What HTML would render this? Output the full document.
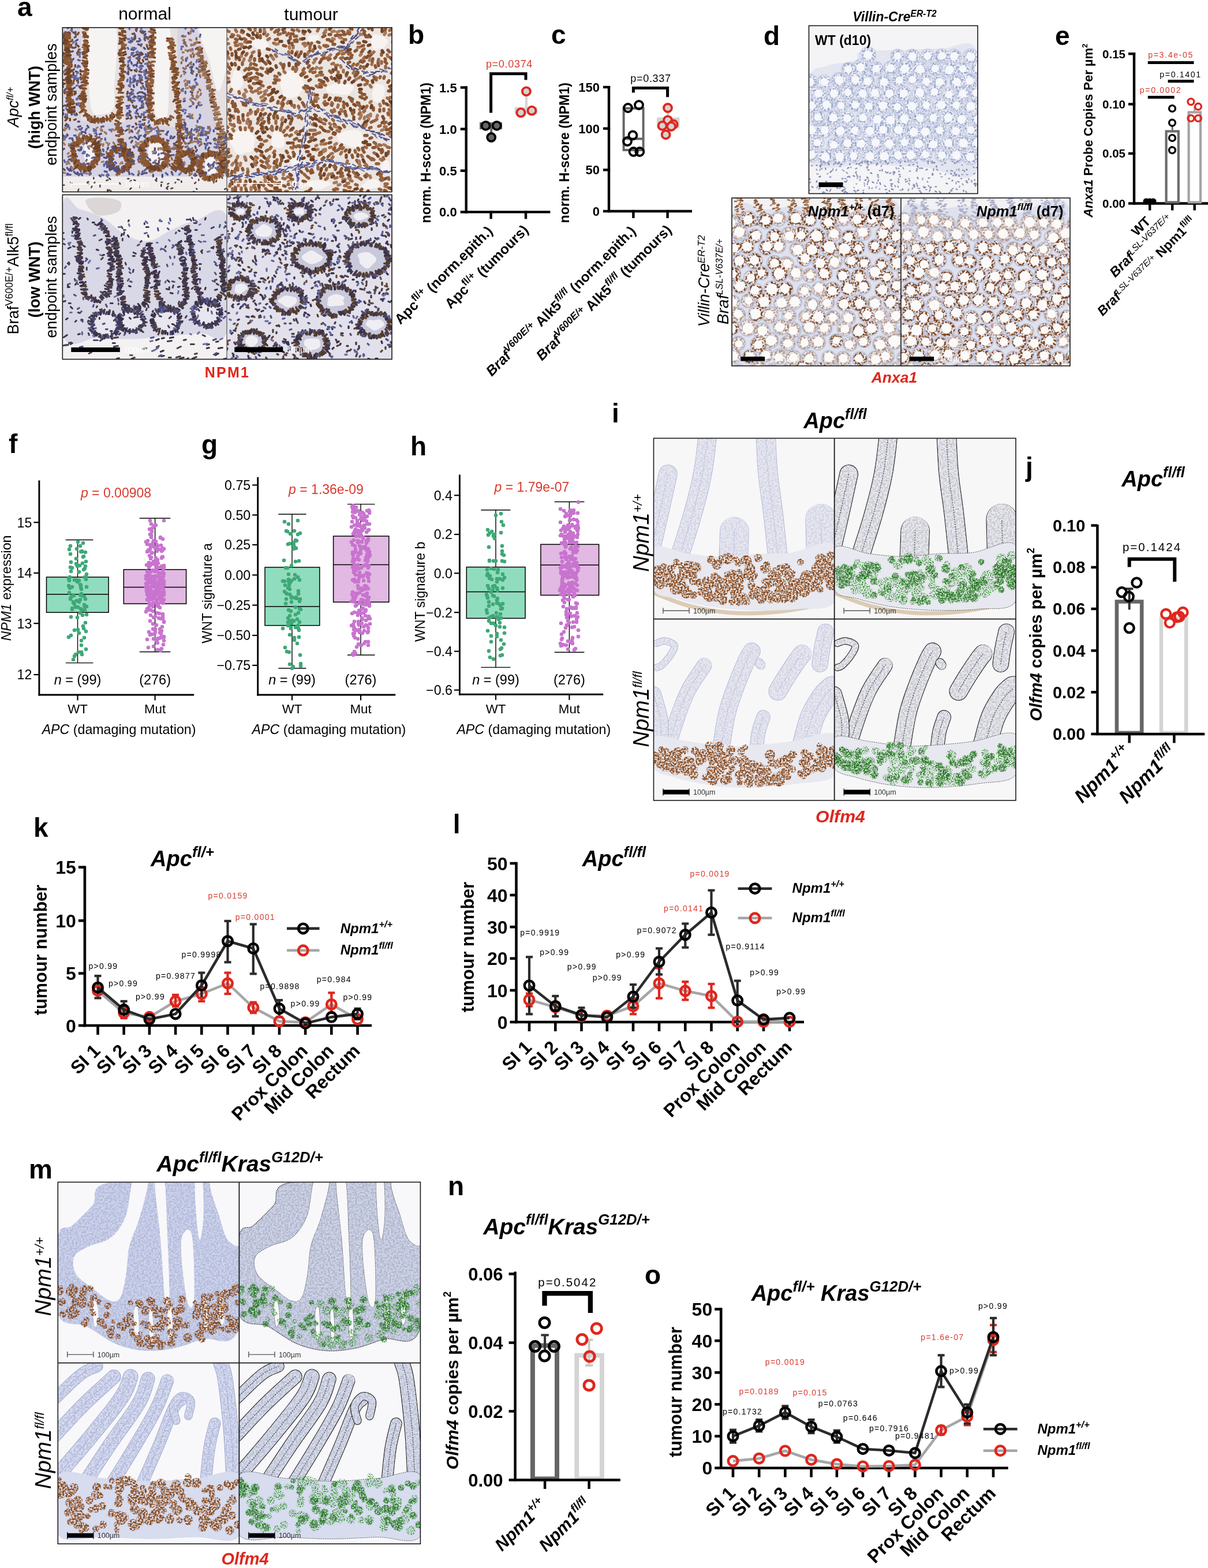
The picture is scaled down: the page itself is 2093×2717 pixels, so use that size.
<!DOCTYPE html>
<html><head><meta charset="utf-8"><title>Figure</title>
<style>
html,body{margin:0;padding:0;background:#fff;}
body{width:2093px;height:2717px;overflow:hidden;}
svg{display:block;font-family:'Liberation Sans', Arial, sans-serif;}
</style></head><body>
<svg width="2093" height="2717" viewBox="0 0 2093 2717">
<defs><clipPath id="cA1"><rect x="108.30" y="47.80" width="284.70" height="284.70"/></clipPath><clipPath id="cA2"><rect x="393.00" y="47.80" width="286.00" height="284.70"/></clipPath><clipPath id="cA3"><rect x="108.30" y="337.50" width="284.70" height="285.00"/></clipPath><clipPath id="cA4"><rect x="393.00" y="337.50" width="286.00" height="285.00"/></clipPath><filter id="spk" x="-0.2" y="-0.5" width="1.4" height="2">
 <feTurbulence type="fractalNoise" baseFrequency="0.32" numOctaves="2" seed="4" result="t"/>
 <feColorMatrix in="t" type="matrix" values="0 0 0 0 0  0 0 0 0 0  0 0 0 0 0  1 0 0 0 0" result="a"/>
 <feComponentTransfer in="a" result="m"><feFuncA type="linear" slope="5" intercept="-2.1"/></feComponentTransfer>
 <feComposite in="SourceGraphic" in2="m" operator="in"/>
</filter>
<filter id="spk2" x="-0.2" y="-0.5" width="1.4" height="2">
 <feTurbulence type="fractalNoise" baseFrequency="0.28" numOctaves="2" seed="9" result="t"/>
 <feColorMatrix in="t" type="matrix" values="0 0 0 0 0  0 0 0 0 0  0 0 0 0 0  1 0 0 0 0" result="a"/>
 <feComponentTransfer in="a" result="m"><feFuncA type="linear" slope="6" intercept="-2.6"/></feComponentTransfer>
 <feComposite in="SourceGraphic" in2="m" operator="in"/>
</filter>
<clipPath id="cD1"><rect x="1401.50" y="44.50" width="292.50" height="291.00"/></clipPath><clipPath id="cD2"><rect x="1268.00" y="343.00" width="293.00" height="291.00"/></clipPath><clipPath id="cD3"><rect x="1561.00" y="343.00" width="293.00" height="291.00"/></clipPath><filter id="spk3" x="-0.2" y="-0.5" width="1.4" height="2">
 <feTurbulence type="fractalNoise" baseFrequency="0.35" numOctaves="2" seed="12" result="t"/>
 <feColorMatrix in="t" type="matrix" values="0 0 0 0 0  0 0 0 0 0  0 0 0 0 0  1 0 0 0 0" result="a"/>
 <feComponentTransfer in="a" result="m"><feFuncA type="linear" slope="4" intercept="-1.45"/></feComponentTransfer>
 <feComposite in="SourceGraphic" in2="m" operator="in"/>
</filter>
<filter id="spk4" x="-0.2" y="-0.5" width="1.4" height="2">
 <feTurbulence type="fractalNoise" baseFrequency="0.5" numOctaves="1" seed="31" result="t"/>
 <feColorMatrix in="t" type="matrix" values="0 0 0 0 0  0 0 0 0 0  0 0 0 0 0  1 0 0 0 0" result="a"/>
 <feComponentTransfer in="a" result="m"><feFuncA type="linear" slope="5" intercept="-2.3"/></feComponentTransfer>
 <feComposite in="SourceGraphic" in2="m" operator="in"/>
</filter>
<clipPath id="cI1"><rect x="1132.50" y="759.40" width="313.20" height="313.30"/></clipPath><clipPath id="cI2"><rect x="1445.70" y="759.40" width="314.30" height="313.30"/></clipPath><clipPath id="cI3"><rect x="1132.50" y="1072.70" width="313.20" height="314.30"/></clipPath><clipPath id="cI4"><rect x="1445.70" y="1072.70" width="314.30" height="314.30"/></clipPath><clipPath id="cM1"><rect x="100.30" y="2048.40" width="314.10" height="313.20"/></clipPath><clipPath id="cM2"><rect x="414.40" y="2048.40" width="314.00" height="313.20"/></clipPath><clipPath id="cM3"><rect x="100.30" y="2361.60" width="314.10" height="313.60"/></clipPath><clipPath id="cM4"><rect x="414.40" y="2361.60" width="314.00" height="313.60"/></clipPath></defs>
<rect width="2093" height="2717" fill="#fff"/>
<g clip-path="url(#cA1)">
<rect x="108.30" y="47.80" width="284.70" height="284.70" fill="#e6e0e0" stroke="none" stroke-width="0" />
<path d="M108.3,47.8 C113.3,19.5 133.0,21.1 138.3,47.8 C143.6,74.5 145.3,179.5 140.3,207.8 C135.3,236.1 113.6,244.5 108.3,217.8 C103.0,191.1 103.3,76.1 108.3,47.8 Z" fill="#d6d3e3" stroke="none" stroke-width="0" />
<path d="M218.3,47.8 C225.3,21.1 251.6,19.5 258.3,47.8 C265.0,76.1 263.3,184.5 258.3,217.8 C253.3,251.1 235.3,249.5 228.3,247.8 C221.3,246.1 218.0,241.1 216.3,207.8 C214.6,174.5 211.3,74.5 218.3,47.8 Z" fill="#d6d3e3" stroke="none" stroke-width="0" />
<path d="M308.3,47.8 C312.8,22.8 330.0,22.8 340.3,47.8 C350.6,72.8 362.3,156.1 370.3,197.8 C378.3,239.5 396.1,279.5 388.3,297.8 C380.5,316.1 335.8,324.5 323.3,307.8 C310.8,291.1 315.8,241.1 313.3,197.8 C310.8,154.5 303.8,72.8 308.3,47.8 Z" fill="#d6d3e3" stroke="none" stroke-width="0" />
<path d="M108.3,212.8 C155.8,200.8 345.8,221.6 393.3,237.8 C440.8,254.0 440.8,297.8 393.3,309.8 C345.8,321.8 155.8,326.0 108.3,309.8 C60.8,293.6 60.8,224.8 108.3,212.8 Z" fill="#d6d3e3" stroke="none" stroke-width="0" />
<path d="M155.3,47.8 C163.0,31.1 193.1,31.1 200.3,47.8 C207.5,64.5 199.0,124.5 198.3,147.8 C197.6,171.1 199.6,179.5 196.3,187.8 C193.0,196.1 184.3,196.8 178.3,197.8 C172.3,198.8 164.3,202.1 160.3,193.8 C156.3,185.5 155.1,172.1 154.3,147.8 C153.5,123.5 147.6,64.5 155.3,47.8 Z" fill="#f6f4f3" stroke="none" stroke-width="0" />
<path d="M270.3,47.8 C274.6,34.5 290.6,31.1 294.3,47.8 C298.0,64.5 293.0,122.8 292.3,147.8 C291.6,172.8 292.6,188.5 290.3,197.8 C288.0,207.1 282.0,204.5 278.3,203.8 C274.6,203.1 270.0,206.5 268.3,193.8 C266.6,181.1 268.0,152.1 268.3,127.8 C268.6,103.5 266.0,61.1 270.3,47.8 Z" fill="#f6f4f3" stroke="none" stroke-width="0" />
<path d="M346.3,47.8 C351.3,37.8 385.5,37.8 393.3,47.8 C401.1,57.8 395.8,89.5 393.3,107.8 C390.8,126.1 383.3,157.8 378.3,157.8 C373.3,157.8 368.6,126.1 363.3,107.8 C358.0,89.5 341.3,57.8 346.3,47.8 Z" fill="#f6f4f3" stroke="none" stroke-width="0" />
<path d="M146.3,252.8 C148.3,247.5 157.5,244.5 160.3,247.8 C163.1,251.1 165.3,267.5 163.3,272.8 C161.3,278.1 151.1,283.1 148.3,279.8 C145.5,276.5 144.3,258.1 146.3,252.8 Z" fill="#f6f4f3" stroke="none" stroke-width="0" />
<path d="M258.3,252.8 C261.3,247.5 274.1,243.6 278.3,247.8 C282.5,252.0 286.3,272.5 283.3,277.8 C280.3,283.1 264.5,284.0 260.3,279.8 C256.1,275.6 255.3,258.1 258.3,252.8 Z" fill="#f6f4f3" stroke="none" stroke-width="0" />
<path d="M356.3,277.8 C358.3,273.5 367.3,270.5 370.3,273.8 C373.3,277.1 376.3,293.5 374.3,297.8 C372.3,302.1 361.3,303.1 358.3,299.8 C355.3,296.5 354.3,282.1 356.3,277.8 Z" fill="#f6f4f3" stroke="none" stroke-width="0" />
<rect x="108.30" y="305.80" width="284.70" height="27.00" fill="#efeceb" stroke="none" stroke-width="0" />
<g transform="translate(108.3,47.8)" fill="none" stroke-linecap="round" >
<path d="M31 74l0 2M11 8l2 2M19 78l0 4M27 90l-2 2M4 9l2 -1M26 31l2 2M32 82l-1 -2M11 127l0 2M21 137l0 2M17 117l-3 -2M4 91l-3 0M22 65l0 3M7 159l-2 2M22 8l-3 1M7 94l2 -2M5 170l2 -3M20 143l-2 2M16 76l-2 0M23 114l-2 1M29 43l-2 -2M11 133l2 0M5 51l-2 1M24 132l1 2M24 149l1 2M30 118l-2 2M4 97l-3 2M20 131l-2 2M3 112l1 2M16 113l0 4M2 44l2 2M14 53l-1 2M32 119l-2 -1M22 113l-1 3M13 158l0 3M29 102l2 3M124 35l0 3M113 111l-1 4M148 116l1 3M143 121l0 4M139 113l3 1M131 56l2 2M137 44l2 2M118 74l2 0M127 166l1 2M111 158l3 -1M148 37l2 0M143 115l1 3M128 47l4 0M139 56l1 3M116 150l2 3M120 112l0 4M134 61l3 1M147 55l-3 0M116 72l-2 0M137 29l-1 3M135 46l3 1M125 74l3 2M141 156l3 -1" stroke="#6e4226" stroke-width="3.4"/>
<path d="M21 17l2 -1M18 106l3 -2M21 86l1 3M15 131l-1 3M16 4l-1 1M31 86l1 4M5 156l3 -1M4 135l2 0M1 148l0 3M2 26l-3 3M2 14l2 3M10 123l1 2M16 42l2 -1M148 100l-1 2M111 136l3 0M117 56l-1 2M123 137l1 2M145 130l0 2M147 92l-1 3M148 79l-1 -2M144 117l-2 -2M135 46l-1 3M147 48l0 3M121 24l-3 -1M121 44l-1 2M130 142l-2 3M115 124l-1 -2M151 169l-3 3M143 7l-2 1M148 44l1 3M145 18l1 -1M130 60l0 2M117 93l1 2M119 113l-3 1M136 96l3 1M115 100l2 2M138 9l2 1M119 60l1 3M150 130l-2 2M141 152l-4 -2M118 123l0 4M144 11l-2 3M125 65l-2 1M129 2l-1 2M144 74l1 4M131 29l3 1M148 88l-3 0M136 169l-2 3M128 136l-1 3M129 97l0 3M121 172l2 0M137 129l2 -2M137 66l2 1M125 89l1 2M128 64l1 3M119 38l3 0M233 81l-1 3M219 183l3 3M231 89l-2 2M226 77l-2 -1M212 127l-2 1M237 68l3 0M233 136l-1 3M217 66l1 -1M225 75l-2 -2M227 63l0 2M215 189l0 3M237 158l1 -2M211 164l2 3M101 219l-3 -1M94 215l1 2M132 253l-1 3M133 190l-2 4M197 244l3 0M207 239l2 2M39 181l1 2M245 224l3 -3M109 200l1 3M79 208l-1 3M246 201l2 2M209 235l-1 2M188 188l-1 4M230 206l1 3M166 236l-4 0M173 255l0 4M135 172l2 2M238 185l4 1M136 170l-2 3M252 238l1 -2M246 221l-4 -2M81 243l1 4M220 200l-3 1M209 194l1 3M271 202l4 0M265 222l-1 4M14 228l-3 1M224 215l-2 1M150 172l-1 3M78 238l-1 4M255 200l2 1M32 249l-2 -3M247 253l-2 3M189 250l1 3M33 208l-1 4M63 197l1 4M230 257l2 -1M28 230l0 4M203 191l-1 3M234 177l-3 0M155 195l-1 2M157 255l0 3M270 196l-1 2M10 169l0 3M15 241l-1 3M181 183l2 -3M271 247l-2 -1M76 226l-4 -1M8 233l0 3M121 181l-1 -2M160 196l0 2M152 193l-2 2M125 189l3 3M206 210l0 3M26 251l1 2M246 186l3 0M271 169l0 4M120 230l4 1M240 248l-3 -1M272 217l2 4M182 220l1 -2M162 216l-1 2M77 232l-2 2M9 253l-1 2M269 208l-3 0M160 247l-4 0M151 228l1 2M114 216l-1 2M278 190l-2 2M116 181l3 -3M62 203l-3 -1M66 258l-2 -2M173 238l0 2M49 253l-2 2M196 249l2 -4M104 251l-4 -2M42 199l0 2M73 249l4 1" stroke="#4c4f86" stroke-width="3.4"/>
<path d="M16 149l0 2M16 59l-2 3M13 129l0 3M29 163l-2 0M4 53l4 0M21 35l-3 0M23 34l-2 1M21 143l0 3M20 72l-3 3M13 85l2 1M0 144l2 -1M6 106l-3 3M25 125l0 -2M2 136l-2 0M27 93l0 3M15 106l-3 1M10 27l-2 -1M12 32l-2 2M26 21l-3 2M24 27l-1 3M23 76l3 1M23 8l-2 1M123 100l1 3M141 120l-2 0M145 101l1 2M112 119l4 1M142 20l1 2M145 76l0 -3M124 10l1 2M149 151l-1 3M123 92l2 1M131 92l-2 1M125 16l-1 3M133 112l-3 2M116 144l1 2M133 24l-4 0M111 151l2 -3M150 174l-4 1M134 119l-3 0M135 47l-2 3M136 43l-2 1M135 91l0 3M144 85l1 2M114 65l-1 3M118 146l-2 0M126 14l0 4M125 37l-2 2M112 79l2 2M131 150l-2 -2M120 156l-2 2M124 119l3 1M134 53l-1 2M114 76l0 3M134 124l2 -2M141 35l2 2M150 105l-2 -1M139 6l-1 3M137 138l-3 2M136 123l0 -3M136 154l-1 2M126 48l-3 2M145 98l3 2M138 112l-3 0M133 154l-2 0M225 68l-4 1M214 54l0 4M225 186l-2 -3M211 169l2 0M216 175l-3 2M218 9l1 2M223 68l1 2M221 189l-1 2M219 154l-3 0M225 80l-2 -2M236 59l3 0M225 113l-3 -2M216 180l0 3M145 222l3 4M141 214l3 -1M193 201l1 2M8 243l2 3M201 188l-2 -3M21 244l-2 2M262 194l2 -2M41 249l-2 1M31 171l-4 1M14 246l-4 0M194 189l-3 3M261 239l-2 -1M33 237l-2 -1M242 183l-2 -1M243 185l-4 2M199 197l-2 2M263 256l-3 -1M233 212l-2 3M181 195l3 1M205 242l-2 1M2 245l2 2M135 222l-3 3M262 178l0 2M102 173l1 3M201 241l-2 4M272 170l2 3M167 231l0 3M90 208l1 4M150 192l-1 2M24 235l-1 2M216 177l-1 3M180 202l0 4M144 185l-2 2M64 185l3 -1M16 248l-4 0M140 253l-3 1M203 193l-3 -3M23 253l3 1M66 193l2 0M112 177l-3 2M33 253l1 3M205 185l1 4M249 251l-1 4M279 217l0 3M3 210l-2 1M27 193l-3 -3M0 186l2 2M283 185l4 -1M240 255l-3 0M46 236l-3 0M261 216l4 0M175 217l2 2M78 222l-1 3M102 221l-3 3M168 239l-3 -1M17 192l1 4M141 188l2 2M285 203l-1 4M282 188l3 2M252 189l0 3M153 245l2 3M223 192l1 3M139 209l2 -1M17 218l3 0M123 206l1 2M27 212l3 1M53 194l0 3M279 211l-2 2M282 218l-2 1M83 238l-4 1M275 189l-1 4M276 243l-3 1M153 175l3 1M8 185l1 2M249 183l0 3M43 170l2 3M99 197l-2 1M121 196l-2 3M229 192l3 1M160 209l0 4M176 228l-4 0M20 250l2 2M116 254l-1 -4M224 176l-1 3M203 217l-2 4M142 252l4 0M194 201l2 3M185 237l1 2M279 191l-4 2M141 188l3 -1M115 246l-3 2M235 197l3 1M145 171l-1 4M53 215l4 -1M254 241l0 -2M187 215l-4 1M33 181l3 0M112 231l1 2M210 238l-1 2M226 239l3 -3M70 211l1 3M225 232l-2 2M88 212l-3 3M64 190l-4 1M254 208l-2 4" stroke="#575073" stroke-width="3.4"/>
<path d="M20 160l3 -1M0 58l2 1M25 44l3 -2M4 155l2 -1M2 66l-2 1M23 111l-3 0M20 91l-1 3M19 54l-3 2M17 21l0 2M7 158l2 -1M1 103l-1 -2M22 10l1 3M8 88l-2 2M8 77l3 -2M16 0l0 3M1 96l1 2M10 16l3 1M15 148l-3 -1M15 32l2 3M28 9l-2 3M30 38l-2 0M142 166l-1 3M135 6l1 2M127 3l1 3M139 160l4 0M146 30l1 4M114 126l2 -1M138 91l-4 0M133 76l4 1M139 101l1 2M145 16l-3 2M137 89l-3 -2M140 138l-2 1M126 19l-2 2M119 107l2 1M121 11l2 0M148 47l2 3M147 17l1 3M119 127l2 3M117 51l-3 1M124 137l-2 -2M131 54l-3 -1M148 137l-1 -2M129 94l0 3M144 94l2 0M134 68l2 0M127 154l1 3" stroke="#7d4c2c" stroke-width="3.4"/>
<path d="M1 46l0 2M16 100l-2 0M8 151l-2 1M12 -1l-3 2M26 47l2 0M28 66l-2 3M27 66l3 2M20 150l3 2M11 28l2 3M12 48l1 3M20 84l4 0M20 88l4 0M18 56l-3 0M11 96l-2 1M5 73l3 0M31 123l-3 0M30 57l-3 -1M14 98l2 1M115 25l3 1M144 46l1 2M114 68l2 3M144 50l-3 2M136 29l0 2M125 127l-3 -1M137 135l2 1M116 149l-2 0M123 44l-3 0M148 63l0 4M134 87l0 3M139 169l-1 -2M136 104l1 2M141 104l2 3M144 86l0 2M116 135l-2 2M115 139l-3 1M117 87l1 3M137 71l-2 2M145 79l-3 3M147 175l2 0M113 90l-1 3M117 118l-1 1M135 163l-2 0M131 51l0 3M120 18l1 3M146 144l2 1M128 43l3 0M135 126l-2 1M133 82l3 1M113 35l1 2M133 19l2 3M134 84l-2 -2M213 78l-3 -2M207 143l2 2M225 104l3 -1M239 12l-1 4M224 189l0 3M225 4l2 3M222 196l0 2M213 111l0 3M238 151l1 2M234 161l0 3M211 24l0 4M209 14l-2 1M239 65l-1 2M209 173l-3 -1M232 70l3 2M206 108l3 -2M235 131l1 3M142 248l3 -3M275 256l3 0M237 172l-3 1M231 228l1 4M46 249l-2 -1M146 194l-4 2M268 244l2 -3M212 171l1 3M272 221l4 -1M282 209l-2 1M20 187l3 0M29 176l3 1M37 215l-2 3M36 245l4 1M273 225l2 1M84 237l4 -2M249 193l0 3M232 224l-1 2M277 231l2 -4M149 240l-2 2M133 223l4 1M79 233l2 3M223 179l-2 3M91 205l1 3M98 177l-2 4M171 179l4 0M136 187l-4 1M139 249l-1 3M279 213l2 4M179 252l3 3M133 226l-2 3M8 172l1 -2M10 255l4 0M230 253l-2 3M68 219l4 1M207 242l3 1M277 241l-3 1M56 226l-3 -1M204 210l2 -3M262 238l-1 3M116 170l-4 1M91 233l2 2M220 221l2 2M239 247l2 2M71 171l-4 1M72 237l0 3M263 233l-2 3M55 225l-4 1M81 233l4 -1M31 253l-3 3M59 184l0 2M40 178l2 -3M243 184l0 3M224 210l-4 2M132 210l3 2M21 227l3 1M272 212l2 3M242 173l0 3M55 195l-4 0M248 206l0 4M116 192l2 -2M274 225l3 0M179 185l2 1M113 230l-4 0M37 235l-3 2M164 247l2 1M75 236l2 2M241 221l-2 3M190 253l1 2M34 174l-2 2M161 234l-4 0M193 221l-4 0M269 205l-3 2M54 176l4 2M166 180l-3 -1M78 254l2 2M267 173l-2 2M203 246l2 -2M70 211l1 2M239 256l3 0M281 191l2 2M282 251l2 1M99 221l3 -2M97 240l0 3M204 194l-2 4M204 182l1 2M252 200l-3 3M3 230l1 3M43 220l-1 3M32 207l-1 3M272 197l-2 3M219 209l-2 1M199 237l2 3M59 203l-2 3M215 206l-2 1M282 201l-1 -4M54 179l4 -1M33 184l-4 1M16 192l-4 0M175 237l-3 1M218 215l-2 1M175 217l-4 1M74 192l0 3M7 188l-1 2M123 255l-3 -2M187 189l2 0M52 241l-2 -4M157 249l-3 1" stroke="#5b5f98" stroke-width="3.4"/>
<path d="M27 131l0 3M24 124l3 -2M8 142l-2 -2M5 150l3 2M20 25l-2 2M30 49l0 2M26 100l-2 1M31 43l-1 3M19 145l1 -3M1 77l2 -1M8 69l3 1M10 76l-4 -1M25 80l2 -2M4 8l-1 2M6 41l-1 -3M28 88l-3 0M29 131l-2 3M15 5l2 2M-1 77l2 1M21 85l-3 1M12 50l-2 2M138 86l-2 2M141 75l0 3M114 153l-3 0M116 0l0 3M113 20l3 0M135 66l-2 3M121 35l2 1M130 41l-2 2M135 67l0 2M143 63l3 -1M121 95l2 0M140 131l0 3M132 168l3 0M123 109l-2 1M125 83l-2 2M138 151l3 -2M124 122l-2 -1M128 149l-2 -1M123 115l-2 -2M150 162l-1 3M128 43l2 -1M118 116l-1 2M117 102l-2 -1M128 72l1 2M114 58l0 3M127 36l-1 1M129 95l3 -1M144 147l-3 0M117 95l1 3M150 17l-1 3M119 47l3 1M130 122l2 2M138 119l0 3M148 113l1 -2M138 132l2 1M137 1l-1 3M123 87l-1 2M148 156l2 1M117 53l-2 -1M125 85l1 -2M145 125l0 -3M148 109l0 3M148 62l-1 3M209 33l-3 0M227 5l-2 1M241 134l-3 1M227 123l-3 -1M221 153l0 4M225 129l2 3M232 60l1 -4M213 181l2 0M218 93l-1 3M225 37l1 2M212 149l1 -2M228 101l-3 1M230 1l3 -1M216 52l0 2M230 102l-2 1M231 95l2 2M215 -1l-2 3M228 186l-3 -1M214 143l-4 -1M220 137l3 -1M220 93l0 3M223 31l3 -1M206 36l0 2M247 184l0 2M218 186l-4 2M63 215l3 1M127 204l4 3M132 233l2 0M205 252l-3 3M116 225l2 1M237 178l-4 1M81 177l3 1M133 178l-2 3M89 222l-2 2M189 209l3 2M236 197l-1 4M283 195l-3 1M121 216l-2 2M199 210l0 3M241 179l3 1M78 259l-2 -3M210 234l-3 0M142 174l0 2M143 200l3 -1M85 180l-2 -3M139 202l-1 3M111 225l-3 3M42 220l4 2M228 236l-1 3M54 198l0 3M256 176l-1 4M220 224l2 4M236 222l-3 -1M158 193l-3 3M10 224l2 -1M69 222l-3 0M61 219l2 0M35 253l3 -4M265 243l2 2M250 181l-3 -1M167 219l-1 2M256 238l0 3M255 246l-2 2M276 180l-1 3M231 226l-1 4M39 215l-1 3M83 234l1 3M251 203l-2 2M145 193l0 3M58 182l-2 1M94 172l3 -1M232 230l-2 0M266 208l-3 -1M71 256l-3 -1M161 217l-4 1M11 235l-2 -3M48 250l-1 4M15 201l-3 4M237 225l-2 -2M245 242l-2 -1M58 177l0 2M42 192l1 3M154 179l-4 2M244 177l1 -3M40 237l-2 3M90 207l1 2M104 235l-2 0M38 252l0 -3M145 176l-2 2M140 219l-2 -3M76 216l1 3M167 181l-3 2M167 178l-1 3M171 246l0 3M59 202l1 3M44 206l2 4M4 192l-4 -1M12 173l0 3M231 175l-3 3M14 204l0 4M5 188l-3 3M257 217l-2 2M164 191l-2 -4M271 220l2 0M37 239l-3 2M161 174l-2 2M264 201l4 2" stroke="#6a6da3" stroke-width="3.4"/>
<path d="M240 114l-1 3M213 15l-4 1M231 125l-3 -2M211 160l-4 -1M235 111l-1 2M227 108l-3 2M207 189l3 1M211 21l-2 1M229 197l4 1M212 123l-2 1M213 97l0 4M238 82l1 4M224 157l2 0M216 93l1 3M210 43l-2 0M226 44l-1 2M220 102l2 2M206 110l3 0M225 151l-1 3M216 97l0 3M206 164l0 4M221 185l3 0M236 183l0 4M236 74l2 3M209 177l1 -3M174 208l0 4M86 176l4 2M139 208l3 -1M81 201l-2 3M203 197l-2 -1M144 171l1 3M260 243l-3 1M132 249l1 4M220 256l4 -3M4 194l-2 1M162 230l-2 1M88 199l2 3M209 206l-2 1M205 211l1 3M136 203l1 2M119 190l3 1M240 198l1 4M197 173l0 2M144 181l4 0M71 202l-1 3M155 195l1 2M67 176l2 3M156 250l-4 0M51 207l-4 -2M223 213l2 -4M73 181l3 3M271 189l2 -4M279 211l0 2M153 176l3 -1M54 212l-1 3M240 233l0 3M229 229l-3 -1M77 218l-1 -3M271 235l-5 0M213 221l-3 2M255 172l-3 3M280 225l1 2M259 215l3 3M11 202l0 3M29 186l-1 2M36 202l3 -2M169 191l-3 -2M7 175l-3 -1M38 240l3 2M110 206l-2 2M155 243l2 -2M95 256l-2 -1M138 198l-3 0" stroke="#9a7256" stroke-width="3.4"/>
<path d="M233 117l-1 4M221 150l-2 0M222 6l0 4M216 40l-3 -1M224 199l3 -1M214 105l3 0M223 1l1 2M221 21l2 1M236 129l2 1M207 54l2 3M233 172l-1 -2M221 124l2 3M206 83l-1 2M236 119l-2 3M236 55l2 1M213 91l-2 2M238 64l0 3M208 51l-2 2M225 30l-2 -1M222 38l3 2M222 41l2 -2M211 81l0 -2M220 62l3 2M214 67l0 4M220 21l3 1M158 215l-2 0M22 176l3 2M61 173l-2 1M211 233l1 3M1 251l4 1M76 199l3 2M178 233l4 2M79 220l1 4M147 220l-4 0M11 217l-2 2M66 176l1 3M162 243l-4 -2M145 172l2 4M284 254l1 3M213 219l-1 3M18 244l-2 -2M217 205l-1 3M213 188l-1 3M30 183l0 2M131 184l-2 -1M64 201l4 1M8 234l-1 3M276 257l-3 -1M281 224l2 1M115 173l0 4M193 206l-1 2M275 255l3 2M242 240l0 3M68 233l3 -1M132 200l0 2M117 179l-1 3M9 235l3 1M174 209l-4 2M4 203l-2 -3M147 184l3 -2M44 207l3 -2M266 227l1 3M281 228l4 0M66 193l0 4M212 201l4 0M268 195l4 1M236 184l-2 4M218 241l2 4M270 205l0 4M171 209l-2 0M63 204l-1 3M44 253l-3 0M103 233l-3 3M210 240l-4 0M37 244l0 4M127 198l3 4M272 226l-2 2M229 230l-2 1M115 239l2 3M166 209l0 3M118 221l-3 2M30 197l-1 -3M181 238l1 3M127 203l-1 3M211 189l-2 2" stroke="#a57d61" stroke-width="3.4"/>
<path d="M206 60l0 2M232 99l2 0M237 107l2 2M222 48l1 3M212 199l1 2M227 131l-1 2M239 75l-1 -1M213 29l2 3M232 18l0 3M224 116l2 3M210 27l3 -1M209 70l3 2M239 172l-1 3M222 104l2 2M229 104l-2 1M234 194l-2 -3M218 184l2 -2M228 47l-1 4M234 180l-2 1M219 39l-2 2M222 62l1 -2M227 76l-2 2M240 194l-2 -1M236 76l0 2M248 183l4 0M235 244l-1 3M203 246l3 2M47 185l3 3M252 172l2 2M170 185l-4 0M237 205l2 -2M168 179l4 0M180 207l3 -1M132 231l1 2M162 238l2 3M196 208l-2 2M42 229l-1 2M220 181l1 3M106 245l3 -2M82 234l4 0M189 226l1 3M105 240l4 0M207 223l-2 2M221 200l2 -4M254 183l-2 -2M4 178l-3 -1M167 226l2 3M219 239l2 0M110 219l-1 3M185 213l2 -2M28 204l0 2M166 176l-2 -4M129 173l-3 3M122 230l1 4M150 175l4 0M62 214l0 4M153 173l-2 2M57 188l3 2M270 192l1 2M266 194l-2 2M98 170l-2 4" stroke="#8c6548" stroke-width="3.4"/>
<path d="M16 270l-2 -2M124 264l2 1M267 265l-1 2M163 261l0 2M119 278l-2 2M283 279l-2 1M78 281l0 2M262 267l0 2M181 277l2 -2M161 264l2 2M231 268l-2 2M232 279l1 1M182 280l-2 -2M81 261l2 2M54 260l0 2M206 268l0 -2M227 284l2 1M171 272l0 3M119 265l-2 2M43 270l3 1M113 262l2 0" stroke="#4a3d3a" stroke-width="2.6"/>
<path d="M76 265l3 -1M3 273l-2 0M99 269l1 2M196 268l-1 1M51 275l-1 2M188 279l3 -1M65 276l0 -3M171 268l2 0M276 259l1 2M133 275l0 2M28 280l-1 3M182 271l2 -1M84 283l-2 -1M236 263l0 2M56 268l-1 2M81 281l-2 2M43 268l2 -1M199 263l3 1M225 261l-1 -1" stroke="#5a4a44" stroke-width="2.6"/>
<path d="M43 -3l-5 -2M41 0l-4 -1M40 10l-4 0M41 14l-4 -1M41 28l-5 2M43 31l-4 1M44 35l-5 -1M45 38l-4 0M39 41l-4 2M45 41l-4 0M39 45l-4 1M42 48l-5 2M43 62l-5 -2M42 63l-4 -2M42 67l-4 1M37 76l-4 0M39 89l-5 -1M37 99l-5 2M40 120l-5 1M41 124l-5 -1M40 127l-5 -2M37 134l-5 -1M35 136l-5 0M46 152l-3 4M46 155l-2 5M50 160l0 4M56 159l-3 5M61 157l0 6M66 158l0 4M69 159l-1 5M71 156l1 6M85 151l3 5M88 150l2 4M107 -1l-3 1M104 -3l-6 0M105 2l-5 0M108 6l-5 0M103 11l-4 0M102 13l-4 -1M110 18l-5 1M108 22l-4 -1M104 25l-5 -1M102 27l-4 1M109 42l-5 2M102 44l-5 1M110 46l-5 2M104 55l-5 -1M105 56l-4 1M103 59l-4 0M106 60l-6 -2M105 72l-5 -2M107 76l-4 0M104 80l-5 0M106 83l-6 0M105 91l-5 0M106 102l-6 0M102 106l-6 0M105 120l-4 0M103 125l-4 1M98 135l-5 1M103 139l-5 -1M99 149l-4 -2M97 175l-4 1M104 179l-5 0M98 188l-5 -1M104 209l-4 2M107 210l-5 2M112 223l-5 2M114 222l-4 5M118 230l-5 2M117 230l-4 1M114 238l-4 2M121 236l-4 4M117 238l-4 4M158 4l-5 -1M160 5l-6 -2M157 13l-5 2M155 17l-4 -1M156 32l-5 -1M160 38l-4 -2M157 41l-6 2M156 46l-3 -1M156 51l-6 0M160 52l-4 -1M153 108l-6 -1M153 112l-5 -1M158 114l-6 0M155 113l-4 0M153 140l-4 0M152 143l-4 1M159 154l-5 1M157 155l-4 4M158 160l-3 1M167 160l1 5M174 160l0 4M179 160l3 3M177 157l4 2M184 158l3 2M187 19l-6 0M192 28l-4 1M192 35l-4 0M194 42l-5 2M195 59l-5 -1M200 71l-6 2M197 74l-5 1M197 88l-5 1M198 87l-5 2M202 95l-5 1M202 106l-4 0M201 117l-6 -1M200 120l-5 0M199 124l-5 1M203 138l-4 1M200 144l-4 1M203 148l-5 0M204 162l-4 0M204 162l-3 2M204 180l-4 2M210 192l-4 -2M211 192l-4 0M201 204l-4 0M204 207l-5 0M204 218l-6 1M198 237l-4 -3M193 244l-4 -3M250 62l-6 1M248 65l-5 2M255 81l-5 1M253 86l-6 1M254 89l-3 2M256 94l-4 0M260 107l-5 3M263 120l-5 1M262 125l-6 1M261 130l-4 0M262 129l-5 1M268 142l-4 0M272 170l-4 0M274 176l-6 0M275 191l-4 -1M278 198l-4 2M279 203l-4 1M280 203l-4 0M276 208l-4 0M279 210l-3 -1M278 213l-5 2M285 230l-4 -1M226 243l-2 -3M223 246l-2 -5M224 249l-4 -4M216 248l0 -4M213 252l3 -5M214 252l2 -5M204 245l2 -3M200 240l5 0M201 237l4 0M196 236l5 0M201 235l6 -2M201 229l5 2M198 226l4 0M199 222l5 1M209 215l1 6M211 216l2 5M218 212l0 4M219 216l-3 3M227 213l-3 5M228 218l-5 2M227 222l-5 1M233 225l-4 0M228 226l-4 1M230 228l-6 2M231 228l-5 1" stroke="#6e4226" stroke-width="3.6"/>
<path d="M42 -5l-4 -1M44 17l-6 -2M44 26l-5 2M42 43l-3 -1M43 49l-5 0M42 66l-6 -1M43 72l-4 0M41 75l-5 1M39 87l-4 -1M37 88l-5 1M41 93l-5 -1M38 106l-5 -2M39 105l-4 1M41 106l-4 0M38 110l-4 1M37 116l-5 -1M38 130l-6 1M37 141l-5 -2M36 142l-3 3M49 157l-1 6M56 154l-1 4M64 159l-2 6M68 159l-1 5M76 153l2 4M80 158l3 4M83 154l3 5M104 1l-6 0M104 10l-6 -1M104 21l-4 -1M106 28l-4 0M108 32l-5 -1M109 36l-4 -1M107 35l-4 -1M107 54l-4 0M106 68l-5 -2M109 77l-4 -1M106 89l-5 1M104 91l-4 -1M101 92l-4 1M103 96l-6 1M106 101l-6 -1M100 106l-6 0M101 112l-4 1M105 130l-4 0M99 128l-4 0M102 132l-5 2M103 143l-4 0M101 145l-5 1M100 146l-4 -2M98 152l-4 1M105 152l-5 0M101 156l-4 0M101 166l-5 0M96 168l-5 -1M98 169l-6 0M102 174l-5 0M98 175l-5 -1M100 181l-4 -1M105 184l-4 1M101 196l-5 -1M105 198l-5 0M101 202l-5 1M112 226l-4 2M112 225l-4 2M116 233l-4 4M159 -3l-5 -1M159 0l-6 -1M158 10l-4 -1M161 9l-4 -1M161 18l-3 -1M158 21l-4 -1M154 24l-4 1M156 44l-6 1M155 60l-4 1M154 76l-4 0M158 80l-5 -1M152 79l-5 -1M154 85l-5 -1M153 90l-4 0M155 90l-5 -1M153 101l-4 0M153 119l-4 -1M156 122l-5 -2M158 130l-5 0M153 136l-4 -1M155 136l-4 -1M151 147l-4 -1M153 150l-4 3M168 163l-2 4M169 159l-1 5M172 158l0 4M178 158l4 2M187 153l5 3M190 19l-5 0M185 21l-4 2M191 25l-6 -1M191 27l-5 0M195 31l-4 -1M192 38l-4 0M188 35l-4 1M195 41l-4 0M190 49l-5 -1M196 59l-5 2M193 62l-4 -1M197 60l-4 2M192 67l-4 2M192 72l-5 0M199 74l-4 1M198 77l-5 0M201 78l-4 1M198 82l-5 0M196 85l-5 1M202 114l-3 1M200 118l-3 -1M204 135l-4 1M205 138l-5 -1M199 146l-4 -1M206 152l-5 0M206 153l-4 1M202 167l-5 0M206 167l-4 0M206 173l-5 0M204 176l-5 2M205 178l-5 0M210 184l-4 0M207 184l-4 2M204 195l-4 -2M207 200l-5 -1M205 203l-5 0M202 219l-4 1M202 223l-5 1M204 226l-5 -1M201 225l-5 1M206 229l-5 -1M201 232l-2 -3M230 232l-5 0M232 236l-4 -2M226 246l-2 -4M220 252l-1 -4M211 251l1 -4M209 249l2 -4M199 224l4 1M202 220l5 3M204 216l4 4M206 218l3 4M208 214l3 5M214 214l0 4M217 215l0 5M222 219l-3 4M227 220l-4 3M229 221l-5 0" stroke="#8a5733" stroke-width="3.6"/>
<path d="M41 -3l-4 1M44 1l-6 0M39 8l-4 0M41 15l-5 1M43 15l-5 2M41 24l-4 -1M43 27l-5 -1M40 35l-5 -1M41 38l-4 0M42 54l-4 -2M43 58l-4 1M45 79l-6 -1M44 81l-6 -1M42 82l-5 -1M39 85l-4 -1M43 96l-4 -1M41 100l-5 1M41 118l-4 -1M36 135l-3 -1M39 137l-6 1M39 143l-5 -2M41 144l-2 3M48 154l-4 2M49 156l-2 6M59 158l0 4M74 158l3 3M86 148l1 5M105 -4l-4 -1M109 14l-6 -1M105 23l-6 -1M110 30l-6 -1M107 31l-4 0M108 37l-4 -1M102 42l-4 0M109 65l-4 -2M104 81l-4 -1M104 89l-4 0M105 121l-4 -1M98 123l-5 -2M102 125l-4 1M98 139l-4 0M99 158l-4 -2M97 170l-4 -1M99 176l-5 0M99 186l-4 1M103 193l-6 1M107 200l-4 0M108 203l-5 3M106 203l-4 2M110 222l-4 1M116 235l-2 3M159 -5l-5 -1M157 -1l-6 0M154 7l-4 0M161 17l-4 -1M154 29l-3 -1M158 29l-5 -1M160 29l-4 1M160 37l-6 1M161 37l-6 0M158 48l-5 1M155 51l-5 0M160 59l-5 0M153 61l-4 -2M158 66l-5 0M157 65l-5 0M155 72l-4 -1M157 91l-5 -2M157 93l-4 -1M157 95l-4 0M152 97l-5 -1M156 97l-4 -1M151 98l-4 0M153 104l-5 -2M154 107l-5 -1M154 120l-5 -1M154 124l-5 -2M151 128l-5 0M154 139l-5 1M154 137l-4 0M157 143l-3 1M156 149l-4 2M162 164l-2 4M159 161l1 4M162 163l1 4M168 161l1 5M179 165l5 4M186 156l2 3M192 21l-3 0M193 26l-5 1M191 32l-5 1M193 40l-5 -1M189 45l-5 -1M194 48l-5 2M190 49l-4 2M191 53l-5 1M195 65l-4 2M195 90l-4 0M197 95l-5 -2M195 95l-4 2M198 103l-5 2M201 110l-5 -1M196 109l-5 -1M198 113l-4 -1M205 127l-5 0M205 143l-6 -2M200 144l-4 2M205 155l-4 2M205 161l-5 -1M205 162l-4 1M206 186l-5 0M205 202l-4 -1M207 208l-4 -1M202 212l-5 -2M201 221l-4 0M202 221l-5 1M198 234l-4 -3M199 237l-3 -2M194 247l-5 -3" stroke="#94603a" stroke-width="3.6"/>
<path d="M40 1l-5 0M42 4l-5 -2M44 3l-4 -1M41 13l-4 0M44 15l-4 1M43 23l-4 -1M46 32l-4 -1M42 43l-5 0M40 51l-4 1M40 59l-5 -2M43 60l-5 -2M38 61l-4 1M41 68l-3 -1M45 74l-4 -1M44 87l-5 -2M42 92l-4 1M39 94l-6 1M44 97l-5 -1M37 106l-4 -1M39 114l-5 -1M39 119l-5 -2M38 122l-6 0M35 123l-4 1M40 128l-5 -1M38 143l-5 1M35 145l-5 2M41 149l-4 4M43 150l-2 3M50 155l1 4M52 159l1 4M57 159l-1 6M59 158l0 4M69 158l3 5M67 160l2 3M70 156l2 5M77 157l0 4M83 152l0 5M104 -5l-5 -1M109 8l-5 -1M108 15l-4 -1M104 20l-5 -2M106 36l-4 1M103 38l-4 1M102 48l-4 0M106 53l-4 -1M107 65l-5 1M104 73l-4 -2M107 77l-5 -1M107 86l-5 0M104 99l-4 0M102 98l-5 1M105 104l-3 -1M102 108l-4 1M105 113l-4 0M100 122l-4 -1M102 132l-5 0M99 135l-5 -1M100 139l-5 0M102 140l-4 1M103 147l-4 1M97 150l-4 1M97 163l-5 -2M105 178l-6 0M103 181l-4 1M105 194l-6 1M102 196l-4 0M104 199l-4 0M109 212l-4 4M109 214l-4 3M107 216l-4 0M108 218l-5 3M109 218l-5 3M107 222l-4 0M113 228l-4 3M115 236l-4 2M158 22l-4 -1M157 24l-5 -1M160 26l-5 0M155 35l-4 0M160 44l-5 -2M159 44l-5 -2M153 67l-5 0M153 69l-4 0M154 72l-4 0M158 75l-4 0M156 82l-5 0M158 85l-5 1M156 101l-3 1M155 109l-4 0M153 112l-4 0M153 118l-5 -1M151 125l-4 -1M153 126l-4 0M153 133l-5 0M158 132l-4 0M158 152l-5 2M155 152l-4 3M157 155l-4 1M164 161l-1 5M175 162l-1 5M178 161l3 5M187 32l-4 2M196 51l-4 2M191 56l-4 -1M193 65l-4 0M197 70l-5 -1M195 77l-5 0M200 82l-4 0M194 85l-4 2M194 94l-4 1M200 99l-5 1M195 102l-4 1M201 112l-5 -1M203 113l-5 2M201 123l-5 3M197 125l-5 3M204 129l-6 2M201 130l-4 1M203 129l-4 1M204 134l-5 1M201 135l-3 2M202 152l-3 2M204 157l-4 -1M202 157l-4 0M202 170l-5 1M209 169l-4 1M207 174l-4 0M207 187l-5 1M203 197l-5 1M207 207l-5 -2M207 208l-5 1M202 216l-4 -1M203 215l-5 0M199 231l-4 -1M199 244l-3 -3M194 240l-4 -4M196 245l-2 -3M193 246l-3 -3M238 26l-6 0M234 35l-3 2M241 40l-4 1M242 36l-5 4M242 54l-4 3M245 60l-4 2M247 73l-5 1M254 75l-5 2M253 83l-4 2M260 117l-4 0M263 137l-5 0M266 135l-4 3M267 147l-4 2M268 149l-4 3M275 158l-5 2M273 174l-4 0M277 178l-4 2M281 182l-4 3M281 201l-4 1M285 214l-4 2M282 225l-4 0M282 226l-4 0M279 231l-4 0M229 233l-5 -2M232 236l-4 -3M229 238l-5 -3M228 239l-5 -1M226 240l-3 -2M228 247l-3 -5M220 249l-1 -6M217 249l1 -6M210 247l3 -3M207 249l3 -2M206 245l3 -2M199 245l5 -2M204 243l4 -3M201 240l4 0M198 235l6 -2M199 230l5 -1M197 226l4 0M205 222l3 2M210 214l2 3M216 214l-1 6M221 213l-2 5" stroke="#7d4c2c" stroke-width="3.6"/>
<path d="M233 25l-5 2M237 45l-4 0M241 52l-3 3M244 52l-4 0M246 75l-4 2M247 79l-4 3M248 83l-5 0M250 85l-3 2M259 97l-4 3M258 117l-3 2M265 124l-4 2M265 144l-4 0M271 146l-5 2M266 150l-4 0M268 155l-5 2M271 164l-4 3M275 166l-5 0M272 170l-5 2M280 181l-6 1M276 193l-4 2M277 200l-5 1M281 215l-5 3M290 230l-5 2M287 237l-5 -1M285 236l-5 2M288 247l-5 2" stroke="#a57d61" stroke-width="3.6"/>
<path d="M231 27l-3 3M239 34l-3 0M238 41l-3 2M236 46l-4 0M244 57l-3 2M249 59l-3 1M249 62l-4 2M248 69l-4 1M254 87l-5 1M253 100l-3 2M255 104l-4 0M257 107l-5 -1M260 110l-4 0M263 115l-4 0M261 124l-5 0M265 130l-4 2M266 133l-3 2M270 140l-5 1M271 138l-5 1M269 159l-5 1M274 158l-4 1M275 164l-5 1M273 165l-3 2M278 171l-5 1M279 176l-4 2M280 187l-4 -1M278 192l-4 1M279 199l-3 -1M285 221l-5 -1M288 231l-4 1M288 241l-4 1M287 244l-4 1" stroke="#9a7256" stroke-width="3.6"/>
<path d="M238 38l-4 0M242 43l-5 1M243 49l-4 1M240 49l-5 0M242 52l-4 3M249 67l-4 1M245 70l-4 1M249 78l-4 2M257 91l-4 1M256 93l-6 1M254 95l-4 0M256 103l-5 3M264 108l-3 2M259 113l-4 3M273 150l-5 1M276 159l-5 0M272 185l-4 -1M275 193l-4 0M280 207l-4 2M279 214l-4 1M281 220l-4 1M285 233l-4 2M286 244l-4 0M284 247l-4 1" stroke="#8c6548" stroke-width="3.6"/>
<path d="M8 9l-5 2M12 12l-6 -1M8 15l-6 -1M8 17l-6 1M9 29l-5 -1M11 32l-6 0M15 30l-5 1M12 44l-6 1M8 46l-7 -2M10 53l-6 -2M13 62l-6 1M13 65l-6 -2M16 67l-5 0M15 85l-5 -2M16 83l-7 0M14 85l-5 0M15 94l-7 -2M13 102l-5 2M12 111l-6 1M14 118l-5 1M13 122l-6 0M15 128l-6 -2M14 134l-5 2M12 134l-5 2M18 138l-5 2M16 141l-7 2" stroke="#7d4c2c" stroke-width="4"/>
<path d="M13 12l-7 2M12 13l-6 -2M13 16l-7 1M13 19l-5 -1M16 23l-6 3M9 30l-5 0M13 34l-5 -1M10 36l-5 -2M12 44l-6 1M12 46l-5 0M8 49l-5 1M13 53l-5 -1M13 55l-7 -2M8 55l-6 1M13 59l-6 3M9 58l-6 0M9 63l-6 -2M16 64l-7 -1M14 69l-5 0M12 72l-7 2M13 74l-5 1M15 76l-4 0M12 97l-4 0M19 97l-7 0M15 99l-5 -1M13 103l-5 -2M13 99l-4 1M15 105l-6 1M17 109l-5 -1M11 111l-6 1M17 115l-7 -1M13 117l-5 -1M14 118l-5 2M14 123l-6 1M11 127l-4 1M18 126l-5 -1M13 127l-6 1M19 129l-6 3M18 143l-6 -2M14 146l-4 1" stroke="#8a5733" stroke-width="4"/>
<path d="M9 23l-6 -1M8 22l-4 -1M7 27l-5 -1M11 38l-5 0M10 36l-5 0M10 39l-6 0M13 41l-6 1M14 48l-7 1M12 72l-4 0M16 74l-6 2M12 78l-5 1M9 79l-5 2M12 79l-7 1M13 85l-5 1M11 89l-5 -1M13 89l-4 1M15 92l-6 2M14 95l-5 1M15 107l-4 0M16 112l-4 1M13 116l-4 1M15 132l-6 1M19 138l-7 1M14 145l-5 -2M16 144l-5 1M20 146l-6 1" stroke="#6e4226" stroke-width="4"/>
<path d="M65 219l-4 -2M62 221l-4 -2M63 224l-4 -3M64 225l-7 0M54 236l-3 -4M56 241l-5 -4M47 248l0 -5M37 244l2 -4M27 243l4 -4M22 232l5 -1M20 230l4 0M15 228l5 -2M20 224l5 -1M16 223l4 0M16 210l4 1M21 199l4 5M29 195l3 4M35 191l-1 5M35 191l1 5M42 188l-2 4M45 190l-2 6M45 191l-3 5M48 192l-3 5M54 193l-3 4M54 193l-3 5M58 193l-5 3M54 200l-3 4M59 206l-5 3M116 238l-3 -2M118 242l-5 -2M109 245l-3 -5M107 247l-2 -5M96 250l1 -6M95 253l0 -5M91 246l3 -5M86 245l4 -2M84 240l6 -2M82 242l3 -3M82 235l6 0M79 235l5 -2M82 233l4 0M81 231l5 -2M82 225l6 3M77 223l6 -1M83 216l4 4M90 212l3 5M88 206l3 3M100 208l-2 5M102 206l-1 4M105 208l-2 4M109 206l-2 5M112 211l-4 3M117 213l-3 2M187 222l-5 -2M183 229l-6 -3M182 231l-3 -3M181 237l-4 -5M179 240l-4 -4M176 239l-3 -4M173 243l-3 -3M169 247l-1 -5M167 248l-2 -5M165 247l-1 -6M157 244l2 -3M151 249l3 -6M145 239l4 -3M146 238l3 -5M138 230l6 -1M139 220l4 -1M133 213l6 1M132 213l6 2M142 204l3 2M143 202l5 3M154 189l2 4M163 192l0 5M174 193l-3 5M173 195l-4 4M173 195l-2 4M177 198l-4 4M181 204l-5 4M182 205l-4 3M182 212l-6 1M186 215l-4 -1M282 241l-5 1M276 254l-4 -4M274 256l-3 -3M273 258l-2 -4M272 260l-2 -6M264 259l-2 -4M263 263l0 -4M262 266l1 -6M253 264l1 -4M245 262l2 -5M237 251l6 -2M235 250l6 -2M235 239l5 1M240 230l5 2M240 225l4 3M244 218l2 5M248 220l3 3M253 214l-1 6M259 216l1 6M278 231l-4 0M277 233l-4 2" stroke="#7d4c2c" stroke-width="3.8"/>
<path d="M61 217l-4 0M64 228l-4 0M63 227l-6 0M63 230l-6 -1M58 235l-4 -5M53 242l-3 -3M37 248l0 -6M30 246l3 -5M26 242l3 -3M21 240l5 -4M24 238l5 -4M21 237l4 -3M22 234l4 -1M17 228l5 -1M14 222l4 -1M17 216l5 3M15 208l5 2M17 204l3 2M20 204l5 2M28 197l2 4M27 190l2 4M29 191l1 4M33 193l2 6M41 191l0 5M49 187l-2 6M50 192l-1 4M54 195l-3 3M63 202l-5 1M61 213l-4 -1M62 215l-4 2M66 215l-5 -1M182 227l-4 -3M185 231l-6 0M184 236l-5 -2M181 235l-4 -3M171 246l-4 -5M163 246l-1 -4M157 247l3 -6M149 245l1 -4M138 236l6 -2M136 231l4 -1M137 228l6 -1M138 223l4 1M135 218l4 0M136 203l4 2M145 201l3 3M142 198l5 3M146 195l2 4M146 194l1 4M147 192l2 4M150 191l0 4M154 194l1 5M157 193l3 6M170 193l-2 5M177 198l-6 2M183 201l-4 3M185 207l-5 3M185 210l-6 2M280 244l-5 -1M277 245l-5 -1M275 255l-4 -4M269 258l-2 -4M268 257l-2 -3M262 267l-1 -6M258 261l1 -5M259 264l0 -6M252 265l0 -6M248 264l1 -4M246 264l1 -4M243 262l3 -5M242 254l4 -3M237 245l4 -1M234 235l5 2M237 232l4 1M233 229l6 1M240 228l4 4M242 219l3 3M247 218l3 5M262 218l-2 4M268 218l-2 5M271 218l-3 4M270 222l-2 4M274 221l-2 4M276 223l-3 3M273 225l-3 2M278 227l-5 3M276 226l-4 4" stroke="#94603a" stroke-width="3.8"/>
<path d="M63 222l-5 -2M58 233l-3 -3M60 233l-4 -4M53 243l-4 -5M49 246l-1 -4M49 244l-4 -4M47 247l1 -6M46 248l-2 -6M43 247l-1 -4M38 249l2 -5M34 245l2 -4M30 245l3 -4M23 243l4 -5M20 235l3 -3M18 220l5 0M17 219l6 0M17 213l5 1M15 209l5 0M15 204l6 1M21 199l3 4M25 198l2 4M36 187l0 4M38 188l-1 4M50 188l-2 6M57 197l-3 3M62 198l-4 4M58 201l-5 1M62 200l-5 4M65 204l-6 3M64 208l-4 0M62 209l-6 1M65 212l-5 2M118 228l-4 0M122 232l-5 -2M115 240l-5 -3M115 243l-3 -3M109 246l-1 -4M107 249l-1 -4M102 249l1 -4M99 251l-1 -6M83 246l4 -2M81 224l4 1M79 218l3 3M92 208l1 6M92 205l0 4M93 208l0 5M96 208l2 5M105 209l-2 4M108 209l-2 4M110 210l-4 5M117 211l-4 2M121 217l-6 1M116 220l-4 1M185 223l-5 -2M175 244l-3 -5M177 242l-3 -4M168 246l-3 -4M160 247l1 -4M162 245l-2 -5M158 246l-1 -5M155 245l3 -4M153 245l1 -6M151 243l4 -3M149 241l3 -5M147 243l3 -3M134 210l6 2M135 213l5 -1M134 208l5 1M142 199l3 6M147 192l1 4M154 192l2 6M177 201l-3 3M185 214l-4 0M278 241l-5 -2M280 244l-4 -2M279 251l-6 -2M267 260l-2 -4M254 263l1 -5M255 265l-1 -5M239 258l5 -3M241 253l4 -1M237 252l5 -3M233 249l4 -2M242 220l2 5M243 220l2 4M254 219l-1 4M257 217l0 5M260 218l-1 4M264 218l0 4M273 217l-3 4M280 231l-5 0M276 236l-6 -1M279 236l-6 1" stroke="#6e4226" stroke-width="3.8"/>
<path d="M62 229l-5 -1M60 237l-4 -5M55 239l-5 -5M54 242l-3 -4M42 248l-2 -4M42 248l-2 -6M35 244l2 -6M31 246l3 -3M29 243l2 -5M15 231l5 0M15 214l6 3M17 215l5 -1M18 200l4 3M23 199l5 2M25 194l3 4M30 193l2 4M37 187l2 5M121 229l-5 -2M117 235l-5 0M124 236l-7 -1M115 239l-5 -3M112 244l-2 -5M112 248l-2 -3M103 248l0 -6M98 254l2 -4M81 237l5 -3M81 226l3 2M81 218l4 3M83 216l3 4M85 212l3 3M83 213l5 3M96 210l-1 4M100 208l1 5M113 212l-3 5M123 220l-6 0M121 224l-5 -1M123 224l-4 -1M180 219l-4 -1M184 220l-4 -1M184 225l-5 -2M183 225l-4 -1M176 237l-2 -4M174 243l-4 -3M145 240l5 -2M141 239l6 -3M141 235l6 -2M142 232l6 -1M137 234l4 -2M135 228l6 -2M140 225l4 -1M137 222l6 -2M140 218l4 0M138 207l4 4M135 205l6 2M139 201l4 3M153 193l1 5M157 188l-1 4M160 188l-2 4M162 191l-2 5M161 190l1 6M166 186l-1 6M168 191l-3 6M166 194l-2 4M170 193l-3 4M175 193l-2 4M182 198l-4 5M181 201l-4 4M181 210l-5 1M280 247l-4 0M276 249l-3 -3M274 250l-5 -3M267 261l-2 -5M251 262l0 -4M247 263l3 -4M240 257l5 -2M233 250l6 -1M237 243l6 -2M236 243l5 -2M233 240l4 2M237 236l4 1M235 233l3 2M237 232l5 2M238 225l5 3M247 222l2 4M250 218l1 6M256 214l-1 4M257 218l1 4M261 215l0 6M268 216l-3 3M283 238l-6 -2" stroke="#8a5733" stroke-width="3.8"/>
<path d="M122 232l-5 0M106 249l0 -4M91 248l4 -3M93 249l3 -3M90 247l3 -4M85 244l4 -5M80 241l5 -2M81 228l5 2M86 207l4 5M101 204l1 6M117 215l-4 3M122 221l-6 0" stroke="#4c4f86" stroke-width="3.8"/>
</g>
<line x1="123.30" y1="318.80" x2="204.30" y2="318.80" stroke="#ffffff" stroke-width="1.6" stroke-linecap="butt" />
<line x1="123.30" y1="313.80" x2="123.30" y2="323.80" stroke="#ffffff" stroke-width="1.6" stroke-linecap="butt" />
<text  x="215.30" y="323.80" font-size="14" font-weight="normal" font-style="normal" fill="#ffffff" text-anchor="start" ><tspan >100µm</tspan></text>
</g>
<g clip-path="url(#cA2)">
<rect x="393.00" y="47.80" width="286.00" height="284.70" fill="#ebe5e2" stroke="none" stroke-width="0" />
<path d="M527.0,147.8 C526.7,153.3 520.7,160.7 517.3,164.2 C514.0,167.8 510.7,168.6 506.8,169.2 C502.9,169.8 496.8,170.1 493.7,167.9 C490.7,165.7 490.0,160.6 488.5,155.8 C487.1,151.0 483.9,144.2 485.2,139.0 C486.5,133.7 492.7,127.1 496.4,124.4 C500.0,121.7 503.1,121.6 506.9,122.7 C510.7,123.9 516.0,127.1 519.4,131.3 C522.7,135.5 527.3,142.3 527.0,147.8 Z" fill="#f6f3f1" stroke="none" stroke-width="0" />
<path d="M610.9,155.8 C609.8,158.3 607.7,161.7 604.8,163.1 C601.9,164.5 598.1,164.3 593.6,164.2 C589.1,164.1 582.2,163.5 578.0,162.6 C573.8,161.8 570.3,161.1 568.2,159.3 C566.1,157.6 563.6,154.3 565.3,152.0 C567.1,149.8 573.9,146.9 578.8,145.7 C583.6,144.5 589.2,144.3 594.6,144.8 C600.0,145.2 608.6,146.4 611.3,148.2 C614.1,150.1 612.0,153.3 610.9,155.8 Z" fill="#f6f3f1" stroke="none" stroke-width="0" />
<path d="M440.5,247.8 C439.9,252.1 438.6,259.8 436.3,262.5 C434.0,265.1 430.9,262.8 426.9,263.6 C422.9,264.5 416.5,269.2 412.3,267.5 C408.1,265.8 404.2,257.5 401.8,253.3 C399.4,249.2 396.4,247.0 397.8,242.5 C399.2,238.0 405.2,229.5 410.1,226.4 C415.0,223.2 422.3,222.0 427.3,223.7 C432.3,225.4 437.9,232.7 440.1,236.7 C442.3,240.8 441.2,243.5 440.5,247.8 Z" fill="#f6f3f1" stroke="none" stroke-width="0" />
<path d="M492.8,243.8 C492.9,246.8 493.0,251.5 491.4,253.5 C489.9,255.5 486.3,255.7 483.5,255.9 C480.8,256.1 477.2,255.3 475.0,254.5 C472.8,253.6 471.0,253.5 470.5,250.6 C470.0,247.7 471.3,240.7 471.9,237.0 C472.4,233.3 472.0,230.1 473.8,228.6 C475.6,227.2 479.7,227.1 482.6,228.3 C485.5,229.4 489.4,233.0 491.1,235.6 C492.8,238.2 492.8,240.8 492.8,243.8 Z" fill="#f6f3f1" stroke="none" stroke-width="0" />
<path d="M627.8,237.8 C628.4,241.6 630.3,247.3 627.7,250.2 C625.2,253.2 617.8,255.8 612.6,255.5 C607.4,255.3 600.8,250.5 596.6,248.6 C592.4,246.7 589.5,246.5 587.5,244.0 C585.5,241.5 582.6,236.5 584.7,233.6 C586.7,230.8 595.0,228.2 599.7,226.8 C604.4,225.4 608.6,224.9 612.6,225.1 C616.7,225.2 621.4,225.5 623.9,227.6 C626.5,229.8 627.1,234.0 627.8,237.8 Z" fill="#f6f3f1" stroke="none" stroke-width="0" />
<path d="M671.7,72.8 C671.2,75.7 666.9,81.1 664.4,83.0 C662.0,84.9 659.4,83.5 656.9,84.3 C654.5,85.1 651.9,88.8 649.7,87.7 C647.4,86.6 644.8,81.1 643.6,77.6 C642.4,74.1 642.0,69.8 642.6,66.9 C643.2,63.9 644.8,61.1 647.3,60.1 C649.7,59.0 654.0,59.7 657.4,60.6 C660.8,61.5 665.2,63.6 667.5,65.6 C669.9,67.6 672.2,69.9 671.7,72.8 Z" fill="#f6f3f1" stroke="none" stroke-width="0" />
<path d="M465.9,77.8 C465.8,79.9 462.7,82.4 460.5,84.1 C458.4,85.8 455.6,88.1 453.1,88.1 C450.5,88.1 447.6,85.6 445.5,84.4 C443.4,83.1 441.9,82.2 440.2,80.5 C438.5,78.8 434.8,76.5 435.4,74.4 C435.9,72.3 440.4,69.4 443.4,67.9 C446.3,66.5 450.1,65.1 453.0,65.7 C456.0,66.3 459.0,69.5 461.1,71.5 C463.2,73.5 465.9,75.7 465.9,77.8 Z" fill="#f6f3f1" stroke="none" stroke-width="0" />
<path d="M420.9,139.8 C421.1,143.2 421.0,146.0 419.7,148.5 C418.4,151.0 415.2,153.7 413.0,155.0 C410.8,156.3 408.8,157.6 406.6,156.2 C404.4,154.7 400.6,150.1 399.9,146.3 C399.2,142.4 401.5,137.1 402.4,133.2 C403.3,129.3 403.6,124.9 405.3,122.7 C407.1,120.5 410.7,119.2 413.0,120.1 C415.2,121.0 417.2,125.0 418.6,128.2 C419.9,131.5 420.8,136.4 420.9,139.8 Z" fill="#f6f3f1" stroke="none" stroke-width="0" />
<path d="M666.4,159.8 C666.1,163.6 664.2,168.0 662.7,170.8 C661.1,173.6 659.3,175.6 657.1,176.4 C654.8,177.3 651.5,177.7 649.4,175.9 C647.3,174.0 644.9,169.2 644.6,165.4 C644.3,161.6 646.5,156.4 647.6,153.1 C648.6,149.8 649.3,146.5 650.9,145.3 C652.5,144.1 654.8,145.7 657.0,146.1 C659.2,146.5 662.7,145.4 664.2,147.7 C665.8,150.0 666.7,156.0 666.4,159.8 Z" fill="#f6f3f1" stroke="none" stroke-width="0" />
<path d="M573.6,319.8 C572.8,321.1 567.7,322.3 564.9,323.7 C562.1,325.1 560.6,327.3 556.9,328.0 C553.1,328.7 545.7,328.8 542.3,327.8 C538.9,326.9 538.4,323.8 536.4,322.1 C534.3,320.4 528.7,319.3 529.8,317.7 C530.9,316.1 538.3,313.1 542.9,312.4 C547.5,311.8 552.8,313.0 557.3,313.5 C561.8,314.1 567.1,314.7 569.9,315.7 C572.6,316.8 574.4,318.5 573.6,319.8 Z" fill="#f6f3f1" stroke="none" stroke-width="0" />
<path d="M658.6,319.8 C658.7,321.5 659.5,322.7 657.4,323.8 C655.3,324.9 649.8,325.5 646.1,326.3 C642.5,327.1 638.8,329.1 635.4,328.4 C631.9,327.7 625.9,323.7 625.3,322.0 C624.7,320.2 630.3,319.0 631.7,317.7 C633.1,316.5 631.5,315.6 633.9,314.5 C636.3,313.3 642.3,310.9 646.2,310.7 C650.1,310.6 655.1,312.0 657.2,313.5 C659.3,315.0 658.6,318.1 658.6,319.8 Z" fill="#f6f3f1" stroke="none" stroke-width="0" />
<path d="M553.7,65.8 C553.6,67.3 552.4,69.0 550.8,70.0 C549.3,71.0 546.7,71.7 544.4,71.9 C542.0,72.0 538.7,71.4 536.8,70.7 C534.8,70.0 533.1,68.7 532.6,67.5 C532.1,66.4 532.9,64.8 533.7,63.7 C534.5,62.6 535.5,61.5 537.3,61.1 C539.2,60.6 542.4,60.8 544.7,60.8 C547.0,60.8 549.5,60.3 551.0,61.1 C552.4,61.9 553.7,64.3 553.7,65.8 Z" fill="#f6f3f1" stroke="none" stroke-width="0" />
<path d="M518.5,279.8 C518.6,280.9 518.3,282.2 517.3,283.1 C516.3,283.9 514.3,284.3 512.5,284.9 C510.8,285.4 508.2,286.8 506.8,286.3 C505.4,285.8 504.7,283.5 504.2,282.0 C503.8,280.6 503.5,278.8 504.1,277.6 C504.7,276.4 506.2,275.1 507.6,274.6 C509.0,274.1 511.1,274.4 512.6,274.7 C514.1,275.1 515.7,275.6 516.7,276.5 C517.7,277.3 518.4,278.7 518.5,279.8 Z" fill="#f6f3f1" stroke="none" stroke-width="0" />
<path d="M674.6,287.8 C674.7,290.1 676.0,292.8 675.1,294.3 C674.3,295.8 671.1,296.0 669.4,296.7 C667.6,297.4 666.0,299.2 664.5,298.4 C663.1,297.5 661.1,293.8 660.6,291.5 C660.0,289.3 660.6,286.9 661.3,284.9 C662.1,283.0 663.6,281.2 665.0,280.0 C666.3,278.8 667.7,277.7 669.3,277.8 C670.9,278.0 673.6,279.1 674.5,280.8 C675.4,282.4 674.5,285.5 674.6,287.8 Z" fill="#f6f3f1" stroke="none" stroke-width="0" />
<g transform="translate(393,47.8)" fill="none" stroke-linecap="round" >
<path d="M-1 112l6 4M2 120l5 2M13 121l4 2M30 125l6 1M37 129l5 1M46 131l4 2M50 131l6 2M58 133l4 -1M70 139l5 -1M73 139l6 0M85 145l6 -1M106 143l6 3M114 148l5 1M130 144l7 0M143 143l5 -4M169 149l5 1M173 152l4 2M180 152l7 0M187 152l7 2M191 161l6 2M193 155l5 5M220 172l5 1M222 171l5 1M232 172l4 3M236 173l4 3M251 179l5 1M252 184l6 2M262 184l4 2M262 183l6 3M281 188l4 3M144 107l-2 6M148 112l-1 5M141 116l1 6M142 119l0 5M144 137l0 4M140 150l0 4M136 158l0 5M131 195l-1 5M130 201l1 7M124 236l0 5M129 241l-3 5M124 249l1 6M123 255l-1 6M125 260l-1 4M80 41l6 1M132 58l6 -4M134 60l6 -2M142 50l4 -2M142 50l5 -2M145 50l5 -2M149 48l6 -4M153 46l5 -5M195 35l7 0M201 41l5 -4M221 18l2 -5M227 4l4 -6M25 255l4 -3M43 254l4 -2M75 251l6 -1M80 255l6 -1M87 251l7 0M101 251l6 -2M104 245l6 -4M106 242l7 1M117 240l5 -2M123 245l4 0M124 242l7 -2M138 239l6 -3M148 236l5 -2M151 233l5 -3M177 228l4 2M177 232l6 0M178 230l7 1M179 232l5 1M201 240l7 3M209 242l6 -1M214 244l5 -1M217 246l7 -1M223 243l5 1M243 246l5 -1M241 243l6 1M254 243l5 2M262 246l6 3M272 249l6 -1M273 251l6 -1M278 251l6 -2M234 75l5 2M280 71l4 0" stroke="#5b5f98" stroke-width="2.2"/>
<path d="M5 116l6 1M30 124l6 0M58 136l5 0M64 131l7 2M76 143l7 1M96 141l4 3M102 144l6 3M102 145l5 1M112 151l5 1M125 143l6 0M142 139l4 -2M151 141l3 3M164 141l6 2M172 147l5 2M182 152l6 2M195 162l6 1M202 159l6 3M213 165l6 4M219 169l4 4M225 168l5 2M256 187l4 4M268 190l5 2M145 124l-1 7M144 141l-3 5M145 163l-2 5M134 171l0 5M120 251l1 5M121 284l-3 5M91 45l6 3M95 46l6 2M111 55l6 3M116 55l6 2M118 56l5 4M137 53l7 -2M166 44l4 -2M169 42l5 0M183 40l6 -3M190 38l6 1M212 25l4 -4M218 27l2 -4M226 17l5 -3M-1 260l4 -2M-1 259l7 -1M32 260l5 0M43 259l5 -1M80 251l4 -2M91 245l5 1M97 246l6 0M110 242l5 0M131 238l4 0M136 242l5 -1M147 239l5 -1M157 237l4 -2M159 235l5 -1M171 232l5 -1M189 233l4 1M229 244l6 3M234 247l4 2M251 246l7 -1M258 246l6 1M240 79l5 -1M242 84l6 0M271 75l6 0M272 76l6 1" stroke="#7c80ad" stroke-width="2.2"/>
<path d="M11 120l5 0M21 121l7 2M24 128l7 2M45 134l4 0M73 139l6 4M81 137l6 2M92 144l5 1M110 147l5 3M124 154l4 -2M133 145l6 -4M134 145l4 -3M149 135l6 0M178 152l4 2M227 166l4 4M235 172l4 2M241 178l7 0M249 180l6 1M258 182l7 0M268 184l5 3M273 192l4 1M272 193l5 3M276 193l5 1M146 120l1 7M141 165l-3 6M137 181l-2 6M132 191l-2 5M137 192l-1 4M136 194l-2 6M128 214l-2 6M127 225l-1 5M131 233l-3 5M124 236l-1 5M123 271l0 7M78 38l4 3M101 45l4 2M112 53l5 4M117 55l6 3M123 60l5 2M140 56l4 -1M150 48l7 -2M155 47l4 -4M158 46l4 -1M166 47l6 -3M180 36l7 0M191 34l4 -2M194 35l7 -1M209 36l4 -4M214 28l3 -3M215 19l4 -5M223 20l4 -3M224 15l3 -5M225 13l3 -6M226 6l2 -4M6 257l5 -1M8 257l7 -1M13 258l5 1M21 260l6 -3M32 256l7 0M39 258l5 0M129 243l6 -2M135 239l6 -2M143 242l4 -2M156 239l5 -3M182 239l5 1M197 238l5 0M206 235l7 1M226 241l4 0M237 239l5 2M247 241l6 0M275 250l6 1M209 64l6 3M213 67l4 3M216 72l5 1M220 70l6 3M222 70l6 3M237 80l6 -4M247 82l6 -1M268 77l4 -3" stroke="#575073" stroke-width="2.2"/>
<path d="M17 122l7 0M33 128l5 4M61 135l7 0M104 147l5 0M118 154l5 -2M125 147l5 -4M162 140l4 4M186 155l7 2M189 153l6 3M201 159l4 3M206 164l3 3M211 160l6 2M216 168l4 4M228 168l6 4M264 188l4 3M144 107l1 7M137 153l-2 5M137 184l-1 5M127 212l-1 4M124 223l-2 6M128 227l-2 4M123 253l-2 4M122 256l1 7M124 266l-2 6M117 270l-1 7M121 275l-2 5M84 37l4 3M106 51l4 1M111 49l3 3M108 53l4 0M163 48l6 -2M171 44l4 -2M174 38l5 -1M178 40l5 -3M197 32l7 1M203 37l6 -1M205 35l4 -3M208 34l2 -6M217 20l5 -4M232 6l3 -4M6 265l6 -3M10 262l6 -3M17 257l6 2M46 254l5 1M52 256l5 -1M56 254l5 1M63 253l7 1M65 253l6 -1M76 251l7 -3M85 253l6 -3M89 247l4 -2M93 249l5 -3M97 250l5 -2M125 239l5 -2M138 234l5 1M161 234l5 0M173 228l5 2M194 234l6 1M205 243l5 0M221 243l7 0M238 244l5 -1M245 243l7 1M259 243l6 3M267 249l4 2M199 56l5 5M207 67l5 4M222 75l5 5M225 75l4 2M250 77l6 1M254 80l4 -2M258 76l7 0" stroke="#4c4f86" stroke-width="2.2"/>
<path d="M22 122l5 0M33 125l6 3M42 129l5 2M50 135l5 1M96 145l5 1M98 143l5 1M108 152l6 3M122 152l4 -2M140 145l6 0M156 145l5 0M175 154l3 3M192 154l4 2M210 161l7 1M218 165l5 2M264 188l3 3M144 115l-1 5M140 128l-2 6M139 134l1 5M139 145l-2 5M143 153l0 5M139 161l1 5M132 174l1 6M139 178l1 5M138 187l-3 6M132 187l1 4M131 221l-2 4M120 243l-1 5M123 259l-1 7M113 275l1 6M83 40l5 5M104 47l5 1M115 55l6 3M138 59l3 -3M147 51l3 -3M210 32l4 -4M212 32l1 -4M14 265l7 -3M19 257l4 0M20 256l6 -2M34 259l5 -3M45 253l7 -2M49 252l7 0M59 251l5 1M68 255l7 1M72 249l7 1M85 249l5 -1M100 241l4 -1M114 247l4 -1M117 245l4 -3M123 241l5 0M144 241l6 0M150 236l6 -2M164 231l5 -1M166 229l6 2M185 233l5 3M187 235l7 1M201 235l6 3M207 241l6 2M218 237l5 3M231 242l5 2M256 243l4 2M234 75l4 3M265 72l5 1M274 71l7 -2" stroke="#6a6da3" stroke-width="2.2"/>
<path d="M4 7l-4 -2M77 3l2 -3M125 6l-3 -2M213 8l-3 -2M282 5l3 -2M12 13l-3 -1M89 12l4 -1M134 11l-2 -2M291 11l3 -1M46 19l-3 -1M131 19l-4 1M81 27l3 1M19 31l-4 0M144 33l0 3M295 33l3 1M149 41l1 -3M238 37l-3 2M203 45l-3 1M197 53l4 -1M239 51l-2 2M263 55l-1 4M41 65l1 -3M95 64l-2 -2M220 63l-2 3M268 59l0 3M275 70l0 -3M119 76l0 -3M193 80l0 -3M285 79l2 -2M87 85l-4 -1M163 82l3 0M288 85l2 -3M259 91l0 -4M164 98l-3 0M171 100l-4 -2M239 99l4 -2M173 117l-3 0M29 117l2 3M40 123l2 3M193 122l-1 4M283 121l3 0M112 132l1 3M117 135l0 3M124 136l1 3M133 134l2 3M243 136l-2 3M183 147l-2 -3M239 144l-2 2M281 142l2 2M229 150l2 -3M37 163l0 -4M185 161l-2 -2M257 161l3 -2M20 164l0 -4M23 165l-1 -3M53 166l2 -4M85 166l0 -4M154 167l-3 -1M170 167l-3 -1M2 173l-3 -2M13 171l-1 -3M32 177l0 -3M79 174l-1 -3M104 174l2 -2M61 179l2 -3M147 178l-3 0M177 180l-3 0M149 190l-4 1M65 197l4 -1M181 191l-3 1M172 201l-4 1M264 203l3 1M111 208l3 1M181 207l-3 1M202 208l-2 2M239 207l3 1M278 207l4 1M50 212l2 2M83 214l-2 3M255 217l4 2M50 224l3 2M59 221l4 1M164 219l-4 2M272 228l-1 -3M32 226l1 4M70 229l2 2M168 226l-3 2M18 235l-1 3M68 233l2 3M14 248l0 3M136 256l-2 -2M222 253l-3 -3M244 256l-2 -2M84 259l2 3M101 262l-4 -1M171 263l3 -2M187 261l4 -1M226 259l-3 -1M233 263l-3 -2M-3 268l-1 3M23 264l0 4M84 269l-4 -1M268 265l3 -1M274 271l4 0M47 273l0 4M112 277l-3 1M204 274l3 0M214 277l-3 0M10 279l0 4M25 278l0 3M67 279l3 3M86 282l-4 1M105 284l-3 0M139 284l-3 1M85 289l-4 1M246 285l-1 3" stroke="#9b6743" stroke-width="5.4"/>
<path d="M17 7l-2 -3M49 5l0 -3M157 6l2 -4M22 15l-3 -1M28 9l-3 -1M53 13l0 -3M69 14l2 -2M168 10l3 -2M71 21l3 -2M3 28l-4 0M34 26l-3 -1M135 27l-3 1M115 35l0 -3M160 33l2 2M230 34l-3 0M47 42l-3 2M108 45l-1 -3M255 42l-2 2M291 37l3 2M1 49l-2 -2M84 47l2 3M167 50l2 -3M278 47l1 3M152 56l3 -2M171 53l4 -1M2 67l-1 -4M182 63l3 -1M188 66l4 -1M252 61l-1 3M73 73l-3 -1M121 73l0 -3M4 79l-2 -2M101 78l-2 -2M133 80l2 -2M202 77l0 -3M219 79l2 -3M3 88l-4 -1M155 84l3 -1M207 84l1 -3M229 87l3 -2M91 91l-4 -1M194 95l0 -4M39 101l2 2M158 103l-3 -2M250 103l-2 -3M53 109l-4 1M58 105l-3 1M42 110l3 2M59 112l-4 2M67 115l-2 1M138 111l3 1M278 122l3 2M65 126l-4 1M96 129l-2 3M107 128l-2 3M170 128l-2 3M182 130l-1 4M189 123l-1 3M96 137l-2 4M175 132l-3 2M193 134l-1 4M53 146l1 -4M187 145l-1 -3M200 145l-2 -3M36 152l1 -3M12 157l-1 -4M60 160l2 -3M123 153l1 3M9 169l-3 -2M180 168l-2 -2M39 173l0 -3M93 175l1 -2M273 172l3 0M12 179l-2 -3M79 178l-3 -3M110 178l3 -1M153 178l-4 0M161 182l-4 1M195 180l-4 -2M3 211l-3 1M77 207l-2 3M259 205l3 3M183 218l-3 1M199 216l-2 3M7 222l-4 2M184 224l-2 3M233 221l2 3M209 231l-1 3M269 230l-3 -2M0 240l-2 3M48 235l2 3M241 237l2 3M180 254l3 -1M65 258l2 3M75 256l3 3M109 259l-4 0M208 270l3 0M217 266l-3 -1M20 270l0 4M274 275l3 1M29 289l1 3M53 288l2 4M205 286l3 2M234 285l-3 3" stroke="#a06e4c" stroke-width="5.4"/>
<path d="M29 7l-3 -2M58 7l0 -3M97 4l3 -2M252 4l-1 -4M64 11l2 -3M240 13l-3 -3M249 16l-3 -3M41 25l-4 0M141 27l-2 2M2 45l-1 -3M16 44l-1 -3M23 37l-3 1M70 37l4 1M245 49l-3 3M22 56l-1 -4M209 53l-4 1M290 53l4 2M120 66l0 -3M139 62l2 -3M161 61l2 -3M86 69l-1 -3M189 73l0 -3M184 76l0 -3M207 81l2 -3M61 83l-3 -2M136 86l3 -1M142 92l3 -2M168 94l-4 -1M204 96l1 -3M211 90l2 -3M235 90l2 -2M282 102l4 -2M141 105l3 0M150 106l-3 -1M157 117l-4 0M125 122l2 2M189 122l-1 3M80 125l-4 2M149 133l3 3M157 135l2 3M208 132l1 3M220 133l3 2M276 132l3 2M5 144l-1 -2M220 147l0 -4M28 154l0 -3M75 150l-2 2M152 151l3 2M196 150l-1 -3M54 159l1 -2M107 153l1 4M113 158l-1 4M146 156l3 3M220 159l0 -4M270 154l2 4M59 169l2 -3M163 163l-3 -1M236 169l3 -3M269 165l3 -2M60 175l2 -3M86 176l1 -4M112 176l3 -2M182 176l-3 -3M197 175l-3 -2M1 180l-3 -1M127 180l4 -2M170 179l-3 -2M188 183l-3 -1M290 181l4 1M8 187l-3 -2M123 185l3 0M146 196l-4 2M168 195l-4 2M138 205l-4 0M180 199l-3 1M199 203l-2 2M56 206l3 1M264 211l2 1M289 210l0 -3M3 216l-3 2M141 215l-3 0M-1 221l-3 3M83 220l-1 4M116 223l1 -4M141 222l3 -2M207 221l0 4M227 220l0 3M83 232l-1 3M60 239l3 2M170 238l-2 2M208 244l-2 3M211 246l1 4M112 256l-3 -2M146 252l-1 -3M192 252l3 -1M228 255l-3 -3M264 251l-3 3M290 249l3 3M163 261l0 -4M274 262l3 -1M9 268l0 3M72 270l2 2M87 278l-4 0M281 278l3 0M15 280l0 4M77 284l-3 0M213 284l-3 1M284 279l2 1M296 281l2 1M157 290l0 4M162 289l0 3M185 288l3 1M222 288l-3 1M239 291l-1 3" stroke="#7d4c2c" stroke-width="5.4"/>
<path d="M41 4l-3 -2M88 7l2 -3M116 5l-3 -1M203 8l-3 -2M217 3l-3 -1M239 7l-3 -3M246 2l-1 -3M274 6l1 -4M294 4l3 -1M98 9l3 -1M115 11l-4 0M177 12l3 0M188 14l4 -1M193 14l4 -1M205 12l-3 0M10 16l-3 0M18 21l-3 -1M58 18l0 -4M84 21l4 -1M110 20l0 -4M121 21l-4 1M166 16l4 -2M174 21l3 0M245 16l-4 0M113 30l0 -3M122 24l-4 0M157 25l3 1M179 23l4 1M184 29l3 0M98 31l4 1M237 31l-3 1M113 44l0 -3M128 45l1 -3M141 43l3 -3M210 42l-3 0M225 39l-3 2M235 41l-2 2M279 39l3 3M9 48l0 -3M43 49l-2 4M76 48l2 2M124 51l2 -4M191 47l3 -2M217 48l-2 2M250 47l-2 2M48 54l0 3M57 54l0 4M164 55l4 -2M187 53l2 -2M216 52l-4 2M233 57l-2 2M253 54l-1 4M274 54l1 2M283 52l3 3M15 65l-1 -3M51 65l-4 -2M68 63l-3 -3M99 67l0 -3M124 64l1 -3M213 60l-3 1M238 58l-3 2M263 66l-1 -4M274 59l3 3M287 63l2 2M292 64l2 4M6 72l-2 -3M38 73l1 -3M43 71l3 -1M53 73l-4 -1M98 71l-1 -4M141 69l2 -3M146 73l3 -2M258 69l-1 -3M35 82l2 -2M39 81l3 -2M55 81l-3 -2M71 79l-3 -2M92 81l-2 -2M128 82l3 -3M161 78l3 -1M225 82l2 -3M41 88l4 -1M53 87l-4 -1M129 83l3 -2M183 89l-2 -3M222 84l2 -3M256 89l-1 -4M4 94l-3 1M32 90l3 -1M86 92l-3 -2M164 92l-4 -1M175 92l-2 -4M279 95l2 -3M84 96l-3 0M136 101l4 1M40 104l3 1M75 103l-3 1M164 103l-3 0M284 107l4 0M292 107l3 -1M76 115l-4 2M230 112l3 1M235 116l4 0M280 110l3 0M79 121l-2 3M100 122l-2 3M172 120l-3 1M212 121l3 2M214 122l4 2M231 120l4 2M242 121l-3 3M292 121l3 1M10 128l-1 3M89 128l-1 3M131 130l2 3M147 129l3 1M197 123l-1 4M202 129l2 3M215 125l2 3M226 130l3 1M271 127l1 4M11 134l0 3M14 132l1 4M28 131l1 3M33 132l0 3M98 132l-1 3M173 132l-3 2M15 145l0 -4M41 146l0 -3M254 139l0 4M265 142l0 3M1 150l-1 -3M50 150l0 -4M64 151l3 -2M205 149l0 -4M207 153l-1 -3M6 161l-1 -3M20 159l0 -4M82 157l-1 -4M88 157l-1 -4M172 161l-3 -2M63 166l2 -3M73 165l-1 -4M95 169l1 -4M110 167l1 -4M188 169l-2 -2M295 164l3 -2M24 177l-1 -4M165 174l-3 -2M283 175l3 -2M285 174l4 -1M276 177l3 0M283 181l4 0M75 190l-3 -2M187 185l-3 -1M239 187l4 0M286 187l4 1M8 192l-3 -1M57 194l3 0M117 194l4 -2M125 196l4 0M248 192l3 -1M292 192l3 1M59 202l3 1M112 200l3 0M123 205l3 0M292 204l3 0M50 211l4 1M142 206l-3 1M187 208l-2 3M227 209l2 3M235 209l1 3M253 208l3 0M292 206l3 0M103 214l2 3M116 219l-1 -3M165 215l-4 2M207 212l-2 2M236 213l2 3M268 217l0 -3M270 215l-1 -4M279 219l1 -4M93 221l2 3M110 226l-3 -3M150 224l-4 1M168 225l-3 3M177 222l-2 2M217 221l1 4M244 223l3 2M288 222l2 -2M3 232l-2 3M16 230l-1 3M50 231l2 3M59 231l3 2M95 227l0 4M225 230l2 3M86 238l1 4M93 235l-1 4M2 247l-1 3M17 242l-2 3M27 244l1 3M54 246l1 4M65 241l2 2M140 248l-2 -3M148 249l-1 -3M189 242l-1 4M199 244l-2 4M2 254l-1 3M9 249l-1 4M130 251l-2 -2M149 251l-3 -3M161 255l1 -3M197 253l3 -1M114 263l-3 -1M241 259l-2 -2M33 266l0 4M48 267l2 3M59 269l1 3M77 262l1 4M92 269l-4 1M136 267l-4 -1M15 276l0 4M101 275l-3 -1M0 281l-2 3M33 279l1 4M93 282l-4 0M146 279l-3 3M185 281l3 0M203 282l4 1M218 284l-3 2M234 280l-2 2M273 282l3 1M48 286l1 3M70 289l1 4M264 289l3 2M284 289l4 0" stroke="#8a5733" stroke-width="5.4"/>
<path d="M65 7l0 -4M170 6l2 -2M182 7l4 -1M191 8l4 -2M234 12l-3 -1M273 12l2 -3M281 13l3 -1M1 20l-3 -1M183 19l3 1M195 17l4 1M291 17l3 -2M26 29l-4 0M85 29l4 -1M287 25l3 0M29 33l-3 0M109 36l-1 -3M138 30l-3 2M120 45l2 -3M200 40l-4 1M25 50l1 -3M139 47l2 -3M178 49l2 -2M233 46l-2 2M4 54l-2 -3M16 55l0 -3M29 57l1 -3M41 55l-2 2M81 55l-2 -3M248 54l-1 3M150 61l2 -2M154 71l2 -2M161 71l3 -1M198 69l-1 -3M33 88l3 -1M53 90l-4 -1M222 91l3 -2M291 101l4 -1M32 108l2 3M69 109l-4 2M30 115l1 4M151 115l-3 1M63 119l-4 2M156 121l-3 1M158 123l-3 0M3 125l-1 3M250 128l-2 2M265 133l1 3M284 135l1 3M295 135l3 2M63 141l-2 2M230 142l2 -3M289 139l3 3M41 149l2 -3M232 155l1 -4M243 154l2 -2M249 150l0 3M261 152l-1 3M283 148l1 4M95 160l2 -4M164 160l-3 -3M230 158l2 -3M238 158l1 -3M245 160l1 -2M284 153l1 4M35 166l0 -3M42 176l2 -2M151 169l-3 -1M190 172l-4 -1M240 171l2 -4M119 182l2 -2M268 178l3 -1M3 193l-3 -1M156 204l-2 1M167 201l-4 1M190 201l-3 2M272 203l3 1M158 211l-3 1M171 211l-4 1M171 213l-3 2M19 223l-1 3M31 224l1 3M74 223l-2 3M47 229l2 3M229 231l1 3M11 235l-2 3M24 235l-1 4M72 239l3 2M229 236l2 3M36 245l1 4M71 241l2 2M82 242l0 3M98 252l0 3M175 257l2 -3M201 263l4 0M214 261l-3 0M249 260l-1 -3M66 264l1 3M110 267l-3 0M186 269l4 -1M287 268l3 0M193 273l3 -1M289 273l3 0M42 277l0 4M56 281l0 3M3 289l-2 4M199 287l2 2" stroke="#a87a5a" stroke-width="5.4"/>
<path d="M83 8l3 -3M104 13l3 -3M121 15l-4 0M213 11l-4 -1M33 21l-3 -2M206 21l-3 0M17 25l-3 1M147 27l-2 3M230 27l-3 0M7 38l-1 -3M168 31l4 2M172 31l3 1M56 40l0 4M35 45l-2 3M214 44l-3 2M268 45l0 3M74 60l-3 -3M176 56l3 -2M27 64l0 -3M227 63l-2 2M31 74l3 -3M62 71l-3 -1M114 72l1 -3M132 74l2 -3M232 67l-1 3M238 71l-1 -3M144 76l2 -3M149 78l4 -1M181 78l-3 -3M265 87l1 -2M272 88l1 -3M60 94l-3 -1M244 93l-4 -2M46 97l3 0M63 101l-3 -1M8 107l-2 4M133 104l3 2M21 111l1 3M67 123l-2 2M152 126l3 2M183 132l-1 3M202 135l1 4M228 134l3 2M20 146l-2 -4M272 141l0 3M218 150l-1 -4M279 148l1 3M29 161l-1 -3M128 155l2 3M41 167l0 -4M250 164l4 -2M273 166l3 -2M204 172l-2 -3M247 174l3 -1M263 171l3 -1M43 179l1 -4M93 178l0 -3M98 181l2 -3M101 187l3 -1M109 188l3 -2M154 185l-4 0M278 184l3 0M255 199l3 2M116 205l4 2M123 205l4 2M196 209l-2 2M71 212l-3 2M191 213l-3 1M222 213l1 3M291 222l2 -3M87 229l-1 4M249 227l2 2M255 229l-3 -2M187 239l-1 3M263 236l-4 0M19 243l0 4M158 245l0 -3M172 247l1 -3M36 250l0 3M268 254l-2 3M142 261l-3 -2M197 258l4 -1M266 263l3 -3M280 260l1 3M15 264l0 3M6 271l-1 4M31 271l0 3M63 271l1 3M78 274l-3 -1M109 272l-3 0M226 273l-3 -1M49 277l1 4M189 279l3 1M264 280l3 1M109 290l-3 2M219 290l-2 2M274 288l3 1" stroke="#94603a" stroke-width="5.4"/>
<path d="M136 7l-4 -1M144 7l-2 -2M178 3l2 -2M269 7l0 -4M39 14l-3 -2M46 12l-1 -3M26 20l-3 -1M53 17l-2 -3M134 19l-3 1M92 24l3 0M108 27l-1 -4M202 26l-3 -1M241 25l-4 -1M33 34l-3 1M41 33l-3 2M152 32l1 4M248 30l-3 1M29 42l-2 2M214 38l-4 1M248 41l-2 2M269 40l2 3M17 52l-1 -4M57 45l-1 4M69 49l2 2M119 48l1 -3M135 50l0 -4M61 54l1 4M9 65l-1 -3M75 62l-2 -2M108 66l0 -4M244 64l-2 3M20 72l1 -3M79 73l-3 -2M76 76l-4 -1M292 77l2 -2M30 86l3 -1M173 89l-3 -2M193 87l-2 -4M197 87l0 -4M38 93l3 -1M189 92l-2 -4M217 95l3 -2M253 95l-1 -3M57 97l-4 -1M228 100l4 -1M82 107l-3 1M230 107l3 0M81 111l-3 2M88 111l-3 2M291 114l3 1M95 119l-3 2M179 122l-2 3M111 128l-1 3M283 128l2 2M237 137l-2 3M251 135l-1 4M215 143l-1 -3M8 154l-2 -2M58 153l1 -4M85 146l-2 3M73 159l-1 -3M156 159l-4 -2M101 163l1 -3M239 164l4 -2M281 167l3 -2M70 176l-2 -3M155 170l-3 -2M51 183l3 -3M63 182l3 -1M54 191l3 -2M143 185l-4 0M154 194l-3 1M240 197l2 1M105 200l3 0M236 199l3 1M244 203l4 0M139 206l-3 2M152 211l-3 0M58 214l3 2M213 212l-1 4M42 224l3 3M64 224l2 2M97 222l1 3M131 227l3 -1M262 223l-2 -3M276 222l0 -4M106 231l-4 1M146 229l4 0M236 229l2 4M43 237l2 4M179 238l-1 3M163 248l1 -4M168 256l1 -3M213 257l-3 -2M71 259l2 4M182 259l3 -2M40 264l1 3M201 267l3 -1M55 273l1 4M226 279l-4 1M245 283l-2 3M65 289l1 4M89 286l-3 1M138 286l-4 1M172 291l1 3" stroke="#6e4226" stroke-width="5.4"/>
</g>
<line x1="409.00" y1="317.80" x2="488.00" y2="317.80" stroke="#ffffff" stroke-width="1.6" stroke-linecap="butt" />
<line x1="409.00" y1="312.80" x2="409.00" y2="322.80" stroke="#ffffff" stroke-width="1.6" stroke-linecap="butt" />
<line x1="488.00" y1="312.80" x2="488.00" y2="322.80" stroke="#ffffff" stroke-width="1.6" stroke-linecap="butt" />
<text  x="499.00" y="323.80" font-size="14" font-weight="normal" font-style="normal" fill="#ffffff" text-anchor="start" ><tspan >100µm</tspan></text>
</g>
<g clip-path="url(#cA3)">
<rect x="108.30" y="337.50" width="284.70" height="285.00" fill="#f3f1f2" stroke="none" stroke-width="0" />
<path d="M108.3,357.5 C113.3,321.7 126.6,359.2 138.3,362.5 C150.0,365.8 165.0,370.0 178.3,377.5 C191.6,385.0 205.0,400.8 218.3,407.5 C231.6,414.2 245.0,419.2 258.3,417.5 C271.6,415.8 285.0,403.3 298.3,397.5 C311.6,391.7 322.5,385.8 338.3,382.5 C354.1,379.2 384.1,345.8 393.3,377.5 C402.5,409.2 400.8,539.2 393.3,572.5 C385.8,605.8 365.8,575.8 348.3,577.5 C330.8,579.2 308.3,580.8 288.3,582.5 C268.3,584.2 248.3,587.0 228.3,587.5 C208.3,588.0 188.3,587.2 168.3,585.5 C148.3,583.8 118.3,615.5 108.3,577.5 C98.3,539.5 103.3,393.3 108.3,357.5 Z" fill="#d9d8e6" stroke="none" stroke-width="0" />
<path d="M148.3,347.5 C150.0,342.5 168.3,342.2 178.3,342.5 C188.3,342.8 204.1,345.3 208.3,349.5 C212.5,353.7 210.0,363.7 203.3,367.5 C196.6,371.3 177.5,375.8 168.3,372.5 C159.1,369.2 146.6,352.5 148.3,347.5 Z" fill="#dcd6d6" stroke="none" stroke-width="0" />
<path d="M158.3,561.5 a24,22 0 1 0 48,0 a24,22 0 1 0 -48,0 Z" fill="#e8e6ee" stroke="none" stroke-width="0" />
<path d="M208.3,555.5 a20,20 0 1 0 40,0 a20,20 0 1 0 -40,0 Z" fill="#e8e6ee" stroke="none" stroke-width="0" />
<path d="M264.3,555.5 a24,22 0 1 0 48,0 a24,22 0 1 0 -48,0 Z" fill="#e8e6ee" stroke="none" stroke-width="0" />
<path d="M334.3,542.5 a24,22 0 1 0 48,0 a24,22 0 1 0 -48,0 Z" fill="#e8e6ee" stroke="none" stroke-width="0" />
<g transform="translate(108.3,337.5)" fill="none" stroke-linecap="round" >
<path d="M20 42l-5 -1M24 41l-5 1M27 74l-5 2M32 80l-4 3M30 81l-4 1M34 86l-6 -1M34 101l-5 0M32 110l-6 1M36 127l-6 0M33 127l-4 0M37 138l-4 2M38 142l-4 0M40 156l-5 2M41 159l-5 -1M38 157l-5 2M40 173l-5 -1M43 176l-2 4M50 175l-4 5M54 180l-4 4M72 174l4 2M80 172l4 -1M80 167l4 0M80 158l6 -1M76 154l5 2M84 145l4 2M79 141l5 1M78 141l6 1M79 131l5 1M83 129l5 0M81 130l6 0M81 119l6 1M80 119l6 1M80 113l4 -1M82 100l6 0M78 91l5 1M75 83l6 0M78 78l4 1M76 72l6 0M75 71l5 1M73 61l4 -3M68 61l4 -2M61 52l3 -3M90 78l-5 3M97 84l-5 -1M98 91l-6 3M95 97l-5 2M97 101l-6 3M98 109l-4 2M97 114l-4 0M99 117l-5 3M102 115l-5 3M100 120l-6 -1M101 130l-4 -1M104 145l-6 -1M102 150l-6 1M104 158l-6 0M105 178l-4 1M106 181l-4 0M109 185l-7 1M107 187l-5 3M114 194l-2 6M122 199l-3 4M124 199l0 6M130 194l3 4M145 181l5 0M145 174l6 -1M141 165l6 2M142 161l5 1M146 142l5 2M143 133l6 -2M140 129l5 0M139 114l4 0M152 87l-5 1M155 104l-5 -1M160 114l-5 2M159 115l-5 1M160 121l-4 2M163 125l-5 0M166 143l-5 1M166 167l-4 0M166 176l-5 0M169 177l-5 2M169 179l-5 2M173 183l-5 3M176 195l-2 5M183 192l0 6M195 199l-2 6M200 198l2 3M202 193l5 2M206 189l3 3M213 182l5 -2M212 169l6 1M212 168l4 -2M209 158l6 -2M212 145l6 0M210 139l4 -1M211 138l4 -2M202 101l5 -3M202 98l4 -2M203 96l4 -1M201 94l4 -2M199 90l6 -2M201 83l4 -1M219 54l-4 1M218 58l-6 2M221 76l-5 0M226 86l-5 2M226 96l-5 -1M226 102l-5 3M229 106l-4 2M229 108l-5 2M229 109l-5 0M230 125l-5 -1M233 127l-5 2M230 144l-4 -1M235 161l-4 0M238 162l-5 3M235 166l-3 2M241 169l-6 1M240 171l-6 -1M240 183l-4 0M239 185l1 6M247 181l1 5M254 187l-2 5M258 185l0 4M260 190l-2 4M269 177l2 4M271 174l4 2M270 173l5 2M278 171l4 4M278 167l5 -1M276 163l5 -1M278 137l6 1M275 122l5 1M276 120l5 -3M271 111l6 1M273 103l3 -2M269 84l5 -3M271 83l5 0M267 81l5 -2" stroke="#5a4433" stroke-width="3.4"/>
<path d="M25 40l-6 -1M27 54l-4 1M29 62l-4 2M30 67l-4 2M29 71l-6 3M29 76l-5 1M33 83l-5 1M32 86l-3 2M32 91l-6 0M34 95l-6 0M32 111l-5 2M33 115l-6 -2M32 137l-4 -1M32 138l-6 -2M34 144l-4 3M33 147l-4 0M35 151l-4 1M40 151l-4 3M40 163l-6 1M53 178l-2 6M57 183l-2 3M65 177l4 5M67 174l4 5M74 172l2 5M76 173l1 4M74 168l3 3M79 168l5 -1M74 163l6 1M81 155l5 -1M78 151l6 -1M81 145l4 1M79 136l4 2M82 121l6 3M79 119l4 -1M84 113l5 -2M83 113l6 0M79 106l5 0M79 106l5 0M81 97l4 -1M75 81l6 1M77 77l5 1M72 64l4 -3M66 58l5 -2M66 55l3 -5M65 49l3 -4M91 77l-5 -1M94 78l-6 1M95 90l-5 0M96 97l-4 0M97 98l-5 1M96 102l-6 1M101 107l-5 1M98 108l-5 -1M103 123l-6 -1M100 132l-4 1M102 138l-6 2M101 166l-5 -1M100 164l-5 1M103 167l-4 0M106 167l-5 2M102 172l-6 2M112 191l-5 0M110 192l-2 4M108 194l-1 5M117 197l-1 5M131 189l4 5M140 188l3 6M145 153l6 0M144 152l4 1M144 149l5 2M143 144l5 -1M145 136l4 -1M145 135l5 -3M146 130l3 -2M142 126l4 -1M138 119l5 -2M136 106l5 -3M152 84l-6 1M154 98l-4 -1M155 98l-5 -1M156 97l-6 3M152 100l-5 1M156 107l-4 1M163 125l-5 2M160 135l-4 2M164 144l-5 -1M165 149l-4 -1M163 150l-4 0M169 171l-4 3M173 180l-6 1M171 186l-3 2M177 186l-4 2M178 198l-2 5M187 196l0 6M193 196l0 5M197 197l1 6M202 190l4 2M210 181l3 2M211 181l5 -1M214 177l5 -1M213 160l5 1M213 161l4 1M211 154l5 -1M208 151l5 0M210 150l5 -2M210 141l4 1M209 137l6 -1M210 127l5 0M205 120l5 0M204 114l4 0M206 108l4 0M201 103l5 0M201 90l4 -3M197 87l5 -1M219 58l-6 0M217 62l-5 -1M222 62l-5 2M221 64l-5 2M223 71l-4 0M220 73l-4 0M223 72l-5 3M223 78l-6 1M225 85l-4 1M228 86l-4 0M227 104l-6 0M228 105l-6 0M232 113l-6 2M233 122l-4 -1M228 130l-5 2M230 133l-5 0M233 141l-4 2M235 146l-6 3M232 149l-6 2M240 172l-5 0M242 181l-5 4M256 187l-2 6M264 185l4 4M276 165l5 0M278 162l5 -1M273 142l6 2M278 134l4 -1M276 131l6 -2" stroke="#3f3a5a" stroke-width="3.4"/>
<path d="M21 43l-4 1M25 48l-6 -1M25 48l-4 2M26 54l-3 2M31 76l-4 0M32 92l-5 -1M32 94l-5 0M33 97l-6 -2M32 100l-6 1M36 125l-5 0M35 124l-6 0M34 145l-6 -1M38 164l-6 0M43 164l-6 2M41 173l-2 4M50 174l0 5M62 183l4 2M70 172l5 3M79 161l6 0M78 160l6 -1M78 94l6 0M76 92l5 -1M77 72l3 -5M71 59l3 -2M67 56l4 -4M66 55l5 -1M92 88l-6 2M94 86l-4 1M97 87l-5 3M98 125l-4 1M100 129l-4 1M102 134l-5 0M100 136l-6 1M100 147l-6 1M104 149l-7 0M104 169l-4 1M108 180l-5 2M120 198l0 5M128 194l2 4M143 184l6 0M145 184l6 2M141 177l6 2M145 177l5 2M144 176l6 2M143 170l5 1M145 171l5 -2M145 166l6 2M145 147l4 1M145 142l6 -2M147 138l6 -1M145 135l5 -1M141 122l6 0M138 102l6 -2M137 102l4 0M137 97l4 0M157 106l-6 -1M159 111l-5 0M159 118l-5 2M159 120l-4 3M164 120l-5 3M163 134l-5 -1M166 142l-5 -1M168 154l-6 2M164 162l-5 1M166 168l-6 -1M166 168l-4 0M166 174l-6 -2M168 171l-4 2M179 194l-5 2M175 197l-1 4M181 197l-2 5M188 198l0 5M193 197l-1 5M198 197l5 3M205 193l3 4M205 187l4 4M207 186l5 4M209 186l4 2M210 184l5 4M208 174l5 -2M212 169l7 1M211 168l6 -2M209 154l6 0M210 146l5 -2M208 141l5 1M207 135l4 -1M212 131l4 0M209 123l5 0M196 87l6 -2M216 56l-4 1M222 81l-4 -1M224 82l-5 0M229 100l-5 0M228 134l-4 1M233 137l-6 2M231 152l-6 -1M235 160l-6 -1M261 191l4 3M259 185l6 3M261 184l4 4M263 181l5 3M272 174l3 4M274 169l4 3M277 158l5 -1M278 154l5 1M278 152l5 0M274 150l6 1M275 146l6 2M276 144l6 -2M275 146l5 -1M277 135l4 0M273 109l5 -2M267 100l7 -1M274 99l6 -1M267 90l5 1M268 92l6 0M270 90l4 0M270 87l4 1M268 85l4 0M271 86l4 -1M270 80l6 -2M270 74l4 0" stroke="#4d3f3d" stroke-width="3.4"/>
<path d="M24 46l-4 2M25 59l-5 3M28 62l-6 0M29 68l-5 3M27 75l-5 1M34 108l-5 -2M34 110l-6 -1M32 116l-6 0M36 116l-4 1M34 130l-6 2M36 133l-6 0M35 142l-6 -1M40 170l-7 0M41 169l-5 1M57 178l-2 5M59 183l-3 3M61 184l4 3M67 176l1 5M77 172l4 4M81 149l5 -1M81 148l5 0M81 138l4 0M78 132l5 -1M83 126l4 1M78 102l6 1M80 100l5 -1M81 96l4 -1M78 80l5 -1M76 66l4 -2M75 65l4 -2M72 66l3 -3M96 98l-5 2M100 105l-5 1M105 127l-6 -2M100 145l-4 1M101 156l-5 -1M105 176l-4 3M106 181l-5 0M106 186l-4 1M107 190l-5 0M115 192l1 6M125 197l5 3M128 196l4 2M138 189l3 4M141 174l6 0M143 161l5 -2M144 153l4 1M144 126l4 0M141 112l5 -1M137 107l4 1M155 92l-5 -1M156 93l-6 3M159 106l-6 0M159 134l-5 1M166 154l-5 2M168 156l-5 -1M173 189l-5 2M176 190l-6 0M179 193l-2 6M182 195l1 5M184 196l-1 6M195 197l5 3M199 197l4 3M204 193l5 3M210 185l4 2M212 173l6 1M209 164l5 -1M213 165l5 -2M207 122l6 -2M203 111l4 -2M203 103l6 -2M202 101l4 -1M202 97l6 0M199 94l6 1M222 81l-6 0M226 90l-5 1M223 93l-4 2M229 113l-4 0M230 118l-4 1M228 126l-5 2M230 134l-6 -1M232 138l-5 1M231 143l-6 -1M232 151l-5 3M234 163l-5 1M237 166l-5 2M243 170l-5 4M240 180l-4 1M241 184l-2 6M242 181l0 5M244 182l-1 5M250 185l-2 4M255 186l-1 4M271 179l3 4M275 130l6 0M273 127l6 1M275 120l4 -1M276 120l5 -3M274 118l6 -1M275 114l5 1M275 111l5 -1M273 107l4 -2M269 96l6 -1M264 78l6 -2M267 76l6 -3" stroke="#463a4c" stroke-width="3.4"/>
<path d="M23 49l-4 2M28 51l-5 -1M29 60l-5 0M24 58l-6 1M27 65l-4 1M27 71l-5 1M34 102l-4 0M31 104l-5 2M35 119l-5 -2M33 120l-4 -1M34 130l-6 -1M35 152l-5 0M37 156l-6 2M42 172l-4 1M46 177l-2 4M58 182l2 4M82 150l4 1M84 127l5 1M85 125l4 -1M86 116l5 0M81 112l5 -3M83 107l4 0M77 86l5 -3M76 72l4 -3M62 52l5 -2M94 75l-4 0M95 80l-5 3M93 86l-6 0M95 93l-6 0M96 106l-5 -1M103 111l-6 2M99 113l-5 1M102 118l-6 2M103 137l-4 0M99 142l-6 0M104 150l-5 -1M105 154l-5 1M102 158l-6 1M99 162l-4 0M102 161l-5 1M100 170l-5 1M109 190l-4 2M109 195l1 5M119 197l0 6M126 194l-1 5M129 201l2 4M133 192l2 5M139 187l5 3M140 186l6 3M142 182l6 -2M143 157l5 0M144 146l5 1M146 140l5 -3M139 121l5 -2M141 119l5 -3M142 114l5 -2M143 109l4 -1M139 99l4 -3M151 85l-6 3M152 88l-5 0M151 91l-4 3M157 102l-4 1M160 109l-6 1M156 113l-6 0M162 125l-4 0M162 131l-4 2M164 139l-5 2M165 139l-5 -1M168 150l-7 0M167 156l-5 2M163 160l-4 -1M176 192l-4 1M178 195l-4 1M211 181l2 4M212 176l4 -2M209 159l5 -2M209 149l6 -3M210 130l6 -1M211 129l6 -2M209 121l5 -1M208 119l4 -2M207 114l5 0M207 115l4 -2M201 83l5 -3M218 60l-5 1M221 75l-5 2M225 83l-6 3M226 98l-5 1M226 95l-6 1M224 99l-4 2M228 112l-4 1M231 114l-6 2M231 121l-5 0M233 148l-6 -1M234 155l-4 0M239 162l-5 3M240 176l-5 1M240 178l-4 2M253 183l-2 6M253 186l-2 4M260 189l4 3M264 183l5 2M268 176l5 4M280 168l4 -2M277 156l6 -3M275 150l5 -1M276 142l6 1M276 140l5 -2M273 136l7 0M273 125l5 1M272 122l6 0M277 115l4 -2M273 105l4 -3M269 97l4 -1" stroke="#3a3147" stroke-width="3.4"/>
<path d="M98 224l-4 1M86 249l-3 -4M80 248l-2 -5M69 249l1 -6M50 235l5 -3M52 233l6 -2M45 231l5 0M49 233l4 -2M47 225l5 1M57 204l1 5M60 204l2 4M71 200l0 6M96 210l-5 1M140 227l-5 -1M137 230l-4 -2M121 238l1 -5M101 208l4 2M140 207l-4 3M204 224l-5 -1M196 238l-3 -4M156 230l4 -4M157 224l4 0M153 222l5 1M153 219l5 1M156 210l4 1M155 208l5 2M168 198l3 4M177 195l-1 4M176 194l1 4M190 195l-1 4M277 208l-5 -1M276 212l-4 -1M237 227l1 -4M227 221l4 -3M224 217l4 0M226 212l5 0M225 209l5 1M225 201l4 2M222 203l5 1M222 197l4 3M228 192l4 3M250 179l1 6M249 183l2 5M257 184l0 5M265 185l-4 4M267 188l-3 5M268 191l-3 4M277 199l-4 2" stroke="#5b5f98" stroke-width="3.2"/>
<path d="M103 226l-5 -2M86 250l-3 -5M79 246l-1 -4M74 246l1 -4M71 247l1 -4M53 237l4 -1M50 229l5 -3M63 204l3 4M70 201l2 4M77 203l-2 4M82 200l-2 3M88 202l-1 4M143 220l-4 -2M144 227l-6 -2M139 228l-5 -2M127 238l-1 -3M116 239l0 -4M105 236l3 -5M96 212l4 3M134 201l-3 2M207 221l-4 -1M200 230l-5 -3M200 238l-2 -5M173 241l1 -5M158 231l5 -2M155 207l5 2M182 196l0 5M183 197l-1 3M192 197l-2 4M204 206l-4 2M206 210l-3 2M266 226l-3 -3M265 226l-1 -4M257 230l-2 -6M257 230l0 -6M249 232l1 -6M228 218l4 -3M224 206l5 0M228 196l4 3M227 194l4 3M242 180l0 6M265 182l-3 4M267 191l-4 2M273 192l-4 2" stroke="#463a4c" stroke-width="3.2"/>
<path d="M103 227l-4 0M99 227l-6 -1M97 237l-5 -3M87 242l-2 -3M77 248l0 -4M78 247l-1 -4M64 246l1 -5M51 239l4 -3M47 219l5 3M50 216l4 4M52 213l4 2M67 202l0 4M98 218l-5 2M103 221l-6 1M142 226l-3 -2M135 236l-3 -5M132 234l-4 -3M109 236l3 -5M102 234l3 -4M106 200l2 3M114 199l0 6M119 197l-1 6M124 199l0 4M129 199l-2 5M143 214l-4 1M204 219l-5 -1M203 227l-3 -3M190 241l-2 -4M187 242l0 -5M179 240l-1 -4M156 223l5 -1M163 202l3 5M161 198l2 5M169 195l2 3M174 196l1 4M194 198l-1 3M198 200l-3 3M203 201l-5 3M204 214l-5 0M272 215l-4 -2M275 218l-4 -2M236 225l2 -3M240 185l2 4M241 179l2 3M252 180l-1 4M257 179l-2 5M262 185l-1 5" stroke="#4c4f86" stroke-width="3.2"/>
<path d="M98 230l-4 0M99 233l-4 -1M86 246l-1 -5M63 246l3 -3M45 223l5 1M50 209l5 3M55 207l4 4M65 199l1 3M82 202l-1 5M89 205l-3 3M98 215l-5 2M96 214l-4 3M137 230l-5 -2M136 234l-4 -2M129 239l-1 -5M127 240l-1 -5M102 234l5 -2M99 228l5 -2M112 199l1 5M115 198l1 3M135 200l-5 3M204 223l-6 -1M200 230l-4 -3M174 241l3 -5M172 240l1 -5M166 242l2 -5M163 237l2 -4M161 235l5 -3M157 228l5 -2M154 227l6 -2M163 200l4 3M190 198l-2 3M193 194l-1 5M202 200l-3 5M205 214l-4 2M272 220l-4 -2M258 227l0 -4M245 230l2 -5M229 224l4 -3M224 207l5 0M225 194l3 2M236 186l3 3M245 182l2 5M272 198l-4 1" stroke="#4d3f3d" stroke-width="3.2"/>
<path d="M102 231l-5 -2M98 233l-5 -1M96 238l-5 -2M95 241l-3 -3M93 243l-2 -3M66 248l0 -4M59 244l2 -3M56 243l4 -3M49 224l4 0M49 215l4 2M57 204l2 5M73 199l-1 5M91 208l-4 2M97 211l-4 3M99 221l-4 1M146 221l-6 0M128 239l-1 -5M116 240l3 -4M100 226l3 -2M97 224l4 -2M96 219l4 1M99 219l3 -1M105 200l2 4M110 199l2 4M137 204l-4 3M139 207l-3 2M144 215l-4 0M208 219l-6 1M202 231l-4 -5M200 233l-2 -5M190 242l-1 -5M167 237l2 -5M158 235l3 -3M153 216l4 -1M166 198l3 3M167 198l2 3M180 197l-1 4M187 196l-2 4M267 222l-3 -3M269 224l-2 -5M260 230l-1 -4M251 229l0 -4M253 227l0 -4M249 231l-1 -4M235 221l2 -3M234 223l2 -3M230 223l3 -4M226 215l3 -2M232 185l3 5M245 181l2 4M264 187l-3 3M276 201l-4 1" stroke="#3f3a5a" stroke-width="3.2"/>
<path d="M73 249l2 -5M58 244l5 -3M57 244l2 -5M54 241l2 -3M48 219l5 1M52 209l3 2M66 203l0 4M80 204l-1 3M98 211l-3 3M141 217l-5 -1M123 238l0 -4M113 237l4 -4M108 239l3 -5M104 235l5 -3M102 230l4 -4M97 215l6 2M99 217l5 -1M100 213l5 2M97 208l4 4M105 203l2 5M142 211l-6 1M140 213l-5 -1M196 237l-1 -4M192 241l-1 -5M178 241l1 -5M153 220l6 0M152 218l6 -1M154 209l5 3M159 205l2 3M187 192l0 5M202 208l-3 3M206 211l-5 2M277 204l-6 1M277 207l-4 -2M275 208l-4 0M270 217l-2 -4M261 224l-2 -3M244 225l1 -4M242 226l2 -4M226 212l4 -2M230 186l3 5M230 189l5 4M239 184l2 5M272 188l-3 5M275 199l-6 0" stroke="#3a3147" stroke-width="3.2"/>
<path d="M69 105l3 -1M33 216l2 1M51 237l-4 -3M203 63l-2 -1M261 91l-3 1M31 40l-3 2M9 156l1 4M125 106l-3 0M64 213l0 2M21 70l3 1M237 201l-2 -3M182 239l0 3M123 100l4 2M239 147l-3 -1M282 181l2 -4M125 207l2 -2M258 186l-2 -1M238 127l0 3M112 196l-4 0M168 133l-1 3M95 104l3 3M59 95l3 1M252 201l0 -4M54 233l-2 -2M248 40l-1 3M103 68l-1 3M22 107l4 3M73 168l-3 1M248 161l-1 3M187 170l4 1M113 70l2 3M14 91l-4 2M242 96l-1 2M241 195l-3 0M157 201l-1 2M14 194l3 3M9 160l3 0M55 48l-3 0M90 238l-1 2M268 104l4 2M185 151l-3 -3M115 158l3 1M190 224l3 1M154 223l4 0M265 278l5 -3M170 272l5 -2M162 252l5 -2M186 248l6 -1M203 284l7 -2M250 266l4 -1M270 266l7 -1M172 249l4 -1" stroke="#3a3147" stroke-width="3.0"/>
<path d="M96 131l-2 3M240 82l-4 -2M45 180l0 2M162 154l2 1M264 151l-4 -2M35 220l-3 -3M116 134l2 2M106 61l3 0M181 121l1 3M186 107l1 3M53 205l4 1M57 70l-3 1M97 188l0 2M194 107l0 2M281 111l-2 -2M265 121l3 2M194 151l-4 -1M33 202l-2 2M117 150l3 1M133 86l-3 2M28 52l-2 1M98 162l-1 3M264 135l2 3M93 89l0 2M275 70l3 -1M213 121l-2 2M197 65l-1 2M172 46l-4 -1M96 180l1 4M115 146l-2 3M98 148l-1 3M169 149l-2 4M36 178l0 3M124 238l3 0M75 190l2 4M52 181l-2 3M57 215l-3 3M20 173l3 2M261 252l5 -2M262 277l5 -3M68 249l3 -2M117 278l4 0" stroke="#575073" stroke-width="3.0"/>
<path d="M104 58l-2 -3M262 90l-1 3M60 193l-1 2M21 90l-3 -1M202 185l-1 4M70 109l-3 3M92 215l-3 3M242 101l-2 -3M164 152l0 4M56 51l4 2M276 134l3 -1M149 73l-1 -3M127 212l-3 1M137 236l3 2M69 170l-3 -2M22 156l3 -4M142 224l-2 -4M68 77l-4 2M99 171l-2 2M103 199l2 1M232 49l-4 0M104 79l0 -3M183 191l1 2M179 89l-1 2M2 66l-2 1M70 201l0 2M267 147l-3 1M68 198l-1 2M36 88l3 2M221 42l2 3M11 117l-2 2M153 85l2 -1M184 282l4 0M199 266l6 -3M222 259l6 0M266 255l4 -1M11 257l4 -1M197 282l7 -2M210 252l4 -1M120 284l5 -2M4 261l6 -1M229 276l4 -1M139 267l7 -1" stroke="#4d3f3d" stroke-width="3.0"/>
<path d="M243 243l4 2M268 224l2 1M262 56l-4 2M42 126l0 4M233 166l2 4M269 178l0 4M24 112l1 3M183 227l2 3M30 205l-3 -1M200 160l3 -1M100 156l-4 -2M214 112l-2 -3M131 212l-3 0M41 110l2 2M185 214l3 -3M107 65l-1 4M209 59l-2 -1M166 136l0 4M180 163l3 1M221 75l-2 3M43 41l1 2M123 130l-1 4M273 99l-2 3M89 72l0 3M171 211l-3 -1M233 61l-3 0M185 160l0 4M17 63l0 3M268 164l-4 1M21 146l1 3M45 240l1 3M153 161l3 -1M71 55l3 -1M83 236l3 0M215 210l-2 3M208 238l-1 2M142 49l0 2M137 235l1 2M11 188l3 0M96 138l-1 3M49 211l-3 2M77 83l0 4M255 230l-3 1M4 137l-3 0M24 218l-2 2M145 56l4 0M27 114l-2 -3M274 158l2 3M232 196l-4 2M116 213l2 2M4 86l-2 -1M208 96l-1 4M9 214l-3 2M2 185l3 -1M89 263l7 -1M215 285l3 -2M171 280l5 -1" stroke="#3f3a5a" stroke-width="3.0"/>
<path d="M12 119l-1 2M149 195l-1 -4M206 90l4 3M216 61l4 -1M215 69l-3 -2M267 154l3 2M156 116l1 4M240 120l-3 0M129 207l1 2M137 80l-2 2M109 118l1 3M115 44l-1 2M282 54l3 2M100 240l-2 2M34 83l-1 4M267 204l1 3M142 96l-2 0M240 178l3 0M273 142l3 2M146 197l-1 3M29 109l-1 3M106 194l-3 2M212 81l4 -1M226 40l1 4M192 157l-1 4M226 161l-2 2M108 176l0 3M87 188l-4 0M282 138l-3 1M73 157l4 2M27 242l3 -1M45 218l-1 2M286 203l-4 -1M202 144l3 2M225 284l7 -3M79 270l6 -1M250 260l4 -1M89 248l7 -1M46 275l4 -2M163 264l4 -2M279 285l7 -2M2 247l6 -4M14 259l3 -2M65 253l6 -4M87 257l4 0M182 254l7 -1M94 284l4 -1" stroke="#463a4c" stroke-width="3.0"/>
<path d="M23 148l2 1M53 244l2 2M221 241l2 1M241 178l-1 -3M191 119l0 2M101 56l-4 0M20 72l-4 -1M237 52l2 -1M94 215l1 2M2 174l0 3M163 83l2 0M226 194l-2 3M169 43l1 3M233 197l-3 1M48 114l-3 4M156 124l1 2M197 232l-4 -1M115 51l1 3M66 58l-3 1M201 167l-1 4M170 204l3 0M184 48l1 2M165 124l3 0M234 241l3 -3M14 83l-4 1M241 226l-3 1M244 81l4 0M238 149l0 4M95 152l4 1M13 204l3 0M235 209l-1 4M65 104l2 1M94 175l-4 2M184 78l2 2M255 98l-4 1M141 214l-2 -2M244 259l7 -1M168 279l4 -1M152 254l4 -1M155 271l5 -2M160 269l6 -4M273 251l4 -2" stroke="#6a6da3" stroke-width="3.0"/>
<path d="M209 133l2 0M59 128l4 -1M87 127l3 2M144 46l3 3M179 150l-1 2M67 42l2 2M0 76l3 1M13 154l-3 1M230 44l3 3M142 67l4 -1M72 53l-2 2M258 202l1 4M17 41l2 1M224 92l1 -2M11 85l1 2M84 85l2 3M124 192l-1 3M263 186l0 2M283 138l1 4M178 196l2 2M228 96l-3 2M214 100l1 3M136 204l3 -2M171 93l-1 2M241 70l4 0M202 89l2 -1M34 238l0 4M175 94l-3 0M279 94l-2 3" stroke="#5b5f98" stroke-width="3.0"/>
<path d="M283 54l-3 3M176 95l3 3M273 52l-1 4M223 215l-3 2M52 225l3 -1M29 196l-3 2M193 89l-2 -2M25 154l2 1M199 201l3 0M282 73l0 3M165 58l1 4M282 47l1 2M115 127l2 3M6 124l-2 3M102 208l-3 -2M107 243l2 -3M42 112l-2 3M282 211l-3 3M266 119l-3 -3M73 223l-3 1M171 192l-3 2M186 41l1 4M208 185l2 1M219 43l-4 0M195 205l-1 2M190 92l2 -2M182 58l2 2M78 233l-3 0M54 191l-1 3M172 195l-3 3M259 231l-2 0M143 92l-3 1M276 196l-2 3M54 252l7 0M167 280l4 -2M30 264l5 -1M153 248l5 -1M-1 262l7 -2" stroke="#4c4f86" stroke-width="3.0"/>
</g>
<rect x="123.30" y="602.00" width="84.50" height="8.00" fill="#000" stroke="none" stroke-width="0" />
<text  x="214.30" y="610.50" font-size="14" font-weight="normal" font-style="normal" fill="#ffffff" text-anchor="start" ><tspan >100µm</tspan></text>
</g>
<g clip-path="url(#cA4)">
<rect x="393.00" y="337.50" width="286.00" height="285.00" fill="#e2e1eb" stroke="none" stroke-width="0" />
<path d="M482.6,399.9 C482.3,404.1 484.5,407.9 482.0,411.8 C479.5,415.7 473.2,422.0 467.6,423.5 C461.9,425.0 453.9,423.0 448.0,421.1 C442.1,419.2 435.3,415.6 432.0,412.1 C428.6,408.6 427.5,404.5 427.9,399.9 C428.3,395.4 430.8,388.7 434.3,384.9 C437.9,381.0 443.9,377.5 449.4,376.9 C454.8,376.3 461.3,379.5 467.1,381.2 C472.9,382.9 481.6,383.8 484.2,386.9 C486.8,390.0 483.0,395.8 482.6,399.9 Z" fill="#c9c9dc" stroke="none" stroke-width="0" />
<path d="M471.6,399.9 C471.3,402.3 469.9,406.7 467.5,408.5 C465.2,410.3 461.1,410.8 457.5,410.7 C453.9,410.7 448.7,409.9 446.1,408.1 C443.6,406.3 441.8,402.3 442.2,399.9 C442.6,397.5 446.2,395.6 448.7,393.7 C451.3,391.7 454.1,388.1 457.5,388.2 C460.9,388.4 466.8,392.4 469.1,394.4 C471.5,396.3 471.9,397.6 471.6,399.9 Z" fill="#efeef3" stroke="none" stroke-width="0" />
<path d="M571.9,445.7 C572.7,450.8 574.9,455.3 571.3,459.1 C567.8,462.8 557.4,465.8 550.7,468.3 C544.1,470.7 537.4,475.0 531.3,473.9 C525.2,472.8 518.7,466.4 514.2,461.7 C509.6,457.0 504.4,451.1 503.9,445.7 C503.4,440.2 506.7,433.3 511.0,429.0 C515.4,424.8 523.2,421.9 530.1,420.3 C536.9,418.7 546.2,418.1 552.3,419.4 C558.4,420.8 563.3,424.1 566.6,428.4 C569.8,432.8 571.1,440.6 571.9,445.7 Z" fill="#c9c9dc" stroke="none" stroke-width="0" />
<path d="M559.8,445.7 C560.1,447.9 556.4,451.3 553.2,453.3 C550.0,455.2 544.3,457.4 540.7,457.6 C537.1,457.8 534.6,456.6 531.6,454.6 C528.6,452.6 522.8,448.6 522.7,445.7 C522.7,442.8 528.3,439.4 531.3,437.5 C534.3,435.5 537.4,433.5 540.7,434.0 C544.1,434.4 548.3,438.2 551.4,440.2 C554.6,442.1 559.6,443.5 559.8,445.7 Z" fill="#efeef3" stroke="none" stroke-width="0" />
<path d="M679.6,449.9 C678.6,456.4 669.4,465.6 664.3,469.7 C659.1,473.7 655.3,473.0 648.6,474.2 C641.9,475.3 631.1,478.1 624.1,476.6 C617.1,475.2 611.6,469.9 606.7,465.4 C601.7,460.9 594.1,455.4 594.3,449.9 C594.6,444.3 602.9,437.3 608.0,431.9 C613.1,426.4 618.3,419.2 624.9,417.2 C631.4,415.2 639.7,417.6 647.2,419.8 C654.8,421.9 664.8,425.2 670.2,430.2 C675.6,435.2 680.6,443.3 679.6,449.9 Z" fill="#c9c9dc" stroke="none" stroke-width="0" />
<path d="M652.2,449.9 C652.2,452.3 649.5,454.3 646.9,456.9 C644.3,459.5 640.2,465.5 636.4,465.6 C632.7,465.6 626.5,459.7 624.2,457.1 C621.9,454.5 623.1,452.7 622.5,449.9 C622.0,447.1 618.3,442.4 620.6,440.2 C623.0,438.1 632.0,436.7 636.4,437.0 C640.9,437.4 644.5,440.2 647.1,442.4 C649.8,444.5 652.2,447.4 652.2,449.9 Z" fill="#efeef3" stroke="none" stroke-width="0" />
<path d="M438.1,499.8 C438.7,503.2 438.6,505.9 436.1,509.3 C433.7,512.7 427.9,519.0 423.4,520.1 C419.0,521.1 414.4,517.3 409.4,515.8 C404.5,514.3 397.2,513.5 393.8,510.9 C390.4,508.2 388.6,503.7 389.1,499.8 C389.6,495.8 393.4,490.0 396.7,487.2 C400.0,484.4 404.7,484.1 409.0,483.0 C413.4,481.9 418.7,479.6 422.7,480.6 C426.7,481.6 430.4,485.8 432.9,489.0 C435.5,492.2 437.6,496.4 438.1,499.8 Z" fill="#c9c9dc" stroke="none" stroke-width="0" />
<path d="M429.2,499.8 C429.1,501.7 425.3,502.6 423.1,504.2 C420.9,505.8 418.5,509.1 415.9,509.3 C413.2,509.6 408.6,507.3 407.1,505.7 C405.7,504.1 406.9,501.7 407.2,499.8 C407.5,497.9 407.4,495.6 408.9,494.2 C410.3,492.8 413.4,491.6 415.9,491.4 C418.4,491.1 421.6,491.2 423.8,492.6 C426.0,494.0 429.3,497.9 429.2,499.8 Z" fill="#efeef3" stroke="none" stroke-width="0" />
<path d="M525.8,520.6 C525.0,525.0 522.7,529.0 519.8,532.6 C517.0,536.2 513.5,540.5 508.5,542.3 C503.5,544.1 495.7,545.1 490.0,543.5 C484.4,541.9 477.3,536.4 474.5,532.6 C471.7,528.8 473.1,524.7 473.1,520.6 C473.1,516.5 471.5,511.6 474.3,507.8 C477.1,504.0 484.3,499.3 489.7,497.9 C495.1,496.6 501.1,498.2 506.9,499.6 C512.6,500.9 521.1,502.6 524.2,506.1 C527.4,509.6 526.5,516.2 525.8,520.6 Z" fill="#c9c9dc" stroke="none" stroke-width="0" />
<path d="M514.4,520.6 C514.3,522.6 513.5,525.5 511.0,527.5 C508.4,529.5 503.1,532.9 499.1,532.7 C495.1,532.5 490.0,528.1 487.1,526.1 C484.2,524.1 481.0,522.7 481.7,520.6 C482.4,518.6 488.2,515.2 491.1,513.8 C494.0,512.4 495.7,512.1 499.1,512.4 C502.5,512.7 509.0,514.2 511.6,515.6 C514.1,517.0 514.5,518.6 514.4,520.6 Z" fill="#efeef3" stroke="none" stroke-width="0" />
<path d="M619.1,520.6 C620.0,526.1 615.9,531.9 611.7,535.8 C607.5,539.7 600.6,542.2 593.9,544.2 C587.3,546.2 579.0,549.7 572.0,547.9 C565.1,546.2 556.3,538.5 552.2,534.0 C548.2,529.4 547.0,525.1 547.8,520.6 C548.5,516.1 552.7,511.4 556.7,506.8 C560.7,502.3 565.8,495.4 571.7,493.2 C577.5,491.0 586.0,492.0 591.8,493.6 C597.6,495.2 602.1,498.5 606.6,503.0 C611.2,507.5 618.3,515.1 619.1,520.6 Z" fill="#c9c9dc" stroke="none" stroke-width="0" />
<path d="M594.5,520.6 C594.5,522.8 597.9,526.4 595.9,527.9 C593.9,529.5 586.9,529.8 582.3,530.1 C577.8,530.5 570.8,531.7 568.4,530.1 C566.1,528.5 567.8,523.2 568.0,520.6 C568.2,518.0 567.3,516.4 569.7,514.5 C572.1,512.7 577.9,509.4 582.3,509.4 C586.8,509.5 594.3,512.9 596.4,514.8 C598.4,516.6 594.6,518.4 594.5,520.6 Z" fill="#efeef3" stroke="none" stroke-width="0" />
<path d="M681.0,562.2 C680.7,566.8 676.8,571.6 672.9,574.9 C669.1,578.1 663.6,580.5 657.9,581.9 C652.3,583.4 644.4,584.8 638.9,583.7 C633.3,582.6 628.1,578.9 624.6,575.3 C621.1,571.7 617.2,566.9 617.9,562.2 C618.5,557.5 624.8,550.9 628.6,547.2 C632.4,543.5 635.9,541.0 640.7,540.1 C645.4,539.2 651.3,540.6 657.0,541.9 C662.7,543.1 670.8,544.1 674.8,547.5 C678.8,550.9 681.4,557.7 681.0,562.2 Z" fill="#c9c9dc" stroke="none" stroke-width="0" />
<path d="M666.0,562.2 C666.0,564.7 661.2,567.0 658.4,568.8 C655.5,570.5 652.0,572.9 648.9,572.7 C645.8,572.5 642.3,569.2 639.8,567.5 C637.2,565.7 634.1,564.4 633.9,562.2 C633.7,560.1 636.0,555.8 638.5,554.6 C641.0,553.4 645.5,555.1 648.9,554.9 C652.3,554.8 656.1,552.7 659.0,554.0 C661.8,555.2 666.1,559.7 666.0,562.2 Z" fill="#efeef3" stroke="none" stroke-width="0" />
<path d="M457.3,591.3 C457.2,595.1 456.8,599.7 454.7,602.7 C452.6,605.7 448.8,608.5 444.7,609.6 C440.5,610.6 434.1,609.7 429.8,608.7 C425.5,607.7 421.7,606.4 419.0,603.5 C416.3,600.6 414.2,595.2 413.6,591.3 C412.9,587.5 412.3,583.5 414.9,580.1 C417.5,576.7 424.3,572.4 429.2,571.0 C434.1,569.6 440.0,570.4 444.4,571.9 C448.7,573.5 452.9,577.1 455.1,580.3 C457.2,583.5 457.4,587.6 457.3,591.3 Z" fill="#c9c9dc" stroke="none" stroke-width="0" />
<path d="M446.7,591.3 C446.3,593.1 445.3,594.6 443.7,596.3 C442.0,597.9 439.1,600.9 436.7,601.2 C434.3,601.5 431.1,599.8 429.2,598.2 C427.2,596.6 425.3,593.6 425.1,591.3 C424.8,589.1 425.7,586.3 427.6,584.6 C429.6,582.9 433.7,581.1 436.7,581.3 C439.7,581.5 444.0,584.1 445.6,585.8 C447.3,587.5 447.0,589.6 446.7,591.3 Z" fill="#efeef3" stroke="none" stroke-width="0" />
<path d="M572.2,595.5 C572.8,599.5 570.5,603.6 567.0,607.6 C563.4,611.5 556.6,617.5 550.8,619.0 C545.0,620.5 537.7,618.5 532.2,616.6 C526.6,614.6 520.7,610.6 517.3,607.1 C514.0,603.6 512.6,599.8 512.3,595.5 C512.0,591.3 512.4,585.6 515.8,581.6 C519.2,577.7 527.3,573.7 532.8,572.0 C538.3,570.3 543.8,569.4 548.9,571.3 C554.1,573.3 559.8,579.4 563.6,583.5 C567.5,587.5 571.7,591.5 572.2,595.5 Z" fill="#c9c9dc" stroke="none" stroke-width="0" />
<path d="M554.9,595.5 C555.0,598.0 554.8,601.0 552.5,602.8 C550.1,604.6 544.6,606.6 540.7,606.2 C536.9,605.8 531.7,602.0 529.4,600.2 C527.0,598.4 526.7,597.4 526.7,595.5 C526.6,593.6 526.6,590.2 529.0,588.7 C531.3,587.2 536.9,586.8 540.7,586.6 C544.5,586.5 549.4,586.1 551.8,587.6 C554.2,589.1 554.8,593.0 554.9,595.5 Z" fill="#efeef3" stroke="none" stroke-width="0" />
<path d="M538.5,366.6 C538.5,369.6 538.9,374.4 536.9,376.5 C534.8,378.6 530.1,378.1 526.2,379.0 C522.2,380.0 517.0,382.7 513.2,382.1 C509.4,381.4 505.0,377.8 503.3,375.2 C501.6,372.7 503.4,369.5 503.3,366.6 C503.1,363.8 500.6,360.4 502.4,358.0 C504.2,355.6 510.3,352.8 514.1,352.2 C517.9,351.6 521.4,353.2 525.2,354.3 C528.9,355.3 534.2,356.3 536.4,358.4 C538.7,360.4 538.4,363.6 538.5,366.6 Z" fill="#c9c9dc" stroke="none" stroke-width="0" />
<path d="M526.5,366.6 C526.6,368.5 526.2,371.5 525.1,372.3 C524.0,373.1 521.9,371.6 519.9,371.5 C517.9,371.4 514.9,372.7 513.0,371.8 C511.2,371.0 508.7,368.3 508.7,366.6 C508.7,365.0 511.1,362.8 513.0,361.8 C514.8,360.8 518.0,360.9 519.9,360.7 C521.9,360.6 523.4,359.9 524.5,360.9 C525.6,361.9 526.4,364.7 526.5,366.6 Z" fill="#efeef3" stroke="none" stroke-width="0" />
<path d="M647.1,375.0 C646.2,378.3 643.5,382.2 640.7,385.2 C637.9,388.3 634.5,392.3 630.5,393.2 C626.5,394.2 620.6,392.3 616.7,390.9 C612.8,389.6 610.1,387.6 607.1,385.0 C604.1,382.3 599.0,378.3 598.7,375.0 C598.4,371.6 602.1,367.5 605.2,364.7 C608.4,361.9 613.1,359.3 617.5,358.1 C622.0,357.0 627.1,356.6 631.9,357.7 C636.6,358.9 643.6,362.2 646.1,365.1 C648.6,368.0 648.0,371.6 647.1,375.0 Z" fill="#c9c9dc" stroke="none" stroke-width="0" />
<path d="M638.6,375.0 C638.0,376.6 632.3,378.7 629.9,379.8 C627.4,381.0 626.0,381.4 624.0,381.7 C622.0,381.9 619.7,382.4 617.9,381.3 C616.0,380.1 613.1,376.7 612.7,375.0 C612.3,373.2 613.5,372.0 615.4,370.8 C617.3,369.6 621.0,367.9 624.0,367.8 C626.9,367.6 630.9,368.7 633.3,369.9 C635.7,371.1 639.1,373.3 638.6,375.0 Z" fill="#efeef3" stroke="none" stroke-width="0" />
<path d="M434.5,366.6 C434.7,369.2 431.9,372.3 429.6,374.7 C427.3,377.1 424.0,379.9 420.8,380.9 C417.5,382.0 413.3,382.0 410.1,380.9 C406.9,379.7 403.1,376.6 401.7,374.2 C400.2,371.8 401.2,369.3 401.2,366.6 C401.2,364.0 400.3,360.1 401.7,358.1 C403.2,356.2 406.7,355.8 410.0,355.1 C413.2,354.4 418.1,353.2 421.2,353.9 C424.2,354.5 426.1,357.0 428.3,359.1 C430.6,361.2 434.3,364.0 434.5,366.6 Z" fill="#c9c9dc" stroke="none" stroke-width="0" />
<path d="M423.3,366.6 C423.1,367.8 423.3,369.2 422.1,370.1 C420.9,370.9 417.8,371.3 415.9,371.5 C414.0,371.8 412.0,372.2 410.9,371.3 C409.8,370.5 409.2,368.1 409.3,366.6 C409.5,365.1 410.7,363.3 411.8,362.4 C412.9,361.6 414.0,361.5 415.9,361.6 C417.8,361.8 421.9,362.5 423.2,363.3 C424.4,364.2 423.4,365.5 423.3,366.6 Z" fill="#efeef3" stroke="none" stroke-width="0" />
<g transform="translate(393,337.5)" fill="none" stroke-linecap="round" >
<path d="M93 64l-3 -1M90 65l-3 0M92 69l-3 -1M92 72l-3 -3M89 73l-3 -1M78 81l-3 -4M75 85l-2 -3M64 83l0 -4M52 86l0 -5M47 84l2 -3M45 45l3 4M56 42l2 3M88 47l-3 2M157 136l-2 -3M131 132l2 -3M130 128l2 -4M119 122l4 -1M114 107l4 1M113 105l4 0M128 86l0 4M163 87l-1 4M281 123l-3 -1M269 136l-1 -3M238 143l0 -3M235 141l2 -5M206 113l5 0M211 97l3 1M221 87l2 4M237 81l1 3M251 84l0 5M271 91l-3 3M279 106l-5 1M281 109l-5 2M49 170l-5 -1M44 172l-3 -3M27 181l1 -5M8 178l1 -4M1 165l5 -1M0 159l4 3M2 159l5 2M0 154l3 2M4 151l2 4M9 149l1 4M27 141l0 4M29 143l0 5M45 156l-3 2M130 194l-3 -2M125 200l-3 -2M112 203l-2 -5M109 206l1 -5M106 208l0 -4M87 202l3 -4M86 199l3 -4M74 181l4 2M81 177l4 3M81 168l3 3M87 169l3 3M86 164l1 3M97 159l0 5M120 159l-1 5M123 163l-2 3M132 166l-3 4M215 198l-4 -3M213 204l-3 -2M209 202l-3 -3M162 202l3 -3M162 197l3 -3M157 180l3 1M167 165l3 4M187 158l1 5M192 154l0 5M212 164l-3 2M283 227l-3 -2M279 239l-2 -3M225 232l3 -1M228 220l4 1M232 213l3 3M237 212l4 2M236 204l3 3M282 218l-4 0M283 216l-3 1M284 221l-4 0M66 265l-3 -3M51 274l0 -3M43 273l1 -4M32 268l1 -4M29 267l3 -2M19 259l5 1M20 253l5 0M21 252l4 0M20 248l4 2M66 245l-4 1M69 248l-5 0M177 262l-4 -3M173 266l-2 -3M168 274l-2 -5M161 280l0 -4M158 279l-3 -4M146 282l0 -3M133 277l2 -3M117 261l4 -1M117 256l5 0M124 240l3 3M129 238l1 5M136 239l2 3M171 247l-4 3M173 252l-5 1M146 37l-3 -1M140 41l-2 -3M133 42l0 -5M121 46l2 -3M113 43l4 -3M104 32l4 -1M105 26l5 1M122 17l0 3M252 48l-4 -3M249 47l-3 -3M242 54l-2 -4M236 54l0 -5M235 54l-1 -3M227 55l1 -4M211 31l3 2M216 22l2 5M222 21l2 3M231 22l-1 4M245 19l-3 4M247 24l-3 2M39 36l-5 -2M25 42l0 -3M20 43l2 -3M13 43l2 -3M7 37l4 -1M5 22l3 3M22 14l-2 5M26 17l-1 4M41 22l-4 2M41 27l-4 0" stroke="#6a4a35" stroke-width="3.8"/>
<path d="M89 63l-3 -1M93 69l-2 -2M89 78l-2 -3M66 83l1 -4M64 86l2 -3M45 82l3 -4M44 76l3 -2M37 66l4 0M40 46l2 4M42 49l2 2M42 44l2 4M52 44l1 5M59 38l1 5M85 46l-1 4M92 57l-3 0M169 133l-2 -5M137 132l2 -5M115 110l3 -1M114 104l4 3M118 96l3 2M117 96l3 1M141 85l2 3M147 81l0 4M146 80l-1 4M278 120l-5 -1M243 142l0 -5M229 140l2 -5M212 124l2 -2M203 107l4 2M206 106l3 3M210 99l4 2M262 87l-2 4M51 164l-3 -1M49 165l-3 0M43 169l-4 -3M47 172l-3 -2M40 172l-3 -3M36 177l-1 -4M21 184l0 -5M12 183l1 -5M-1 162l3 0M7 147l2 3M24 140l-1 4M33 145l-3 3M37 144l-1 4M43 156l-5 2M50 158l-4 1M133 196l-4 -2M116 204l-2 -4M91 202l2 -2M84 196l2 -3M75 185l4 -1M91 165l1 3M111 162l0 5M221 183l-3 -1M222 188l-4 0M179 210l1 -5M179 209l1 -3M177 207l1 -3M169 201l4 -3M160 195l4 -3M156 183l4 2M166 163l2 4M169 161l2 2M176 160l1 3M181 160l0 4M179 157l2 4M184 155l1 3M215 165l-2 4M220 172l-5 1M223 181l-5 1M223 181l-3 0M277 236l-2 -3M280 241l-4 -2M278 242l-3 -3M263 247l0 -4M239 245l3 -4M224 225l4 1M227 225l3 1M229 216l2 2M234 213l2 2M249 204l0 4M268 204l-1 4M284 219l-3 2M63 268l-2 -5M58 267l-2 -3M58 270l-2 -4M53 270l-2 -3M55 271l-3 -4M43 273l1 -3M38 273l2 -3M21 258l4 -1M23 251l4 0M21 245l4 2M25 244l3 2M36 236l0 4M47 233l-1 4M46 237l1 4M52 233l-2 3M59 242l-3 2M66 245l-5 1M68 252l-5 0M177 267l-4 -4M171 274l-4 -3M151 282l1 -4M143 278l2 -5M120 267l5 -2M121 258l4 0M131 235l1 4M144 238l0 4M154 239l-2 5M173 255l-3 1M144 33l-4 -3M145 36l-4 -2M141 43l-2 -4M114 38l3 -2M112 36l4 -2M119 15l0 4M117 11l2 4M130 13l-1 5M129 16l0 4M139 16l-2 3M146 22l-3 1M144 26l-3 0M229 56l0 -4M230 54l-1 -5M223 57l2 -4M212 46l3 -3M205 31l3 1M210 25l3 4M213 24l4 3M218 25l2 3M233 21l0 5M243 18l-2 3M257 36l-4 -1M39 33l-4 -3M32 39l-1 -3M28 42l-1 -4M25 40l-1 -3M22 45l0 -3M17 43l2 -5M6 33l4 0M9 25l4 2M19 15l-1 5" stroke="#4d3f3d" stroke-width="3.8"/>
<path d="M92 65l-5 -1M84 82l-2 -5M81 81l-1 -3M52 81l2 -3M38 79l3 -4M38 67l4 -2M36 62l4 -1M37 58l3 2M37 55l5 1M41 56l3 2M39 52l4 2M71 41l-2 5M89 53l-4 3M179 112l-4 0M131 128l1 -4M126 126l3 -3M114 118l4 -1M119 99l4 3M125 83l2 5M130 84l2 4M149 83l1 5M180 106l-5 -1M280 125l-3 -2M271 132l-3 -2M268 134l-1 -3M259 137l-1 -5M254 144l-2 -5M229 141l3 -4M223 135l2 -3M214 133l1 -3M210 131l3 -2M210 133l2 -3M212 126l4 -2M207 125l4 -3M211 121l3 -2M206 118l5 -1M208 110l4 1M207 104l4 1M209 102l4 2M212 90l3 4M226 87l2 4M238 84l1 4M244 80l1 4M265 85l-3 4M275 94l-2 3M276 94l-3 3M276 96l-3 4M278 98l-4 2M279 99l-2 3M45 176l-4 -2M33 183l0 -3M20 145l1 3M33 146l0 5M38 148l-3 3M45 158l-3 0M136 188l-5 0M133 188l-5 -2M128 197l-3 -3M95 202l2 -3M82 197l4 -2M84 169l1 3M95 164l1 3M118 161l-2 3M117 162l-1 3M129 167l-3 3M131 174l-5 1M135 180l-5 2M132 180l-4 1M225 191l-3 -2M219 194l-3 -3M219 195l-3 -1M213 205l-1 -4M203 205l-2 -3M196 207l-2 -4M171 206l3 -3M171 203l1 -3M158 193l4 -2M156 188l3 -1M160 175l3 2M161 171l4 3M203 160l-3 4M205 159l0 4M220 166l-4 4M273 245l-2 -3M259 248l0 -4M246 245l0 -4M230 239l3 -2M227 224l4 1M229 225l3 -1M236 206l1 3M243 201l0 5M252 203l-1 5M264 205l-2 3M279 211l-4 3M70 261l-3 -3M49 272l1 -5M29 270l2 -4M25 240l3 3M28 237l2 2M58 238l-2 3M64 240l-3 3M177 266l-4 -4M168 276l-1 -3M165 278l-2 -3M144 283l2 -5M140 283l0 -5M135 280l1 -4M129 276l2 -4M128 272l3 -3M119 254l5 1M126 242l3 3M131 237l1 4M148 235l-1 3M165 237l-2 4M173 242l-4 3M149 30l-5 0M145 39l-3 -2M133 43l0 -4M131 43l-1 -4M110 40l4 -1M107 35l3 -1M109 24l3 1M113 14l3 3M127 14l-1 4M138 15l-1 5M147 18l-4 3M252 43l-4 -1M239 56l-2 -4M225 56l1 -4M217 55l3 -3M210 49l4 -1M206 42l4 -2M218 19l2 3M230 15l1 4M255 28l-4 1M39 32l-5 -2M29 43l0 -3M7 35l4 -2M22 15l-1 4M30 16l-2 3" stroke="#3f3a5a" stroke-width="3.8"/>
<path d="M92 72l-4 -3M75 85l0 -4M71 86l-2 -5M57 82l0 -4M48 79l1 -3M38 52l3 2M83 44l-4 3M81 43l-2 3M94 53l-5 2M168 126l-1 -3M145 138l2 -3M139 134l1 -3M134 132l3 -4M121 124l4 -3M131 84l1 5M136 85l2 3M158 85l-3 4M182 102l-5 1M263 137l-1 -5M225 143l1 -5M222 139l0 -4M219 139l3 -3M215 136l2 -3M210 121l4 -2M208 99l4 3M45 163l-5 0M38 176l-1 -3M18 179l2 -3M17 181l2 -4M1 165l4 -1M19 142l-1 5M39 149l-2 3M138 183l-3 0M109 208l1 -3M79 174l4 1M82 173l4 1M82 174l3 4M101 160l2 4M131 175l-3 2M132 177l-4 2M226 187l-3 -1M221 193l-3 -1M214 200l-1 -4M206 205l-2 -4M184 211l1 -4M163 200l3 -4M156 177l4 0M162 168l3 4M164 165l2 4M172 158l2 3M173 159l0 3M176 157l0 3M196 159l0 4M204 156l-2 3M221 173l-4 2M285 231l-4 -1M280 232l-3 -2M266 247l-1 -3M255 248l1 -4M247 248l0 -4M238 245l3 -3M235 245l3 -4M227 229l3 0M241 206l1 5M243 201l3 4M275 209l-3 2M280 214l-4 2M34 271l2 -3M25 268l4 -4M21 254l4 0M29 238l3 3M32 236l1 3M50 235l0 4M60 239l-2 4M178 259l-4 -1M176 262l-4 -1M174 268l-4 -3M157 279l0 -3M155 283l0 -5M156 280l-2 -4M132 280l2 -5M120 271l4 -3M122 244l4 2M162 238l-2 4M146 28l-5 0M146 33l-3 -1M131 46l-1 -4M110 18l3 2M115 17l2 4M133 17l-2 3M133 16l-1 3M140 20l-4 3M144 23l-5 1M254 49l-2 -3M234 56l-2 -4M215 56l2 -4M212 51l3 -4M208 43l4 -3M203 40l3 -1M222 17l2 3M249 23l-2 2M254 31l-3 1M41 37l-4 -3M37 42l-4 -3M34 40l-3 -3M6 32l4 -1M34 18l-2 3M35 20l-3 2" stroke="#463a4c" stroke-width="3.8"/>
<path d="M90 77l-3 -3M88 78l-1 -3M77 84l0 -5M34 59l4 2M45 43l4 3M51 44l0 4M60 39l1 5M62 38l1 4M67 37l-1 4M71 41l-2 3M76 39l-1 3M180 118l-2 -2M180 122l-4 -3M177 126l-2 -5M165 135l-2 -4M160 131l-2 -4M158 136l0 -5M150 136l0 -4M151 135l-1 -3M141 132l2 -3M118 113l4 -1M112 106l4 1M118 92l4 3M124 93l2 3M123 88l3 3M136 81l3 5M143 82l1 4M161 85l-1 4M159 82l0 4M168 88l-3 3M179 96l-4 1M177 101l-5 0M183 104l-3 1M285 115l-5 0M281 119l-4 -3M276 128l-3 -4M273 131l-2 -4M271 133l-2 -5M257 141l-2 -3M248 138l1 -4M241 140l1 -5M227 139l3 -4M202 115l4 1M203 115l5 2M215 95l2 4M219 87l1 4M267 89l-3 3M281 110l-5 -1M30 181l-1 -4M14 179l2 -4M-1 172l5 -2M0 165l4 -1M11 147l1 5M37 145l-3 2M44 149l-3 4M137 186l-4 -2M132 187l-4 -2M121 198l-1 -3M121 206l-1 -4M92 201l1 -3M85 198l3 -3M79 179l5 0M90 163l2 5M109 156l1 5M125 168l-3 1M221 183l-4 0M218 199l-3 -3M210 204l-4 -4M205 205l-1 -4M199 206l-1 -3M190 212l0 -4M187 212l0 -5M176 208l2 -5M158 185l4 -1M154 181l4 0M163 169l2 4M167 160l3 3M210 164l-2 4M221 176l-4 3M282 225l-4 1M282 234l-3 -3M278 244l-3 -4M269 245l-2 -4M266 247l-1 -4M260 249l-1 -4M247 245l1 -5M247 203l2 4M256 205l-2 4M267 204l-2 3M267 203l-1 3M268 204l-1 5M66 260l-3 -3M59 272l-3 -3M17 256l4 1M20 243l3 2M27 241l2 3M43 235l-2 5M63 240l-3 3M170 267l-3 -2M162 277l-1 -3M142 282l0 -5M138 280l1 -3M128 277l2 -4M129 272l4 -2M125 271l2 -3M127 269l3 -3M121 266l4 -2M119 261l4 -1M139 238l1 4M152 235l-1 4M154 238l-1 4M159 235l-2 3M168 240l-2 4M175 249l-4 1M136 42l0 -4M138 40l-2 -5M127 46l0 -4M118 44l2 -4M107 34l4 -1M257 40l-5 -1M244 53l-2 -3M241 52l-2 -3M215 51l3 -2M238 19l-1 4M241 17l-1 4M244 21l-1 4M254 23l-4 4M254 29l-4 2M40 29l-4 -2M12 39l2 -5M9 23l4 3M10 15l1 5M13 15l1 4M41 22l-4 0" stroke="#5a4433" stroke-width="3.8"/>
<path d="M85 80l-2 -3M81 80l-2 -5M67 86l-1 -3M35 71l3 -1M35 64l4 0M36 57l4 1M67 37l0 4M77 43l-2 5M92 49l-3 3M90 51l-2 2M181 108l-5 0M177 113l-3 -1M172 124l-2 -4M167 130l-3 -5M164 129l-2 -3M154 132l0 -5M145 136l1 -4M132 129l1 -4M123 126l2 -3M119 119l3 -1M112 102l4 0M117 100l4 1M117 93l5 3M124 88l1 4M150 85l-1 4M154 82l-1 5M179 103l-5 0M282 112l-4 1M281 118l-4 0M264 134l-1 -4M266 133l-2 -3M260 137l-1 -4M246 142l0 -3M237 142l0 -5M207 106l3 2M205 102l3 1M217 89l1 3M233 82l2 4M242 81l0 3M242 84l-1 3M246 79l-1 4M249 85l1 4M259 85l-2 5M267 91l-2 3M280 99l-4 2M280 103l-3 0M34 181l-2 -5M22 182l1 -4M12 178l3 -4M4 177l2 -3M0 175l5 -2M1 158l3 3M4 155l3 2M4 149l4 3M15 143l0 4M26 145l1 4M31 144l-1 4M124 202l-2 -3M120 206l-2 -4M116 201l-2 -4M101 208l1 -4M96 208l1 -4M97 205l2 -3M87 201l2 -3M80 191l4 -2M78 188l3 -1M76 186l4 0M86 169l1 3M89 166l2 4M119 164l-2 3M224 188l-4 -1M221 194l-3 -1M214 201l-1 -3M174 203l3 -4M160 194l4 -1M158 192l3 -1M156 190l4 0M158 170l3 4M192 160l1 3M195 160l-2 3M200 155l-2 4M220 174l-4 1M285 232l-4 -3M270 241l-1 -4M270 244l-2 -3M238 242l2 -3M230 231l4 0M230 219l4 1M241 208l3 3M250 204l0 3M259 204l0 5M260 204l0 3M283 218l-3 1M282 220l-3 1M67 254l-3 -1M66 257l-4 -2M68 259l-3 -2M46 273l-2 -5M35 270l1 -4M26 261l4 -1M34 237l2 4M39 236l0 4M43 233l-2 5M54 237l-2 4M56 238l-1 3M70 250l-4 1M173 258l-4 1M165 276l-1 -4M137 279l1 -4M124 243l3 5M156 240l-1 4M162 237l-3 3M173 250l-2 2M178 257l-4 -1M127 46l0 -4M107 20l4 3M108 18l4 3M123 15l1 4M146 18l-3 4M149 26l-5 -1M254 36l-4 1M256 37l-4 0M254 39l-3 -1M220 53l1 -4M214 53l2 -5M203 38l5 2M205 34l4 2M209 25l2 3M227 18l0 4M239 19l-2 4M254 32l-5 0M255 36l-4 0M39 30l-3 -1M36 39l-2 -2M18 42l1 -4M15 40l2 -4M12 38l3 -2M34 19l-3 2" stroke="#4f3a2e" stroke-width="3.8"/>
<path d="M71 86l-1 -4M61 86l0 -3M42 72l3 -2M33 63l5 0M51 40l2 5M64 40l0 5M87 47l-3 3M94 54l-3 2M97 59l-5 0M94 60l-4 1M181 111l-4 -1M181 112l-4 -1M180 117l-5 -1M175 122l-3 -3M170 129l-2 -4M154 134l0 -5M143 135l1 -4M134 136l2 -5M119 124l4 -3M113 114l5 -1M154 83l0 4M170 84l-4 4M170 90l-3 5M171 87l-3 4M173 97l-4 1M179 100l-4 1M280 111l-4 0M274 131l-3 -3M264 138l0 -5M257 144l-1 -5M252 139l0 -4M224 87l1 4M222 86l3 4M231 85l1 3M234 83l1 3M275 92l-5 2M279 103l-5 2M283 106l-4 -1M26 182l-1 -5M25 178l0 -4M5 149l3 3M13 147l0 3M47 154l-4 1M134 184l-4 -1M105 206l2 -5M77 181l4 1M94 163l0 4M99 161l-1 4M106 162l-1 4M114 159l-2 5M124 162l-3 3M129 173l-4 2M132 171l-4 3M204 208l-3 -3M198 208l-1 -5M182 213l1 -5M166 203l3 -4M166 205l1 -3M157 177l4 1M158 172l2 2M187 160l0 4M208 162l-2 4M217 170l-4 3M284 228l-3 -1M254 248l1 -5M250 249l2 -5M237 238l1 -3M228 239l5 -2M231 236l4 -3M225 230l4 -1M230 221l3 3M234 209l3 2M256 206l-1 3M274 204l-3 3M276 207l-2 3M279 214l-3 2M32 270l2 -3M24 263l3 -1M20 263l5 -3M20 263l4 -2M41 235l-1 5M66 249l-4 0M175 272l-3 -3M151 283l1 -5M123 268l4 -1M117 252l3 1M120 249l2 3M121 246l3 4M125 249l3 2M136 235l1 5M144 237l0 5M146 235l0 4M167 236l-3 4M177 253l-5 0M141 37l-2 -3M121 43l2 -4M118 45l1 -3M115 41l4 -3M106 38l4 -1M110 30l4 -1M114 20l1 3M126 15l-1 4M253 43l-5 -1M218 22l2 4M226 19l1 4M8 35l4 -2M4 31l4 0M11 18l3 3M18 12l-1 5M27 13l-2 4" stroke="#3a3147" stroke-width="3.8"/>
<path d="M258 245l1 2M10 61l-1 2M184 80l-2 0M271 50l0 3M269 36l3 -1M189 251l1 2M238 10l2 1M105 259l2 1M113 161l0 4M69 31l0 -2M216 92l2 3M116 256l-3 1M87 259l-1 4M130 9l3 2M89 227l-3 0M4 33l1 -2M118 69l3 -2M195 106l2 1M163 23l-2 3M63 201l-3 1M188 221l-1 2M75 102l-2 0M92 155l3 -3M272 171l-2 2M91 15l3 1M179 13l0 2M28 54l-1 2M86 238l0 2M286 233l-2 0M207 29l1 -2M96 83l3 2M52 199l-2 -1M230 18l-2 2M248 13l-3 1M51 115l-1 -3M277 170l2 2M91 110l2 3M115 277l3 2M154 151l-2 2M40 84l-4 1M105 53l-1 3M37 174l4 1M224 74l0 3M276 73l-2 -2M143 209l-3 -2M257 75l3 2M14 50l-3 1M76 267l0 3M43 172l2 2M201 39l0 3M113 46l2 -2M79 144l1 2M174 233l2 -1M177 137l-2 3M105 88l-1 2M250 175l0 3M139 186l3 1M247 183l0 3M246 84l-1 -4M210 21l3 1M98 105l-2 -1M56 199l-3 2M49 188l2 3M90 93l-1 2M207 141l3 1M11 190l-2 3M185 265l-2 2M232 73l-1 3M38 212l-4 -1M15 259l-2 -3M41 133l-2 0M124 47l0 4M65 95l-3 0M245 190l2 1M197 141l3 0M251 86l-3 2M189 53l-1 2M11 278l1 3" stroke="#463a4c" stroke-width="3.4"/>
<path d="M275 38l-2 1M274 158l4 1M138 151l0 -2M102 23l-2 1M273 52l-1 2M85 256l-2 2M226 82l0 3M164 224l3 -2M148 57l-2 1M154 34l0 2M190 140l0 3M280 98l-1 2M100 72l1 -3M225 86l3 0M204 141l1 -1M5 252l-3 1M165 204l-1 3M149 53l-2 1M146 283l2 0M173 10l-2 3M257 167l-1 4M43 15l-2 2M48 212l-3 -2M67 38l-1 2M74 150l-1 2M95 119l-2 -2M198 243l3 1M55 167l-3 -1M277 154l0 3M34 93l2 -1M211 75l0 3M258 159l0 3M41 218l0 3M184 152l1 4M140 130l0 2M103 128l-2 -2M44 47l-2 3M19 224l-2 3M233 12l3 3M109 223l2 0M253 188l-4 0M47 18l-3 0M261 13l-3 0M103 275l2 -1M269 270l-2 2M78 248l2 -2M2 259l-2 1M229 63l0 3M43 129l-1 3M245 21l-3 2" stroke="#6a4a35" stroke-width="3.4"/>
<path d="M213 13l-2 2M274 101l3 -2M83 5l-3 -1M102 254l2 3M117 143l0 2M106 255l1 4M197 258l-1 2M182 230l1 3M188 73l-2 0M189 76l0 3M136 80l1 -3M277 56l-2 -2M232 240l3 -2M284 110l-2 3M238 185l2 3M182 105l-4 -1M28 129l3 2M278 81l-2 3M182 43l0 3M145 190l1 3M223 166l0 2M2 8l2 -1M4 26l1 -3M211 228l0 3M25 92l-2 -2M2 103l0 3M97 254l4 1M63 97l-1 2M193 8l-4 0M105 121l-2 3M62 177l1 4M265 169l-1 2M87 5l2 3M206 42l1 4M165 235l-3 1M15 75l2 1M277 136l2 2M217 199l2 0M135 204l2 1M219 176l-3 0M92 55l2 0M16 283l-2 3M8 102l2 2M232 231l-4 1M220 147l-2 0M20 121l3 2M146 280l1 2M185 136l-4 0M198 48l-3 1M109 268l-2 2M258 284l3 0M194 254l-3 2M44 271l-1 1M134 86l-3 0M74 244l-2 3M59 145l4 0M82 7l-1 2M279 45l2 -2M87 102l-2 -2M268 254l1 3M197 160l3 0M58 151l-3 0M87 99l0 3M126 62l1 2M129 126l-3 0M180 148l-1 -2M58 173l3 2M232 0l-1 2M113 82l-2 1M256 80l-2 3M142 67l4 1M287 185l-2 -1M27 193l-2 1M210 107l2 0M86 7l-2 3M216 68l1 3M189 99l-2 1M45 211l-2 0M66 98l3 -2M186 155l2 0" stroke="#3a3147" stroke-width="3.4"/>
<path d="M66 174l1 3M123 222l-1 -2M101 89l0 2M21 101l1 2M231 279l-1 2M283 18l-2 -2M142 13l-1 3M75 14l-1 2M88 129l-1 1M102 223l-2 0M37 191l-2 2M262 75l-2 2M143 24l2 0M99 205l-1 3M39 77l-2 -1M90 156l-1 2M1 255l0 3M97 158l1 3M125 85l-3 -3M240 201l2 0M239 162l-1 3M266 143l1 3M46 34l2 1M85 133l1 3M117 282l0 2M114 82l2 1M169 57l1 3M87 50l2 -1M128 135l4 1M79 89l-3 -1M111 122l3 0M119 13l0 2M225 272l1 3M114 115l3 -1M76 210l1 3M263 197l0 2M153 48l2 1M44 180l-2 -2M237 244l3 1M216 95l-4 0M161 166l-3 0M136 187l2 -3M284 255l1 2M253 139l3 -1M48 155l-3 1M214 241l1 2M128 163l1 2M92 92l1 3M139 179l-1 2M194 62l-3 0M149 18l0 2M199 24l1 2M114 110l-3 2M279 66l0 4M82 89l-4 -1M103 138l2 0M14 223l-2 1M141 222l2 1M255 15l1 2M3 68l2 0M48 169l3 -1M99 67l1 2M141 130l-1 2M75 13l1 3M51 41l3 0M164 75l-2 2M195 85l-3 3M170 18l-2 1M101 102l3 1M106 42l2 2M191 116l1 3" stroke="#575073" stroke-width="3.4"/>
<path d="M185 8l-1 3M134 5l-1 3M72 143l-1 2M116 241l-3 0M100 122l3 -1M124 285l-3 -2M116 51l0 2M98 60l0 4M238 3l-1 2M111 88l-3 1M10 275l2 2M40 14l0 2M118 281l-1 3M210 270l-2 2M237 147l-2 1M154 8l1 -2M213 270l2 -2M281 26l3 -1M278 85l2 1M109 206l-3 1M147 44l-3 1M149 161l-2 1M269 163l-1 3M23 254l-2 -3M166 158l-1 -4M65 179l-2 2M99 250l3 1M196 126l-2 0M109 33l2 0M93 10l-1 2M242 150l0 3M210 161l-1 2M82 79l-2 -3M269 152l0 4M84 38l-1 4M48 183l-2 2M265 136l1 2M157 180l-3 1M44 73l-1 2M177 274l2 2M90 226l1 2M100 78l2 0M235 164l-4 -1M225 277l-1 3M88 12l2 2M117 14l2 2M26 115l1 3M21 135l3 0M182 128l1 2M69 102l1 -2M116 216l1 2M231 18l2 3M49 106l0 4M199 143l3 0M68 190l2 -1M281 68l0 3M167 209l2 -1M180 116l1 4M70 12l1 3M100 277l3 1M135 181l-1 -2M182 98l2 2M103 99l-1 2M149 183l2 -1M56 162l-2 -2M178 121l-2 -3M204 160l2 1M220 86l0 4M45 114l1 2M242 204l-1 2" stroke="#4d3f3d" stroke-width="3.4"/>
<path d="M131 140l1 2M89 277l-2 -1M224 61l3 0M16 231l-1 2M18 88l-4 0M8 108l2 2M40 221l-3 2M260 50l0 4M262 198l0 3M56 210l0 3M105 81l-1 3M255 165l3 0M275 206l-1 3M228 239l-1 3M177 131l2 -2M197 109l-2 -1M283 261l1 2M23 64l2 1M284 87l1 4M59 272l-3 1M184 213l2 -1M223 231l-2 1M243 169l3 1M245 199l-3 0M98 280l0 2M275 264l0 3M273 0l0 3M242 156l-1 2M177 132l3 -2M90 65l1 4M2 21l2 0M22 109l-4 0M34 195l4 1M67 102l0 2M276 65l3 1M39 126l-2 -1M174 156l-4 0M51 167l-1 3M67 148l-3 -2M15 5l-3 1M280 163l-3 2M112 35l0 -2M37 65l2 2M46 275l2 1M37 194l0 2M191 262l2 -1M9 58l1 3M167 270l1 2M48 93l-2 -2M180 98l2 2M157 208l1 3M15 88l1 2M80 234l0 4M266 9l0 3M281 261l1 3M177 139l-3 2M238 16l1 3M163 83l-1 3M4 75l-1 -3M51 168l1 2M229 266l-2 2M68 282l1 2M222 11l0 3M16 114l1 -2M95 264l0 3M98 16l-2 -2" stroke="#5a4433" stroke-width="3.4"/>
<path d="M105 68l-1 2M134 184l-1 -3M37 74l-2 2M145 142l2 2M41 283l-1 3M7 236l-1 3M5 216l2 1M137 237l-3 0M174 206l-3 1M17 279l2 2M6 15l-4 -1M261 38l2 -1M110 72l2 0M18 204l-1 2M177 231l0 2M87 8l-2 0M175 77l-1 2M208 277l-3 0M270 174l2 1M10 97l-1 3M276 57l2 1M69 128l0 4M280 211l1 2M5 3l1 2M155 156l2 3M67 219l4 0M5 123l-2 3M195 113l-1 4M91 261l1 2M276 133l-2 0M208 120l-4 0M44 218l-2 1M159 173l1 4M38 0l-3 3M65 211l0 2M18 75l1 2M10 282l-2 2M102 131l-1 3M21 133l1 4M24 3l-2 1M1 106l-3 -2M78 37l2 2M226 211l-2 3M5 101l-1 1M138 212l2 0M225 52l1 3M5 93l2 -1M162 167l-3 2M178 238l2 2M34 16l1 -2M170 203l1 -3M103 146l1 3M193 155l-1 2M184 70l2 1M275 173l1 -3M150 75l2 -2M134 76l-1 3M234 243l1 2M181 117l-1 4M162 154l0 3M236 278l1 2M282 24l4 1M133 178l-1 2M6 237l0 -2M103 57l-1 4M159 179l2 1M273 180l-2 0M22 68l-2 3M222 272l3 1M212 5l-2 1M248 14l-1 2M3 74l-1 2M28 179l0 3M20 134l-3 2M160 150l-2 0M228 154l-2 3M51 272l3 0M273 134l-2 -3M109 61l1 2M77 251l3 2M26 100l0 -2M149 40l-3 2M89 125l4 1M220 14l-3 0M8 102l-1 1M183 280l-1 2" stroke="#6a6da3" stroke-width="3.4"/>
<path d="M88 157l-1 3M10 107l-1 4M73 17l0 3M234 202l2 2M31 189l2 2M73 223l2 -1M208 74l-2 2M194 26l-2 1M258 46l0 3M249 76l0 3M48 139l1 2M158 236l3 -2M279 260l4 0M137 195l-1 2M65 251l-2 2M114 153l1 3M50 281l1 2M207 73l-3 -2M284 10l-1 -2M131 9l0 -2M186 45l-1 4M186 127l-1 2M247 139l0 2M13 110l1 2M120 160l-2 3M69 161l-1 2M49 118l2 3M279 252l-3 -2M153 139l-1 2M33 47l0 2M261 14l0 2M228 13l2 -1M19 2l-2 3M79 147l0 4M263 76l-2 0M29 190l-2 3M180 280l-2 -2M175 229l3 0M260 16l3 -1M203 42l2 1M1 80l-1 2M214 56l1 1M257 194l2 1M106 137l3 0M53 30l0 3M74 194l2 2M20 254l1 2M241 14l-4 -1M236 243l-4 0M237 204l3 1M262 44l-2 -2M282 7l-1 -2M110 15l-3 -1M187 121l-2 -2M195 96l1 3M246 7l3 -2M247 168l2 2M172 137l1 2M199 23l2 2M100 97l2 1M0 63l2 0M261 141l-4 0M229 183l3 2M180 243l3 0M83 190l0 2M76 159l0 4M231 230l2 1M229 187l-3 -1M98 256l2 1M283 53l0 3M277 110l3 0M160 152l-2 -2" stroke="#4c4f86" stroke-width="3.4"/>
<path d="M38 283l-1 -4M22 113l-1 2M204 150l2 -2M82 140l2 2M24 195l-1 2M136 177l2 -2M97 284l2 1M125 161l0 4M81 262l3 -2M58 209l1 3M270 184l0 -3M21 216l-2 1M194 91l-3 -2M171 209l-2 1M285 22l0 4M157 4l3 2M96 271l3 2M187 74l2 0M85 41l2 2M268 70l3 1M101 61l2 2M120 215l1 3M258 162l3 -1M20 9l0 2M186 121l2 0M251 58l0 3M4 131l-2 2M248 285l-3 -1M4 205l-2 0M10 239l-2 2M111 7l3 2M240 -1l0 3M149 12l-3 -2M152 25l3 2M142 137l3 2M21 189l-2 1M280 185l3 1M55 277l2 2M217 76l-3 1M271 182l-4 -1M56 24l1 -3M92 87l1 3M47 83l-2 0M9 193l2 2M114 85l2 -1M48 135l3 0M147 79l-3 0M1 266l-1 3M128 126l-2 2M228 8l-1 2M107 55l-1 2M144 233l1 4M251 51l-3 0M193 153l1 -2M270 15l-2 1M108 57l-1 1M101 70l2 2M201 240l-3 0M177 149l2 2M21 5l-2 2M71 95l2 3M92 156l4 0M27 48l1 3M268 4l-1 3M225 151l2 0M242 80l0 4M229 262l0 3M224 256l0 3M279 86l-1 -2M208 262l2 0M99 49l-1 3M280 32l3 2M134 210l0 -3M25 110l-1 3M216 219l1 3M193 151l2 3M12 235l3 1" stroke="#3f3a5a" stroke-width="3.4"/>
<path d="M279 2l-3 1M113 246l4 0M158 2l-1 -2M160 33l2 1M89 161l1 2M224 90l-2 0M169 224l2 2M64 195l3 2M221 269l2 2M170 76l0 2M82 106l2 -2M234 152l2 3M154 157l-1 1M102 109l0 3M183 229l4 1M200 152l3 -2M63 107l-1 1M58 188l-2 1M89 13l1 3M94 40l1 3M90 56l-1 2M117 71l1 3M86 35l3 2M112 233l-3 1M284 238l0 3M18 184l-2 -3M269 68l1 -4M210 87l2 3M244 258l2 2M192 112l1 -3M25 246l-1 3M281 210l1 3M17 264l0 2M148 69l2 -1M194 18l2 2M276 170l-1 2M109 79l0 3M183 97l-2 -1M100 214l-3 1M183 16l-3 2M269 17l1 2M212 210l-3 -1M81 115l-3 -1M159 279l-2 0M132 64l-2 1M239 143l0 2M159 54l3 1M237 276l1 2M219 82l-1 3M134 155l1 -3M66 6l3 1M20 74l-2 -1M44 90l0 2M137 190l-4 -1M29 77l-2 3M131 238l0 4M187 45l-2 -3M107 265l2 -1M118 75l-2 0M63 150l2 2M215 220l-2 1M196 226l2 2M134 237l2 1M219 210l1 3M178 258l-3 -1M39 39l-2 2M46 149l-2 1M34 142l3 0M124 238l2 2" stroke="#5b5f98" stroke-width="3.4"/>
</g>
<rect x="406.30" y="601.50" width="84.00" height="8.60" fill="#000" stroke="none" stroke-width="0" />
<text  x="497.00" y="610.50" font-size="14" font-weight="normal" font-style="normal" fill="#ffffff" text-anchor="start" ><tspan >100µm</tspan></text>
</g>
<rect x="108.30" y="47.80" width="570.70" height="284.70" fill="none" stroke="#1a1a1a" stroke-width="1.6" />
<rect x="108.30" y="337.50" width="570.70" height="285.00" fill="none" stroke="#1a1a1a" stroke-width="1.6" />
<line x1="393.00" y1="47.80" x2="393.00" y2="332.50" stroke="#555" stroke-width="1.2" stroke-linecap="butt" />
<line x1="393.00" y1="337.50" x2="393.00" y2="622.50" stroke="#555" stroke-width="1.2" stroke-linecap="butt" />
<g clip-path="url(#cD1)">
<rect x="1401.50" y="44.50" width="292.50" height="291.00" fill="#f4f4f6" stroke="none" stroke-width="0" />
<path d="M1401.5,139.5 C1406.5,112.0 1418.2,120.3 1431.5,114.5 C1444.8,108.7 1471.5,108.7 1481.5,104.5 C1491.5,100.3 1478.2,92.5 1491.5,89.5 C1504.8,86.5 1538.2,87.3 1561.5,86.5 C1584.8,85.7 1609.5,83.5 1631.5,84.5 C1653.5,85.5 1683.2,57.5 1693.5,92.5 C1703.8,127.5 1708.8,261.7 1693.5,294.5 C1678.2,327.3 1633.5,291.2 1601.5,289.5 C1569.5,287.8 1534.8,286.2 1501.5,284.5 C1468.2,282.8 1418.2,303.7 1401.5,279.5 C1384.8,255.3 1396.5,167.0 1401.5,139.5 Z" fill="#e3e6f0" stroke="none" stroke-width="0" />
<path d="M1495 204h0" stroke="#c3c9df" stroke-width="24.0" stroke-linecap="round" fill="none" />
<path d="M1555 97h0M1607 97h0M1470 120h0M1620 119h0M1668 119h0M1558 139h0M1581 138h0M1605 141h0M1619 159h0M1482 182h0M1505 184h0M1555 185h0M1605 182h0M1617 204h0M1682 225h0M1416 247h0M1445 251h0M1567 247h0M1479 270h0M1603 268h0M1632 269h0" stroke="#c3c9df" stroke-width="25.0" stroke-linecap="round" fill="none" />
<path d="M1632 97h0M1518 119h0M1543 118h0M1695 119h0M1428 142h0M1503 141h0M1628 142h0M1658 142h0M1469 160h0M1644 164h0M1668 162h0M1692 161h0M1406 183h0M1457 183h0M1657 182h0M1417 203h0M1444 204h0M1468 205h0M1594 205h0M1481 226h0M1628 226h0M1468 248h0M1517 247h0" stroke="#c3c9df" stroke-width="26.0" stroke-linecap="round" fill="none" />
<path d="M1581 98h0M1653 98h0M1482 138h0M1532 142h0M1445 162h0M1495 162h0M1516 161h0M1566 162h0M1432 181h0M1530 225h0M1656 227h0M1492 249h0M1643 248h0M1693 247h0M1406 268h0M1556 269h0" stroke="#c3c9df" stroke-width="27.0" stroke-linecap="round" fill="none" />
<path d="M1682 98h0M1454 139h0M1680 140h0M1418 162h0M1541 162h0M1594 161h0M1631 182h0M1682 184h0M1643 204h0M1666 207h0M1406 225h0M1429 226h0M1507 227h0M1557 225h0M1541 249h0M1592 249h0M1617 250h0M1669 248h0M1455 272h0M1532 271h0M1578 269h0" stroke="#c3c9df" stroke-width="28.0" stroke-linecap="round" fill="none" />
<path d="M1504 95h0M1491 117h0M1568 119h0M1594 120h0M1645 121h0M1403 142h0M1530 183h0M1580 184h0M1520 207h0M1543 208h0M1567 206h0M1695 207h0M1456 227h0M1583 229h0M1603 228h0M1430 272h0M1507 271h0M1657 269h0M1681 272h0" stroke="#c3c9df" stroke-width="29.0" stroke-linecap="round" fill="none" />
<path d="M1555 97h0M1607 97h0M1470 120h0M1620 119h0M1558 139h0M1605 141h0M1619 159h0M1505 184h0M1555 185h0M1605 182h0M1495 204h0M1617 204h0M1682 225h0M1416 247h0M1445 251h0M1567 247h0M1479 270h0M1603 268h0M1632 269h0" stroke="#eceef5" stroke-width="22.0" stroke-linecap="round" fill="none" />
<path d="M1632 97h0M1518 119h0M1543 118h0M1668 119h0M1695 119h0M1503 141h0M1581 138h0M1628 142h0M1658 142h0M1469 160h0M1644 164h0M1668 162h0M1692 161h0M1406 183h0M1457 183h0M1482 182h0M1657 182h0M1417 203h0M1444 204h0M1594 205h0M1481 226h0M1628 226h0M1468 248h0M1517 247h0" stroke="#eceef5" stroke-width="23.0" stroke-linecap="round" fill="none" />
<path d="M1581 98h0M1653 98h0M1428 142h0M1532 142h0M1445 162h0M1495 162h0M1516 161h0M1566 162h0M1432 181h0M1468 205h0M1530 225h0M1656 227h0M1643 248h0M1693 247h0M1406 268h0" stroke="#eceef5" stroke-width="24.0" stroke-linecap="round" fill="none" />
<path d="M1682 98h0M1454 139h0M1482 138h0M1680 140h0M1418 162h0M1541 162h0M1594 161h0M1666 207h0M1406 225h0M1429 226h0M1492 249h0M1541 249h0M1617 250h0M1669 248h0M1532 271h0M1556 269h0M1578 269h0" stroke="#eceef5" stroke-width="25.0" stroke-linecap="round" fill="none" />
<path d="M1491 117h0M1568 119h0M1594 120h0M1645 121h0M1530 183h0M1580 184h0M1631 182h0M1682 184h0M1543 208h0M1567 206h0M1643 204h0M1695 207h0M1456 227h0M1507 227h0M1557 225h0M1583 229h0M1603 228h0M1592 249h0M1430 272h0M1455 272h0M1507 271h0M1657 269h0M1681 272h0" stroke="#eceef5" stroke-width="26.0" stroke-linecap="round" fill="none" />
<path d="M1504 95h0M1403 142h0M1520 207h0" stroke="#eceef5" stroke-width="27.0" stroke-linecap="round" fill="none" />
<g filter="url(#spk)">
<path d="M1607 97h0M1619 159h0M1495 204h0M1617 204h0M1682 225h0M1416 247h0M1632 269h0" stroke="#9aa6cc" stroke-width="21.0" stroke-linecap="round" fill="none" />
<path d="M1555 97h0M1470 120h0M1620 119h0M1668 119h0M1695 119h0M1558 139h0M1581 138h0M1605 141h0M1644 164h0M1457 183h0M1482 182h0M1505 184h0M1555 185h0M1605 182h0M1657 182h0M1594 205h0M1481 226h0M1628 226h0M1445 251h0M1567 247h0M1479 270h0M1603 268h0" stroke="#9aa6cc" stroke-width="22.0" stroke-linecap="round" fill="none" />
<path d="M1632 97h0M1653 98h0M1518 119h0M1543 118h0M1428 142h0M1503 141h0M1532 142h0M1628 142h0M1658 142h0M1445 162h0M1469 160h0M1566 162h0M1668 162h0M1692 161h0M1406 183h0M1417 203h0M1444 204h0M1468 205h0M1656 227h0M1468 248h0M1517 247h0M1643 248h0M1406 268h0" stroke="#9aa6cc" stroke-width="23.0" stroke-linecap="round" fill="none" />
<path d="M1581 98h0M1682 98h0M1482 138h0M1680 140h0M1418 162h0M1495 162h0M1516 161h0M1541 162h0M1594 161h0M1432 181h0M1666 207h0M1429 226h0M1530 225h0M1492 249h0M1541 249h0M1617 250h0M1669 248h0M1693 247h0M1556 269h0" stroke="#9aa6cc" stroke-width="24.0" stroke-linecap="round" fill="none" />
<path d="M1568 119h0M1594 120h0M1645 121h0M1454 139h0M1530 183h0M1580 184h0M1631 182h0M1682 184h0M1543 208h0M1567 206h0M1643 204h0M1695 207h0M1406 225h0M1456 227h0M1507 227h0M1557 225h0M1583 229h0M1603 228h0M1592 249h0M1430 272h0M1455 272h0M1507 271h0M1532 271h0M1578 269h0M1657 269h0" stroke="#9aa6cc" stroke-width="25.0" stroke-linecap="round" fill="none" />
<path d="M1504 95h0M1491 117h0M1403 142h0M1520 207h0M1681 272h0" stroke="#9aa6cc" stroke-width="26.0" stroke-linecap="round" fill="none" />
</g>
<path d="M1555 97h0M1607 97h0M1632 97h0M1470 120h0M1518 119h0M1620 119h0M1668 119h0M1695 119h0M1558 139h0M1581 138h0M1605 141h0M1469 160h0M1619 159h0M1644 164h0M1457 183h0M1482 182h0M1505 184h0M1555 185h0M1605 182h0M1657 182h0M1417 203h0M1495 204h0M1594 205h0M1617 204h0M1481 226h0M1628 226h0M1682 225h0M1416 247h0M1445 251h0M1567 247h0M1479 270h0M1603 268h0M1632 269h0" stroke="#f6f7fa" stroke-width="13.0" stroke-linecap="round" fill="none" />
<path d="M1581 98h0M1653 98h0M1543 118h0M1428 142h0M1482 138h0M1503 141h0M1532 142h0M1628 142h0M1658 142h0M1680 140h0M1418 162h0M1445 162h0M1495 162h0M1516 161h0M1541 162h0M1566 162h0M1668 162h0M1692 161h0M1406 183h0M1432 181h0M1444 204h0M1468 205h0M1429 226h0M1530 225h0M1656 227h0M1468 248h0M1492 249h0M1517 247h0M1617 250h0M1643 248h0M1693 247h0M1406 268h0M1556 269h0" stroke="#f6f7fa" stroke-width="14.0" stroke-linecap="round" fill="none" />
<path d="M1504 95h0M1682 98h0M1491 117h0M1568 119h0M1594 120h0M1645 121h0M1403 142h0M1454 139h0M1594 161h0M1530 183h0M1580 184h0M1631 182h0M1682 184h0M1520 207h0M1543 208h0M1567 206h0M1643 204h0M1666 207h0M1695 207h0M1406 225h0M1456 227h0M1507 227h0M1557 225h0M1583 229h0M1603 228h0M1541 249h0M1592 249h0M1669 248h0M1430 272h0M1455 272h0M1507 271h0M1532 271h0M1578 269h0M1657 269h0M1681 272h0" stroke="#f6f7fa" stroke-width="15.0" stroke-linecap="round" fill="none" />
<g transform="translate(1401.5,44.5)" fill="none" stroke-linecap="round" >
<path d="M83 239l-1 1M57 286l2 1M56 274l2 0M268 285l0 2M137 254l-1 1M123 272l1 3M238 273l2 1M71 239l0 2M254 258l2 0M243 290l1 -1M62 270l2 1M200 281l-1 -1M207 235l-1 2M34 239l1 2M2 266l-2 -1M291 246l-1 0M197 247l-3 0M204 284l-1 0M275 272l-2 -1M101 262l0 2M246 256l1 1M287 267l0 1M119 258l1 1M48 280l2 2M158 258l-2 0M18 262l2 -1M39 252l-2 2M19 243l2 -1M260 259l0 2M31 270l-2 0M84 286l2 -1M219 287l2 1M215 258l-1 -2M25 288l-1 2M189 265l-1 -2M84 274l-2 0M101 235l1 1M14 269l-1 2M183 278l0 2M119 238l0 2M20 242l0 3M221 243l0 2M288 277l1 1M183 276l-2 1M207 264l2 0M59 285l2 -1M104 250l-2 0M103 279l1 1M156 253l0 -1M103 270l-1 1M289 274l-1 2M30 284l2 2M210 281l2 -1M120 267l0 2M5 279l2 1M286 257l1 -1M143 283l3 1M218 237l-1 1M139 286l1 1M147 253l2 1M21 234l0 2M94 289l1 1M214 257l0 2M187 248l1 1M13 242l1 0M141 268l2 -1M273 249l1 1M63 287l1 1M168 266l-1 1M29 247l0 2M80 286l-2 0M107 236l1 1M69 246l-2 1M162 283l1 1M132 234l1 2M186 251l1 1M102 274l-1 1M221 279l-2 0M112 272l-2 -1M145 274l-3 0M158 243l2 0M67 262l3 -1M202 280l-3 0M99 267l-2 1M57 240l-2 1M235 238l2 0M60 279l1 1M188 243l1 2M168 270l0 1M166 235l1 1M20 261l-1 1M52 238l-2 1M109 256l-2 -1M77 260l2 1M288 273l-2 1M215 237l-2 1M102 274l-2 1M249 268l-1 1M205 249l-2 1" stroke="#7a80a8" stroke-width="2.2"/>
<path d="M86 239l1 2M135 289l0 2M236 258l1 -1M207 277l2 2M163 246l1 2M142 277l2 2M266 274l1 2M90 237l2 1M248 235l2 0M260 248l0 3M58 264l0 2M157 262l2 -1M119 261l2 2M102 245l-1 2M118 238l0 2M82 256l1 2M155 265l1 3M63 282l-1 2M28 289l-2 0M48 249l-1 2M94 286l1 -2M4 242l2 1M91 242l-2 1M154 278l1 2M227 256l1 1M96 273l-1 2M79 281l-1 -1M143 277l1 -2M265 241l1 1M149 277l1 2M146 254l2 2M183 276l-2 -1M55 280l-2 2M22 239l1 2M231 262l-2 0M61 252l-1 0M171 269l-1 1M155 247l1 1M84 263l0 2M58 250l1 0M188 277l0 2M38 262l-1 1M45 237l1 2M101 244l-1 2M146 256l1 2M97 235l0 2M248 283l2 -1M206 238l1 1M221 249l2 1M261 278l0 2M67 256l-2 -2M255 271l0 3M151 246l1 2M81 287l0 2M191 247l3 0M32 257l1 -1M180 281l-1 2M42 248l-1 3M230 241l2 0M256 249l0 1M173 283l-1 3M240 252l-1 -1M89 261l-1 2M125 244l1 -2M57 265l2 0M251 260l-2 0M117 279l-1 2M49 279l1 2M38 283l-1 2M103 267l1 1M14 281l1 -3M266 251l1 -1M38 262l-2 0M89 266l-1 2M161 285l-3 0M267 258l-2 0M2 285l-1 0M223 251l-1 -2M198 279l2 0M197 264l0 3M19 249l0 2" stroke="#9aa0c0" stroke-width="2.2"/>
<path d="M272 287l1 2M83 247l-2 1M64 265l-2 0M135 284l-3 0M2 272l1 -1M242 265l2 0M253 258l2 2M285 245l1 1M133 253l1 2M226 287l2 2M19 280l0 2M13 249l1 1M135 290l2 1M173 265l1 0M158 238l1 -2M191 286l2 0M101 236l0 2M49 278l1 -1M291 274l1 2M193 288l2 2M173 273l1 2M216 248l0 3M142 255l-2 1M186 273l1 1M175 241l-2 1M189 282l3 0M127 249l0 3M187 237l1 1M269 251l1 2M61 290l1 -2M249 252l-3 -1M156 272l-2 -2M53 244l2 0M180 241l2 -1M14 257l2 0M143 237l2 0M275 258l-2 0M73 245l0 1M89 238l-2 2M110 281l-1 1M277 265l0 2M257 284l-2 -1M118 273l0 -1M66 268l-1 2M102 240l1 2M67 290l-2 -1M21 248l2 0M227 290l1 0M43 239l0 2M131 277l2 2M253 254l-1 2M103 264l-1 0M37 286l-1 1M257 235l-2 2M211 235l3 0M210 284l-1 3M124 251l-2 0M138 238l-2 2M82 253l-1 2M265 265l-2 0M17 283l2 -1M26 235l1 1M176 252l-2 0M228 289l-1 2M282 268l0 3M175 269l-1 -1M105 281l-1 1M122 283l1 0M205 270l1 1M96 276l0 2M260 271l-2 -1M92 235l1 2M272 269l2 0M71 262l0 1M252 238l1 1M117 239l0 3M246 285l0 2M85 261l-2 -1M187 276l1 1M248 286l-1 -1" stroke="#8d93b8" stroke-width="2.2"/>
</g>
<rect x="1418.50" y="316.00" width="42.00" height="8.20" fill="#000" stroke="none" stroke-width="0" />
<text  x="1471.50" y="325.50" font-size="14" font-weight="normal" font-style="normal" fill="#ffffff" text-anchor="start" ><tspan >100µm</tspan></text>
<text  x="1412.00" y="77.80" font-size="23" font-weight="bold" font-style="normal" fill="#000" text-anchor="start" ><tspan >WT (d10)</tspan></text>
</g>
<g clip-path="url(#cD2)">
<rect x="1268.00" y="343.00" width="293.00" height="291.00" fill="#f2f1f3" stroke="none" stroke-width="0" />
<path d="M1268.0,373.0 C1278.0,327.8 1308.0,365.5 1328.0,363.0 C1348.0,360.5 1364.7,357.2 1388.0,358.0 C1411.3,358.8 1439.2,367.2 1468.0,368.0 C1496.8,368.8 1545.5,318.7 1561.0,363.0 C1576.5,407.3 1609.8,588.8 1561.0,634.0 C1512.2,679.2 1316.8,677.5 1268.0,634.0 C1219.2,590.5 1258.0,418.2 1268.0,373.0 Z" fill="#dfe1ec" stroke="none" stroke-width="0" />
<g transform="translate(1268,343)" fill="none" stroke-linecap="round" >
<path d="M12 0l-3 1M9 0l-3 0M13 4l-3 0M15 8l-2 1M13 11l-2 1M21 19l-3 1M9 21l-3 0M21 26l-3 1M10 29l-2 -1M13 29l-2 0M15 33l-2 1M16 42l-2 0M14 42l-2 0M48 0l-3 0M42 3l-2 0M46 10l-3 1M41 16l-3 0M51 16l-3 1M45 24l-2 -1M51 32l-3 0M53 42l-3 0M51 48l-3 -1M42 47l-2 0M74 4l-3 0M70 11l-3 2M76 9l-3 2M81 11l-2 1M81 14l-2 0M75 18l-2 0M77 32l-3 -1M70 38l-2 0M76 41l-3 -1M82 46l-3 -1M76 45l-2 -1M79 44l-2 1M105 5l-2 1M106 4l-2 1M109 6l-2 1M100 15l-3 0M100 25l-3 -1M104 29l-3 0M105 33l-3 0M99 40l-3 0M106 47l-2 -1M108 46l-2 0M131 3l-3 1M129 5l-3 0M135 2l-3 2M133 7l-3 -1M131 8l-2 1M125 17l-2 0M138 20l-3 1M126 23l-3 -1M127 27l-2 -1M135 34l-2 -1M140 38l-2 -1M138 46l-3 1M158 7l-2 1M167 7l-3 1M167 13l-2 0M171 16l-2 1M167 26l-3 -2M167 28l-2 0M170 41l-3 0M196 -2l-3 0M190 9l-3 1M193 8l-3 0M201 14l-3 1M192 20l-3 0M201 18l-3 2M193 22l-2 0M202 24l-2 0M201 37l-2 0M200 43l-3 0M200 47l-2 0M217 5l-3 -1M218 8l-3 1M213 17l-3 0M225 16l-3 1M230 20l-3 1M221 23l-3 -1M222 24l-3 0M223 34l-3 0M218 37l-3 0M224 43l-3 -1M224 46l-2 0M213 46l-2 0M241 3l-3 0M253 12l-3 0M254 13l-3 0M247 29l-2 0M243 35l-2 -1M255 42l-3 -1M245 45l-3 -1M278 -1l-3 1M271 4l-3 1M274 6l-3 -1M273 11l-2 0M277 11l-2 0M277 8l-3 1M276 19l-3 0M273 25l-2 -1M279 29l-3 -1M280 35l-2 0M278 37l-3 0M278 37l-3 0M277 44l-2 1M282 45l-3 1" stroke="#b88a66" stroke-width="2.6"/>
<path d="M17 1l-3 0M16 3l-2 1M8 6l-3 0M18 4l-3 1M18 11l-3 1M18 15l-3 1M11 19l-2 1M20 19l-3 0M11 23l-2 1M21 24l-3 1M12 35l-2 0M14 36l-3 1M12 39l-3 0M20 45l-3 -1M12 48l-3 -2M11 46l-3 -1M43 5l-3 0M44 7l-3 0M44 6l-3 1M41 9l-2 0M49 17l-2 1M53 20l-3 -1M51 21l-2 1M57 25l-2 -1M54 27l-3 -1M54 27l-2 -1M53 32l-3 0M46 34l-2 -1M54 34l-3 1M48 37l-3 0M53 41l-3 1M80 -1l-3 0M70 2l-3 0M73 3l-2 1M73 6l-2 0M74 8l-3 1M80 12l-2 1M80 17l-3 0M83 19l-3 1M79 35l-2 -1M73 36l-2 0M100 4l-3 -1M108 4l-2 -1M107 9l-3 1M106 12l-3 -1M105 13l-3 0M102 16l-2 1M110 21l-3 1M102 28l-2 -1M110 33l-3 -1M109 35l-3 1M110 40l-3 0M124 1l-3 1M128 1l-3 0M130 5l-4 -1M132 12l-3 0M133 15l-2 1M133 16l-2 1M129 17l-3 1M134 17l-3 1M136 40l-2 -1M132 40l-2 0M127 41l-3 -1M136 43l-2 1M132 47l-3 -1M126 46l-3 0M163 -1l-3 2M162 16l-2 1M170 28l-2 0M162 29l-3 0M169 36l-2 -1M168 36l-3 1M170 39l-2 0M163 40l-2 0M189 -1l-2 1M192 3l-3 0M193 4l-2 1M196 4l-2 0M197 11l-2 1M196 12l-2 0M199 16l-2 0M189 22l-2 1M191 23l-3 1M203 27l-2 0M194 33l-2 -1M190 32l-2 -1M193 41l-3 1M190 44l-3 0M187 47l-3 1M218 0l-3 1M225 1l-3 1M221 12l-3 1M221 12l-4 0M217 19l-3 0M218 25l-3 1M222 28l-2 0M217 31l-2 -1M218 31l-3 -1M221 37l-2 0M227 42l-2 -1M229 42l-3 -2M218 45l-4 0M253 -2l-2 1M241 0l-3 1M250 11l-2 0M249 12l-3 1M248 17l-2 0M249 20l-2 0M253 25l-2 -1M255 28l-3 1M256 30l-3 1M250 33l-3 0M248 36l-3 1M247 48l-2 -1M276 1l-2 1M275 4l-3 -1M273 3l-2 0M272 7l-2 1M280 10l-3 1M272 15l-3 1M280 17l-3 1M284 31l-3 0M280 42l-3 0M281 47l-3 -2M279 47l-3 0" stroke="#9c6a45" stroke-width="2.6"/>
<path d="M19 5l-4 0M11 14l-3 0M9 15l-3 1M19 30l-3 -1M21 32l-2 -1M11 33l-3 -1M16 36l-3 1M19 38l-4 0M10 43l-3 1M18 43l-3 0M13 47l-3 0M43 -1l-2 0M42 4l-3 1M47 11l-2 0M44 12l-2 1M52 12l-2 1M46 12l-3 0M51 15l-3 0M50 17l-2 1M48 22l-2 0M52 29l-3 0M45 38l-2 -1M45 38l-3 -1M50 39l-3 1M45 44l-3 1M49 45l-3 0M48 47l-3 -1M70 2l-2 1M82 12l-3 0M73 18l-2 1M80 23l-3 -1M78 26l-2 0M82 24l-2 0M81 26l-2 -1M82 28l-3 0M81 34l-3 -1M79 38l-3 -1M74 42l-3 -2M71 42l-2 0M82 49l-3 -1M69 45l-2 -1M107 0l-3 0M110 10l-2 0M111 10l-3 0M112 13l-3 2M103 21l-3 0M105 18l-3 1M105 23l-3 1M103 25l-2 0M107 29l-2 -1M111 31l-2 0M100 35l-2 -1M108 35l-3 0M105 38l-4 0M103 36l-4 0M105 42l-2 -1M112 44l-3 0M101 45l-3 1M127 7l-3 1M129 12l-3 0M129 19l-3 0M132 22l-2 -1M133 23l-2 0M133 24l-3 0M137 27l-3 -1M138 30l-3 0M127 29l-3 -1M127 31l-3 -2M129 30l-3 0M127 32l-2 -1M138 35l-3 0M135 35l-3 -1M130 44l-3 1M130 44l-3 1M168 -2l-3 1M169 3l-3 0M171 2l-3 0M169 6l-4 0M161 5l-3 2M166 10l-3 0M162 9l-3 -1M172 12l-2 0M172 10l-3 0M171 14l-2 1M161 17l-3 0M169 18l-3 1M169 17l-3 0M171 19l-3 1M166 22l-3 0M164 26l-3 -1M173 31l-3 -1M170 34l-4 0M173 42l-3 -1M171 43l-3 1M162 43l-3 -1M167 47l-2 1M163 47l-2 0M193 3l-3 1M187 3l-2 0M187 6l-3 1M195 10l-2 0M192 11l-2 1M191 15l-3 2M195 19l-3 1M202 22l-3 0M194 26l-3 0M196 32l-3 0M200 34l-4 -1M200 36l-3 0M202 36l-3 0M193 38l-2 -1M195 39l-2 0M194 45l-2 -1M195 44l-3 -1M226 5l-3 0M218 10l-3 0M223 11l-3 1M215 20l-2 1M222 18l-3 0M223 25l-3 -1M223 28l-2 0M225 32l-3 -1M221 36l-3 0M223 41l-3 0M254 3l-3 1M251 5l-3 1M245 7l-3 1M243 11l-3 1M243 10l-3 2M250 17l-3 1M245 20l-2 1M246 23l-3 2M247 25l-2 1M250 27l-3 0M259 29l-2 0M246 32l-2 -1M249 34l-3 1M250 37l-2 -1M251 39l-3 1M244 40l-3 0M258 44l-2 -1M247 46l-3 -1M249 47l-3 1M272 7l-4 0M282 12l-3 1M271 13l-3 1M274 15l-2 1M271 20l-2 0M277 21l-3 1M281 26l-3 1M276 30l-3 -1M279 29l-3 0M271 33l-3 -1M283 36l-3 1M282 34l-3 1M280 38l-2 0M278 39l-2 0M273 44l-2 0M282 47l-3 -1" stroke="#8a5a36" stroke-width="2.6"/>
</g>
<path d="M1403 381h0M1497 456h0M1528 458h0M1320 473h0M1461 477h0M1296 521h0M1497 590h0M1327 615h0" stroke="#c3c7dc" stroke-width="26.0" stroke-linecap="round" fill="none" />
<path d="M1308 409h0M1554 409h0M1349 426h0M1486 429h0M1516 427h0M1282 453h0M1394 449h0M1301 481h0M1403 477h0M1536 479h0M1496 497h0M1406 528h0M1515 526h0M1367 547h0M1396 549h0M1470 551h0M1463 570h0M1279 595h0M1449 591h0M1473 596h0M1299 618h0M1436 620h0M1368 640h0M1421 640h0M1468 643h0M1530 642h0" stroke="#c3c7dc" stroke-width="27.0" stroke-linecap="round" fill="none" />
<path d="M1349 379h0M1460 379h0M1471 411h0M1294 427h0M1381 432h0M1570 426h0M1271 475h0M1429 474h0M1282 496h0M1309 504h0M1394 505h0M1529 503h0M1269 524h0M1279 546h0M1443 551h0M1268 568h0M1509 568h0M1394 593h0M1490 622h0" stroke="#c3c7dc" stroke-width="28.0" stroke-linecap="round" fill="none" />
<path d="M1267 385h0M1327 383h0M1537 387h0M1567 382h0M1445 405h0M1531 406h0M1271 430h0M1328 429h0M1543 432h0M1342 456h0M1362 458h0M1446 453h0M1476 452h0M1379 474h0M1516 473h0M1361 501h0M1420 501h0M1354 526h0M1376 523h0M1463 526h0M1544 523h0M1310 544h0M1501 545h0M1553 547h0M1353 567h0M1403 566h0M1428 569h0M1489 574h0M1365 595h0M1417 593h0M1350 618h0M1375 620h0M1461 622h0M1536 617h0M1280 645h0M1391 638h0M1441 641h0M1496 645h0M1551 641h0" stroke="#c3c7dc" stroke-width="29.0" stroke-linecap="round" fill="none" />
<path d="M1297 380h0M1379 379h0M1512 380h0M1342 410h0M1367 407h0M1388 406h0M1495 403h0M1488 480h0M1569 475h0M1555 496h0M1323 522h0M1432 524h0M1417 549h0M1374 572h0M1540 568h0M1314 597h0M1335 590h0M1526 596h0M1270 617h0M1402 621h0M1517 622h0M1568 620h0M1338 644h0" stroke="#c3c7dc" stroke-width="30.0" stroke-linecap="round" fill="none" />
<path d="M1436 385h0M1486 380h0M1281 402h0M1416 410h0M1407 432h0M1436 429h0M1463 431h0M1307 452h0M1422 456h0M1554 455h0M1351 474h0M1338 501h0M1442 503h0M1471 499h0M1488 525h0M1570 528h0M1334 546h0M1524 546h0M1295 568h0M1320 574h0M1570 575h0M1550 591h0M1314 639h0" stroke="#c3c7dc" stroke-width="31.0" stroke-linecap="round" fill="none" />
<path d="M1403 381h0M1349 426h0M1516 427h0M1497 456h0M1528 458h0M1320 473h0M1461 477h0M1496 497h0M1296 521h0M1406 528h0M1279 595h0M1449 591h0M1497 590h0M1299 618h0M1327 615h0M1368 640h0" stroke="#ebe8ea" stroke-width="21.0" stroke-linecap="round" fill="none" />
<path d="M1308 409h0M1554 409h0M1486 429h0M1570 426h0M1282 453h0M1394 449h0M1301 481h0M1403 477h0M1536 479h0M1515 526h0M1367 547h0M1396 549h0M1470 551h0M1463 570h0M1394 593h0M1473 596h0M1436 620h0M1421 640h0M1468 643h0M1530 642h0" stroke="#ebe8ea" stroke-width="22.0" stroke-linecap="round" fill="none" />
<path d="M1349 379h0M1460 379h0M1537 387h0M1567 382h0M1445 405h0M1471 411h0M1294 427h0M1381 432h0M1543 432h0M1342 456h0M1271 475h0M1429 474h0M1516 473h0M1282 496h0M1309 504h0M1394 505h0M1529 503h0M1269 524h0M1354 526h0M1376 523h0M1279 546h0M1443 551h0M1268 568h0M1428 569h0M1509 568h0M1365 595h0M1490 622h0" stroke="#ebe8ea" stroke-width="23.0" stroke-linecap="round" fill="none" />
<path d="M1267 385h0M1327 383h0M1531 406h0M1271 430h0M1328 429h0M1362 458h0M1446 453h0M1476 452h0M1379 474h0M1361 501h0M1420 501h0M1555 496h0M1463 526h0M1544 523h0M1310 544h0M1417 549h0M1501 545h0M1553 547h0M1353 567h0M1403 566h0M1489 574h0M1417 593h0M1526 596h0M1350 618h0M1375 620h0M1461 622h0M1536 617h0M1568 620h0M1280 645h0M1391 638h0M1441 641h0M1496 645h0M1551 641h0" stroke="#ebe8ea" stroke-width="24.0" stroke-linecap="round" fill="none" />
<path d="M1297 380h0M1379 379h0M1436 385h0M1512 380h0M1281 402h0M1342 410h0M1367 407h0M1388 406h0M1495 403h0M1554 455h0M1351 474h0M1488 480h0M1569 475h0M1323 522h0M1432 524h0M1488 525h0M1374 572h0M1540 568h0M1314 597h0M1335 590h0M1270 617h0M1402 621h0M1517 622h0M1338 644h0" stroke="#ebe8ea" stroke-width="25.0" stroke-linecap="round" fill="none" />
<path d="M1486 380h0M1416 410h0M1407 432h0M1436 429h0M1463 431h0M1307 452h0M1422 456h0M1338 501h0M1442 503h0M1471 499h0M1570 528h0M1334 546h0M1524 546h0M1295 568h0M1320 574h0M1570 575h0M1550 591h0M1314 639h0" stroke="#ebe8ea" stroke-width="26.0" stroke-linecap="round" fill="none" />
<g filter="url(#spk2)">
<path d="M1497 456h0M1528 458h0M1320 473h0" stroke="#7c4524" stroke-width="22.0" stroke-linecap="round" fill="none" />
<path d="M1403 381h0M1308 409h0M1554 409h0M1516 427h0M1282 453h0M1394 449h0M1301 481h0M1461 477h0M1536 479h0M1496 497h0M1449 591h0M1497 590h0M1299 618h0M1421 640h0" stroke="#7c4524" stroke-width="23.0" stroke-linecap="round" fill="none" />
<path d="M1471 411h0M1294 427h0M1486 429h0M1570 426h0M1271 475h0M1429 474h0M1282 496h0M1309 504h0M1268 568h0M1509 568h0M1490 622h0" stroke="#7c4524" stroke-width="24.0" stroke-linecap="round" fill="none" />
<path d="M1327 383h0M1537 387h0M1567 382h0M1531 406h0M1271 430h0M1328 429h0M1543 432h0M1342 456h0M1476 452h0M1516 473h0M1361 501h0M1529 503h0M1555 496h0M1463 526h0M1544 523h0M1310 544h0M1501 545h0M1489 574h0M1280 645h0M1391 638h0" stroke="#7c4524" stroke-width="25.0" stroke-linecap="round" fill="none" />
<path d="M1297 380h0M1379 379h0M1512 380h0M1342 410h0M1388 406h0M1554 455h0M1488 480h0M1569 475h0M1323 522h0M1417 549h0M1314 597h0" stroke="#7c4524" stroke-width="26.0" stroke-linecap="round" fill="none" />
<path d="M1436 385h0M1486 380h0M1416 410h0M1407 432h0M1436 429h0M1463 431h0M1307 452h0M1422 456h0M1351 474h0M1338 501h0M1442 503h0M1471 499h0M1488 525h0M1570 528h0" stroke="#7c4524" stroke-width="27.0" stroke-linecap="round" fill="none" />
<path d="M1349 426h0M1403 477h0M1296 521h0M1406 528h0M1367 547h0M1396 549h0M1470 551h0M1463 570h0M1279 595h0M1473 596h0M1327 615h0M1436 620h0M1368 640h0M1468 643h0M1530 642h0" stroke="#7c4524" stroke-width="23.0" stroke-linecap="round" fill="none" opacity="0.5"/>
<path d="M1349 379h0M1460 379h0M1381 432h0M1394 505h0M1269 524h0M1515 526h0M1279 546h0M1443 551h0M1394 593h0" stroke="#7c4524" stroke-width="24.0" stroke-linecap="round" fill="none" opacity="0.5"/>
<path d="M1267 385h0M1445 405h0M1362 458h0M1446 453h0M1379 474h0M1420 501h0M1354 526h0M1376 523h0M1553 547h0M1353 567h0M1403 566h0M1428 569h0M1365 595h0M1417 593h0M1350 618h0M1375 620h0M1461 622h0M1536 617h0M1568 620h0M1441 641h0M1496 645h0M1551 641h0" stroke="#7c4524" stroke-width="25.0" stroke-linecap="round" fill="none" opacity="0.5"/>
<path d="M1367 407h0M1495 403h0M1432 524h0M1374 572h0M1540 568h0M1335 590h0M1526 596h0M1270 617h0M1402 621h0M1517 622h0M1338 644h0" stroke="#7c4524" stroke-width="26.0" stroke-linecap="round" fill="none" opacity="0.5"/>
<path d="M1281 402h0M1334 546h0M1524 546h0M1295 568h0M1320 574h0M1570 575h0M1550 591h0M1314 639h0" stroke="#7c4524" stroke-width="27.0" stroke-linecap="round" fill="none" opacity="0.5"/>
</g>
<path d="M1487 430h0M1527 459h0M1319 473h0M1404 477h0M1297 521h0M1366 547h0M1396 548h0M1280 596h0M1449 590h0M1368 641h0M1421 641h0M1531 642h0" stroke="#fbfafa" stroke-width="13.0" stroke-linecap="round" fill="none" />
<path d="M1568 383h0M1516 426h0M1542 433h0M1497 456h0M1269 475h0M1301 481h0M1537 480h0M1394 504h0M1270 524h0M1433 525h0M1443 550h0M1394 594h0M1349 619h0M1488 621h0M1281 645h0" stroke="#fbfafa" stroke-width="14.0" stroke-linecap="round" fill="none" />
<path d="M1327 382h0M1435 385h0M1342 410h0M1388 408h0M1470 411h0M1272 430h0M1342 456h0M1364 457h0M1475 452h0M1489 481h0M1308 503h0M1279 544h0M1333 545h0M1502 545h0M1374 573h0M1428 568h0M1464 570h0M1314 597h0M1365 595h0M1471 597h0M1496 592h0M1327 615h0M1375 620h0M1402 621h0M1461 621h0M1534 617h0M1568 621h0" stroke="#fbfafa" stroke-width="15.0" stroke-linecap="round" fill="none" />
<path d="M1296 381h0M1348 378h0M1404 381h0M1461 378h0M1485 380h0M1510 380h0M1538 386h0M1310 408h0M1368 409h0M1445 405h0M1495 402h0M1530 405h0M1553 409h0M1294 427h0M1329 427h0M1349 427h0M1569 427h0M1307 451h0M1395 448h0M1421 456h0M1446 454h0M1428 474h0M1460 478h0M1360 500h0M1419 499h0M1442 504h0M1496 497h0M1554 495h0M1408 528h0M1489 526h0M1470 551h0M1552 547h0M1267 569h0M1351 567h0M1571 576h0M1299 618h0M1436 619h0M1517 623h0M1313 639h0" stroke="#fbfafa" stroke-width="16.0" stroke-linecap="round" fill="none" />
<path d="M1266 386h0M1382 433h0M1281 452h0M1379 473h0M1568 476h0M1282 496h0M1529 502h0M1354 525h0M1462 527h0M1516 526h0M1543 524h0M1524 546h0M1321 573h0M1488 574h0M1510 569h0M1418 592h0M1525 597h0M1270 617h0M1441 642h0M1468 642h0M1495 647h0M1551 641h0" stroke="#fbfafa" stroke-width="17.0" stroke-linecap="round" fill="none" />
<path d="M1379 378h0M1281 402h0M1407 433h0M1555 456h0M1516 471h0M1470 500h0M1324 523h0M1377 523h0M1309 544h0M1418 549h0M1402 567h0M1540 568h0M1336 590h0M1337 644h0M1390 638h0" stroke="#fbfafa" stroke-width="18.0" stroke-linecap="round" fill="none" />
<path d="M1415 409h0M1463 431h0M1350 474h0M1337 501h0M1571 529h0M1296 569h0" stroke="#fbfafa" stroke-width="19.0" stroke-linecap="round" fill="none" />
<path d="M1437 428h0M1550 591h0" stroke="#fbfafa" stroke-width="20.0" stroke-linecap="round" fill="none" />
<rect x="1283.30" y="618.00" width="41.80" height="7.60" fill="#000" stroke="none" stroke-width="0" />
<text  x="1335.00" y="626.00" font-size="14" font-weight="normal" font-style="normal" fill="#ffffff" text-anchor="start" ><tspan >100µm</tspan></text>
<text  x="1549.40" y="375.20" font-size="25.5" font-weight="bold" font-style="normal" fill="#000" text-anchor="end" ><tspan font-style="italic">Npm1</tspan><tspan font-size="17.34" dy="-10.71" font-style="italic">+/+</tspan><tspan dy="10.71"> (d7)</tspan></text>
</g>
<g clip-path="url(#cD3)">
<rect x="1561.00" y="343.00" width="293.00" height="291.00" fill="#f2f1f3" stroke="none" stroke-width="0" />
<path d="M1561.0,373.0 C1571.0,327.8 1601.0,365.5 1621.0,363.0 C1641.0,360.5 1657.7,357.2 1681.0,358.0 C1704.3,358.8 1732.2,367.2 1761.0,368.0 C1789.8,368.8 1838.5,318.7 1854.0,363.0 C1869.5,407.3 1902.8,588.8 1854.0,634.0 C1805.2,679.2 1609.8,677.5 1561.0,634.0 C1512.2,590.5 1551.0,418.2 1561.0,373.0 Z" fill="#dfe1ec" stroke="none" stroke-width="0" />
<g transform="translate(1561,343)" fill="none" stroke-linecap="round" >
<path d="M19 1l-3 1M22 -1l-2 0M25 1l-3 1M19 4l-3 0M14 7l-2 1M20 10l-3 2M25 15l-3 1M22 18l-2 1M21 22l-3 0M25 23l-3 -1M25 26l-2 -1M23 26l-3 0M24 26l-2 -1M22 26l-3 1M21 31l-3 0M20 32l-3 0M21 31l-3 -1M23 35l-3 -1M18 42l-2 -1M21 42l-3 1M22 45l-3 0M14 48l-3 -1M16 47l-2 0M21 48l-3 1M40 -1l-2 1M34 -1l-3 1M44 3l-3 0M41 2l-2 1M39 6l-3 1M38 6l-3 2M44 8l-3 1M39 11l-3 -1M38 11l-3 1M38 14l-3 0M41 13l-3 0M47 14l-2 0M40 19l-3 1M49 25l-3 0M49 27l-3 0M41 32l-2 -1M41 33l-3 -1M48 37l-3 -1M42 37l-2 1M45 40l-3 1M41 44l-3 0M77 0l-3 2M73 5l-2 0M69 9l-3 1M66 12l-2 1M71 15l-2 1M75 13l-3 1M77 19l-3 0M66 22l-2 1M68 24l-2 0M81 25l-3 0M72 28l-2 0M79 36l-2 -1M67 34l-3 -1M71 33l-3 1M70 37l-3 -2M70 38l-3 0M72 39l-2 0M73 40l-3 0M72 46l-3 0M76 46l-4 1M77 48l-3 -1M107 0l-3 -1M109 4l-3 -1M109 6l-2 0M105 9l-2 0M113 13l-3 -1M103 19l-2 1M107 20l-3 1M108 19l-4 1M114 24l-3 0M104 30l-3 -1M112 27l-3 0M114 33l-2 -1M113 34l-3 1M112 36l-2 -1M104 37l-3 0M115 39l-3 -1M106 41l-3 -1M110 42l-2 -1M108 45l-2 0M105 42l-3 0M128 0l-3 1M127 3l-3 1M124 8l-2 0M125 10l-3 2M132 11l-3 1M134 19l-3 0M136 20l-3 0M135 20l-3 0M134 21l-3 0M127 24l-3 0M136 28l-3 1M135 33l-3 -1M129 33l-3 0M138 38l-3 0M134 39l-2 -1M138 39l-3 0M130 39l-3 0M136 43l-2 0M162 -1l-2 1M153 4l-3 0M155 3l-2 0M161 4l-3 0M160 7l-3 1M160 10l-2 1M157 13l-2 0M162 15l-2 1M166 16l-2 1M154 25l-2 0M158 26l-3 0M158 31l-3 1M165 35l-2 0M165 37l-3 0M163 41l-3 0M163 44l-3 -1M162 43l-3 -1M154 45l-2 1M189 0l-2 1M190 1l-2 0M186 4l-3 0M191 7l-3 -1M197 8l-3 1M194 11l-3 1M196 14l-3 0M187 20l-2 1M197 20l-2 0M196 27l-2 -1M190 28l-3 -1M192 31l-3 -1M198 31l-3 1M198 34l-3 0M189 41l-3 0M197 46l-3 1M193 48l-3 0M195 48l-3 -1M222 2l-3 1M225 3l-2 1M216 6l-2 0M219 6l-2 0M219 12l-2 0M225 15l-3 2M213 18l-2 1M213 18l-2 0M217 19l-3 -1M218 21l-3 -1M224 17l-3 1M225 23l-3 -1M216 21l-3 1M221 25l-2 -1M215 29l-3 0M222 27l-3 0M214 32l-2 -1M218 34l-2 0M219 35l-3 0M226 41l-2 0M218 39l-3 1M221 45l-3 0M217 45l-2 -1M245 0l-3 0M245 -1l-2 0M245 4l-2 0M254 4l-2 1M247 10l-3 -1M256 7l-2 1M258 12l-3 1M250 15l-3 0M247 23l-3 1M250 23l-3 0M259 27l-3 0M259 30l-3 -2M253 29l-3 0M258 31l-3 -1M252 36l-3 -1M248 38l-3 -1M254 37l-4 0M252 45l-2 -1M256 43l-3 0M248 46l-2 -1M273 0l-2 1M270 0l-2 0M267 2l-2 0M275 3l-3 1M267 5l-2 0M273 5l-3 1M270 8l-2 1M269 6l-3 1M282 8l-2 0M276 13l-2 1M269 14l-3 1M272 18l-2 0M275 21l-2 0M283 25l-3 0M285 28l-3 0M282 30l-3 0M274 31l-2 0M276 30l-4 -1M282 36l-3 -1M281 34l-3 -1M277 34l-4 0M274 38l-3 0M276 41l-2 -1M278 43l-3 0M280 45l-2 -1M272 43l-2 -1M281 47l-3 0" stroke="#b7b9cf" stroke-width="2.6"/>
<path d="M20 0l-3 1M15 5l-3 1M23 6l-3 0M14 10l-2 1M22 13l-3 0M18 14l-2 1M27 16l-3 0M28 18l-3 0M25 19l-2 0M21 26l-3 0M22 28l-3 0M27 39l-2 0M25 39l-2 -1M21 38l-3 0M15 45l-2 0M41 1l-2 1M40 14l-2 1M44 17l-3 -1M47 19l-3 -1M42 18l-2 1M43 20l-2 1M46 26l-2 0M53 29l-2 -1M45 30l-3 0M39 34l-3 1M41 36l-2 0M40 41l-2 0M48 41l-3 1M45 44l-2 0M43 47l-2 0M52 47l-3 0M70 -1l-3 0M65 1l-2 0M64 8l-3 0M70 5l-3 0M69 10l-3 1M70 11l-3 0M79 11l-3 0M77 14l-3 1M68 20l-2 0M70 22l-3 -1M68 22l-3 -1M72 23l-3 1M77 29l-3 0M69 28l-2 0M77 32l-2 0M76 38l-2 0M76 41l-3 0M67 43l-3 0M77 43l-2 -1M110 2l-3 1M102 4l-3 1M109 5l-2 1M102 15l-3 -1M107 14l-2 0M115 19l-2 0M107 23l-3 0M105 22l-3 -1M111 25l-3 0M105 29l-3 1M106 33l-3 -1M113 33l-2 -1M103 34l-3 -1M112 40l-2 0M105 46l-3 0M110 47l-3 -1M108 47l-3 -1M133 -1l-3 1M126 1l-3 0M129 3l-3 0M125 7l-3 0M129 8l-3 0M125 13l-3 1M127 13l-3 1M125 17l-2 0M132 14l-2 0M130 26l-3 -1M138 30l-2 -1M125 31l-3 0M133 34l-3 -1M140 34l-3 0M127 40l-2 0M136 42l-2 0M133 43l-3 -1M135 44l-3 -1M135 48l-3 -1M133 46l-3 -1M156 -1l-2 1M159 5l-2 0M157 8l-2 0M162 8l-2 0M164 12l-3 0M157 12l-2 1M160 16l-2 1M165 14l-2 1M167 16l-3 1M166 18l-3 -1M157 22l-3 1M166 26l-3 0M157 28l-2 0M169 30l-3 -1M166 31l-3 -1M165 32l-2 -1M161 36l-3 -1M166 36l-2 -1M158 37l-3 0M164 38l-3 1M168 42l-3 -1M167 43l-3 -1M163 47l-2 1M194 1l-3 0M190 2l-3 0M188 8l-3 0M193 5l-2 0M190 9l-3 0M193 11l-3 1M192 14l-3 -1M190 17l-3 0M192 14l-3 1M192 18l-3 1M194 19l-3 1M201 20l-3 1M192 22l-2 0M192 24l-3 0M199 26l-3 0M190 28l-2 1M195 36l-2 -1M191 35l-3 0M200 39l-3 -1M189 36l-3 0M195 38l-3 0M196 41l-2 0M194 45l-3 0M189 43l-3 0M192 44l-2 0M222 -2l-3 1M224 -3l-2 1M210 3l-3 0M224 6l-2 0M218 11l-3 -1M219 10l-3 -1M226 9l-2 0M226 11l-3 1M224 26l-3 -1M216 26l-3 1M220 26l-2 1M222 32l-3 -1M221 33l-3 0M221 38l-2 0M218 36l-3 1M214 36l-2 0M220 42l-3 -1M216 46l-2 -1M216 46l-3 -1M254 0l-3 1M252 8l-3 -1M258 9l-2 0M252 11l-3 0M249 17l-2 0M249 17l-2 0M260 18l-3 0M254 17l-3 2M260 17l-2 0M255 22l-3 0M257 29l-3 1M259 33l-2 -1M247 33l-2 1M253 34l-3 0M256 36l-3 1M258 40l-3 0M255 40l-3 0M254 42l-3 -1M252 44l-3 0M259 46l-3 0M269 11l-2 0M282 12l-3 1M282 14l-3 1M273 16l-3 -1M277 19l-3 0M282 16l-3 2M281 22l-3 -1M273 21l-2 0M277 24l-3 0M273 24l-3 -1M271 36l-2 0M272 36l-3 0M277 42l-3 -1M281 46l-2 0M277 48l-2 0" stroke="#a9acc6" stroke-width="2.6"/>
</g>
<path d="M1567 380h0M1702 385h0M1640 479h0M1655 497h0M1711 549h0M1764 546h0M1848 549h0M1858 619h0M1603 638h0" stroke="#c3c7dc" stroke-width="26.0" stroke-linecap="round" fill="none" />
<path d="M1594 380h0M1588 429h0M1861 429h0M1681 453h0M1769 449h0M1821 453h0M1844 451h0M1696 477h0M1816 497h0M1860 521h0M1574 546h0M1701 573h0M1810 572h0M1605 592h0M1738 591h0M1842 591h0M1727 618h0M1834 621h0M1708 641h0M1736 640h0M1846 637h0" stroke="#c3c7dc" stroke-width="27.0" stroke-linecap="round" fill="none" />
<path d="M1642 387h0M1728 384h0M1831 387h0M1688 405h0M1791 406h0M1560 430h0M1781 431h0M1578 453h0M1599 458h0M1627 451h0M1661 451h0M1742 449h0M1833 474h0M1645 522h0M1696 520h0M1721 523h0M1749 524h0M1778 527h0M1658 544h0M1567 572h0M1672 574h0M1778 574h0M1856 572h0M1629 596h0M1708 591h0M1766 592h0M1591 616h0M1643 614h0M1809 617h0M1660 643h0M1686 643h0" stroke="#c3c7dc" stroke-width="28.0" stroke-linecap="round" fill="none" />
<path d="M1749 386h0M1807 385h0M1601 402h0M1626 410h0M1712 405h0M1823 411h0M1725 430h0M1756 432h0M1809 433h0M1837 426h0M1591 473h0M1618 473h0M1748 476h0M1857 480h0M1683 498h0M1716 497h0M1742 501h0M1683 551h0M1789 544h0M1822 545h0M1616 570h0M1725 573h0M1753 569h0M1681 598h0M1792 596h0M1756 622h0M1778 614h0" stroke="#c3c7dc" stroke-width="29.0" stroke-linecap="round" fill="none" />
<path d="M1672 387h0M1863 387h0M1573 409h0M1658 406h0M1739 406h0M1613 430h0M1645 427h0M1667 429h0M1792 452h0M1724 480h0M1633 499h0M1794 503h0M1562 525h0M1619 528h0M1599 552h0M1627 547h0M1740 550h0M1832 568h0M1579 591h0M1653 594h0M1619 615h0M1579 640h0M1627 639h0" stroke="#c3c7dc" stroke-width="30.0" stroke-linecap="round" fill="none" />
<path d="M1618 382h0M1783 385h0M1766 403h0M1846 403h0M1702 430h0M1710 456h0M1564 474h0M1672 481h0M1776 480h0M1806 476h0M1578 503h0M1601 500h0M1768 496h0M1847 504h0M1588 528h0M1669 520h0M1806 527h0M1832 520h0M1588 573h0M1641 570h0M1817 592h0M1566 618h0M1672 615h0M1702 618h0M1769 639h0M1795 637h0M1822 642h0" stroke="#c3c7dc" stroke-width="31.0" stroke-linecap="round" fill="none" />
<path d="M1567 380h0M1702 385h0M1844 451h0M1640 479h0M1655 497h0M1711 549h0M1764 546h0M1848 549h0M1738 591h0M1842 591h0M1858 619h0M1603 638h0M1736 640h0" stroke="#ebe8ea" stroke-width="21.0" stroke-linecap="round" fill="none" />
<path d="M1594 380h0M1588 429h0M1861 429h0M1578 453h0M1627 451h0M1661 451h0M1681 453h0M1769 449h0M1821 453h0M1696 477h0M1833 474h0M1816 497h0M1645 522h0M1860 521h0M1574 546h0M1672 574h0M1701 573h0M1810 572h0M1605 592h0M1629 596h0M1727 618h0M1809 617h0M1834 621h0M1708 641h0M1846 637h0" stroke="#ebe8ea" stroke-width="22.0" stroke-linecap="round" fill="none" />
<path d="M1642 387h0M1728 384h0M1831 387h0M1688 405h0M1791 406h0M1560 430h0M1756 432h0M1781 431h0M1599 458h0M1742 449h0M1618 473h0M1696 520h0M1721 523h0M1749 524h0M1778 527h0M1658 544h0M1789 544h0M1822 545h0M1567 572h0M1778 574h0M1856 572h0M1708 591h0M1766 592h0M1591 616h0M1643 614h0M1756 622h0M1660 643h0M1686 643h0" stroke="#ebe8ea" stroke-width="23.0" stroke-linecap="round" fill="none" />
<path d="M1749 386h0M1807 385h0M1863 387h0M1573 409h0M1601 402h0M1626 410h0M1658 406h0M1712 405h0M1739 406h0M1823 411h0M1725 430h0M1809 433h0M1837 426h0M1591 473h0M1748 476h0M1857 480h0M1633 499h0M1683 498h0M1716 497h0M1742 501h0M1683 551h0M1740 550h0M1616 570h0M1725 573h0M1753 569h0M1579 591h0M1681 598h0M1792 596h0M1778 614h0" stroke="#ebe8ea" stroke-width="24.0" stroke-linecap="round" fill="none" />
<path d="M1672 387h0M1613 430h0M1645 427h0M1667 429h0M1702 430h0M1792 452h0M1672 481h0M1724 480h0M1806 476h0M1601 500h0M1794 503h0M1562 525h0M1619 528h0M1599 552h0M1627 547h0M1832 568h0M1653 594h0M1817 592h0M1619 615h0M1579 640h0M1627 639h0" stroke="#ebe8ea" stroke-width="25.0" stroke-linecap="round" fill="none" />
<path d="M1618 382h0M1783 385h0M1766 403h0M1846 403h0M1710 456h0M1564 474h0M1776 480h0M1578 503h0M1768 496h0M1847 504h0M1588 528h0M1669 520h0M1806 527h0M1832 520h0M1588 573h0M1641 570h0M1566 618h0M1672 615h0M1702 618h0M1769 639h0M1795 637h0M1822 642h0" stroke="#ebe8ea" stroke-width="26.0" stroke-linecap="round" fill="none" />
<g filter="url(#spk2)">
<path d="M1640 479h0M1764 546h0M1848 549h0M1603 638h0" stroke="#7c4524" stroke-width="22.0" stroke-linecap="round" fill="none" />
<path d="M1588 429h0M1861 429h0M1681 453h0M1769 449h0M1844 451h0M1696 477h0M1655 497h0M1816 497h0M1860 521h0M1574 546h0M1711 549h0M1701 573h0M1810 572h0M1605 592h0M1738 591h0M1727 618h0M1834 621h0M1858 619h0M1736 640h0" stroke="#7c4524" stroke-width="23.0" stroke-linecap="round" fill="none" />
<path d="M1560 430h0M1781 431h0M1578 453h0M1599 458h0M1627 451h0M1661 451h0M1742 449h0M1821 453h0M1833 474h0M1645 522h0M1696 520h0M1721 523h0M1749 524h0M1778 527h0M1658 544h0M1567 572h0M1672 574h0M1778 574h0M1856 572h0M1629 596h0M1708 591h0M1591 616h0M1643 614h0M1809 617h0M1660 643h0M1686 643h0" stroke="#7c4524" stroke-width="24.0" stroke-linecap="round" fill="none" />
<path d="M1725 430h0M1837 426h0M1591 473h0M1748 476h0M1683 498h0M1716 497h0M1742 501h0M1683 551h0M1789 544h0M1616 570h0M1753 569h0M1681 598h0M1766 592h0M1792 596h0M1756 622h0M1778 614h0" stroke="#7c4524" stroke-width="25.0" stroke-linecap="round" fill="none" />
<path d="M1613 430h0M1645 427h0M1667 429h0M1702 430h0M1792 452h0M1672 481h0M1724 480h0M1806 476h0M1633 499h0M1794 503h0M1562 525h0M1599 552h0M1627 547h0M1740 550h0M1832 568h0M1579 591h0M1627 639h0" stroke="#7c4524" stroke-width="26.0" stroke-linecap="round" fill="none" />
<path d="M1710 456h0M1564 474h0M1776 480h0M1578 503h0M1601 500h0M1847 504h0M1588 528h0M1669 520h0M1806 527h0M1832 520h0M1588 573h0M1641 570h0M1817 592h0M1566 618h0M1672 615h0M1702 618h0M1769 639h0M1822 642h0" stroke="#7c4524" stroke-width="27.0" stroke-linecap="round" fill="none" />
<path d="M1567 380h0" stroke="#7c4524" stroke-width="22.0" stroke-linecap="round" fill="none" opacity="0.5"/>
<path d="M1594 380h0M1702 385h0M1842 591h0M1708 641h0M1846 637h0" stroke="#7c4524" stroke-width="23.0" stroke-linecap="round" fill="none" opacity="0.5"/>
<path d="M1642 387h0M1728 384h0M1831 387h0M1688 405h0M1791 406h0" stroke="#7c4524" stroke-width="24.0" stroke-linecap="round" fill="none" opacity="0.5"/>
<path d="M1749 386h0M1807 385h0M1601 402h0M1626 410h0M1712 405h0M1823 411h0M1756 432h0M1809 433h0M1618 473h0M1857 480h0M1822 545h0M1725 573h0" stroke="#7c4524" stroke-width="25.0" stroke-linecap="round" fill="none" opacity="0.5"/>
<path d="M1672 387h0M1863 387h0M1573 409h0M1658 406h0M1739 406h0M1619 528h0M1653 594h0M1619 615h0M1579 640h0" stroke="#7c4524" stroke-width="26.0" stroke-linecap="round" fill="none" opacity="0.5"/>
<path d="M1618 382h0M1783 385h0M1766 403h0M1846 403h0M1768 496h0M1795 637h0" stroke="#7c4524" stroke-width="27.0" stroke-linecap="round" fill="none" opacity="0.5"/>
</g>
<path d="M1643 388h0M1680 452h0M1844 452h0M1847 548h0" stroke="#fbfafa" stroke-width="13.0" stroke-linecap="round" fill="none" />
<path d="M1596 381h0M1713 406h0M1560 430h0M1587 430h0M1780 430h0M1808 432h0M1838 427h0M1746 477h0M1857 479h0M1741 502h0M1763 544h0M1790 545h0M1615 569h0M1671 574h0M1779 573h0M1810 572h0M1832 568h0M1604 592h0M1629 594h0M1842 592h0M1859 618h0M1736 641h0" stroke="#fbfafa" stroke-width="14.0" stroke-linecap="round" fill="none" />
<path d="M1568 378h0M1672 387h0M1703 386h0M1728 385h0M1748 385h0M1808 386h0M1862 388h0M1792 407h0M1611 430h0M1645 427h0M1861 429h0M1577 452h0M1601 458h0M1662 451h0M1822 454h0M1640 480h0M1832 473h0M1654 496h0M1716 498h0M1750 523h0M1600 551h0M1627 546h0M1822 544h0M1700 573h0M1727 572h0M1682 598h0M1739 592h0M1818 590h0M1565 619h0M1643 613h0M1779 615h0M1809 616h0M1835 620h0M1604 639h0M1660 643h0M1686 644h0M1795 638h0M1847 637h0" stroke="#fbfafa" stroke-width="15.0" stroke-linecap="round" fill="none" />
<path d="M1618 381h0M1831 388h0M1572 408h0M1687 406h0M1667 429h0M1726 432h0M1755 434h0M1627 450h0M1741 449h0M1793 452h0M1619 472h0M1671 481h0M1578 504h0M1602 500h0M1632 499h0M1683 498h0M1815 496h0M1721 523h0M1831 518h0M1859 522h0M1575 545h0M1710 550h0M1740 551h0M1652 594h0M1707 591h0M1792 595h0M1620 615h0M1672 616h0M1728 618h0M1757 622h0" stroke="#fbfafa" stroke-width="16.0" stroke-linecap="round" fill="none" />
<path d="M1738 405h0M1767 404h0M1825 412h0M1703 429h0M1769 448h0M1564 475h0M1696 477h0M1724 479h0M1846 505h0M1561 525h0M1645 521h0M1670 520h0M1695 520h0M1778 525h0M1806 528h0M1657 542h0M1683 552h0M1567 571h0M1857 572h0M1579 591h0M1764 592h0M1591 617h0M1709 642h0M1823 641h0" stroke="#fbfafa" stroke-width="17.0" stroke-linecap="round" fill="none" />
<path d="M1784 385h0M1600 402h0M1625 410h0M1658 406h0M1847 404h0M1592 472h0M1805 476h0M1794 504h0M1619 529h0M1640 569h0M1752 568h0M1579 640h0M1768 640h0" stroke="#fbfafa" stroke-width="18.0" stroke-linecap="round" fill="none" />
<path d="M1709 455h0M1776 479h0M1767 495h0M1587 529h0M1588 572h0M1701 619h0M1628 639h0" stroke="#fbfafa" stroke-width="19.0" stroke-linecap="round" fill="none" />
<rect x="1576.30" y="618.00" width="41.80" height="7.60" fill="#000" stroke="none" stroke-width="0" />
<text  x="1628.00" y="626.00" font-size="14" font-weight="normal" font-style="normal" fill="#ffffff" text-anchor="start" ><tspan >100µm</tspan></text>
<text  x="1842.40" y="375.20" font-size="25.5" font-weight="bold" font-style="normal" fill="#000" text-anchor="end" ><tspan font-style="italic">Npm1</tspan><tspan font-size="17.34" dy="-10.71" font-style="italic">fl/fl</tspan><tspan dy="10.71"> (d7)</tspan></text>
</g>
<rect x="1401.50" y="44.50" width="292.50" height="291.00" fill="none" stroke="#1a1a1a" stroke-width="1.6" />
<rect x="1268.00" y="343.00" width="586.00" height="291.00" fill="none" stroke="#1a1a1a" stroke-width="1.6" />
<line x1="1561.00" y1="343.00" x2="1561.00" y2="634.00" stroke="#1a1a1a" stroke-width="1.6" stroke-linecap="butt" />
<g clip-path="url(#cI1)">
<rect x="1132.50" y="759.40" width="313.20" height="313.30" fill="#f7f7f8" stroke="none" stroke-width="0" />
<path d="M1132.5,1027.4 C1142.5,1031.1 1170.8,1043.7 1192.5,1049.4 C1214.2,1055.1 1239.2,1059.4 1262.5,1061.4 C1285.8,1063.4 1310.8,1062.7 1332.5,1061.4 C1354.2,1060.1 1373.5,1056.7 1392.5,1053.4 C1411.5,1050.1 1437.5,1043.4 1446.5,1041.4" fill="none" stroke="#dccbb3" stroke-width="7" stroke-linecap="round"/>
<path d="M1127.5,954.4 C1130.0,943.6 1137.5,911.6 1142.5,889.4 C1147.5,867.2 1155.0,832.7 1157.5,821.4" fill="none" stroke="#b4b8d6" stroke-width="32.6" stroke-linecap="round" stroke-linejoin="round" stroke-dasharray="1.6 1.3"/>
<path d="M1127.5,954.4 C1130.0,943.6 1137.5,911.6 1142.5,889.4 C1147.5,867.2 1155.0,832.7 1157.5,821.4" fill="none" stroke="#f7f7f8" stroke-width="30.2" stroke-linecap="round" stroke-linejoin="round"/>
<path d="M1127.5,954.4 C1130.0,943.6 1137.5,911.6 1142.5,889.4 C1147.5,867.2 1155.0,832.7 1157.5,821.4" fill="none" stroke="#e8e8f0" stroke-width="30.0" stroke-linecap="round" stroke-linejoin="round"/>
<path d="M1127.5,954.4 C1130.0,943.6 1137.5,911.6 1142.5,889.4 C1147.5,867.2 1155.0,832.7 1157.5,821.4" fill="none" stroke="#b4b8d6" stroke-width="1.5" stroke-linecap="round" stroke-dasharray="1.2 3" opacity="0.8"/>
<path d="M1226.5,749.4 C1225.0,761.1 1221.8,796.1 1217.5,819.4 C1213.2,842.7 1206.7,866.9 1200.5,889.4 C1194.3,911.9 1183.8,943.6 1180.5,954.4" fill="none" stroke="#b4b8d6" stroke-width="32.6" stroke-linecap="round" stroke-linejoin="round" stroke-dasharray="1.6 1.3"/>
<path d="M1226.5,749.4 C1225.0,761.1 1221.8,796.1 1217.5,819.4 C1213.2,842.7 1206.7,866.9 1200.5,889.4 C1194.3,911.9 1183.8,943.6 1180.5,954.4" fill="none" stroke="#f7f7f8" stroke-width="30.2" stroke-linecap="round" stroke-linejoin="round"/>
<path d="M1226.5,749.4 C1225.0,761.1 1221.8,796.1 1217.5,819.4 C1213.2,842.7 1206.7,866.9 1200.5,889.4 C1194.3,911.9 1183.8,943.6 1180.5,954.4" fill="none" stroke="#e8e8f0" stroke-width="30.0" stroke-linecap="round" stroke-linejoin="round"/>
<path d="M1226.5,749.4 C1225.0,761.1 1221.8,796.1 1217.5,819.4 C1213.2,842.7 1206.7,866.9 1200.5,889.4 C1194.3,911.9 1183.8,943.6 1180.5,954.4" fill="none" stroke="#b4b8d6" stroke-width="1.5" stroke-linecap="round" stroke-dasharray="1.2 3" opacity="0.8"/>
<path d="M1326.5,749.4 C1327.2,761.1 1328.3,796.1 1330.5,819.4 C1332.7,842.7 1336.7,865.2 1339.5,889.4 C1342.3,913.6 1346.2,951.9 1347.5,964.4" fill="none" stroke="#b4b8d6" stroke-width="34.6" stroke-linecap="round" stroke-linejoin="round" stroke-dasharray="1.6 1.3"/>
<path d="M1326.5,749.4 C1327.2,761.1 1328.3,796.1 1330.5,819.4 C1332.7,842.7 1336.7,865.2 1339.5,889.4 C1342.3,913.6 1346.2,951.9 1347.5,964.4" fill="none" stroke="#f7f7f8" stroke-width="32.2" stroke-linecap="round" stroke-linejoin="round"/>
<path d="M1326.5,749.4 C1327.2,761.1 1328.3,796.1 1330.5,819.4 C1332.7,842.7 1336.7,865.2 1339.5,889.4 C1342.3,913.6 1346.2,951.9 1347.5,964.4" fill="none" stroke="#e8e8f0" stroke-width="32.0" stroke-linecap="round" stroke-linejoin="round"/>
<path d="M1326.5,749.4 C1327.2,761.1 1328.3,796.1 1330.5,819.4 C1332.7,842.7 1336.7,865.2 1339.5,889.4 C1342.3,913.6 1346.2,951.9 1347.5,964.4" fill="none" stroke="#b4b8d6" stroke-width="1.5" stroke-linecap="round" stroke-dasharray="1.2 3" opacity="0.8"/>
<path d="M1270.5,974.4 L1272.5,919.4" fill="none" stroke="#b4b8d6" stroke-width="50.6" stroke-linecap="round" stroke-linejoin="round" stroke-dasharray="1.6 1.3"/>
<path d="M1270.5,974.4 L1272.5,919.4" fill="none" stroke="#f7f7f8" stroke-width="48.2" stroke-linecap="round" stroke-linejoin="round"/>
<path d="M1270.5,974.4 L1272.5,919.4" fill="none" stroke="#e8e8f0" stroke-width="48.0" stroke-linecap="round" stroke-linejoin="round"/>
<path d="M1270.5,974.4 L1272.5,919.4" fill="none" stroke="#b4b8d6" stroke-width="1.5" stroke-linecap="round" stroke-dasharray="1.2 3" opacity="0.8"/>
<path d="M1424.5,974.4 L1422.5,899.4" fill="none" stroke="#b4b8d6" stroke-width="54.6" stroke-linecap="round" stroke-linejoin="round" stroke-dasharray="1.6 1.3"/>
<path d="M1424.5,974.4 L1422.5,899.4" fill="none" stroke="#f7f7f8" stroke-width="52.2" stroke-linecap="round" stroke-linejoin="round"/>
<path d="M1424.5,974.4 L1422.5,899.4" fill="none" stroke="#e8e8f0" stroke-width="52.0" stroke-linecap="round" stroke-linejoin="round"/>
<path d="M1424.5,974.4 L1422.5,899.4" fill="none" stroke="#b4b8d6" stroke-width="1.5" stroke-linecap="round" stroke-dasharray="1.2 3" opacity="0.8"/>
<g filter="url(#spk)" opacity="0.4">
<path d="M1127.5,954.4 C1130.0,943.6 1137.5,911.6 1142.5,889.4 C1147.5,867.2 1155.0,832.7 1157.5,821.4" fill="none" stroke="#b4b8d6" stroke-width="30.0" stroke-linecap="round" stroke-linejoin="round"/>
<path d="M1226.5,749.4 C1225.0,761.1 1221.8,796.1 1217.5,819.4 C1213.2,842.7 1206.7,866.9 1200.5,889.4 C1194.3,911.9 1183.8,943.6 1180.5,954.4" fill="none" stroke="#b4b8d6" stroke-width="30.0" stroke-linecap="round" stroke-linejoin="round"/>
<path d="M1326.5,749.4 C1327.2,761.1 1328.3,796.1 1330.5,819.4 C1332.7,842.7 1336.7,865.2 1339.5,889.4 C1342.3,913.6 1346.2,951.9 1347.5,964.4" fill="none" stroke="#b4b8d6" stroke-width="32.0" stroke-linecap="round" stroke-linejoin="round"/>
<path d="M1270.5,974.4 L1272.5,919.4" fill="none" stroke="#b4b8d6" stroke-width="48.0" stroke-linecap="round" stroke-linejoin="round"/>
<path d="M1424.5,974.4 L1422.5,899.4" fill="none" stroke="#b4b8d6" stroke-width="52.0" stroke-linecap="round" stroke-linejoin="round"/>
<path d="M1132.5,949.4 C1142.5,939.1 1172.5,956.9 1192.5,959.4 C1212.5,961.9 1232.5,964.4 1252.5,964.4 C1272.5,964.4 1292.5,960.6 1312.5,959.4 C1332.5,958.2 1350.2,959.9 1372.5,957.4 C1394.8,954.9 1434.2,930.4 1446.5,944.4 C1458.8,958.4 1457.2,1022.9 1446.5,1041.4 C1435.8,1059.9 1406.5,1052.7 1382.5,1055.4 C1358.5,1058.1 1327.5,1058.1 1302.5,1057.4 C1277.5,1056.7 1254.2,1054.7 1232.5,1051.4 C1210.8,1048.1 1189.2,1042.4 1172.5,1037.4 C1155.8,1032.4 1139.2,1036.1 1132.5,1021.4 C1125.8,1006.7 1122.5,959.7 1132.5,949.4 Z" fill="#b4b8d6" stroke="none" stroke-width="0" />
</g>
<path d="M1132.5,949.4 C1142.5,939.1 1172.5,956.9 1192.5,959.4 C1212.5,961.9 1232.5,964.4 1252.5,964.4 C1272.5,964.4 1292.5,960.6 1312.5,959.4 C1332.5,958.2 1350.2,959.9 1372.5,957.4 C1394.8,954.9 1434.2,930.4 1446.5,944.4 C1458.8,958.4 1457.2,1022.9 1446.5,1041.4 C1435.8,1059.9 1406.5,1052.7 1382.5,1055.4 C1358.5,1058.1 1327.5,1058.1 1302.5,1057.4 C1277.5,1056.7 1254.2,1054.7 1232.5,1051.4 C1210.8,1048.1 1189.2,1042.4 1172.5,1037.4 C1155.8,1032.4 1139.2,1036.1 1132.5,1021.4 C1125.8,1006.7 1122.5,959.7 1132.5,949.4 Z" fill="#e8e8f0" stroke="none" stroke-width="0" />
<g filter="url(#spk3)">
<path d="M1413 994h0M1153 993h0M1380 1007h0M1281 991h0M1324 1007h0M1420 1020h0M1335 1041h0M1283 1000h0M1313 1031h0M1344 1030h0M1426 971h0M1422 1008h0M1390 1002h0M1217 1028h0M1372 1018h0M1267 1003h0M1394 1010h0M1164 991h0M1436 973h0M1302 1007h0M1252 1037h0M1393 1031h0M1295 1044h0M1270 1039h0M1167 982h0" stroke="#8a4a1c" stroke-width="10.0" stroke-linecap="round" fill="none" />
<path d="M1415 980h0M1373 994h0M1172 974h0M1239 1037h0M1434 1005h0M1371 1008h0M1315 967h0M1350 1029h0M1332 1030h0M1260 996h0M1250 968h0M1287 997h0M1366 1021h0M1283 1018h0M1328 978h0M1250 972h0M1189 1019h0M1279 976h0M1254 1036h0M1268 1043h0M1151 991h0M1299 977h0M1203 988h0M1159 1000h0M1352 983h0M1186 998h0M1165 1016h0M1136 997h0M1319 1028h0M1396 1021h0M1418 1009h0M1259 1016h0M1155 1011h0M1296 971h0M1387 974h0M1421 1022h0M1436 984h0M1275 970h0M1365 1020h0" stroke="#8a4a1c" stroke-width="12.0" stroke-linecap="round" fill="none" />
<path d="M1313 967h0M1330 1033h0M1335 1031h0M1337 998h0M1190 994h0M1251 1008h0M1441 997h0M1366 991h0M1238 999h0M1316 1035h0M1421 982h0M1306 997h0M1161 986h0M1329 1008h0M1183 999h0M1144 1014h0M1302 1015h0M1392 1022h0M1232 1035h0M1368 1001h0M1396 1026h0M1232 970h0M1380 1018h0M1211 1010h0M1201 1031h0M1319 1040h0M1201 1007h0M1342 990h0M1150 1001h0M1176 1001h0M1255 1021h0M1288 1038h0M1359 1023h0" stroke="#8a4a1c" stroke-width="14.0" stroke-linecap="round" fill="none" />
<path d="M1283 1000h0M1439 963h0M1428 992h0M1166 1014h0M1183 982h0M1224 1007h0M1390 1008h0M1252 1040h0M1272 997h0M1300 998h0M1225 1019h0M1267 1018h0M1268 999h0M1291 1040h0M1149 984h0M1169 1022h0M1385 1010h0M1196 980h0M1133 994h0M1281 1042h0M1360 1036h0M1414 1012h0M1245 1034h0M1355 1014h0M1200 999h0M1229 1035h0M1414 990h0M1414 985h0M1191 980h0M1250 1010h0M1156 992h0M1216 1025h0M1335 1010h0M1362 993h0M1273 1029h0M1277 1024h0M1334 1036h0" stroke="#8a4a1c" stroke-width="16.0" stroke-linecap="round" fill="none" />
<path d="M1345 998h0M1429 974h0M1188 985h0M1276 1008h0M1287 1036h0M1439 995h0M1246 1030h0M1278 1034h0M1315 1027h0M1325 1023h0M1310 1024h0M1419 998h0M1268 996h0M1381 1022h0M1446 1005h0M1151 1004h0M1242 1005h0M1423 996h0M1230 1011h0M1242 978h0M1163 1001h0M1389 1019h0M1143 1001h0M1358 1036h0M1347 1036h0M1350 1026h0M1160 998h0M1133 991h0M1306 1030h0M1263 1008h0M1190 994h0M1423 987h0M1326 985h0M1283 1003h0M1292 971h0M1420 997h0M1375 1011h0M1139 989h0M1443 986h0M1436 985h0" stroke="#8a4a1c" stroke-width="18.0" stroke-linecap="round" fill="none" />
<path d="M1328 1031h0M1422 969h0M1441 1013h0M1189 1027h0M1374 1024h0M1406 1016h0M1299 987h0M1226 1030h0M1205 984h0M1184 996h0M1261 968h0M1373 1034h0M1353 1012h0M1369 1024h0M1152 1004h0M1361 986h0M1385 1023h0M1140 1007h0" stroke="#8a4a1c" stroke-width="20.0" stroke-linecap="round" fill="none" />
<path d="M1398 999h0M1177 1012h0M1250 1025h0M1179 1019h0M1249 1015h0" stroke="#8a4a1c" stroke-width="22.0" stroke-linecap="round" fill="none" />
</g>
<line x1="1148.90" y1="1058.20" x2="1194.10" y2="1058.20" stroke="#555" stroke-width="1.4" stroke-linecap="butt" />
<line x1="1148.90" y1="1053.20" x2="1148.90" y2="1063.20" stroke="#555" stroke-width="1.4" stroke-linecap="butt" />
<line x1="1194.10" y1="1053.20" x2="1194.10" y2="1063.20" stroke="#555" stroke-width="1.4" stroke-linecap="butt" />
<text  x="1201.00" y="1062.70" font-size="12.5" font-weight="normal" font-style="normal" fill="#333" text-anchor="start" ><tspan >100µm</tspan></text>
</g>
<g clip-path="url(#cI2)">
<rect x="1445.70" y="759.40" width="314.30" height="313.30" fill="#f7f7f8" stroke="none" stroke-width="0" />
<path d="M1445.7,1027.4 C1455.7,1031.1 1484.0,1043.7 1505.7,1049.4 C1527.4,1055.1 1552.4,1059.4 1575.7,1061.4 C1599.0,1063.4 1624.0,1062.7 1645.7,1061.4 C1667.4,1060.1 1686.7,1056.7 1705.7,1053.4 C1724.7,1050.1 1750.7,1043.4 1759.7,1041.4" fill="none" stroke="#dccbb3" stroke-width="7" stroke-linecap="round"/>
<path d="M1440.7,954.4 C1443.2,943.6 1450.7,911.6 1455.7,889.4 C1460.7,867.2 1468.2,832.7 1470.7,821.4" fill="none" stroke="#1e1e1e" stroke-width="32.6" stroke-linecap="round" stroke-linejoin="round" stroke-dasharray="1.6 1.3"/>
<path d="M1440.7,954.4 C1443.2,943.6 1450.7,911.6 1455.7,889.4 C1460.7,867.2 1468.2,832.7 1470.7,821.4" fill="none" stroke="#f7f7f8" stroke-width="30.2" stroke-linecap="round" stroke-linejoin="round"/>
<path d="M1440.7,954.4 C1443.2,943.6 1450.7,911.6 1455.7,889.4 C1460.7,867.2 1468.2,832.7 1470.7,821.4" fill="none" stroke="#e8e8f0" stroke-width="30.0" stroke-linecap="round" stroke-linejoin="round"/>
<path d="M1440.7,954.4 C1443.2,943.6 1450.7,911.6 1455.7,889.4 C1460.7,867.2 1468.2,832.7 1470.7,821.4" fill="none" stroke="#333" stroke-width="1.5" stroke-linecap="round" stroke-dasharray="1.2 3" opacity="0.7"/>
<path d="M1539.7,749.4 C1538.2,761.1 1535.0,796.1 1530.7,819.4 C1526.4,842.7 1519.9,866.9 1513.7,889.4 C1507.5,911.9 1497.0,943.6 1493.7,954.4" fill="none" stroke="#1e1e1e" stroke-width="32.6" stroke-linecap="round" stroke-linejoin="round" stroke-dasharray="1.6 1.3"/>
<path d="M1539.7,749.4 C1538.2,761.1 1535.0,796.1 1530.7,819.4 C1526.4,842.7 1519.9,866.9 1513.7,889.4 C1507.5,911.9 1497.0,943.6 1493.7,954.4" fill="none" stroke="#f7f7f8" stroke-width="30.2" stroke-linecap="round" stroke-linejoin="round"/>
<path d="M1539.7,749.4 C1538.2,761.1 1535.0,796.1 1530.7,819.4 C1526.4,842.7 1519.9,866.9 1513.7,889.4 C1507.5,911.9 1497.0,943.6 1493.7,954.4" fill="none" stroke="#e8e8f0" stroke-width="30.0" stroke-linecap="round" stroke-linejoin="round"/>
<path d="M1539.7,749.4 C1538.2,761.1 1535.0,796.1 1530.7,819.4 C1526.4,842.7 1519.9,866.9 1513.7,889.4 C1507.5,911.9 1497.0,943.6 1493.7,954.4" fill="none" stroke="#333" stroke-width="1.5" stroke-linecap="round" stroke-dasharray="1.2 3" opacity="0.7"/>
<path d="M1639.7,749.4 C1640.4,761.1 1641.5,796.1 1643.7,819.4 C1645.9,842.7 1649.9,865.2 1652.7,889.4 C1655.5,913.6 1659.4,951.9 1660.7,964.4" fill="none" stroke="#1e1e1e" stroke-width="34.6" stroke-linecap="round" stroke-linejoin="round" stroke-dasharray="1.6 1.3"/>
<path d="M1639.7,749.4 C1640.4,761.1 1641.5,796.1 1643.7,819.4 C1645.9,842.7 1649.9,865.2 1652.7,889.4 C1655.5,913.6 1659.4,951.9 1660.7,964.4" fill="none" stroke="#f7f7f8" stroke-width="32.2" stroke-linecap="round" stroke-linejoin="round"/>
<path d="M1639.7,749.4 C1640.4,761.1 1641.5,796.1 1643.7,819.4 C1645.9,842.7 1649.9,865.2 1652.7,889.4 C1655.5,913.6 1659.4,951.9 1660.7,964.4" fill="none" stroke="#e8e8f0" stroke-width="32.0" stroke-linecap="round" stroke-linejoin="round"/>
<path d="M1639.7,749.4 C1640.4,761.1 1641.5,796.1 1643.7,819.4 C1645.9,842.7 1649.9,865.2 1652.7,889.4 C1655.5,913.6 1659.4,951.9 1660.7,964.4" fill="none" stroke="#333" stroke-width="1.5" stroke-linecap="round" stroke-dasharray="1.2 3" opacity="0.7"/>
<path d="M1583.7,974.4 L1585.7,919.4" fill="none" stroke="#1e1e1e" stroke-width="50.6" stroke-linecap="round" stroke-linejoin="round" stroke-dasharray="1.6 1.3"/>
<path d="M1583.7,974.4 L1585.7,919.4" fill="none" stroke="#f7f7f8" stroke-width="48.2" stroke-linecap="round" stroke-linejoin="round"/>
<path d="M1583.7,974.4 L1585.7,919.4" fill="none" stroke="#e8e8f0" stroke-width="48.0" stroke-linecap="round" stroke-linejoin="round"/>
<path d="M1583.7,974.4 L1585.7,919.4" fill="none" stroke="#333" stroke-width="1.5" stroke-linecap="round" stroke-dasharray="1.2 3" opacity="0.7"/>
<path d="M1737.7,974.4 L1735.7,899.4" fill="none" stroke="#1e1e1e" stroke-width="54.6" stroke-linecap="round" stroke-linejoin="round" stroke-dasharray="1.6 1.3"/>
<path d="M1737.7,974.4 L1735.7,899.4" fill="none" stroke="#f7f7f8" stroke-width="52.2" stroke-linecap="round" stroke-linejoin="round"/>
<path d="M1737.7,974.4 L1735.7,899.4" fill="none" stroke="#e8e8f0" stroke-width="52.0" stroke-linecap="round" stroke-linejoin="round"/>
<path d="M1737.7,974.4 L1735.7,899.4" fill="none" stroke="#333" stroke-width="1.5" stroke-linecap="round" stroke-dasharray="1.2 3" opacity="0.7"/>
<g filter="url(#spk)" opacity="0.22">
<path d="M1440.7,954.4 C1443.2,943.6 1450.7,911.6 1455.7,889.4 C1460.7,867.2 1468.2,832.7 1470.7,821.4" fill="none" stroke="#555" stroke-width="30.0" stroke-linecap="round" stroke-linejoin="round"/>
<path d="M1539.7,749.4 C1538.2,761.1 1535.0,796.1 1530.7,819.4 C1526.4,842.7 1519.9,866.9 1513.7,889.4 C1507.5,911.9 1497.0,943.6 1493.7,954.4" fill="none" stroke="#555" stroke-width="30.0" stroke-linecap="round" stroke-linejoin="round"/>
<path d="M1639.7,749.4 C1640.4,761.1 1641.5,796.1 1643.7,819.4 C1645.9,842.7 1649.9,865.2 1652.7,889.4 C1655.5,913.6 1659.4,951.9 1660.7,964.4" fill="none" stroke="#555" stroke-width="32.0" stroke-linecap="round" stroke-linejoin="round"/>
<path d="M1583.7,974.4 L1585.7,919.4" fill="none" stroke="#555" stroke-width="48.0" stroke-linecap="round" stroke-linejoin="round"/>
<path d="M1737.7,974.4 L1735.7,899.4" fill="none" stroke="#555" stroke-width="52.0" stroke-linecap="round" stroke-linejoin="round"/>
<path d="M1445.7,949.4 C1455.7,939.1 1485.7,956.9 1505.7,959.4 C1525.7,961.9 1545.7,964.4 1565.7,964.4 C1585.7,964.4 1605.7,960.6 1625.7,959.4 C1645.7,958.2 1663.4,959.9 1685.7,957.4 C1708.0,954.9 1747.4,930.4 1759.7,944.4 C1772.0,958.4 1770.4,1022.9 1759.7,1041.4 C1749.0,1059.9 1719.7,1052.7 1695.7,1055.4 C1671.7,1058.1 1640.7,1058.1 1615.7,1057.4 C1590.7,1056.7 1567.4,1054.7 1545.7,1051.4 C1524.0,1048.1 1502.4,1042.4 1485.7,1037.4 C1469.0,1032.4 1452.4,1036.1 1445.7,1021.4 C1439.0,1006.7 1435.7,959.7 1445.7,949.4 Z" fill="#555" stroke="none" stroke-width="0" />
</g>
<path d="M1445.7,949.4 C1455.7,939.1 1485.7,956.9 1505.7,959.4 C1525.7,961.9 1545.7,964.4 1565.7,964.4 C1585.7,964.4 1605.7,960.6 1625.7,959.4 C1645.7,958.2 1663.4,959.9 1685.7,957.4 C1708.0,954.9 1747.4,930.4 1759.7,944.4 C1772.0,958.4 1770.4,1022.9 1759.7,1041.4 C1749.0,1059.9 1719.7,1052.7 1695.7,1055.4 C1671.7,1058.1 1640.7,1058.1 1615.7,1057.4 C1590.7,1056.7 1567.4,1054.7 1545.7,1051.4 C1524.0,1048.1 1502.4,1042.4 1485.7,1037.4 C1469.0,1032.4 1452.4,1036.1 1445.7,1021.4 C1439.0,1006.7 1435.7,959.7 1445.7,949.4 Z" fill="#e8e8f0" stroke="none" stroke-width="0" />
<path d="M1445.7,949.4 C1455.7,939.1 1485.7,956.9 1505.7,959.4 C1525.7,961.9 1545.7,964.4 1565.7,964.4 C1585.7,964.4 1605.7,960.6 1625.7,959.4 C1645.7,958.2 1663.4,959.9 1685.7,957.4 C1708.0,954.9 1747.4,930.4 1759.7,944.4 C1772.0,958.4 1770.4,1022.9 1759.7,1041.4 C1749.0,1059.9 1719.7,1052.7 1695.7,1055.4 C1671.7,1058.1 1640.7,1058.1 1615.7,1057.4 C1590.7,1056.7 1567.4,1054.7 1545.7,1051.4 C1524.0,1048.1 1502.4,1042.4 1485.7,1037.4 C1469.0,1032.4 1452.4,1036.1 1445.7,1021.4 C1439.0,1006.7 1435.7,959.7 1445.7,949.4 Z" fill="none" stroke="#333" stroke-width="1.0" stroke-dasharray="1.4 1.8"/>
<g filter="url(#spk4)">
<path d="M1726 994h0M1466 993h0M1693 1007h0M1594 991h0M1637 1007h0M1734 1020h0M1648 1041h0M1597 1000h0M1626 1031h0M1657 1030h0M1740 971h0M1735 1008h0M1703 1002h0M1530 1028h0M1686 1018h0M1580 1003h0M1707 1010h0M1477 991h0M1749 973h0M1616 1007h0M1565 1037h0M1706 1031h0M1608 1044h0M1583 1039h0M1481 982h0" stroke="#2f8f2a" stroke-width="10.0" stroke-linecap="round" fill="none" />
<path d="M1729 980h0M1686 994h0M1485 974h0M1552 1037h0M1747 1005h0M1684 1008h0M1628 967h0M1663 1029h0M1646 1030h0M1573 996h0M1563 968h0M1600 997h0M1680 1021h0M1596 1018h0M1641 978h0M1563 972h0M1502 1019h0M1592 976h0M1567 1036h0M1581 1043h0M1465 991h0M1613 977h0M1516 988h0M1472 1000h0M1666 983h0M1499 998h0M1478 1016h0M1449 997h0M1632 1028h0M1709 1021h0M1731 1009h0M1572 1016h0M1468 1011h0M1609 971h0M1700 974h0M1735 1022h0M1749 984h0M1588 970h0M1678 1020h0" stroke="#2f8f2a" stroke-width="12.0" stroke-linecap="round" fill="none" />
<path d="M1626 967h0M1644 1033h0M1648 1031h0M1650 998h0M1503 994h0M1564 1008h0M1754 997h0M1679 991h0M1551 999h0M1630 1035h0M1734 982h0M1619 997h0M1474 986h0M1642 1008h0M1496 999h0M1458 1014h0M1615 1015h0M1705 1022h0M1545 1035h0M1682 1001h0M1710 1026h0M1545 970h0M1693 1018h0M1524 1010h0M1514 1031h0M1632 1040h0M1514 1007h0M1655 990h0M1463 1001h0M1489 1001h0M1568 1021h0M1601 1038h0M1672 1023h0" stroke="#2f8f2a" stroke-width="14.0" stroke-linecap="round" fill="none" />
<path d="M1597 1000h0M1752 963h0M1742 992h0M1480 1014h0M1496 982h0M1537 1007h0M1703 1008h0M1565 1040h0M1585 997h0M1613 998h0M1538 1019h0M1580 1018h0M1581 999h0M1605 1040h0M1463 984h0M1482 1022h0M1698 1010h0M1509 980h0M1446 994h0M1594 1042h0M1674 1036h0M1727 1012h0M1558 1034h0M1668 1014h0M1513 999h0M1542 1035h0M1727 990h0M1727 985h0M1504 980h0M1563 1010h0M1469 992h0M1529 1025h0M1648 1010h0M1675 993h0M1587 1029h0M1590 1024h0M1648 1036h0" stroke="#2f8f2a" stroke-width="16.0" stroke-linecap="round" fill="none" />
<path d="M1659 998h0M1743 974h0M1501 985h0M1589 1008h0M1601 1036h0M1752 995h0M1559 1030h0M1591 1034h0M1628 1027h0M1638 1023h0M1623 1024h0M1732 998h0M1582 996h0M1694 1022h0M1759 1005h0M1464 1004h0M1555 1005h0M1736 996h0M1544 1011h0M1556 978h0M1477 1001h0M1702 1019h0M1456 1001h0M1671 1036h0M1660 1036h0M1663 1026h0M1473 998h0M1447 991h0M1619 1030h0M1577 1008h0M1503 994h0M1737 987h0M1639 985h0M1596 1003h0M1605 971h0M1733 997h0M1688 1011h0M1452 989h0M1756 986h0M1750 985h0" stroke="#2f8f2a" stroke-width="18.0" stroke-linecap="round" fill="none" />
<path d="M1641 1031h0M1735 969h0M1754 1013h0M1503 1027h0M1687 1024h0M1719 1016h0M1612 987h0M1539 1030h0M1518 984h0M1497 996h0M1574 968h0M1687 1034h0M1667 1012h0M1682 1024h0M1465 1004h0M1675 986h0M1698 1023h0M1453 1007h0" stroke="#2f8f2a" stroke-width="20.0" stroke-linecap="round" fill="none" />
<path d="M1711 999h0M1490 1012h0M1563 1025h0M1492 1019h0M1562 1015h0" stroke="#2f8f2a" stroke-width="22.0" stroke-linecap="round" fill="none" />
</g>
<g filter="url(#spk3)">
<path d="M1726 994h0M1693 1007h0M1637 1007h0M1734 1020h0M1740 971h0M1735 1008h0M1703 1002h0M1530 1028h0M1686 1018h0M1580 1003h0M1707 1010h0M1749 973h0M1565 1037h0M1608 1044h0M1583 1039h0M1481 982h0" stroke="#1f6e1c" stroke-width="8.0" stroke-linecap="round" fill="none" opacity="0.8"/>
<path d="M1729 980h0M1686 994h0M1644 1033h0M1747 1005h0M1684 1008h0M1628 967h0M1573 996h0M1630 1035h0M1734 982h0M1563 972h0M1474 986h0M1642 1008h0M1592 976h0M1496 999h0M1666 983h0M1682 1001h0M1731 1009h0M1572 1016h0M1468 1011h0M1700 974h0M1514 1031h0M1735 1022h0M1749 984h0" stroke="#1f6e1c" stroke-width="10.0" stroke-linecap="round" fill="none" opacity="0.8"/>
<path d="M1597 1000h0M1742 992h0M1648 1031h0M1650 998h0M1503 994h0M1703 1008h0M1564 1008h0M1754 997h0M1551 999h0M1619 997h0M1463 984h0M1698 1010h0M1509 980h0M1594 1042h0M1458 1014h0M1674 1036h0M1727 1012h0M1545 970h0M1727 990h0M1693 1018h0M1469 992h0M1632 1040h0M1514 1007h0M1489 1001h0M1601 1038h0" stroke="#1f6e1c" stroke-width="12.0" stroke-linecap="round" fill="none" opacity="0.8"/>
<path d="M1743 974h0M1501 985h0M1589 1008h0M1752 995h0M1628 1027h0M1585 997h0M1538 1019h0M1732 998h0M1582 996h0M1759 1005h0M1464 1004h0M1668 1014h0M1456 1001h0M1660 1036h0M1663 1026h0M1473 998h0M1727 985h0M1577 1008h0M1503 994h0M1737 987h0M1639 985h0M1688 1011h0M1452 989h0M1756 986h0M1750 985h0M1648 1036h0" stroke="#1f6e1c" stroke-width="14.0" stroke-linecap="round" fill="none" opacity="0.8"/>
<path d="M1641 1031h0M1754 1013h0M1612 987h0M1518 984h0M1497 996h0M1574 968h0M1687 1034h0M1682 1024h0M1733 997h0" stroke="#1f6e1c" stroke-width="16.0" stroke-linecap="round" fill="none" opacity="0.8"/>
</g>
<line x1="1462.10" y1="1058.20" x2="1507.30" y2="1058.20" stroke="#555" stroke-width="1.4" stroke-linecap="butt" />
<line x1="1462.10" y1="1053.20" x2="1462.10" y2="1063.20" stroke="#555" stroke-width="1.4" stroke-linecap="butt" />
<line x1="1507.30" y1="1053.20" x2="1507.30" y2="1063.20" stroke="#555" stroke-width="1.4" stroke-linecap="butt" />
<text  x="1514.20" y="1062.70" font-size="12.5" font-weight="normal" font-style="normal" fill="#333" text-anchor="start" ><tspan >100µm</tspan></text>
</g>
<g clip-path="url(#cI3)">
<rect x="1132.50" y="1072.70" width="313.20" height="314.30" fill="#f7f7f8" stroke="none" stroke-width="0" />
<path d="M1137.5,1114.7 C1140.0,1114.0 1147.3,1110.0 1152.5,1110.7 C1157.7,1111.4 1167.2,1114.4 1168.5,1118.7 C1169.8,1123.0 1164.2,1131.0 1160.5,1136.7 C1156.8,1142.4 1150.3,1149.4 1146.5,1152.7 C1142.7,1156.0 1139.0,1156.0 1137.5,1156.7" fill="none" stroke="#b4b8d6" stroke-width="12.6" stroke-linecap="round" stroke-linejoin="round" stroke-dasharray="1.6 1.3"/>
<path d="M1137.5,1114.7 C1140.0,1114.0 1147.3,1110.0 1152.5,1110.7 C1157.7,1111.4 1167.2,1114.4 1168.5,1118.7 C1169.8,1123.0 1164.2,1131.0 1160.5,1136.7 C1156.8,1142.4 1150.3,1149.4 1146.5,1152.7 C1142.7,1156.0 1139.0,1156.0 1137.5,1156.7" fill="none" stroke="#f7f7f8" stroke-width="10.2" stroke-linecap="round" stroke-linejoin="round"/>
<path d="M1137.5,1114.7 C1140.0,1114.0 1147.3,1110.0 1152.5,1110.7 C1157.7,1111.4 1167.2,1114.4 1168.5,1118.7 C1169.8,1123.0 1164.2,1131.0 1160.5,1136.7 C1156.8,1142.4 1150.3,1149.4 1146.5,1152.7 C1142.7,1156.0 1139.0,1156.0 1137.5,1156.7" fill="none" stroke="#e8e8f0" stroke-width="10.0" stroke-linecap="round" stroke-linejoin="round"/>
<path d="M1162.5,1277.7 C1165.0,1270.2 1172.2,1246.9 1177.5,1232.7 C1182.8,1218.5 1187.3,1206.0 1194.5,1192.7 C1201.7,1179.4 1216.2,1159.4 1220.5,1152.7" fill="none" stroke="#b4b8d6" stroke-width="26.6" stroke-linecap="round" stroke-linejoin="round" stroke-dasharray="1.6 1.3"/>
<path d="M1162.5,1277.7 C1165.0,1270.2 1172.2,1246.9 1177.5,1232.7 C1182.8,1218.5 1187.3,1206.0 1194.5,1192.7 C1201.7,1179.4 1216.2,1159.4 1220.5,1152.7" fill="none" stroke="#f7f7f8" stroke-width="24.2" stroke-linecap="round" stroke-linejoin="round"/>
<path d="M1162.5,1277.7 C1165.0,1270.2 1172.2,1246.9 1177.5,1232.7 C1182.8,1218.5 1187.3,1206.0 1194.5,1192.7 C1201.7,1179.4 1216.2,1159.4 1220.5,1152.7" fill="none" stroke="#e8e8f0" stroke-width="24.0" stroke-linecap="round" stroke-linejoin="round"/>
<path d="M1162.5,1277.7 C1165.0,1270.2 1172.2,1246.9 1177.5,1232.7 C1182.8,1218.5 1187.3,1206.0 1194.5,1192.7 C1201.7,1179.4 1216.2,1159.4 1220.5,1152.7" fill="none" stroke="#b4b8d6" stroke-width="1.5" stroke-linecap="round" stroke-dasharray="1.2 3" opacity="0.8"/>
<path d="M1132.5,1202.7 C1134.5,1210.2 1142.5,1234.4 1144.5,1247.7 C1146.5,1261.0 1144.5,1276.9 1144.5,1282.7" fill="none" stroke="#b4b8d6" stroke-width="26.6" stroke-linecap="round" stroke-linejoin="round" stroke-dasharray="1.6 1.3"/>
<path d="M1132.5,1202.7 C1134.5,1210.2 1142.5,1234.4 1144.5,1247.7 C1146.5,1261.0 1144.5,1276.9 1144.5,1282.7" fill="none" stroke="#f7f7f8" stroke-width="24.2" stroke-linecap="round" stroke-linejoin="round"/>
<path d="M1132.5,1202.7 C1134.5,1210.2 1142.5,1234.4 1144.5,1247.7 C1146.5,1261.0 1144.5,1276.9 1144.5,1282.7" fill="none" stroke="#e8e8f0" stroke-width="24.0" stroke-linecap="round" stroke-linejoin="round"/>
<path d="M1132.5,1202.7 C1134.5,1210.2 1142.5,1234.4 1144.5,1247.7 C1146.5,1261.0 1144.5,1276.9 1144.5,1282.7" fill="none" stroke="#b4b8d6" stroke-width="1.5" stroke-linecap="round" stroke-dasharray="1.2 3" opacity="0.8"/>
<path d="M1250.5,1287.7 C1252.2,1278.5 1256.0,1250.2 1260.5,1232.7 C1265.0,1215.2 1271.8,1197.7 1277.5,1182.7 C1283.2,1167.7 1290.3,1151.7 1294.5,1142.7 C1298.7,1133.7 1301.2,1131.0 1302.5,1128.7" fill="none" stroke="#b4b8d6" stroke-width="30.6" stroke-linecap="round" stroke-linejoin="round" stroke-dasharray="1.6 1.3"/>
<path d="M1250.5,1287.7 C1252.2,1278.5 1256.0,1250.2 1260.5,1232.7 C1265.0,1215.2 1271.8,1197.7 1277.5,1182.7 C1283.2,1167.7 1290.3,1151.7 1294.5,1142.7 C1298.7,1133.7 1301.2,1131.0 1302.5,1128.7" fill="none" stroke="#f7f7f8" stroke-width="28.2" stroke-linecap="round" stroke-linejoin="round"/>
<path d="M1250.5,1287.7 C1252.2,1278.5 1256.0,1250.2 1260.5,1232.7 C1265.0,1215.2 1271.8,1197.7 1277.5,1182.7 C1283.2,1167.7 1290.3,1151.7 1294.5,1142.7 C1298.7,1133.7 1301.2,1131.0 1302.5,1128.7" fill="none" stroke="#e8e8f0" stroke-width="28.0" stroke-linecap="round" stroke-linejoin="round"/>
<path d="M1250.5,1287.7 C1252.2,1278.5 1256.0,1250.2 1260.5,1232.7 C1265.0,1215.2 1271.8,1197.7 1277.5,1182.7 C1283.2,1167.7 1290.3,1151.7 1294.5,1142.7 C1298.7,1133.7 1301.2,1131.0 1302.5,1128.7" fill="none" stroke="#b4b8d6" stroke-width="1.5" stroke-linecap="round" stroke-dasharray="1.2 3" opacity="0.8"/>
<path d="M1315.5,1148.7 L1318.5,1152.7" fill="none" stroke="#b4b8d6" stroke-width="16.6" stroke-linecap="round" stroke-linejoin="round" stroke-dasharray="1.6 1.3"/>
<path d="M1315.5,1148.7 L1318.5,1152.7" fill="none" stroke="#f7f7f8" stroke-width="14.2" stroke-linecap="round" stroke-linejoin="round"/>
<path d="M1315.5,1148.7 L1318.5,1152.7" fill="none" stroke="#e8e8f0" stroke-width="14.0" stroke-linecap="round" stroke-linejoin="round"/>
<path d="M1347.5,1197.7 C1350.0,1193.5 1356.7,1181.9 1362.5,1172.7 C1368.3,1163.5 1377.8,1149.4 1382.5,1142.7 C1387.2,1136.0 1389.2,1134.4 1390.5,1132.7" fill="none" stroke="#b4b8d6" stroke-width="32.6" stroke-linecap="round" stroke-linejoin="round" stroke-dasharray="1.6 1.3"/>
<path d="M1347.5,1197.7 C1350.0,1193.5 1356.7,1181.9 1362.5,1172.7 C1368.3,1163.5 1377.8,1149.4 1382.5,1142.7 C1387.2,1136.0 1389.2,1134.4 1390.5,1132.7" fill="none" stroke="#f7f7f8" stroke-width="30.2" stroke-linecap="round" stroke-linejoin="round"/>
<path d="M1347.5,1197.7 C1350.0,1193.5 1356.7,1181.9 1362.5,1172.7 C1368.3,1163.5 1377.8,1149.4 1382.5,1142.7 C1387.2,1136.0 1389.2,1134.4 1390.5,1132.7" fill="none" stroke="#e8e8f0" stroke-width="30.0" stroke-linecap="round" stroke-linejoin="round"/>
<path d="M1347.5,1197.7 C1350.0,1193.5 1356.7,1181.9 1362.5,1172.7 C1368.3,1163.5 1377.8,1149.4 1382.5,1142.7 C1387.2,1136.0 1389.2,1134.4 1390.5,1132.7" fill="none" stroke="#b4b8d6" stroke-width="1.5" stroke-linecap="round" stroke-dasharray="1.2 3" opacity="0.8"/>
<path d="M1420.5,1150.7 C1421.2,1146.0 1422.8,1132.0 1424.5,1122.7 C1426.2,1113.4 1429.5,1099.4 1430.5,1094.7" fill="none" stroke="#b4b8d6" stroke-width="28.6" stroke-linecap="round" stroke-linejoin="round" stroke-dasharray="1.6 1.3"/>
<path d="M1420.5,1150.7 C1421.2,1146.0 1422.8,1132.0 1424.5,1122.7 C1426.2,1113.4 1429.5,1099.4 1430.5,1094.7" fill="none" stroke="#f7f7f8" stroke-width="26.2" stroke-linecap="round" stroke-linejoin="round"/>
<path d="M1420.5,1150.7 C1421.2,1146.0 1422.8,1132.0 1424.5,1122.7 C1426.2,1113.4 1429.5,1099.4 1430.5,1094.7" fill="none" stroke="#e8e8f0" stroke-width="26.0" stroke-linecap="round" stroke-linejoin="round"/>
<path d="M1420.5,1150.7 C1421.2,1146.0 1422.8,1132.0 1424.5,1122.7 C1426.2,1113.4 1429.5,1099.4 1430.5,1094.7" fill="none" stroke="#b4b8d6" stroke-width="1.5" stroke-linecap="round" stroke-dasharray="1.2 3" opacity="0.8"/>
<path d="M1394.5,1287.7 C1396.7,1280.2 1402.0,1256.0 1407.5,1242.7 C1413.0,1229.4 1421.7,1216.0 1427.5,1207.7 C1433.3,1199.4 1440.0,1195.2 1442.5,1192.7" fill="none" stroke="#b4b8d6" stroke-width="42.6" stroke-linecap="round" stroke-linejoin="round" stroke-dasharray="1.6 1.3"/>
<path d="M1394.5,1287.7 C1396.7,1280.2 1402.0,1256.0 1407.5,1242.7 C1413.0,1229.4 1421.7,1216.0 1427.5,1207.7 C1433.3,1199.4 1440.0,1195.2 1442.5,1192.7" fill="none" stroke="#f7f7f8" stroke-width="40.2" stroke-linecap="round" stroke-linejoin="round"/>
<path d="M1394.5,1287.7 C1396.7,1280.2 1402.0,1256.0 1407.5,1242.7 C1413.0,1229.4 1421.7,1216.0 1427.5,1207.7 C1433.3,1199.4 1440.0,1195.2 1442.5,1192.7" fill="none" stroke="#e8e8f0" stroke-width="40.0" stroke-linecap="round" stroke-linejoin="round"/>
<path d="M1394.5,1287.7 C1396.7,1280.2 1402.0,1256.0 1407.5,1242.7 C1413.0,1229.4 1421.7,1216.0 1427.5,1207.7 C1433.3,1199.4 1440.0,1195.2 1442.5,1192.7" fill="none" stroke="#b4b8d6" stroke-width="1.5" stroke-linecap="round" stroke-dasharray="1.2 3" opacity="0.8"/>
<path d="M1310.5,1297.7 C1311.2,1292.7 1312.5,1276.9 1314.5,1267.7 C1316.5,1258.5 1321.2,1246.9 1322.5,1242.7" fill="none" stroke="#b4b8d6" stroke-width="24.6" stroke-linecap="round" stroke-linejoin="round" stroke-dasharray="1.6 1.3"/>
<path d="M1310.5,1297.7 C1311.2,1292.7 1312.5,1276.9 1314.5,1267.7 C1316.5,1258.5 1321.2,1246.9 1322.5,1242.7" fill="none" stroke="#f7f7f8" stroke-width="22.2" stroke-linecap="round" stroke-linejoin="round"/>
<path d="M1310.5,1297.7 C1311.2,1292.7 1312.5,1276.9 1314.5,1267.7 C1316.5,1258.5 1321.2,1246.9 1322.5,1242.7" fill="none" stroke="#e8e8f0" stroke-width="22.0" stroke-linecap="round" stroke-linejoin="round"/>
<path d="M1310.5,1297.7 C1311.2,1292.7 1312.5,1276.9 1314.5,1267.7 C1316.5,1258.5 1321.2,1246.9 1322.5,1242.7" fill="none" stroke="#b4b8d6" stroke-width="1.5" stroke-linecap="round" stroke-dasharray="1.2 3" opacity="0.8"/>
<g filter="url(#spk)" opacity="0.4">
<path d="M1137.5,1114.7 C1140.0,1114.0 1147.3,1110.0 1152.5,1110.7 C1157.7,1111.4 1167.2,1114.4 1168.5,1118.7 C1169.8,1123.0 1164.2,1131.0 1160.5,1136.7 C1156.8,1142.4 1150.3,1149.4 1146.5,1152.7 C1142.7,1156.0 1139.0,1156.0 1137.5,1156.7" fill="none" stroke="#b4b8d6" stroke-width="10.0" stroke-linecap="round" stroke-linejoin="round"/>
<path d="M1162.5,1277.7 C1165.0,1270.2 1172.2,1246.9 1177.5,1232.7 C1182.8,1218.5 1187.3,1206.0 1194.5,1192.7 C1201.7,1179.4 1216.2,1159.4 1220.5,1152.7" fill="none" stroke="#b4b8d6" stroke-width="24.0" stroke-linecap="round" stroke-linejoin="round"/>
<path d="M1132.5,1202.7 C1134.5,1210.2 1142.5,1234.4 1144.5,1247.7 C1146.5,1261.0 1144.5,1276.9 1144.5,1282.7" fill="none" stroke="#b4b8d6" stroke-width="24.0" stroke-linecap="round" stroke-linejoin="round"/>
<path d="M1250.5,1287.7 C1252.2,1278.5 1256.0,1250.2 1260.5,1232.7 C1265.0,1215.2 1271.8,1197.7 1277.5,1182.7 C1283.2,1167.7 1290.3,1151.7 1294.5,1142.7 C1298.7,1133.7 1301.2,1131.0 1302.5,1128.7" fill="none" stroke="#b4b8d6" stroke-width="28.0" stroke-linecap="round" stroke-linejoin="round"/>
<path d="M1315.5,1148.7 L1318.5,1152.7" fill="none" stroke="#b4b8d6" stroke-width="14.0" stroke-linecap="round" stroke-linejoin="round"/>
<path d="M1347.5,1197.7 C1350.0,1193.5 1356.7,1181.9 1362.5,1172.7 C1368.3,1163.5 1377.8,1149.4 1382.5,1142.7 C1387.2,1136.0 1389.2,1134.4 1390.5,1132.7" fill="none" stroke="#b4b8d6" stroke-width="30.0" stroke-linecap="round" stroke-linejoin="round"/>
<path d="M1420.5,1150.7 C1421.2,1146.0 1422.8,1132.0 1424.5,1122.7 C1426.2,1113.4 1429.5,1099.4 1430.5,1094.7" fill="none" stroke="#b4b8d6" stroke-width="26.0" stroke-linecap="round" stroke-linejoin="round"/>
<path d="M1394.5,1287.7 C1396.7,1280.2 1402.0,1256.0 1407.5,1242.7 C1413.0,1229.4 1421.7,1216.0 1427.5,1207.7 C1433.3,1199.4 1440.0,1195.2 1442.5,1192.7" fill="none" stroke="#b4b8d6" stroke-width="40.0" stroke-linecap="round" stroke-linejoin="round"/>
<path d="M1310.5,1297.7 C1311.2,1292.7 1312.5,1276.9 1314.5,1267.7 C1316.5,1258.5 1321.2,1246.9 1322.5,1242.7" fill="none" stroke="#b4b8d6" stroke-width="22.0" stroke-linecap="round" stroke-linejoin="round"/>
<path d="M1132.5,1277.7 C1142.5,1270.0 1172.5,1282.2 1192.5,1284.7 C1212.5,1287.2 1232.5,1291.7 1252.5,1292.7 C1272.5,1293.7 1292.5,1292.0 1312.5,1290.7 C1332.5,1289.4 1350.2,1287.7 1372.5,1284.7 C1394.8,1281.7 1434.2,1263.0 1446.5,1272.7 C1458.8,1282.4 1457.2,1328.5 1446.5,1342.7 C1435.8,1356.9 1406.5,1354.0 1382.5,1357.7 C1358.5,1361.4 1327.5,1364.2 1302.5,1364.7 C1277.5,1365.2 1254.2,1363.5 1232.5,1360.7 C1210.8,1357.9 1189.2,1352.7 1172.5,1347.7 C1155.8,1342.7 1139.2,1342.4 1132.5,1330.7 C1125.8,1319.0 1122.5,1285.4 1132.5,1277.7 Z" fill="#b4b8d6" stroke="none" stroke-width="0" />
</g>
<path d="M1132.5,1277.7 C1142.5,1270.0 1172.5,1282.2 1192.5,1284.7 C1212.5,1287.2 1232.5,1291.7 1252.5,1292.7 C1272.5,1293.7 1292.5,1292.0 1312.5,1290.7 C1332.5,1289.4 1350.2,1287.7 1372.5,1284.7 C1394.8,1281.7 1434.2,1263.0 1446.5,1272.7 C1458.8,1282.4 1457.2,1328.5 1446.5,1342.7 C1435.8,1356.9 1406.5,1354.0 1382.5,1357.7 C1358.5,1361.4 1327.5,1364.2 1302.5,1364.7 C1277.5,1365.2 1254.2,1363.5 1232.5,1360.7 C1210.8,1357.9 1189.2,1352.7 1172.5,1347.7 C1155.8,1342.7 1139.2,1342.4 1132.5,1330.7 C1125.8,1319.0 1122.5,1285.4 1132.5,1277.7 Z" fill="#e8e8f0" stroke="none" stroke-width="0" />
<g filter="url(#spk3)">
<path d="M1234 1307h0M1247 1297h0M1362 1321h0M1370 1310h0M1140 1314h0M1285 1340h0M1332 1310h0M1239 1296h0M1444 1315h0M1240 1315h0M1176 1310h0M1139 1316h0M1438 1300h0M1312 1347h0M1298 1322h0M1290 1315h0M1291 1295h0M1347 1344h0M1329 1345h0M1326 1344h0M1366 1321h0M1205 1342h0M1287 1333h0M1399 1339h0M1414 1319h0M1225 1349h0M1263 1341h0M1199 1343h0M1261 1348h0M1358 1324h0M1420 1324h0M1233 1322h0M1369 1317h0M1420 1292h0M1328 1331h0" stroke="#8a4a1c" stroke-width="10.0" stroke-linecap="round" fill="none" />
<path d="M1314 1333h0M1373 1333h0M1433 1302h0M1407 1334h0M1212 1321h0M1431 1319h0M1386 1340h0M1244 1292h0M1432 1312h0M1392 1344h0M1264 1306h0M1299 1338h0M1166 1324h0M1239 1333h0M1137 1319h0M1242 1296h0M1343 1325h0M1304 1323h0M1146 1299h0M1255 1321h0M1364 1319h0M1267 1318h0M1222 1347h0M1172 1323h0M1439 1308h0M1256 1309h0M1176 1314h0M1203 1332h0M1143 1319h0M1282 1356h0M1268 1332h0M1195 1317h0M1320 1343h0M1161 1310h0M1263 1351h0M1390 1321h0" stroke="#8a4a1c" stroke-width="12.0" stroke-linecap="round" fill="none" />
<path d="M1223 1307h0M1189 1329h0M1231 1334h0M1444 1325h0M1374 1307h0M1404 1311h0M1247 1292h0M1298 1358h0M1257 1326h0M1212 1318h0M1134 1319h0M1394 1305h0M1426 1299h0M1240 1346h0M1133 1309h0M1363 1345h0M1246 1302h0M1367 1331h0M1345 1325h0M1249 1324h0M1411 1331h0M1251 1321h0M1218 1315h0M1359 1339h0M1168 1307h0M1434 1322h0M1204 1301h0M1291 1318h0M1186 1300h0M1171 1335h0M1391 1322h0M1239 1316h0M1364 1345h0M1344 1346h0M1397 1313h0M1438 1319h0M1337 1321h0M1152 1306h0M1229 1349h0M1296 1356h0M1284 1302h0" stroke="#8a4a1c" stroke-width="14.0" stroke-linecap="round" fill="none" />
<path d="M1154 1306h0M1152 1303h0M1352 1321h0M1281 1343h0M1248 1334h0M1248 1308h0M1396 1323h0M1340 1353h0M1172 1311h0M1174 1303h0M1426 1316h0M1307 1328h0M1325 1338h0M1300 1336h0M1155 1324h0M1201 1343h0M1266 1300h0M1159 1329h0M1196 1320h0M1395 1319h0M1299 1349h0M1395 1337h0M1288 1329h0M1199 1330h0M1170 1334h0M1331 1354h0M1148 1323h0M1172 1324h0M1424 1330h0M1167 1311h0M1228 1305h0M1229 1293h0M1421 1304h0M1159 1307h0M1274 1318h0M1191 1319h0M1361 1316h0M1137 1315h0" stroke="#8a4a1c" stroke-width="16.0" stroke-linecap="round" fill="none" />
<path d="M1319 1342h0M1158 1319h0M1326 1345h0M1189 1335h0M1316 1355h0M1292 1339h0M1428 1308h0M1357 1340h0M1328 1338h0M1217 1307h0M1213 1310h0M1334 1308h0M1138 1313h0M1174 1332h0M1232 1345h0M1192 1322h0M1289 1318h0M1145 1323h0M1256 1351h0M1425 1311h0M1152 1328h0M1235 1352h0M1314 1329h0M1444 1301h0" stroke="#8a4a1c" stroke-width="18.0" stroke-linecap="round" fill="none" />
<path d="M1236 1313h0M1350 1353h0M1182 1324h0M1170 1333h0M1436 1305h0" stroke="#8a4a1c" stroke-width="20.0" stroke-linecap="round" fill="none" />
</g>
<rect x="1148.90" y="1368.50" width="45.20" height="8.00" fill="#000" stroke="none" stroke-width="0" />
<line x1="1148.90" y1="1366.50" x2="1148.90" y2="1378.50" stroke="#000" stroke-width="1.2" stroke-linecap="butt" />
<line x1="1194.10" y1="1366.50" x2="1194.10" y2="1378.50" stroke="#000" stroke-width="1.2" stroke-linecap="butt" />
<text  x="1201.00" y="1377.00" font-size="12.5" font-weight="normal" font-style="normal" fill="#333" text-anchor="start" ><tspan >100µm</tspan></text>
</g>
<g clip-path="url(#cI4)">
<rect x="1445.70" y="1072.70" width="314.30" height="314.30" fill="#f7f7f8" stroke="none" stroke-width="0" />
<path d="M1450.7,1114.7 C1453.2,1114.0 1460.5,1110.0 1465.7,1110.7 C1470.9,1111.4 1480.4,1114.4 1481.7,1118.7 C1483.0,1123.0 1477.4,1131.0 1473.7,1136.7 C1470.0,1142.4 1463.5,1149.4 1459.7,1152.7 C1455.9,1156.0 1452.2,1156.0 1450.7,1156.7" fill="none" stroke="#1e1e1e" stroke-width="12.6" stroke-linecap="round" stroke-linejoin="round" stroke-dasharray="1.6 1.3"/>
<path d="M1450.7,1114.7 C1453.2,1114.0 1460.5,1110.0 1465.7,1110.7 C1470.9,1111.4 1480.4,1114.4 1481.7,1118.7 C1483.0,1123.0 1477.4,1131.0 1473.7,1136.7 C1470.0,1142.4 1463.5,1149.4 1459.7,1152.7 C1455.9,1156.0 1452.2,1156.0 1450.7,1156.7" fill="none" stroke="#f7f7f8" stroke-width="10.2" stroke-linecap="round" stroke-linejoin="round"/>
<path d="M1450.7,1114.7 C1453.2,1114.0 1460.5,1110.0 1465.7,1110.7 C1470.9,1111.4 1480.4,1114.4 1481.7,1118.7 C1483.0,1123.0 1477.4,1131.0 1473.7,1136.7 C1470.0,1142.4 1463.5,1149.4 1459.7,1152.7 C1455.9,1156.0 1452.2,1156.0 1450.7,1156.7" fill="none" stroke="#e8e8f0" stroke-width="10.0" stroke-linecap="round" stroke-linejoin="round"/>
<path d="M1475.7,1277.7 C1478.2,1270.2 1485.4,1246.9 1490.7,1232.7 C1496.0,1218.5 1500.5,1206.0 1507.7,1192.7 C1514.9,1179.4 1529.4,1159.4 1533.7,1152.7" fill="none" stroke="#1e1e1e" stroke-width="26.6" stroke-linecap="round" stroke-linejoin="round" stroke-dasharray="1.6 1.3"/>
<path d="M1475.7,1277.7 C1478.2,1270.2 1485.4,1246.9 1490.7,1232.7 C1496.0,1218.5 1500.5,1206.0 1507.7,1192.7 C1514.9,1179.4 1529.4,1159.4 1533.7,1152.7" fill="none" stroke="#f7f7f8" stroke-width="24.2" stroke-linecap="round" stroke-linejoin="round"/>
<path d="M1475.7,1277.7 C1478.2,1270.2 1485.4,1246.9 1490.7,1232.7 C1496.0,1218.5 1500.5,1206.0 1507.7,1192.7 C1514.9,1179.4 1529.4,1159.4 1533.7,1152.7" fill="none" stroke="#e8e8f0" stroke-width="24.0" stroke-linecap="round" stroke-linejoin="round"/>
<path d="M1475.7,1277.7 C1478.2,1270.2 1485.4,1246.9 1490.7,1232.7 C1496.0,1218.5 1500.5,1206.0 1507.7,1192.7 C1514.9,1179.4 1529.4,1159.4 1533.7,1152.7" fill="none" stroke="#333" stroke-width="1.5" stroke-linecap="round" stroke-dasharray="1.2 3" opacity="0.7"/>
<path d="M1445.7,1202.7 C1447.7,1210.2 1455.7,1234.4 1457.7,1247.7 C1459.7,1261.0 1457.7,1276.9 1457.7,1282.7" fill="none" stroke="#1e1e1e" stroke-width="26.6" stroke-linecap="round" stroke-linejoin="round" stroke-dasharray="1.6 1.3"/>
<path d="M1445.7,1202.7 C1447.7,1210.2 1455.7,1234.4 1457.7,1247.7 C1459.7,1261.0 1457.7,1276.9 1457.7,1282.7" fill="none" stroke="#f7f7f8" stroke-width="24.2" stroke-linecap="round" stroke-linejoin="round"/>
<path d="M1445.7,1202.7 C1447.7,1210.2 1455.7,1234.4 1457.7,1247.7 C1459.7,1261.0 1457.7,1276.9 1457.7,1282.7" fill="none" stroke="#e8e8f0" stroke-width="24.0" stroke-linecap="round" stroke-linejoin="round"/>
<path d="M1445.7,1202.7 C1447.7,1210.2 1455.7,1234.4 1457.7,1247.7 C1459.7,1261.0 1457.7,1276.9 1457.7,1282.7" fill="none" stroke="#333" stroke-width="1.5" stroke-linecap="round" stroke-dasharray="1.2 3" opacity="0.7"/>
<path d="M1563.7,1287.7 C1565.4,1278.5 1569.2,1250.2 1573.7,1232.7 C1578.2,1215.2 1585.0,1197.7 1590.7,1182.7 C1596.4,1167.7 1603.5,1151.7 1607.7,1142.7 C1611.9,1133.7 1614.4,1131.0 1615.7,1128.7" fill="none" stroke="#1e1e1e" stroke-width="30.6" stroke-linecap="round" stroke-linejoin="round" stroke-dasharray="1.6 1.3"/>
<path d="M1563.7,1287.7 C1565.4,1278.5 1569.2,1250.2 1573.7,1232.7 C1578.2,1215.2 1585.0,1197.7 1590.7,1182.7 C1596.4,1167.7 1603.5,1151.7 1607.7,1142.7 C1611.9,1133.7 1614.4,1131.0 1615.7,1128.7" fill="none" stroke="#f7f7f8" stroke-width="28.2" stroke-linecap="round" stroke-linejoin="round"/>
<path d="M1563.7,1287.7 C1565.4,1278.5 1569.2,1250.2 1573.7,1232.7 C1578.2,1215.2 1585.0,1197.7 1590.7,1182.7 C1596.4,1167.7 1603.5,1151.7 1607.7,1142.7 C1611.9,1133.7 1614.4,1131.0 1615.7,1128.7" fill="none" stroke="#e8e8f0" stroke-width="28.0" stroke-linecap="round" stroke-linejoin="round"/>
<path d="M1563.7,1287.7 C1565.4,1278.5 1569.2,1250.2 1573.7,1232.7 C1578.2,1215.2 1585.0,1197.7 1590.7,1182.7 C1596.4,1167.7 1603.5,1151.7 1607.7,1142.7 C1611.9,1133.7 1614.4,1131.0 1615.7,1128.7" fill="none" stroke="#333" stroke-width="1.5" stroke-linecap="round" stroke-dasharray="1.2 3" opacity="0.7"/>
<path d="M1628.7,1148.7 L1631.7,1152.7" fill="none" stroke="#1e1e1e" stroke-width="16.6" stroke-linecap="round" stroke-linejoin="round" stroke-dasharray="1.6 1.3"/>
<path d="M1628.7,1148.7 L1631.7,1152.7" fill="none" stroke="#f7f7f8" stroke-width="14.2" stroke-linecap="round" stroke-linejoin="round"/>
<path d="M1628.7,1148.7 L1631.7,1152.7" fill="none" stroke="#e8e8f0" stroke-width="14.0" stroke-linecap="round" stroke-linejoin="round"/>
<path d="M1660.7,1197.7 C1663.2,1193.5 1669.9,1181.9 1675.7,1172.7 C1681.5,1163.5 1691.0,1149.4 1695.7,1142.7 C1700.4,1136.0 1702.4,1134.4 1703.7,1132.7" fill="none" stroke="#1e1e1e" stroke-width="32.6" stroke-linecap="round" stroke-linejoin="round" stroke-dasharray="1.6 1.3"/>
<path d="M1660.7,1197.7 C1663.2,1193.5 1669.9,1181.9 1675.7,1172.7 C1681.5,1163.5 1691.0,1149.4 1695.7,1142.7 C1700.4,1136.0 1702.4,1134.4 1703.7,1132.7" fill="none" stroke="#f7f7f8" stroke-width="30.2" stroke-linecap="round" stroke-linejoin="round"/>
<path d="M1660.7,1197.7 C1663.2,1193.5 1669.9,1181.9 1675.7,1172.7 C1681.5,1163.5 1691.0,1149.4 1695.7,1142.7 C1700.4,1136.0 1702.4,1134.4 1703.7,1132.7" fill="none" stroke="#e8e8f0" stroke-width="30.0" stroke-linecap="round" stroke-linejoin="round"/>
<path d="M1660.7,1197.7 C1663.2,1193.5 1669.9,1181.9 1675.7,1172.7 C1681.5,1163.5 1691.0,1149.4 1695.7,1142.7 C1700.4,1136.0 1702.4,1134.4 1703.7,1132.7" fill="none" stroke="#333" stroke-width="1.5" stroke-linecap="round" stroke-dasharray="1.2 3" opacity="0.7"/>
<path d="M1733.7,1150.7 C1734.4,1146.0 1736.0,1132.0 1737.7,1122.7 C1739.4,1113.4 1742.7,1099.4 1743.7,1094.7" fill="none" stroke="#1e1e1e" stroke-width="28.6" stroke-linecap="round" stroke-linejoin="round" stroke-dasharray="1.6 1.3"/>
<path d="M1733.7,1150.7 C1734.4,1146.0 1736.0,1132.0 1737.7,1122.7 C1739.4,1113.4 1742.7,1099.4 1743.7,1094.7" fill="none" stroke="#f7f7f8" stroke-width="26.2" stroke-linecap="round" stroke-linejoin="round"/>
<path d="M1733.7,1150.7 C1734.4,1146.0 1736.0,1132.0 1737.7,1122.7 C1739.4,1113.4 1742.7,1099.4 1743.7,1094.7" fill="none" stroke="#e8e8f0" stroke-width="26.0" stroke-linecap="round" stroke-linejoin="round"/>
<path d="M1733.7,1150.7 C1734.4,1146.0 1736.0,1132.0 1737.7,1122.7 C1739.4,1113.4 1742.7,1099.4 1743.7,1094.7" fill="none" stroke="#333" stroke-width="1.5" stroke-linecap="round" stroke-dasharray="1.2 3" opacity="0.7"/>
<path d="M1707.7,1287.7 C1709.9,1280.2 1715.2,1256.0 1720.7,1242.7 C1726.2,1229.4 1734.9,1216.0 1740.7,1207.7 C1746.5,1199.4 1753.2,1195.2 1755.7,1192.7" fill="none" stroke="#1e1e1e" stroke-width="42.6" stroke-linecap="round" stroke-linejoin="round" stroke-dasharray="1.6 1.3"/>
<path d="M1707.7,1287.7 C1709.9,1280.2 1715.2,1256.0 1720.7,1242.7 C1726.2,1229.4 1734.9,1216.0 1740.7,1207.7 C1746.5,1199.4 1753.2,1195.2 1755.7,1192.7" fill="none" stroke="#f7f7f8" stroke-width="40.2" stroke-linecap="round" stroke-linejoin="round"/>
<path d="M1707.7,1287.7 C1709.9,1280.2 1715.2,1256.0 1720.7,1242.7 C1726.2,1229.4 1734.9,1216.0 1740.7,1207.7 C1746.5,1199.4 1753.2,1195.2 1755.7,1192.7" fill="none" stroke="#e8e8f0" stroke-width="40.0" stroke-linecap="round" stroke-linejoin="round"/>
<path d="M1707.7,1287.7 C1709.9,1280.2 1715.2,1256.0 1720.7,1242.7 C1726.2,1229.4 1734.9,1216.0 1740.7,1207.7 C1746.5,1199.4 1753.2,1195.2 1755.7,1192.7" fill="none" stroke="#333" stroke-width="1.5" stroke-linecap="round" stroke-dasharray="1.2 3" opacity="0.7"/>
<path d="M1623.7,1297.7 C1624.4,1292.7 1625.7,1276.9 1627.7,1267.7 C1629.7,1258.5 1634.4,1246.9 1635.7,1242.7" fill="none" stroke="#1e1e1e" stroke-width="24.6" stroke-linecap="round" stroke-linejoin="round" stroke-dasharray="1.6 1.3"/>
<path d="M1623.7,1297.7 C1624.4,1292.7 1625.7,1276.9 1627.7,1267.7 C1629.7,1258.5 1634.4,1246.9 1635.7,1242.7" fill="none" stroke="#f7f7f8" stroke-width="22.2" stroke-linecap="round" stroke-linejoin="round"/>
<path d="M1623.7,1297.7 C1624.4,1292.7 1625.7,1276.9 1627.7,1267.7 C1629.7,1258.5 1634.4,1246.9 1635.7,1242.7" fill="none" stroke="#e8e8f0" stroke-width="22.0" stroke-linecap="round" stroke-linejoin="round"/>
<path d="M1623.7,1297.7 C1624.4,1292.7 1625.7,1276.9 1627.7,1267.7 C1629.7,1258.5 1634.4,1246.9 1635.7,1242.7" fill="none" stroke="#333" stroke-width="1.5" stroke-linecap="round" stroke-dasharray="1.2 3" opacity="0.7"/>
<g filter="url(#spk)" opacity="0.22">
<path d="M1450.7,1114.7 C1453.2,1114.0 1460.5,1110.0 1465.7,1110.7 C1470.9,1111.4 1480.4,1114.4 1481.7,1118.7 C1483.0,1123.0 1477.4,1131.0 1473.7,1136.7 C1470.0,1142.4 1463.5,1149.4 1459.7,1152.7 C1455.9,1156.0 1452.2,1156.0 1450.7,1156.7" fill="none" stroke="#555" stroke-width="10.0" stroke-linecap="round" stroke-linejoin="round"/>
<path d="M1475.7,1277.7 C1478.2,1270.2 1485.4,1246.9 1490.7,1232.7 C1496.0,1218.5 1500.5,1206.0 1507.7,1192.7 C1514.9,1179.4 1529.4,1159.4 1533.7,1152.7" fill="none" stroke="#555" stroke-width="24.0" stroke-linecap="round" stroke-linejoin="round"/>
<path d="M1445.7,1202.7 C1447.7,1210.2 1455.7,1234.4 1457.7,1247.7 C1459.7,1261.0 1457.7,1276.9 1457.7,1282.7" fill="none" stroke="#555" stroke-width="24.0" stroke-linecap="round" stroke-linejoin="round"/>
<path d="M1563.7,1287.7 C1565.4,1278.5 1569.2,1250.2 1573.7,1232.7 C1578.2,1215.2 1585.0,1197.7 1590.7,1182.7 C1596.4,1167.7 1603.5,1151.7 1607.7,1142.7 C1611.9,1133.7 1614.4,1131.0 1615.7,1128.7" fill="none" stroke="#555" stroke-width="28.0" stroke-linecap="round" stroke-linejoin="round"/>
<path d="M1628.7,1148.7 L1631.7,1152.7" fill="none" stroke="#555" stroke-width="14.0" stroke-linecap="round" stroke-linejoin="round"/>
<path d="M1660.7,1197.7 C1663.2,1193.5 1669.9,1181.9 1675.7,1172.7 C1681.5,1163.5 1691.0,1149.4 1695.7,1142.7 C1700.4,1136.0 1702.4,1134.4 1703.7,1132.7" fill="none" stroke="#555" stroke-width="30.0" stroke-linecap="round" stroke-linejoin="round"/>
<path d="M1733.7,1150.7 C1734.4,1146.0 1736.0,1132.0 1737.7,1122.7 C1739.4,1113.4 1742.7,1099.4 1743.7,1094.7" fill="none" stroke="#555" stroke-width="26.0" stroke-linecap="round" stroke-linejoin="round"/>
<path d="M1707.7,1287.7 C1709.9,1280.2 1715.2,1256.0 1720.7,1242.7 C1726.2,1229.4 1734.9,1216.0 1740.7,1207.7 C1746.5,1199.4 1753.2,1195.2 1755.7,1192.7" fill="none" stroke="#555" stroke-width="40.0" stroke-linecap="round" stroke-linejoin="round"/>
<path d="M1623.7,1297.7 C1624.4,1292.7 1625.7,1276.9 1627.7,1267.7 C1629.7,1258.5 1634.4,1246.9 1635.7,1242.7" fill="none" stroke="#555" stroke-width="22.0" stroke-linecap="round" stroke-linejoin="round"/>
<path d="M1445.7,1277.7 C1455.7,1270.0 1485.7,1282.2 1505.7,1284.7 C1525.7,1287.2 1545.7,1291.7 1565.7,1292.7 C1585.7,1293.7 1605.7,1292.0 1625.7,1290.7 C1645.7,1289.4 1663.4,1287.7 1685.7,1284.7 C1708.0,1281.7 1747.4,1263.0 1759.7,1272.7 C1772.0,1282.4 1770.4,1328.5 1759.7,1342.7 C1749.0,1356.9 1719.7,1354.0 1695.7,1357.7 C1671.7,1361.4 1640.7,1364.2 1615.7,1364.7 C1590.7,1365.2 1567.4,1363.5 1545.7,1360.7 C1524.0,1357.9 1502.4,1352.7 1485.7,1347.7 C1469.0,1342.7 1452.4,1342.4 1445.7,1330.7 C1439.0,1319.0 1435.7,1285.4 1445.7,1277.7 Z" fill="#555" stroke="none" stroke-width="0" />
</g>
<path d="M1445.7,1277.7 C1455.7,1270.0 1485.7,1282.2 1505.7,1284.7 C1525.7,1287.2 1545.7,1291.7 1565.7,1292.7 C1585.7,1293.7 1605.7,1292.0 1625.7,1290.7 C1645.7,1289.4 1663.4,1287.7 1685.7,1284.7 C1708.0,1281.7 1747.4,1263.0 1759.7,1272.7 C1772.0,1282.4 1770.4,1328.5 1759.7,1342.7 C1749.0,1356.9 1719.7,1354.0 1695.7,1357.7 C1671.7,1361.4 1640.7,1364.2 1615.7,1364.7 C1590.7,1365.2 1567.4,1363.5 1545.7,1360.7 C1524.0,1357.9 1502.4,1352.7 1485.7,1347.7 C1469.0,1342.7 1452.4,1342.4 1445.7,1330.7 C1439.0,1319.0 1435.7,1285.4 1445.7,1277.7 Z" fill="#e8e8f0" stroke="none" stroke-width="0" />
<path d="M1445.7,1277.7 C1455.7,1270.0 1485.7,1282.2 1505.7,1284.7 C1525.7,1287.2 1545.7,1291.7 1565.7,1292.7 C1585.7,1293.7 1605.7,1292.0 1625.7,1290.7 C1645.7,1289.4 1663.4,1287.7 1685.7,1284.7 C1708.0,1281.7 1747.4,1263.0 1759.7,1272.7 C1772.0,1282.4 1770.4,1328.5 1759.7,1342.7 C1749.0,1356.9 1719.7,1354.0 1695.7,1357.7 C1671.7,1361.4 1640.7,1364.2 1615.7,1364.7 C1590.7,1365.2 1567.4,1363.5 1545.7,1360.7 C1524.0,1357.9 1502.4,1352.7 1485.7,1347.7 C1469.0,1342.7 1452.4,1342.4 1445.7,1330.7 C1439.0,1319.0 1435.7,1285.4 1445.7,1277.7 Z" fill="none" stroke="#333" stroke-width="1.0" stroke-dasharray="1.4 1.8"/>
<g filter="url(#spk4)">
<path d="M1547 1307h0M1561 1297h0M1675 1321h0M1683 1310h0M1453 1314h0M1598 1340h0M1645 1310h0M1552 1296h0M1758 1315h0M1553 1315h0M1489 1310h0M1452 1316h0M1751 1300h0M1625 1347h0M1611 1322h0M1603 1315h0M1604 1295h0M1660 1344h0M1642 1345h0M1639 1344h0M1679 1321h0M1518 1342h0M1600 1333h0M1712 1339h0M1727 1319h0M1538 1349h0M1577 1341h0M1513 1343h0M1575 1348h0M1671 1324h0M1733 1324h0M1546 1322h0M1682 1317h0M1733 1292h0M1641 1331h0" stroke="#2f8f2a" stroke-width="10.0" stroke-linecap="round" fill="none" />
<path d="M1627 1333h0M1686 1333h0M1746 1302h0M1720 1334h0M1525 1321h0M1744 1319h0M1699 1340h0M1557 1292h0M1746 1312h0M1705 1344h0M1577 1306h0M1613 1338h0M1479 1324h0M1552 1333h0M1451 1319h0M1555 1296h0M1656 1325h0M1617 1323h0M1459 1299h0M1568 1321h0M1677 1319h0M1580 1318h0M1535 1347h0M1486 1323h0M1752 1308h0M1570 1309h0M1490 1314h0M1516 1332h0M1456 1319h0M1595 1356h0M1581 1332h0M1508 1317h0M1633 1343h0M1474 1310h0M1576 1351h0M1703 1321h0" stroke="#2f8f2a" stroke-width="12.0" stroke-linecap="round" fill="none" />
<path d="M1537 1307h0M1502 1329h0M1544 1334h0M1758 1325h0M1687 1307h0M1717 1311h0M1560 1292h0M1612 1358h0M1570 1326h0M1525 1318h0M1447 1319h0M1707 1305h0M1739 1299h0M1553 1346h0M1446 1309h0M1676 1345h0M1559 1302h0M1681 1331h0M1658 1325h0M1563 1324h0M1724 1331h0M1564 1321h0M1531 1315h0M1672 1339h0M1481 1307h0M1747 1322h0M1517 1301h0M1604 1318h0M1499 1300h0M1485 1335h0M1704 1322h0M1552 1316h0M1678 1345h0M1657 1346h0M1710 1313h0M1751 1319h0M1650 1321h0M1466 1306h0M1542 1349h0M1609 1356h0M1597 1302h0" stroke="#2f8f2a" stroke-width="14.0" stroke-linecap="round" fill="none" />
<path d="M1468 1306h0M1465 1303h0M1665 1321h0M1595 1343h0M1562 1334h0M1561 1308h0M1710 1323h0M1653 1353h0M1486 1311h0M1487 1303h0M1739 1316h0M1620 1328h0M1638 1338h0M1613 1336h0M1469 1324h0M1515 1343h0M1579 1300h0M1472 1329h0M1509 1320h0M1708 1319h0M1612 1349h0M1708 1337h0M1601 1329h0M1512 1330h0M1483 1334h0M1644 1354h0M1461 1323h0M1485 1324h0M1737 1330h0M1480 1311h0M1541 1305h0M1542 1293h0M1734 1304h0M1472 1307h0M1587 1318h0M1504 1319h0M1674 1316h0M1450 1315h0" stroke="#2f8f2a" stroke-width="16.0" stroke-linecap="round" fill="none" />
<path d="M1632 1342h0M1471 1319h0M1640 1345h0M1502 1335h0M1629 1355h0M1605 1339h0M1742 1308h0M1671 1340h0M1642 1338h0M1531 1307h0M1526 1310h0M1648 1308h0M1451 1313h0M1487 1332h0M1545 1345h0M1505 1322h0M1602 1318h0M1458 1323h0M1569 1351h0M1738 1311h0M1465 1328h0M1548 1352h0M1627 1329h0M1757 1301h0" stroke="#2f8f2a" stroke-width="18.0" stroke-linecap="round" fill="none" />
<path d="M1549 1313h0M1663 1353h0M1495 1324h0M1483 1333h0M1749 1305h0" stroke="#2f8f2a" stroke-width="20.0" stroke-linecap="round" fill="none" />
</g>
<g filter="url(#spk3)">
<path d="M1547 1307h0M1683 1310h0M1598 1340h0M1645 1310h0M1758 1315h0M1452 1316h0M1751 1300h0M1625 1347h0M1611 1322h0M1603 1315h0M1660 1344h0M1642 1345h0M1639 1344h0M1600 1333h0M1712 1339h0M1577 1341h0M1671 1324h0M1682 1317h0M1733 1292h0" stroke="#1f6e1c" stroke-width="8.0" stroke-linecap="round" fill="none" opacity="0.8"/>
<path d="M1537 1307h0M1758 1325h0M1744 1319h0M1699 1340h0M1479 1324h0M1739 1299h0M1446 1309h0M1459 1299h0M1568 1321h0M1677 1319h0M1658 1325h0M1580 1318h0M1752 1308h0M1724 1331h0M1516 1332h0M1604 1318h0M1456 1319h0M1485 1335h0M1595 1356h0M1710 1313h0M1650 1321h0" stroke="#1f6e1c" stroke-width="10.0" stroke-linecap="round" fill="none" opacity="0.8"/>
<path d="M1468 1306h0M1465 1303h0M1665 1321h0M1687 1307h0M1717 1311h0M1560 1292h0M1561 1308h0M1710 1323h0M1486 1311h0M1487 1303h0M1525 1318h0M1447 1319h0M1638 1338h0M1469 1324h0M1515 1343h0M1553 1346h0M1676 1345h0M1485 1324h0M1672 1339h0M1541 1305h0M1542 1293h0M1734 1304h0M1678 1345h0M1472 1307h0M1587 1318h0M1466 1306h0M1542 1349h0M1450 1315h0M1609 1356h0M1597 1302h0" stroke="#1f6e1c" stroke-width="12.0" stroke-linecap="round" fill="none" opacity="0.8"/>
<path d="M1632 1342h0M1640 1345h0M1502 1335h0M1629 1355h0M1742 1308h0M1472 1329h0M1526 1310h0M1451 1313h0M1487 1332h0M1483 1334h0M1505 1322h0M1461 1323h0M1602 1318h0M1737 1330h0M1569 1351h0M1465 1328h0M1627 1329h0M1674 1316h0" stroke="#1f6e1c" stroke-width="14.0" stroke-linecap="round" fill="none" opacity="0.8"/>
<path d="M1663 1353h0M1495 1324h0" stroke="#1f6e1c" stroke-width="16.0" stroke-linecap="round" fill="none" opacity="0.8"/>
</g>
<rect x="1462.10" y="1368.50" width="45.20" height="8.00" fill="#000" stroke="none" stroke-width="0" />
<line x1="1462.10" y1="1366.50" x2="1462.10" y2="1378.50" stroke="#000" stroke-width="1.2" stroke-linecap="butt" />
<line x1="1507.30" y1="1366.50" x2="1507.30" y2="1378.50" stroke="#000" stroke-width="1.2" stroke-linecap="butt" />
<text  x="1514.20" y="1377.00" font-size="12.5" font-weight="normal" font-style="normal" fill="#333" text-anchor="start" ><tspan >100µm</tspan></text>
</g>
<rect x="1132.50" y="759.40" width="627.50" height="627.60" fill="none" stroke="#1a1a1a" stroke-width="1.6" />
<line x1="1445.70" y1="759.40" x2="1445.70" y2="1387.00" stroke="#1a1a1a" stroke-width="1.8" stroke-linecap="butt" />
<line x1="1132.50" y1="1072.70" x2="1760.00" y2="1072.70" stroke="#1a1a1a" stroke-width="1.8" stroke-linecap="butt" />
<g clip-path="url(#cM1)">
<rect x="100.30" y="2048.40" width="314.10" height="313.20" fill="#f8f8fa" stroke="none" stroke-width="0" />
<path d="M100.3,2143.4 C104.5,2117.9 115.3,2132.6 125.3,2123.4 C135.3,2114.2 149.1,2100.9 160.3,2088.4 C171.5,2075.9 150.0,2055.1 192.3,2048.4 C234.6,2041.7 377.3,2006.7 414.3,2048.4 C451.3,2090.1 425.0,2253.1 414.3,2298.4 C403.6,2343.7 369.3,2314.1 350.3,2320.4 C331.3,2326.7 317.0,2333.1 300.3,2336.4 C283.6,2339.7 267.0,2341.7 250.3,2340.4 C233.6,2339.1 217.0,2335.4 200.3,2328.4 C183.6,2321.4 167.0,2307.1 150.3,2298.4 C133.6,2289.7 108.6,2302.2 100.3,2276.4 C92.0,2250.6 96.1,2168.9 100.3,2143.4 Z" fill="#cdd3ea" stroke="none" stroke-width="0" />
<path d="M231.3,2043.4 C237.6,2032.9 254.5,2032.6 256.3,2043.4 C258.1,2054.2 247.6,2089.2 242.3,2108.4 C237.0,2127.6 228.3,2141.7 224.3,2158.4 C220.3,2175.1 221.0,2193.4 218.3,2208.4 C215.6,2223.4 213.0,2240.9 208.3,2248.4 C203.6,2255.9 198.0,2255.9 190.3,2253.4 C182.6,2250.9 172.0,2240.9 162.3,2233.4 C152.6,2225.9 138.0,2217.6 132.3,2208.4 C126.6,2199.2 125.0,2186.4 128.3,2178.4 C131.6,2170.4 141.6,2166.1 152.3,2160.4 C163.0,2154.7 181.3,2153.4 192.3,2144.4 C203.3,2135.4 211.8,2123.2 218.3,2106.4 C224.8,2089.6 225.0,2053.9 231.3,2043.4 Z" fill="#f8f8fa" stroke="none" stroke-width="0" />
<path d="M268.3,2043.4 C269.3,2025.9 280.6,2025.9 284.3,2043.4 C288.0,2060.9 288.8,2114.2 290.3,2148.4 C291.8,2182.6 294.0,2230.7 293.3,2248.4 C292.6,2266.1 288.8,2271.1 286.3,2254.4 C283.8,2237.7 281.3,2183.6 278.3,2148.4 C275.3,2113.2 267.3,2060.9 268.3,2043.4 Z" fill="#f8f8fa" stroke="none" stroke-width="0" />
<path d="M365.3,2043.4 C372.0,2032.6 411.1,2025.9 420.3,2043.4 C429.5,2060.9 424.3,2130.6 420.3,2148.4 C416.3,2166.2 403.0,2157.1 396.3,2150.4 C389.6,2143.7 385.5,2126.2 380.3,2108.4 C375.1,2090.6 358.6,2054.2 365.3,2043.4 Z" fill="#f8f8fa" stroke="none" stroke-width="0" />
<path d="M315.3,2143.4 C318.0,2133.7 328.8,2122.9 332.3,2140.4 C335.8,2157.9 337.3,2228.4 336.3,2248.4 C335.3,2268.4 329.6,2268.7 326.3,2260.4 C323.0,2252.1 318.1,2217.9 316.3,2198.4 C314.5,2178.9 312.6,2153.1 315.3,2143.4 Z" fill="#f8f8fa" stroke="none" stroke-width="0" />
<path d="M338.3,2043.4 C340.0,2032.6 348.0,2032.6 350.3,2043.4 C352.6,2054.2 353.0,2090.9 352.3,2108.4 C351.6,2125.9 348.3,2148.4 346.3,2148.4 C344.3,2148.4 341.6,2125.9 340.3,2108.4 C339.0,2090.9 336.6,2054.2 338.3,2043.4 Z" fill="#f8f8fa" stroke="none" stroke-width="0" />
<path d="M160.3,2263.4 C160.6,2255.9 164.6,2250.1 166.3,2253.4 C168.0,2256.7 170.6,2275.9 170.3,2283.4 C170.0,2290.9 166.0,2301.7 164.3,2298.4 C162.6,2295.1 160.0,2270.9 160.3,2263.4 Z" fill="#f8f8fa" stroke="none" stroke-width="0" />
<path d="M232.3,2273.4 C233.0,2264.7 237.0,2260.2 238.3,2266.4 C239.6,2272.6 241.0,2301.7 240.3,2310.4 C239.6,2319.1 235.6,2324.6 234.3,2318.4 C233.0,2312.2 231.6,2282.1 232.3,2273.4 Z" fill="#f8f8fa" stroke="none" stroke-width="0" />
<path d="M258.3,2276.4 C258.8,2267.2 262.1,2261.7 263.3,2268.4 C264.5,2275.1 265.8,2307.2 265.3,2316.4 C264.8,2325.6 261.5,2330.1 260.3,2323.4 C259.1,2316.7 257.8,2285.6 258.3,2276.4 Z" fill="#f8f8fa" stroke="none" stroke-width="0" />
<path d="M290.3,2270.4 C291.0,2261.4 295.0,2257.7 296.3,2264.4 C297.6,2271.1 299.0,2301.4 298.3,2310.4 C297.6,2319.4 293.6,2325.1 292.3,2318.4 C291.0,2311.7 289.6,2279.4 290.3,2270.4 Z" fill="#f8f8fa" stroke="none" stroke-width="0" />
<path d="M352.3,2262.4 C353.0,2253.7 357.0,2248.4 358.3,2254.4 C359.6,2260.4 361.0,2289.7 360.3,2298.4 C359.6,2307.1 355.6,2312.4 354.3,2306.4 C353.0,2300.4 351.6,2271.1 352.3,2262.4 Z" fill="#f8f8fa" stroke="none" stroke-width="0" />
<path d="M380.3,2253.4 C381.0,2245.6 385.0,2240.9 386.3,2246.4 C387.6,2251.9 389.0,2278.6 388.3,2286.4 C387.6,2294.2 383.6,2298.9 382.3,2293.4 C381.0,2287.9 379.6,2261.2 380.3,2253.4 Z" fill="#f8f8fa" stroke="none" stroke-width="0" />
<g filter="url(#spk)" opacity="0.55">
<path d="M100.3,2143.4 C104.5,2117.9 115.3,2132.6 125.3,2123.4 C135.3,2114.2 149.1,2100.9 160.3,2088.4 C171.5,2075.9 150.0,2055.1 192.3,2048.4 C234.6,2041.7 377.3,2006.7 414.3,2048.4 C451.3,2090.1 425.0,2253.1 414.3,2298.4 C403.6,2343.7 369.3,2314.1 350.3,2320.4 C331.3,2326.7 317.0,2333.1 300.3,2336.4 C283.6,2339.7 267.0,2341.7 250.3,2340.4 C233.6,2339.1 217.0,2335.4 200.3,2328.4 C183.6,2321.4 167.0,2307.1 150.3,2298.4 C133.6,2289.7 108.6,2302.2 100.3,2276.4 C92.0,2250.6 96.1,2168.9 100.3,2143.4 Z" fill="#9ea6cf" stroke="none" stroke-width="0" />
</g>
<path d="M231.3,2043.4 C237.6,2032.9 254.5,2032.6 256.3,2043.4 C258.1,2054.2 247.6,2089.2 242.3,2108.4 C237.0,2127.6 228.3,2141.7 224.3,2158.4 C220.3,2175.1 221.0,2193.4 218.3,2208.4 C215.6,2223.4 213.0,2240.9 208.3,2248.4 C203.6,2255.9 198.0,2255.9 190.3,2253.4 C182.6,2250.9 172.0,2240.9 162.3,2233.4 C152.6,2225.9 138.0,2217.6 132.3,2208.4 C126.6,2199.2 125.0,2186.4 128.3,2178.4 C131.6,2170.4 141.6,2166.1 152.3,2160.4 C163.0,2154.7 181.3,2153.4 192.3,2144.4 C203.3,2135.4 211.8,2123.2 218.3,2106.4 C224.8,2089.6 225.0,2053.9 231.3,2043.4 Z" fill="#f8f8fa" stroke="none" stroke-width="0" />
<path d="M268.3,2043.4 C269.3,2025.9 280.6,2025.9 284.3,2043.4 C288.0,2060.9 288.8,2114.2 290.3,2148.4 C291.8,2182.6 294.0,2230.7 293.3,2248.4 C292.6,2266.1 288.8,2271.1 286.3,2254.4 C283.8,2237.7 281.3,2183.6 278.3,2148.4 C275.3,2113.2 267.3,2060.9 268.3,2043.4 Z" fill="#f8f8fa" stroke="none" stroke-width="0" />
<path d="M365.3,2043.4 C372.0,2032.6 411.1,2025.9 420.3,2043.4 C429.5,2060.9 424.3,2130.6 420.3,2148.4 C416.3,2166.2 403.0,2157.1 396.3,2150.4 C389.6,2143.7 385.5,2126.2 380.3,2108.4 C375.1,2090.6 358.6,2054.2 365.3,2043.4 Z" fill="#f8f8fa" stroke="none" stroke-width="0" />
<path d="M315.3,2143.4 C318.0,2133.7 328.8,2122.9 332.3,2140.4 C335.8,2157.9 337.3,2228.4 336.3,2248.4 C335.3,2268.4 329.6,2268.7 326.3,2260.4 C323.0,2252.1 318.1,2217.9 316.3,2198.4 C314.5,2178.9 312.6,2153.1 315.3,2143.4 Z" fill="#f8f8fa" stroke="none" stroke-width="0" />
<path d="M338.3,2043.4 C340.0,2032.6 348.0,2032.6 350.3,2043.4 C352.6,2054.2 353.0,2090.9 352.3,2108.4 C351.6,2125.9 348.3,2148.4 346.3,2148.4 C344.3,2148.4 341.6,2125.9 340.3,2108.4 C339.0,2090.9 336.6,2054.2 338.3,2043.4 Z" fill="#f8f8fa" stroke="none" stroke-width="0" />
<path d="M160.3,2263.4 C160.6,2255.9 164.6,2250.1 166.3,2253.4 C168.0,2256.7 170.6,2275.9 170.3,2283.4 C170.0,2290.9 166.0,2301.7 164.3,2298.4 C162.6,2295.1 160.0,2270.9 160.3,2263.4 Z" fill="#f8f8fa" stroke="none" stroke-width="0" />
<path d="M232.3,2273.4 C233.0,2264.7 237.0,2260.2 238.3,2266.4 C239.6,2272.6 241.0,2301.7 240.3,2310.4 C239.6,2319.1 235.6,2324.6 234.3,2318.4 C233.0,2312.2 231.6,2282.1 232.3,2273.4 Z" fill="#f8f8fa" stroke="none" stroke-width="0" />
<path d="M258.3,2276.4 C258.8,2267.2 262.1,2261.7 263.3,2268.4 C264.5,2275.1 265.8,2307.2 265.3,2316.4 C264.8,2325.6 261.5,2330.1 260.3,2323.4 C259.1,2316.7 257.8,2285.6 258.3,2276.4 Z" fill="#f8f8fa" stroke="none" stroke-width="0" />
<path d="M290.3,2270.4 C291.0,2261.4 295.0,2257.7 296.3,2264.4 C297.6,2271.1 299.0,2301.4 298.3,2310.4 C297.6,2319.4 293.6,2325.1 292.3,2318.4 C291.0,2311.7 289.6,2279.4 290.3,2270.4 Z" fill="#f8f8fa" stroke="none" stroke-width="0" />
<path d="M352.3,2262.4 C353.0,2253.7 357.0,2248.4 358.3,2254.4 C359.6,2260.4 361.0,2289.7 360.3,2298.4 C359.6,2307.1 355.6,2312.4 354.3,2306.4 C353.0,2300.4 351.6,2271.1 352.3,2262.4 Z" fill="#f8f8fa" stroke="none" stroke-width="0" />
<path d="M380.3,2253.4 C381.0,2245.6 385.0,2240.9 386.3,2246.4 C387.6,2251.9 389.0,2278.6 388.3,2286.4 C387.6,2294.2 383.6,2298.9 382.3,2293.4 C381.0,2287.9 379.6,2261.2 380.3,2253.4 Z" fill="#f8f8fa" stroke="none" stroke-width="0" />
<g filter="url(#spk3)">
<path d="M306 2302h0M119 2234h0M248 2330h0M338 2257h0M188 2310h0M317 2298h0M293 2328h0M386 2303h0M273 2316h0M277 2293h0M391 2245h0M362 2276h0M316 2266h0M274 2295h0M243 2311h0M296 2261h0M304 2315h0M284 2327h0M268 2266h0M404 2294h0M348 2299h0M159 2271h0M279 2281h0M196 2290h0" stroke="#8a4a1c" stroke-width="8.0" stroke-linecap="round" fill="none" />
<path d="M247 2293h0M298 2317h0M364 2298h0M401 2296h0M351 2259h0M353 2269h0M181 2298h0M290 2287h0M377 2269h0M383 2274h0M162 2276h0M142 2245h0M228 2307h0M226 2257h0M392 2247h0M232 2293h0M105 2232h0M399 2288h0M347 2296h0M376 2242h0M342 2264h0M389 2268h0M194 2302h0M145 2254h0M381 2257h0M270 2321h0M272 2317h0M383 2244h0M352 2279h0M411 2257h0M192 2315h0M287 2272h0M291 2266h0M366 2307h0M150 2287h0M351 2262h0M171 2256h0M358 2274h0M348 2312h0M204 2316h0M271 2299h0M412 2289h0M410 2299h0M353 2246h0" stroke="#8a4a1c" stroke-width="10.0" stroke-linecap="round" fill="none" />
<path d="M345 2268h0M137 2255h0M129 2262h0M240 2258h0M231 2313h0M239 2317h0M239 2322h0M187 2263h0M323 2296h0M145 2233h0M156 2233h0M264 2303h0M350 2321h0M120 2272h0M398 2240h0M365 2286h0M280 2270h0M109 2277h0M185 2279h0M172 2289h0M133 2274h0M340 2273h0M371 2290h0M104 2238h0M354 2250h0M123 2280h0M357 2292h0M139 2257h0M217 2287h0M125 2230h0M126 2244h0M377 2261h0M370 2265h0M129 2278h0M213 2301h0M270 2278h0M157 2261h0M208 2297h0M384 2280h0M222 2294h0M146 2294h0M413 2291h0M278 2327h0" stroke="#8a4a1c" stroke-width="12.0" stroke-linecap="round" fill="none" />
<path d="M239 2318h0M122 2271h0M243 2327h0M175 2291h0M107 2256h0M377 2296h0M289 2292h0M256 2320h0M242 2260h0M143 2260h0M297 2327h0M408 2303h0M144 2240h0M267 2267h0M267 2322h0M315 2252h0M404 2240h0M289 2254h0M397 2284h0M408 2232h0M306 2298h0M283 2288h0M278 2301h0M364 2248h0M395 2303h0M225 2281h0M278 2332h0M304 2272h0M255 2296h0M129 2235h0M389 2268h0M162 2249h0M191 2309h0M296 2309h0M384 2262h0" stroke="#8a4a1c" stroke-width="14.0" stroke-linecap="round" fill="none" />
<path d="M369 2292h0M357 2264h0M122 2238h0M142 2253h0M414 2233h0M388 2263h0M313 2268h0M383 2254h0M391 2242h0M261 2255h0M409 2290h0M345 2312h0M260 2330h0M340 2279h0M368 2305h0M357 2282h0M252 2271h0M373 2280h0M131 2257h0M325 2318h0" stroke="#8a4a1c" stroke-width="16.0" stroke-linecap="round" fill="none" />
<path d="M355 2300h0M308 2289h0" stroke="#8a4a1c" stroke-width="18.0" stroke-linecap="round" fill="none" />
</g>
<line x1="116.70" y1="2347.10" x2="161.90" y2="2347.10" stroke="#555" stroke-width="1.4" stroke-linecap="butt" />
<line x1="116.70" y1="2342.10" x2="116.70" y2="2352.10" stroke="#555" stroke-width="1.4" stroke-linecap="butt" />
<line x1="161.90" y1="2342.10" x2="161.90" y2="2352.10" stroke="#555" stroke-width="1.4" stroke-linecap="butt" />
<text  x="168.80" y="2351.60" font-size="12.5" font-weight="normal" font-style="normal" fill="#333" text-anchor="start" ><tspan >100µm</tspan></text>
</g>
<g clip-path="url(#cM2)">
<rect x="414.40" y="2048.40" width="314.00" height="313.20" fill="#f8f8fa" stroke="none" stroke-width="0" />
<path d="M414.4,2143.4 C418.6,2117.9 429.4,2132.6 439.4,2123.4 C449.4,2114.2 463.2,2100.9 474.4,2088.4 C485.6,2075.9 464.1,2055.1 506.4,2048.4 C548.7,2041.7 691.4,2006.7 728.4,2048.4 C765.4,2090.1 739.1,2253.1 728.4,2298.4 C717.7,2343.7 683.4,2314.1 664.4,2320.4 C645.4,2326.7 631.1,2333.1 614.4,2336.4 C597.7,2339.7 581.1,2341.7 564.4,2340.4 C547.7,2339.1 531.1,2335.4 514.4,2328.4 C497.7,2321.4 481.1,2307.1 464.4,2298.4 C447.7,2289.7 422.7,2302.2 414.4,2276.4 C406.1,2250.6 410.2,2168.9 414.4,2143.4 Z" fill="#cdd3ea" stroke="none" stroke-width="0" />
<path d="M414.4,2143.4 C418.6,2117.9 429.4,2132.6 439.4,2123.4 C449.4,2114.2 463.2,2100.9 474.4,2088.4 C485.6,2075.9 464.1,2055.1 506.4,2048.4 C548.7,2041.7 691.4,2006.7 728.4,2048.4 C765.4,2090.1 739.1,2253.1 728.4,2298.4 C717.7,2343.7 683.4,2314.1 664.4,2320.4 C645.4,2326.7 631.1,2333.1 614.4,2336.4 C597.7,2339.7 581.1,2341.7 564.4,2340.4 C547.7,2339.1 531.1,2335.4 514.4,2328.4 C497.7,2321.4 481.1,2307.1 464.4,2298.4 C447.7,2289.7 422.7,2302.2 414.4,2276.4 C406.1,2250.6 410.2,2168.9 414.4,2143.4 Z" fill="none" stroke="#222" stroke-width="1.3" stroke-dasharray="1.6 1.4"/>
<path d="M545.4,2043.4 C551.7,2032.9 568.6,2032.6 570.4,2043.4 C572.2,2054.2 561.7,2089.2 556.4,2108.4 C551.1,2127.6 542.4,2141.7 538.4,2158.4 C534.4,2175.1 535.1,2193.4 532.4,2208.4 C529.7,2223.4 527.1,2240.9 522.4,2248.4 C517.7,2255.9 512.1,2255.9 504.4,2253.4 C496.7,2250.9 486.1,2240.9 476.4,2233.4 C466.7,2225.9 452.1,2217.6 446.4,2208.4 C440.7,2199.2 439.1,2186.4 442.4,2178.4 C445.7,2170.4 455.7,2166.1 466.4,2160.4 C477.1,2154.7 495.4,2153.4 506.4,2144.4 C517.4,2135.4 525.9,2123.2 532.4,2106.4 C538.9,2089.6 539.1,2053.9 545.4,2043.4 Z" fill="#f8f8fa" stroke="#222" stroke-width="1.3" stroke-dasharray="1.6 1.4"/>
<path d="M582.4,2043.4 C583.4,2025.9 594.7,2025.9 598.4,2043.4 C602.1,2060.9 602.9,2114.2 604.4,2148.4 C605.9,2182.6 608.1,2230.7 607.4,2248.4 C606.7,2266.1 602.9,2271.1 600.4,2254.4 C597.9,2237.7 595.4,2183.6 592.4,2148.4 C589.4,2113.2 581.4,2060.9 582.4,2043.4 Z" fill="#f8f8fa" stroke="#222" stroke-width="1.3" stroke-dasharray="1.6 1.4"/>
<path d="M679.4,2043.4 C686.1,2032.6 725.2,2025.9 734.4,2043.4 C743.6,2060.9 738.4,2130.6 734.4,2148.4 C730.4,2166.2 717.1,2157.1 710.4,2150.4 C703.7,2143.7 699.6,2126.2 694.4,2108.4 C689.2,2090.6 672.7,2054.2 679.4,2043.4 Z" fill="#f8f8fa" stroke="#222" stroke-width="1.3" stroke-dasharray="1.6 1.4"/>
<path d="M629.4,2143.4 C632.1,2133.7 642.9,2122.9 646.4,2140.4 C649.9,2157.9 651.4,2228.4 650.4,2248.4 C649.4,2268.4 643.7,2268.7 640.4,2260.4 C637.1,2252.1 632.2,2217.9 630.4,2198.4 C628.6,2178.9 626.7,2153.1 629.4,2143.4 Z" fill="#f8f8fa" stroke="#222" stroke-width="1.3" stroke-dasharray="1.6 1.4"/>
<path d="M652.4,2043.4 C654.1,2032.6 662.1,2032.6 664.4,2043.4 C666.7,2054.2 667.1,2090.9 666.4,2108.4 C665.7,2125.9 662.4,2148.4 660.4,2148.4 C658.4,2148.4 655.7,2125.9 654.4,2108.4 C653.1,2090.9 650.7,2054.2 652.4,2043.4 Z" fill="#f8f8fa" stroke="#222" stroke-width="1.3" stroke-dasharray="1.6 1.4"/>
<path d="M474.4,2263.4 C474.7,2255.9 478.7,2250.1 480.4,2253.4 C482.1,2256.7 484.7,2275.9 484.4,2283.4 C484.1,2290.9 480.1,2301.7 478.4,2298.4 C476.7,2295.1 474.1,2270.9 474.4,2263.4 Z" fill="#f8f8fa" stroke="#222" stroke-width="1.3" stroke-dasharray="1.6 1.4"/>
<path d="M546.4,2273.4 C547.1,2264.7 551.1,2260.2 552.4,2266.4 C553.7,2272.6 555.1,2301.7 554.4,2310.4 C553.7,2319.1 549.7,2324.6 548.4,2318.4 C547.1,2312.2 545.7,2282.1 546.4,2273.4 Z" fill="#f8f8fa" stroke="#222" stroke-width="1.3" stroke-dasharray="1.6 1.4"/>
<path d="M572.4,2276.4 C572.9,2267.2 576.2,2261.7 577.4,2268.4 C578.6,2275.1 579.9,2307.2 579.4,2316.4 C578.9,2325.6 575.6,2330.1 574.4,2323.4 C573.2,2316.7 571.9,2285.6 572.4,2276.4 Z" fill="#f8f8fa" stroke="#222" stroke-width="1.3" stroke-dasharray="1.6 1.4"/>
<path d="M604.4,2270.4 C605.1,2261.4 609.1,2257.7 610.4,2264.4 C611.7,2271.1 613.1,2301.4 612.4,2310.4 C611.7,2319.4 607.7,2325.1 606.4,2318.4 C605.1,2311.7 603.7,2279.4 604.4,2270.4 Z" fill="#f8f8fa" stroke="#222" stroke-width="1.3" stroke-dasharray="1.6 1.4"/>
<path d="M666.4,2262.4 C667.1,2253.7 671.1,2248.4 672.4,2254.4 C673.7,2260.4 675.1,2289.7 674.4,2298.4 C673.7,2307.1 669.7,2312.4 668.4,2306.4 C667.1,2300.4 665.7,2271.1 666.4,2262.4 Z" fill="#f8f8fa" stroke="#222" stroke-width="1.3" stroke-dasharray="1.6 1.4"/>
<path d="M694.4,2253.4 C695.1,2245.6 699.1,2240.9 700.4,2246.4 C701.7,2251.9 703.1,2278.6 702.4,2286.4 C701.7,2294.2 697.7,2298.9 696.4,2293.4 C695.1,2287.9 693.7,2261.2 694.4,2253.4 Z" fill="#f8f8fa" stroke="#222" stroke-width="1.3" stroke-dasharray="1.6 1.4"/>
<g filter="url(#spk)" opacity="0.22">
<path d="M414.4,2143.4 C418.6,2117.9 429.4,2132.6 439.4,2123.4 C449.4,2114.2 463.2,2100.9 474.4,2088.4 C485.6,2075.9 464.1,2055.1 506.4,2048.4 C548.7,2041.7 691.4,2006.7 728.4,2048.4 C765.4,2090.1 739.1,2253.1 728.4,2298.4 C717.7,2343.7 683.4,2314.1 664.4,2320.4 C645.4,2326.7 631.1,2333.1 614.4,2336.4 C597.7,2339.7 581.1,2341.7 564.4,2340.4 C547.7,2339.1 531.1,2335.4 514.4,2328.4 C497.7,2321.4 481.1,2307.1 464.4,2298.4 C447.7,2289.7 422.7,2302.2 414.4,2276.4 C406.1,2250.6 410.2,2168.9 414.4,2143.4 Z" fill="#555" stroke="none" stroke-width="0" />
</g>
<path d="M545.4,2043.4 C551.7,2032.9 568.6,2032.6 570.4,2043.4 C572.2,2054.2 561.7,2089.2 556.4,2108.4 C551.1,2127.6 542.4,2141.7 538.4,2158.4 C534.4,2175.1 535.1,2193.4 532.4,2208.4 C529.7,2223.4 527.1,2240.9 522.4,2248.4 C517.7,2255.9 512.1,2255.9 504.4,2253.4 C496.7,2250.9 486.1,2240.9 476.4,2233.4 C466.7,2225.9 452.1,2217.6 446.4,2208.4 C440.7,2199.2 439.1,2186.4 442.4,2178.4 C445.7,2170.4 455.7,2166.1 466.4,2160.4 C477.1,2154.7 495.4,2153.4 506.4,2144.4 C517.4,2135.4 525.9,2123.2 532.4,2106.4 C538.9,2089.6 539.1,2053.9 545.4,2043.4 Z" fill="#f8f8fa" stroke="none" stroke-width="0" />
<path d="M582.4,2043.4 C583.4,2025.9 594.7,2025.9 598.4,2043.4 C602.1,2060.9 602.9,2114.2 604.4,2148.4 C605.9,2182.6 608.1,2230.7 607.4,2248.4 C606.7,2266.1 602.9,2271.1 600.4,2254.4 C597.9,2237.7 595.4,2183.6 592.4,2148.4 C589.4,2113.2 581.4,2060.9 582.4,2043.4 Z" fill="#f8f8fa" stroke="none" stroke-width="0" />
<path d="M679.4,2043.4 C686.1,2032.6 725.2,2025.9 734.4,2043.4 C743.6,2060.9 738.4,2130.6 734.4,2148.4 C730.4,2166.2 717.1,2157.1 710.4,2150.4 C703.7,2143.7 699.6,2126.2 694.4,2108.4 C689.2,2090.6 672.7,2054.2 679.4,2043.4 Z" fill="#f8f8fa" stroke="none" stroke-width="0" />
<path d="M629.4,2143.4 C632.1,2133.7 642.9,2122.9 646.4,2140.4 C649.9,2157.9 651.4,2228.4 650.4,2248.4 C649.4,2268.4 643.7,2268.7 640.4,2260.4 C637.1,2252.1 632.2,2217.9 630.4,2198.4 C628.6,2178.9 626.7,2153.1 629.4,2143.4 Z" fill="#f8f8fa" stroke="none" stroke-width="0" />
<path d="M652.4,2043.4 C654.1,2032.6 662.1,2032.6 664.4,2043.4 C666.7,2054.2 667.1,2090.9 666.4,2108.4 C665.7,2125.9 662.4,2148.4 660.4,2148.4 C658.4,2148.4 655.7,2125.9 654.4,2108.4 C653.1,2090.9 650.7,2054.2 652.4,2043.4 Z" fill="#f8f8fa" stroke="none" stroke-width="0" />
<path d="M474.4,2263.4 C474.7,2255.9 478.7,2250.1 480.4,2253.4 C482.1,2256.7 484.7,2275.9 484.4,2283.4 C484.1,2290.9 480.1,2301.7 478.4,2298.4 C476.7,2295.1 474.1,2270.9 474.4,2263.4 Z" fill="#f8f8fa" stroke="none" stroke-width="0" />
<path d="M546.4,2273.4 C547.1,2264.7 551.1,2260.2 552.4,2266.4 C553.7,2272.6 555.1,2301.7 554.4,2310.4 C553.7,2319.1 549.7,2324.6 548.4,2318.4 C547.1,2312.2 545.7,2282.1 546.4,2273.4 Z" fill="#f8f8fa" stroke="none" stroke-width="0" />
<path d="M572.4,2276.4 C572.9,2267.2 576.2,2261.7 577.4,2268.4 C578.6,2275.1 579.9,2307.2 579.4,2316.4 C578.9,2325.6 575.6,2330.1 574.4,2323.4 C573.2,2316.7 571.9,2285.6 572.4,2276.4 Z" fill="#f8f8fa" stroke="none" stroke-width="0" />
<path d="M604.4,2270.4 C605.1,2261.4 609.1,2257.7 610.4,2264.4 C611.7,2271.1 613.1,2301.4 612.4,2310.4 C611.7,2319.4 607.7,2325.1 606.4,2318.4 C605.1,2311.7 603.7,2279.4 604.4,2270.4 Z" fill="#f8f8fa" stroke="none" stroke-width="0" />
<path d="M666.4,2262.4 C667.1,2253.7 671.1,2248.4 672.4,2254.4 C673.7,2260.4 675.1,2289.7 674.4,2298.4 C673.7,2307.1 669.7,2312.4 668.4,2306.4 C667.1,2300.4 665.7,2271.1 666.4,2262.4 Z" fill="#f8f8fa" stroke="none" stroke-width="0" />
<path d="M694.4,2253.4 C695.1,2245.6 699.1,2240.9 700.4,2246.4 C701.7,2251.9 703.1,2278.6 702.4,2286.4 C701.7,2294.2 697.7,2298.9 696.4,2293.4 C695.1,2287.9 693.7,2261.2 694.4,2253.4 Z" fill="#f8f8fa" stroke="none" stroke-width="0" />
<g filter="url(#spk4)">
<path d="M620 2302h0M433 2234h0M562 2330h0M652 2257h0M502 2310h0M631 2298h0M607 2328h0M700 2303h0M587 2316h0M591 2293h0M705 2245h0M676 2276h0M630 2266h0M588 2295h0M557 2311h0M610 2261h0M618 2315h0M598 2327h0M582 2266h0M718 2294h0M662 2299h0M473 2271h0M593 2281h0M510 2290h0" stroke="#2f8f2a" stroke-width="8.0" stroke-linecap="round" fill="none" />
<path d="M561 2293h0M612 2317h0M678 2298h0M715 2296h0M665 2259h0M667 2269h0M495 2298h0M604 2287h0M691 2269h0M697 2274h0M476 2276h0M456 2245h0M542 2307h0M540 2257h0M706 2247h0M547 2293h0M419 2232h0M714 2288h0M661 2296h0M690 2242h0M656 2264h0M704 2268h0M508 2302h0M459 2254h0M695 2257h0M584 2321h0M586 2317h0M697 2244h0M666 2279h0M726 2257h0M506 2315h0M601 2272h0M605 2266h0M680 2307h0M464 2287h0M665 2262h0M486 2256h0M672 2274h0M662 2312h0M518 2316h0M585 2299h0M726 2289h0M724 2299h0M667 2246h0" stroke="#2f8f2a" stroke-width="10.0" stroke-linecap="round" fill="none" />
<path d="M659 2268h0M451 2255h0M443 2262h0M554 2258h0M545 2313h0M553 2317h0M553 2322h0M501 2263h0M637 2296h0M459 2233h0M471 2233h0M578 2303h0M665 2321h0M435 2272h0M712 2240h0M679 2286h0M594 2270h0M423 2277h0M499 2279h0M486 2289h0M447 2274h0M655 2273h0M685 2290h0M418 2238h0M669 2250h0M437 2280h0M671 2292h0M453 2257h0M532 2287h0M439 2230h0M440 2244h0M691 2261h0M684 2265h0M443 2278h0M527 2301h0M584 2278h0M471 2261h0M522 2297h0M698 2280h0M536 2294h0M460 2294h0M727 2291h0M592 2327h0" stroke="#2f8f2a" stroke-width="12.0" stroke-linecap="round" fill="none" />
<path d="M553 2318h0M436 2271h0M557 2327h0M489 2291h0M421 2256h0M691 2296h0M603 2292h0M570 2320h0M556 2260h0M457 2260h0M611 2327h0M722 2303h0M459 2240h0M581 2267h0M581 2322h0M630 2252h0M718 2240h0M603 2254h0M711 2284h0M722 2232h0M620 2298h0M597 2288h0M592 2301h0M678 2248h0M710 2303h0M539 2281h0M593 2332h0M618 2272h0M569 2296h0M443 2235h0M703 2268h0M477 2249h0M505 2309h0M610 2309h0M698 2262h0" stroke="#2f8f2a" stroke-width="14.0" stroke-linecap="round" fill="none" />
<path d="M683 2292h0M671 2264h0M436 2238h0M456 2253h0M728 2233h0M702 2263h0M627 2268h0M697 2254h0M705 2242h0M575 2255h0M723 2290h0M659 2312h0M574 2330h0M655 2279h0M682 2305h0M671 2282h0M566 2271h0M687 2280h0M445 2257h0M639 2318h0" stroke="#2f8f2a" stroke-width="16.0" stroke-linecap="round" fill="none" />
<path d="M669 2300h0M622 2289h0" stroke="#2f8f2a" stroke-width="18.0" stroke-linecap="round" fill="none" />
</g>
<g filter="url(#spk3)">
<path d="M433 2234h0M652 2257h0M502 2310h0M700 2303h0M705 2245h0M630 2266h0M598 2327h0M582 2266h0" stroke="#1f6e1c" stroke-width="6.0" stroke-linecap="round" fill="none" opacity="0.8"/>
<path d="M561 2293h0M562 2330h0M451 2255h0M691 2269h0M456 2245h0M542 2307h0M540 2257h0M547 2293h0M419 2232h0M661 2296h0M690 2242h0M656 2264h0M586 2317h0M666 2279h0M506 2315h0M605 2266h0M527 2301h0M665 2262h0M486 2256h0M672 2274h0M522 2297h0M698 2280h0M585 2299h0M724 2299h0M727 2291h0" stroke="#1f6e1c" stroke-width="8.0" stroke-linecap="round" fill="none" opacity="0.8"/>
<path d="M443 2262h0M421 2256h0M603 2292h0M501 2263h0M637 2296h0M459 2233h0M578 2303h0M665 2321h0M435 2272h0M712 2240h0M423 2277h0M499 2279h0M447 2274h0M581 2267h0M711 2284h0M669 2250h0M671 2292h0M597 2288h0M532 2287h0M439 2230h0M440 2244h0M539 2281h0M691 2261h0M443 2278h0M477 2249h0M505 2309h0M536 2294h0M460 2294h0" stroke="#1f6e1c" stroke-width="10.0" stroke-linecap="round" fill="none" opacity="0.8"/>
<path d="M436 2271h0M683 2292h0M671 2264h0M489 2291h0M691 2296h0M627 2268h0M697 2254h0M630 2252h0M705 2242h0M603 2254h0M575 2255h0M723 2290h0M710 2303h0M618 2272h0M569 2296h0M445 2257h0M443 2235h0M698 2262h0" stroke="#1f6e1c" stroke-width="12.0" stroke-linecap="round" fill="none" opacity="0.8"/>
<path d="M669 2300h0M622 2289h0M456 2253h0M702 2263h0M671 2282h0" stroke="#1f6e1c" stroke-width="14.0" stroke-linecap="round" fill="none" opacity="0.8"/>
</g>
<line x1="430.80" y1="2347.10" x2="476.00" y2="2347.10" stroke="#555" stroke-width="1.4" stroke-linecap="butt" />
<line x1="430.80" y1="2342.10" x2="430.80" y2="2352.10" stroke="#555" stroke-width="1.4" stroke-linecap="butt" />
<line x1="476.00" y1="2342.10" x2="476.00" y2="2352.10" stroke="#555" stroke-width="1.4" stroke-linecap="butt" />
<text  x="482.90" y="2351.60" font-size="12.5" font-weight="normal" font-style="normal" fill="#333" text-anchor="start" ><tspan >100µm</tspan></text>
</g>
<g clip-path="url(#cM3)">
<rect x="100.30" y="2361.60" width="314.10" height="313.60" fill="#f8f8fa" stroke="none" stroke-width="0" />
<path d="M95.3,2423.6 C102.8,2416.6 128.1,2390.9 140.3,2381.6 C152.5,2372.3 163.6,2369.9 168.3,2367.6" fill="none" stroke="#9ea6cf" stroke-width="20.6" stroke-linecap="round" stroke-linejoin="round" stroke-dasharray="1.6 1.3"/>
<path d="M95.3,2423.6 C102.8,2416.6 128.1,2390.9 140.3,2381.6 C152.5,2372.3 163.6,2369.9 168.3,2367.6" fill="none" stroke="#f8f8fa" stroke-width="18.2" stroke-linecap="round" stroke-linejoin="round"/>
<path d="M95.3,2423.6 C102.8,2416.6 128.1,2390.9 140.3,2381.6 C152.5,2372.3 163.6,2369.9 168.3,2367.6" fill="none" stroke="#d7dcef" stroke-width="18.0" stroke-linecap="round" stroke-linejoin="round"/>
<path d="M95.3,2423.6 C102.8,2416.6 128.1,2390.9 140.3,2381.6 C152.5,2372.3 163.6,2369.9 168.3,2367.6" fill="none" stroke="#9ea6cf" stroke-width="1.5" stroke-linecap="round" stroke-dasharray="1.2 3" opacity="0.8"/>
<path d="M95.3,2486.6 C103.6,2477.8 128.3,2450.4 145.3,2433.6 C162.3,2416.8 188.6,2393.6 197.3,2385.6" fill="none" stroke="#9ea6cf" stroke-width="24.6" stroke-linecap="round" stroke-linejoin="round" stroke-dasharray="1.6 1.3"/>
<path d="M95.3,2486.6 C103.6,2477.8 128.3,2450.4 145.3,2433.6 C162.3,2416.8 188.6,2393.6 197.3,2385.6" fill="none" stroke="#f8f8fa" stroke-width="22.2" stroke-linecap="round" stroke-linejoin="round"/>
<path d="M95.3,2486.6 C103.6,2477.8 128.3,2450.4 145.3,2433.6 C162.3,2416.8 188.6,2393.6 197.3,2385.6" fill="none" stroke="#d7dcef" stroke-width="22.0" stroke-linecap="round" stroke-linejoin="round"/>
<path d="M95.3,2486.6 C103.6,2477.8 128.3,2450.4 145.3,2433.6 C162.3,2416.8 188.6,2393.6 197.3,2385.6" fill="none" stroke="#9ea6cf" stroke-width="1.5" stroke-linecap="round" stroke-dasharray="1.2 3" opacity="0.8"/>
<path d="M95.3,2561.6 C105.3,2549.9 136.1,2514.9 155.3,2491.6 C174.5,2468.3 198.5,2439.3 210.3,2421.6 C222.1,2403.9 223.6,2391.6 226.3,2385.6" fill="none" stroke="#9ea6cf" stroke-width="26.6" stroke-linecap="round" stroke-linejoin="round" stroke-dasharray="1.6 1.3"/>
<path d="M95.3,2561.6 C105.3,2549.9 136.1,2514.9 155.3,2491.6 C174.5,2468.3 198.5,2439.3 210.3,2421.6 C222.1,2403.9 223.6,2391.6 226.3,2385.6" fill="none" stroke="#f8f8fa" stroke-width="24.2" stroke-linecap="round" stroke-linejoin="round"/>
<path d="M95.3,2561.6 C105.3,2549.9 136.1,2514.9 155.3,2491.6 C174.5,2468.3 198.5,2439.3 210.3,2421.6 C222.1,2403.9 223.6,2391.6 226.3,2385.6" fill="none" stroke="#d7dcef" stroke-width="24.0" stroke-linecap="round" stroke-linejoin="round"/>
<path d="M95.3,2561.6 C105.3,2549.9 136.1,2514.9 155.3,2491.6 C174.5,2468.3 198.5,2439.3 210.3,2421.6 C222.1,2403.9 223.6,2391.6 226.3,2385.6" fill="none" stroke="#9ea6cf" stroke-width="1.5" stroke-linecap="round" stroke-dasharray="1.2 3" opacity="0.8"/>
<path d="M140.3,2579.6 C148.6,2566.9 173.6,2528.3 190.3,2503.6 C207.0,2478.9 229.3,2450.6 240.3,2431.6 C251.3,2412.6 253.6,2396.6 256.3,2389.6" fill="none" stroke="#9ea6cf" stroke-width="24.6" stroke-linecap="round" stroke-linejoin="round" stroke-dasharray="1.6 1.3"/>
<path d="M140.3,2579.6 C148.6,2566.9 173.6,2528.3 190.3,2503.6 C207.0,2478.9 229.3,2450.6 240.3,2431.6 C251.3,2412.6 253.6,2396.6 256.3,2389.6" fill="none" stroke="#f8f8fa" stroke-width="22.2" stroke-linecap="round" stroke-linejoin="round"/>
<path d="M140.3,2579.6 C148.6,2566.9 173.6,2528.3 190.3,2503.6 C207.0,2478.9 229.3,2450.6 240.3,2431.6 C251.3,2412.6 253.6,2396.6 256.3,2389.6" fill="none" stroke="#d7dcef" stroke-width="22.0" stroke-linecap="round" stroke-linejoin="round"/>
<path d="M140.3,2579.6 C148.6,2566.9 173.6,2528.3 190.3,2503.6 C207.0,2478.9 229.3,2450.6 240.3,2431.6 C251.3,2412.6 253.6,2396.6 256.3,2389.6" fill="none" stroke="#9ea6cf" stroke-width="1.5" stroke-linecap="round" stroke-dasharray="1.2 3" opacity="0.8"/>
<path d="M188.3,2579.6 C195.3,2568.3 216.6,2534.6 230.3,2511.6 C244.0,2488.6 260.3,2461.6 270.3,2441.6 C280.3,2421.6 287.0,2399.9 290.3,2391.6" fill="none" stroke="#9ea6cf" stroke-width="22.6" stroke-linecap="round" stroke-linejoin="round" stroke-dasharray="1.6 1.3"/>
<path d="M188.3,2579.6 C195.3,2568.3 216.6,2534.6 230.3,2511.6 C244.0,2488.6 260.3,2461.6 270.3,2441.6 C280.3,2421.6 287.0,2399.9 290.3,2391.6" fill="none" stroke="#f8f8fa" stroke-width="20.2" stroke-linecap="round" stroke-linejoin="round"/>
<path d="M188.3,2579.6 C195.3,2568.3 216.6,2534.6 230.3,2511.6 C244.0,2488.6 260.3,2461.6 270.3,2441.6 C280.3,2421.6 287.0,2399.9 290.3,2391.6" fill="none" stroke="#d7dcef" stroke-width="20.0" stroke-linecap="round" stroke-linejoin="round"/>
<path d="M188.3,2579.6 C195.3,2568.3 216.6,2534.6 230.3,2511.6 C244.0,2488.6 260.3,2461.6 270.3,2441.6 C280.3,2421.6 287.0,2399.9 290.3,2391.6" fill="none" stroke="#9ea6cf" stroke-width="1.5" stroke-linecap="round" stroke-dasharray="1.2 3" opacity="0.8"/>
<path d="M242.3,2579.6 C247.8,2566.9 265.6,2526.6 275.3,2503.6 C285.0,2480.6 293.8,2454.6 300.3,2441.6 C306.8,2428.6 312.0,2428.3 314.3,2425.6" fill="none" stroke="#9ea6cf" stroke-width="20.6" stroke-linecap="round" stroke-linejoin="round" stroke-dasharray="1.6 1.3"/>
<path d="M242.3,2579.6 C247.8,2566.9 265.6,2526.6 275.3,2503.6 C285.0,2480.6 293.8,2454.6 300.3,2441.6 C306.8,2428.6 312.0,2428.3 314.3,2425.6" fill="none" stroke="#f8f8fa" stroke-width="18.2" stroke-linecap="round" stroke-linejoin="round"/>
<path d="M242.3,2579.6 C247.8,2566.9 265.6,2526.6 275.3,2503.6 C285.0,2480.6 293.8,2454.6 300.3,2441.6 C306.8,2428.6 312.0,2428.3 314.3,2425.6" fill="none" stroke="#d7dcef" stroke-width="18.0" stroke-linecap="round" stroke-linejoin="round"/>
<path d="M242.3,2579.6 C247.8,2566.9 265.6,2526.6 275.3,2503.6 C285.0,2480.6 293.8,2454.6 300.3,2441.6 C306.8,2428.6 312.0,2428.3 314.3,2425.6" fill="none" stroke="#9ea6cf" stroke-width="1.5" stroke-linecap="round" stroke-dasharray="1.2 3" opacity="0.8"/>
<path d="M305.3,2461.6 C304.5,2457.4 298.8,2443.6 300.3,2436.6 C301.8,2429.6 309.3,2421.1 314.3,2419.6 C319.3,2418.1 328.3,2421.9 330.3,2427.6 C332.3,2433.3 327.0,2449.3 326.3,2453.6" fill="none" stroke="#9ea6cf" stroke-width="14.6" stroke-linecap="round" stroke-linejoin="round" stroke-dasharray="1.6 1.3"/>
<path d="M305.3,2461.6 C304.5,2457.4 298.8,2443.6 300.3,2436.6 C301.8,2429.6 309.3,2421.1 314.3,2419.6 C319.3,2418.1 328.3,2421.9 330.3,2427.6 C332.3,2433.3 327.0,2449.3 326.3,2453.6" fill="none" stroke="#f8f8fa" stroke-width="12.2" stroke-linecap="round" stroke-linejoin="round"/>
<path d="M305.3,2461.6 C304.5,2457.4 298.8,2443.6 300.3,2436.6 C301.8,2429.6 309.3,2421.1 314.3,2419.6 C319.3,2418.1 328.3,2421.9 330.3,2427.6 C332.3,2433.3 327.0,2449.3 326.3,2453.6" fill="none" stroke="#d7dcef" stroke-width="12.0" stroke-linecap="round" stroke-linejoin="round"/>
<path d="M355.3,2579.6 C356.5,2568.3 359.5,2530.4 362.3,2511.6 C365.1,2492.8 370.6,2474.1 372.3,2466.6" fill="none" stroke="#9ea6cf" stroke-width="20.6" stroke-linecap="round" stroke-linejoin="round" stroke-dasharray="1.6 1.3"/>
<path d="M355.3,2579.6 C356.5,2568.3 359.5,2530.4 362.3,2511.6 C365.1,2492.8 370.6,2474.1 372.3,2466.6" fill="none" stroke="#f8f8fa" stroke-width="18.2" stroke-linecap="round" stroke-linejoin="round"/>
<path d="M355.3,2579.6 C356.5,2568.3 359.5,2530.4 362.3,2511.6 C365.1,2492.8 370.6,2474.1 372.3,2466.6" fill="none" stroke="#d7dcef" stroke-width="18.0" stroke-linecap="round" stroke-linejoin="round"/>
<path d="M355.3,2579.6 C356.5,2568.3 359.5,2530.4 362.3,2511.6 C365.1,2492.8 370.6,2474.1 372.3,2466.6" fill="none" stroke="#9ea6cf" stroke-width="1.5" stroke-linecap="round" stroke-dasharray="1.2 3" opacity="0.8"/>
<path d="M405.3,2579.6 C404.5,2563.3 402.8,2512.9 400.3,2481.6 C397.8,2450.3 393.3,2411.6 390.3,2391.6 C387.3,2371.6 383.6,2366.6 382.3,2361.6" fill="none" stroke="#9ea6cf" stroke-width="26.6" stroke-linecap="round" stroke-linejoin="round" stroke-dasharray="1.6 1.3"/>
<path d="M405.3,2579.6 C404.5,2563.3 402.8,2512.9 400.3,2481.6 C397.8,2450.3 393.3,2411.6 390.3,2391.6 C387.3,2371.6 383.6,2366.6 382.3,2361.6" fill="none" stroke="#f8f8fa" stroke-width="24.2" stroke-linecap="round" stroke-linejoin="round"/>
<path d="M405.3,2579.6 C404.5,2563.3 402.8,2512.9 400.3,2481.6 C397.8,2450.3 393.3,2411.6 390.3,2391.6 C387.3,2371.6 383.6,2366.6 382.3,2361.6" fill="none" stroke="#d7dcef" stroke-width="24.0" stroke-linecap="round" stroke-linejoin="round"/>
<path d="M405.3,2579.6 C404.5,2563.3 402.8,2512.9 400.3,2481.6 C397.8,2450.3 393.3,2411.6 390.3,2391.6 C387.3,2371.6 383.6,2366.6 382.3,2361.6" fill="none" stroke="#9ea6cf" stroke-width="1.5" stroke-linecap="round" stroke-dasharray="1.2 3" opacity="0.8"/>
<g filter="url(#spk)" opacity="0.55">
<path d="M95.3,2423.6 C102.8,2416.6 128.1,2390.9 140.3,2381.6 C152.5,2372.3 163.6,2369.9 168.3,2367.6" fill="none" stroke="#9ea6cf" stroke-width="18.0" stroke-linecap="round" stroke-linejoin="round"/>
<path d="M95.3,2486.6 C103.6,2477.8 128.3,2450.4 145.3,2433.6 C162.3,2416.8 188.6,2393.6 197.3,2385.6" fill="none" stroke="#9ea6cf" stroke-width="22.0" stroke-linecap="round" stroke-linejoin="round"/>
<path d="M95.3,2561.6 C105.3,2549.9 136.1,2514.9 155.3,2491.6 C174.5,2468.3 198.5,2439.3 210.3,2421.6 C222.1,2403.9 223.6,2391.6 226.3,2385.6" fill="none" stroke="#9ea6cf" stroke-width="24.0" stroke-linecap="round" stroke-linejoin="round"/>
<path d="M140.3,2579.6 C148.6,2566.9 173.6,2528.3 190.3,2503.6 C207.0,2478.9 229.3,2450.6 240.3,2431.6 C251.3,2412.6 253.6,2396.6 256.3,2389.6" fill="none" stroke="#9ea6cf" stroke-width="22.0" stroke-linecap="round" stroke-linejoin="round"/>
<path d="M188.3,2579.6 C195.3,2568.3 216.6,2534.6 230.3,2511.6 C244.0,2488.6 260.3,2461.6 270.3,2441.6 C280.3,2421.6 287.0,2399.9 290.3,2391.6" fill="none" stroke="#9ea6cf" stroke-width="20.0" stroke-linecap="round" stroke-linejoin="round"/>
<path d="M242.3,2579.6 C247.8,2566.9 265.6,2526.6 275.3,2503.6 C285.0,2480.6 293.8,2454.6 300.3,2441.6 C306.8,2428.6 312.0,2428.3 314.3,2425.6" fill="none" stroke="#9ea6cf" stroke-width="18.0" stroke-linecap="round" stroke-linejoin="round"/>
<path d="M305.3,2461.6 C304.5,2457.4 298.8,2443.6 300.3,2436.6 C301.8,2429.6 309.3,2421.1 314.3,2419.6 C319.3,2418.1 328.3,2421.9 330.3,2427.6 C332.3,2433.3 327.0,2449.3 326.3,2453.6" fill="none" stroke="#9ea6cf" stroke-width="12.0" stroke-linecap="round" stroke-linejoin="round"/>
<path d="M355.3,2579.6 C356.5,2568.3 359.5,2530.4 362.3,2511.6 C365.1,2492.8 370.6,2474.1 372.3,2466.6" fill="none" stroke="#9ea6cf" stroke-width="18.0" stroke-linecap="round" stroke-linejoin="round"/>
<path d="M405.3,2579.6 C404.5,2563.3 402.8,2512.9 400.3,2481.6 C397.8,2450.3 393.3,2411.6 390.3,2391.6 C387.3,2371.6 383.6,2366.6 382.3,2361.6" fill="none" stroke="#9ea6cf" stroke-width="24.0" stroke-linecap="round" stroke-linejoin="round"/>
<path d="M100.3,2556.6 C113.6,2540.3 153.6,2559.9 180.3,2561.6 C207.0,2563.3 233.6,2566.6 260.3,2566.6 C287.0,2566.6 314.6,2563.3 340.3,2561.6 C366.0,2559.9 402.0,2539.9 414.3,2556.6 C426.6,2573.3 426.6,2643.8 414.3,2661.6 C402.0,2679.4 366.0,2662.8 340.3,2663.6 C314.6,2664.4 287.0,2666.6 260.3,2666.6 C233.6,2666.6 207.0,2664.8 180.3,2663.6 C153.6,2662.4 113.6,2677.4 100.3,2659.6 C87.0,2641.8 87.0,2572.9 100.3,2556.6 Z" fill="#9ea6cf" stroke="none" stroke-width="0" />
</g>
<path d="M100.3,2556.6 C113.6,2540.3 153.6,2559.9 180.3,2561.6 C207.0,2563.3 233.6,2566.6 260.3,2566.6 C287.0,2566.6 314.6,2563.3 340.3,2561.6 C366.0,2559.9 402.0,2539.9 414.3,2556.6 C426.6,2573.3 426.6,2643.8 414.3,2661.6 C402.0,2679.4 366.0,2662.8 340.3,2663.6 C314.6,2664.4 287.0,2666.6 260.3,2666.6 C233.6,2666.6 207.0,2664.8 180.3,2663.6 C153.6,2662.4 113.6,2677.4 100.3,2659.6 C87.0,2641.8 87.0,2572.9 100.3,2556.6 Z" fill="#d7dcef" stroke="none" stroke-width="0" />
<g filter="url(#spk3)">
<path d="M367 2583h0M143 2627h0M152 2627h0M302 2604h0M191 2577h0M128 2633h0M202 2642h0M295 2627h0M194 2566h0M250 2583h0M128 2579h0M354 2583h0M174 2592h0M357 2617h0M247 2578h0M157 2616h0M298 2611h0M139 2622h0M225 2594h0M183 2576h0M231 2567h0M398 2602h0M283 2599h0M202 2652h0M284 2618h0M265 2625h0" stroke="#8a4a1c" stroke-width="10.0" stroke-linecap="round" fill="none" />
<path d="M337 2608h0M141 2611h0M326 2637h0M286 2591h0M367 2589h0M205 2585h0M135 2639h0M411 2569h0M245 2637h0M311 2634h0M166 2649h0M263 2607h0M234 2600h0M276 2608h0M394 2613h0M330 2601h0M326 2559h0M144 2644h0M355 2600h0M142 2651h0M133 2643h0M381 2578h0M129 2624h0M317 2598h0M122 2637h0M403 2596h0M266 2599h0M390 2616h0M353 2636h0M266 2572h0M393 2571h0" stroke="#8a4a1c" stroke-width="12.0" stroke-linecap="round" fill="none" />
<path d="M264 2587h0M363 2620h0M205 2605h0M111 2577h0M178 2642h0M394 2613h0M268 2627h0M101 2566h0M231 2646h0M177 2610h0M118 2621h0M375 2601h0M241 2599h0M168 2576h0M167 2577h0M274 2633h0M133 2629h0M233 2577h0M148 2647h0M207 2598h0M257 2635h0M401 2575h0M301 2579h0M402 2626h0M265 2626h0M327 2602h0M233 2585h0M280 2572h0M315 2593h0M365 2620h0M139 2627h0M211 2635h0M356 2637h0M367 2600h0M278 2630h0M403 2600h0M110 2574h0M374 2645h0M166 2614h0M264 2580h0M296 2589h0M389 2622h0M155 2600h0M412 2642h0M285 2603h0M247 2622h0M193 2622h0" stroke="#8a4a1c" stroke-width="14.0" stroke-linecap="round" fill="none" />
<path d="M351 2646h0M379 2636h0M325 2569h0M208 2567h0M125 2608h0M311 2583h0M209 2633h0M234 2616h0M264 2629h0M235 2643h0M364 2580h0M207 2579h0M357 2635h0M286 2584h0M305 2572h0M128 2578h0M277 2613h0M362 2616h0M244 2633h0M277 2598h0M328 2610h0M374 2608h0M326 2633h0M134 2607h0M354 2615h0M135 2600h0M370 2641h0M342 2618h0M398 2652h0M121 2604h0M282 2596h0M233 2615h0M290 2599h0M215 2629h0M259 2635h0M124 2584h0M127 2621h0M131 2624h0M294 2633h0M371 2611h0" stroke="#8a4a1c" stroke-width="16.0" stroke-linecap="round" fill="none" />
<path d="M167 2590h0M105 2588h0M353 2633h0M215 2567h0M340 2570h0M387 2632h0M230 2641h0M251 2600h0M307 2617h0M269 2623h0M279 2571h0M247 2622h0M207 2627h0M221 2566h0M107 2579h0M118 2586h0M101 2573h0M376 2645h0M258 2598h0M230 2600h0M242 2592h0" stroke="#8a4a1c" stroke-width="18.0" stroke-linecap="round" fill="none" />
<path d="M134 2630h0" stroke="#8a4a1c" stroke-width="20.0" stroke-linecap="round" fill="none" />
</g>
<rect x="116.70" y="2656.70" width="45.20" height="8.00" fill="#000" stroke="none" stroke-width="0" />
<line x1="116.70" y1="2654.70" x2="116.70" y2="2666.70" stroke="#000" stroke-width="1.2" stroke-linecap="butt" />
<line x1="161.90" y1="2654.70" x2="161.90" y2="2666.70" stroke="#000" stroke-width="1.2" stroke-linecap="butt" />
<text  x="168.80" y="2665.20" font-size="12.5" font-weight="normal" font-style="normal" fill="#333" text-anchor="start" ><tspan >100µm</tspan></text>
</g>
<g clip-path="url(#cM4)">
<rect x="414.40" y="2361.60" width="314.00" height="313.60" fill="#f8f8fa" stroke="none" stroke-width="0" />
<path d="M409.4,2423.6 C416.9,2416.6 442.2,2390.9 454.4,2381.6 C466.6,2372.3 477.7,2369.9 482.4,2367.6" fill="none" stroke="#1e1e1e" stroke-width="20.6" stroke-linecap="round" stroke-linejoin="round" stroke-dasharray="1.6 1.3"/>
<path d="M409.4,2423.6 C416.9,2416.6 442.2,2390.9 454.4,2381.6 C466.6,2372.3 477.7,2369.9 482.4,2367.6" fill="none" stroke="#f8f8fa" stroke-width="18.2" stroke-linecap="round" stroke-linejoin="round"/>
<path d="M409.4,2423.6 C416.9,2416.6 442.2,2390.9 454.4,2381.6 C466.6,2372.3 477.7,2369.9 482.4,2367.6" fill="none" stroke="#d7dcef" stroke-width="18.0" stroke-linecap="round" stroke-linejoin="round"/>
<path d="M409.4,2423.6 C416.9,2416.6 442.2,2390.9 454.4,2381.6 C466.6,2372.3 477.7,2369.9 482.4,2367.6" fill="none" stroke="#333" stroke-width="1.5" stroke-linecap="round" stroke-dasharray="1.2 3" opacity="0.7"/>
<path d="M409.4,2486.6 C417.7,2477.8 442.4,2450.4 459.4,2433.6 C476.4,2416.8 502.7,2393.6 511.4,2385.6" fill="none" stroke="#1e1e1e" stroke-width="24.6" stroke-linecap="round" stroke-linejoin="round" stroke-dasharray="1.6 1.3"/>
<path d="M409.4,2486.6 C417.7,2477.8 442.4,2450.4 459.4,2433.6 C476.4,2416.8 502.7,2393.6 511.4,2385.6" fill="none" stroke="#f8f8fa" stroke-width="22.2" stroke-linecap="round" stroke-linejoin="round"/>
<path d="M409.4,2486.6 C417.7,2477.8 442.4,2450.4 459.4,2433.6 C476.4,2416.8 502.7,2393.6 511.4,2385.6" fill="none" stroke="#d7dcef" stroke-width="22.0" stroke-linecap="round" stroke-linejoin="round"/>
<path d="M409.4,2486.6 C417.7,2477.8 442.4,2450.4 459.4,2433.6 C476.4,2416.8 502.7,2393.6 511.4,2385.6" fill="none" stroke="#333" stroke-width="1.5" stroke-linecap="round" stroke-dasharray="1.2 3" opacity="0.7"/>
<path d="M409.4,2561.6 C419.4,2549.9 450.2,2514.9 469.4,2491.6 C488.6,2468.3 512.6,2439.3 524.4,2421.6 C536.2,2403.9 537.7,2391.6 540.4,2385.6" fill="none" stroke="#1e1e1e" stroke-width="26.6" stroke-linecap="round" stroke-linejoin="round" stroke-dasharray="1.6 1.3"/>
<path d="M409.4,2561.6 C419.4,2549.9 450.2,2514.9 469.4,2491.6 C488.6,2468.3 512.6,2439.3 524.4,2421.6 C536.2,2403.9 537.7,2391.6 540.4,2385.6" fill="none" stroke="#f8f8fa" stroke-width="24.2" stroke-linecap="round" stroke-linejoin="round"/>
<path d="M409.4,2561.6 C419.4,2549.9 450.2,2514.9 469.4,2491.6 C488.6,2468.3 512.6,2439.3 524.4,2421.6 C536.2,2403.9 537.7,2391.6 540.4,2385.6" fill="none" stroke="#d7dcef" stroke-width="24.0" stroke-linecap="round" stroke-linejoin="round"/>
<path d="M409.4,2561.6 C419.4,2549.9 450.2,2514.9 469.4,2491.6 C488.6,2468.3 512.6,2439.3 524.4,2421.6 C536.2,2403.9 537.7,2391.6 540.4,2385.6" fill="none" stroke="#333" stroke-width="1.5" stroke-linecap="round" stroke-dasharray="1.2 3" opacity="0.7"/>
<path d="M454.4,2579.6 C462.7,2566.9 487.7,2528.3 504.4,2503.6 C521.1,2478.9 543.4,2450.6 554.4,2431.6 C565.4,2412.6 567.7,2396.6 570.4,2389.6" fill="none" stroke="#1e1e1e" stroke-width="24.6" stroke-linecap="round" stroke-linejoin="round" stroke-dasharray="1.6 1.3"/>
<path d="M454.4,2579.6 C462.7,2566.9 487.7,2528.3 504.4,2503.6 C521.1,2478.9 543.4,2450.6 554.4,2431.6 C565.4,2412.6 567.7,2396.6 570.4,2389.6" fill="none" stroke="#f8f8fa" stroke-width="22.2" stroke-linecap="round" stroke-linejoin="round"/>
<path d="M454.4,2579.6 C462.7,2566.9 487.7,2528.3 504.4,2503.6 C521.1,2478.9 543.4,2450.6 554.4,2431.6 C565.4,2412.6 567.7,2396.6 570.4,2389.6" fill="none" stroke="#d7dcef" stroke-width="22.0" stroke-linecap="round" stroke-linejoin="round"/>
<path d="M454.4,2579.6 C462.7,2566.9 487.7,2528.3 504.4,2503.6 C521.1,2478.9 543.4,2450.6 554.4,2431.6 C565.4,2412.6 567.7,2396.6 570.4,2389.6" fill="none" stroke="#333" stroke-width="1.5" stroke-linecap="round" stroke-dasharray="1.2 3" opacity="0.7"/>
<path d="M502.4,2579.6 C509.4,2568.3 530.7,2534.6 544.4,2511.6 C558.1,2488.6 574.4,2461.6 584.4,2441.6 C594.4,2421.6 601.1,2399.9 604.4,2391.6" fill="none" stroke="#1e1e1e" stroke-width="22.6" stroke-linecap="round" stroke-linejoin="round" stroke-dasharray="1.6 1.3"/>
<path d="M502.4,2579.6 C509.4,2568.3 530.7,2534.6 544.4,2511.6 C558.1,2488.6 574.4,2461.6 584.4,2441.6 C594.4,2421.6 601.1,2399.9 604.4,2391.6" fill="none" stroke="#f8f8fa" stroke-width="20.2" stroke-linecap="round" stroke-linejoin="round"/>
<path d="M502.4,2579.6 C509.4,2568.3 530.7,2534.6 544.4,2511.6 C558.1,2488.6 574.4,2461.6 584.4,2441.6 C594.4,2421.6 601.1,2399.9 604.4,2391.6" fill="none" stroke="#d7dcef" stroke-width="20.0" stroke-linecap="round" stroke-linejoin="round"/>
<path d="M502.4,2579.6 C509.4,2568.3 530.7,2534.6 544.4,2511.6 C558.1,2488.6 574.4,2461.6 584.4,2441.6 C594.4,2421.6 601.1,2399.9 604.4,2391.6" fill="none" stroke="#333" stroke-width="1.5" stroke-linecap="round" stroke-dasharray="1.2 3" opacity="0.7"/>
<path d="M556.4,2579.6 C561.9,2566.9 579.7,2526.6 589.4,2503.6 C599.1,2480.6 607.9,2454.6 614.4,2441.6 C620.9,2428.6 626.1,2428.3 628.4,2425.6" fill="none" stroke="#1e1e1e" stroke-width="20.6" stroke-linecap="round" stroke-linejoin="round" stroke-dasharray="1.6 1.3"/>
<path d="M556.4,2579.6 C561.9,2566.9 579.7,2526.6 589.4,2503.6 C599.1,2480.6 607.9,2454.6 614.4,2441.6 C620.9,2428.6 626.1,2428.3 628.4,2425.6" fill="none" stroke="#f8f8fa" stroke-width="18.2" stroke-linecap="round" stroke-linejoin="round"/>
<path d="M556.4,2579.6 C561.9,2566.9 579.7,2526.6 589.4,2503.6 C599.1,2480.6 607.9,2454.6 614.4,2441.6 C620.9,2428.6 626.1,2428.3 628.4,2425.6" fill="none" stroke="#d7dcef" stroke-width="18.0" stroke-linecap="round" stroke-linejoin="round"/>
<path d="M556.4,2579.6 C561.9,2566.9 579.7,2526.6 589.4,2503.6 C599.1,2480.6 607.9,2454.6 614.4,2441.6 C620.9,2428.6 626.1,2428.3 628.4,2425.6" fill="none" stroke="#333" stroke-width="1.5" stroke-linecap="round" stroke-dasharray="1.2 3" opacity="0.7"/>
<path d="M619.4,2461.6 C618.6,2457.4 612.9,2443.6 614.4,2436.6 C615.9,2429.6 623.4,2421.1 628.4,2419.6 C633.4,2418.1 642.4,2421.9 644.4,2427.6 C646.4,2433.3 641.1,2449.3 640.4,2453.6" fill="none" stroke="#1e1e1e" stroke-width="14.6" stroke-linecap="round" stroke-linejoin="round" stroke-dasharray="1.6 1.3"/>
<path d="M619.4,2461.6 C618.6,2457.4 612.9,2443.6 614.4,2436.6 C615.9,2429.6 623.4,2421.1 628.4,2419.6 C633.4,2418.1 642.4,2421.9 644.4,2427.6 C646.4,2433.3 641.1,2449.3 640.4,2453.6" fill="none" stroke="#f8f8fa" stroke-width="12.2" stroke-linecap="round" stroke-linejoin="round"/>
<path d="M619.4,2461.6 C618.6,2457.4 612.9,2443.6 614.4,2436.6 C615.9,2429.6 623.4,2421.1 628.4,2419.6 C633.4,2418.1 642.4,2421.9 644.4,2427.6 C646.4,2433.3 641.1,2449.3 640.4,2453.6" fill="none" stroke="#d7dcef" stroke-width="12.0" stroke-linecap="round" stroke-linejoin="round"/>
<path d="M669.4,2579.6 C670.6,2568.3 673.6,2530.4 676.4,2511.6 C679.2,2492.8 684.7,2474.1 686.4,2466.6" fill="none" stroke="#1e1e1e" stroke-width="20.6" stroke-linecap="round" stroke-linejoin="round" stroke-dasharray="1.6 1.3"/>
<path d="M669.4,2579.6 C670.6,2568.3 673.6,2530.4 676.4,2511.6 C679.2,2492.8 684.7,2474.1 686.4,2466.6" fill="none" stroke="#f8f8fa" stroke-width="18.2" stroke-linecap="round" stroke-linejoin="round"/>
<path d="M669.4,2579.6 C670.6,2568.3 673.6,2530.4 676.4,2511.6 C679.2,2492.8 684.7,2474.1 686.4,2466.6" fill="none" stroke="#d7dcef" stroke-width="18.0" stroke-linecap="round" stroke-linejoin="round"/>
<path d="M669.4,2579.6 C670.6,2568.3 673.6,2530.4 676.4,2511.6 C679.2,2492.8 684.7,2474.1 686.4,2466.6" fill="none" stroke="#333" stroke-width="1.5" stroke-linecap="round" stroke-dasharray="1.2 3" opacity="0.7"/>
<path d="M719.4,2579.6 C718.6,2563.3 716.9,2512.9 714.4,2481.6 C711.9,2450.3 707.4,2411.6 704.4,2391.6 C701.4,2371.6 697.7,2366.6 696.4,2361.6" fill="none" stroke="#1e1e1e" stroke-width="26.6" stroke-linecap="round" stroke-linejoin="round" stroke-dasharray="1.6 1.3"/>
<path d="M719.4,2579.6 C718.6,2563.3 716.9,2512.9 714.4,2481.6 C711.9,2450.3 707.4,2411.6 704.4,2391.6 C701.4,2371.6 697.7,2366.6 696.4,2361.6" fill="none" stroke="#f8f8fa" stroke-width="24.2" stroke-linecap="round" stroke-linejoin="round"/>
<path d="M719.4,2579.6 C718.6,2563.3 716.9,2512.9 714.4,2481.6 C711.9,2450.3 707.4,2411.6 704.4,2391.6 C701.4,2371.6 697.7,2366.6 696.4,2361.6" fill="none" stroke="#d7dcef" stroke-width="24.0" stroke-linecap="round" stroke-linejoin="round"/>
<path d="M719.4,2579.6 C718.6,2563.3 716.9,2512.9 714.4,2481.6 C711.9,2450.3 707.4,2411.6 704.4,2391.6 C701.4,2371.6 697.7,2366.6 696.4,2361.6" fill="none" stroke="#333" stroke-width="1.5" stroke-linecap="round" stroke-dasharray="1.2 3" opacity="0.7"/>
<g filter="url(#spk)" opacity="0.22">
<path d="M409.4,2423.6 C416.9,2416.6 442.2,2390.9 454.4,2381.6 C466.6,2372.3 477.7,2369.9 482.4,2367.6" fill="none" stroke="#555" stroke-width="18.0" stroke-linecap="round" stroke-linejoin="round"/>
<path d="M409.4,2486.6 C417.7,2477.8 442.4,2450.4 459.4,2433.6 C476.4,2416.8 502.7,2393.6 511.4,2385.6" fill="none" stroke="#555" stroke-width="22.0" stroke-linecap="round" stroke-linejoin="round"/>
<path d="M409.4,2561.6 C419.4,2549.9 450.2,2514.9 469.4,2491.6 C488.6,2468.3 512.6,2439.3 524.4,2421.6 C536.2,2403.9 537.7,2391.6 540.4,2385.6" fill="none" stroke="#555" stroke-width="24.0" stroke-linecap="round" stroke-linejoin="round"/>
<path d="M454.4,2579.6 C462.7,2566.9 487.7,2528.3 504.4,2503.6 C521.1,2478.9 543.4,2450.6 554.4,2431.6 C565.4,2412.6 567.7,2396.6 570.4,2389.6" fill="none" stroke="#555" stroke-width="22.0" stroke-linecap="round" stroke-linejoin="round"/>
<path d="M502.4,2579.6 C509.4,2568.3 530.7,2534.6 544.4,2511.6 C558.1,2488.6 574.4,2461.6 584.4,2441.6 C594.4,2421.6 601.1,2399.9 604.4,2391.6" fill="none" stroke="#555" stroke-width="20.0" stroke-linecap="round" stroke-linejoin="round"/>
<path d="M556.4,2579.6 C561.9,2566.9 579.7,2526.6 589.4,2503.6 C599.1,2480.6 607.9,2454.6 614.4,2441.6 C620.9,2428.6 626.1,2428.3 628.4,2425.6" fill="none" stroke="#555" stroke-width="18.0" stroke-linecap="round" stroke-linejoin="round"/>
<path d="M619.4,2461.6 C618.6,2457.4 612.9,2443.6 614.4,2436.6 C615.9,2429.6 623.4,2421.1 628.4,2419.6 C633.4,2418.1 642.4,2421.9 644.4,2427.6 C646.4,2433.3 641.1,2449.3 640.4,2453.6" fill="none" stroke="#555" stroke-width="12.0" stroke-linecap="round" stroke-linejoin="round"/>
<path d="M669.4,2579.6 C670.6,2568.3 673.6,2530.4 676.4,2511.6 C679.2,2492.8 684.7,2474.1 686.4,2466.6" fill="none" stroke="#555" stroke-width="18.0" stroke-linecap="round" stroke-linejoin="round"/>
<path d="M719.4,2579.6 C718.6,2563.3 716.9,2512.9 714.4,2481.6 C711.9,2450.3 707.4,2411.6 704.4,2391.6 C701.4,2371.6 697.7,2366.6 696.4,2361.6" fill="none" stroke="#555" stroke-width="24.0" stroke-linecap="round" stroke-linejoin="round"/>
<path d="M414.4,2556.6 C427.7,2540.3 467.7,2559.9 494.4,2561.6 C521.1,2563.3 547.7,2566.6 574.4,2566.6 C601.1,2566.6 628.7,2563.3 654.4,2561.6 C680.1,2559.9 716.1,2539.9 728.4,2556.6 C740.7,2573.3 740.7,2643.8 728.4,2661.6 C716.1,2679.4 680.1,2662.8 654.4,2663.6 C628.7,2664.4 601.1,2666.6 574.4,2666.6 C547.7,2666.6 521.1,2664.8 494.4,2663.6 C467.7,2662.4 427.7,2677.4 414.4,2659.6 C401.1,2641.8 401.1,2572.9 414.4,2556.6 Z" fill="#555" stroke="none" stroke-width="0" />
</g>
<path d="M414.4,2556.6 C427.7,2540.3 467.7,2559.9 494.4,2561.6 C521.1,2563.3 547.7,2566.6 574.4,2566.6 C601.1,2566.6 628.7,2563.3 654.4,2561.6 C680.1,2559.9 716.1,2539.9 728.4,2556.6 C740.7,2573.3 740.7,2643.8 728.4,2661.6 C716.1,2679.4 680.1,2662.8 654.4,2663.6 C628.7,2664.4 601.1,2666.6 574.4,2666.6 C547.7,2666.6 521.1,2664.8 494.4,2663.6 C467.7,2662.4 427.7,2677.4 414.4,2659.6 C401.1,2641.8 401.1,2572.9 414.4,2556.6 Z" fill="#d7dcef" stroke="none" stroke-width="0" />
<path d="M414.4,2556.6 C427.7,2540.3 467.7,2559.9 494.4,2561.6 C521.1,2563.3 547.7,2566.6 574.4,2566.6 C601.1,2566.6 628.7,2563.3 654.4,2561.6 C680.1,2559.9 716.1,2539.9 728.4,2556.6 C740.7,2573.3 740.7,2643.8 728.4,2661.6 C716.1,2679.4 680.1,2662.8 654.4,2663.6 C628.7,2664.4 601.1,2666.6 574.4,2666.6 C547.7,2666.6 521.1,2664.8 494.4,2663.6 C467.7,2662.4 427.7,2677.4 414.4,2659.6 C401.1,2641.8 401.1,2572.9 414.4,2556.6 Z" fill="none" stroke="#333" stroke-width="1.0" stroke-dasharray="1.4 1.8"/>
<g filter="url(#spk4)">
<path d="M681 2583h0M457 2627h0M466 2627h0M616 2604h0M505 2577h0M442 2633h0M516 2642h0M609 2627h0M508 2566h0M564 2583h0M442 2579h0M668 2583h0M488 2592h0M671 2617h0M561 2578h0M471 2616h0M612 2611h0M453 2622h0M540 2594h0M497 2576h0M545 2567h0M712 2602h0M597 2599h0M517 2652h0M598 2618h0M579 2625h0" stroke="#2f8f2a" stroke-width="10.0" stroke-linecap="round" fill="none" />
<path d="M651 2608h0M455 2611h0M640 2637h0M600 2591h0M681 2589h0M519 2585h0M450 2639h0M725 2569h0M559 2637h0M626 2634h0M480 2649h0M577 2607h0M548 2600h0M590 2608h0M708 2613h0M644 2601h0M641 2559h0M458 2644h0M669 2600h0M456 2651h0M447 2643h0M695 2578h0M443 2624h0M631 2598h0M436 2637h0M718 2596h0M580 2599h0M704 2616h0M668 2636h0M580 2572h0M707 2571h0" stroke="#2f8f2a" stroke-width="12.0" stroke-linecap="round" fill="none" />
<path d="M579 2587h0M678 2620h0M520 2605h0M425 2577h0M492 2642h0M708 2613h0M582 2627h0M416 2566h0M545 2646h0M491 2610h0M432 2621h0M690 2601h0M555 2599h0M482 2576h0M481 2577h0M588 2633h0M447 2629h0M547 2577h0M462 2647h0M521 2598h0M571 2635h0M716 2575h0M615 2579h0M716 2626h0M579 2626h0M641 2602h0M547 2585h0M595 2572h0M629 2593h0M679 2620h0M453 2627h0M525 2635h0M670 2637h0M681 2600h0M592 2630h0M717 2600h0M424 2574h0M688 2645h0M480 2614h0M578 2580h0M610 2589h0M703 2622h0M469 2600h0M726 2642h0M599 2603h0M561 2622h0M507 2622h0" stroke="#2f8f2a" stroke-width="14.0" stroke-linecap="round" fill="none" />
<path d="M665 2646h0M693 2636h0M639 2569h0M522 2567h0M439 2608h0M625 2583h0M523 2633h0M548 2616h0M578 2629h0M549 2643h0M678 2580h0M521 2579h0M671 2635h0M600 2584h0M619 2572h0M442 2578h0M591 2613h0M676 2616h0M559 2633h0M591 2598h0M642 2610h0M688 2608h0M640 2633h0M448 2607h0M668 2615h0M449 2600h0M684 2641h0M656 2618h0M712 2652h0M435 2604h0M596 2596h0M547 2615h0M604 2599h0M529 2629h0M573 2635h0M439 2584h0M441 2621h0M445 2624h0M608 2633h0M686 2611h0" stroke="#2f8f2a" stroke-width="16.0" stroke-linecap="round" fill="none" />
<path d="M482 2590h0M419 2588h0M667 2633h0M529 2567h0M654 2570h0M701 2632h0M544 2641h0M565 2600h0M621 2617h0M583 2623h0M593 2571h0M561 2622h0M521 2627h0M535 2566h0M421 2579h0M432 2586h0M416 2573h0M690 2645h0M572 2598h0M544 2600h0M556 2592h0" stroke="#2f8f2a" stroke-width="18.0" stroke-linecap="round" fill="none" />
<path d="M448 2630h0" stroke="#2f8f2a" stroke-width="20.0" stroke-linecap="round" fill="none" />
</g>
<g filter="url(#spk3)">
<path d="M681 2583h0M457 2627h0M455 2611h0M616 2604h0M505 2577h0M516 2642h0M609 2627h0M508 2566h0M442 2579h0M671 2617h0M471 2616h0M612 2611h0M712 2602h0M598 2618h0" stroke="#1f6e1c" stroke-width="8.0" stroke-linecap="round" fill="none" opacity="0.8"/>
<path d="M651 2608h0M640 2637h0M600 2591h0M519 2585h0M559 2637h0M482 2576h0M548 2600h0M462 2647h0M590 2608h0M644 2601h0M458 2644h0M669 2600h0M447 2643h0M695 2578h0M453 2627h0M631 2598h0M681 2600h0M717 2600h0M424 2574h0M436 2637h0M704 2616h0M688 2645h0M580 2572h0M707 2571h0M599 2603h0" stroke="#1f6e1c" stroke-width="10.0" stroke-linecap="round" fill="none" opacity="0.8"/>
<path d="M439 2608h0M625 2583h0M425 2577h0M548 2616h0M416 2566h0M678 2580h0M521 2579h0M432 2621h0M447 2629h0M676 2616h0M559 2633h0M591 2598h0M716 2575h0M615 2579h0M716 2626h0M641 2602h0M629 2593h0M679 2620h0M596 2596h0M547 2615h0M529 2629h0M439 2584h0M726 2642h0M561 2622h0M686 2611h0" stroke="#1f6e1c" stroke-width="12.0" stroke-linecap="round" fill="none" opacity="0.8"/>
<path d="M419 2588h0M693 2636h0M523 2633h0M578 2629h0M671 2635h0M544 2641h0M565 2600h0M621 2617h0M619 2572h0M442 2578h0M668 2615h0M561 2622h0M684 2641h0M421 2579h0M656 2618h0M416 2573h0M690 2645h0M441 2621h0M544 2600h0" stroke="#1f6e1c" stroke-width="14.0" stroke-linecap="round" fill="none" opacity="0.8"/>
</g>
<rect x="430.80" y="2656.70" width="45.20" height="8.00" fill="#000" stroke="none" stroke-width="0" />
<line x1="430.80" y1="2654.70" x2="430.80" y2="2666.70" stroke="#000" stroke-width="1.2" stroke-linecap="butt" />
<line x1="476.00" y1="2654.70" x2="476.00" y2="2666.70" stroke="#000" stroke-width="1.2" stroke-linecap="butt" />
<text  x="482.90" y="2665.20" font-size="12.5" font-weight="normal" font-style="normal" fill="#333" text-anchor="start" ><tspan >100µm</tspan></text>
</g>
<rect x="100.30" y="2048.40" width="628.10" height="626.80" fill="none" stroke="#1a1a1a" stroke-width="1.6" />
<line x1="414.40" y1="2048.40" x2="414.40" y2="2675.20" stroke="#1a1a1a" stroke-width="1.8" stroke-linecap="butt" />
<line x1="100.30" y1="2361.60" x2="728.40" y2="2361.60" stroke="#1a1a1a" stroke-width="1.8" stroke-linecap="butt" />
<text  x="30.00" y="27.50" font-size="46" font-weight="bold" font-style="normal" fill="#000" text-anchor="start" ><tspan >a</tspan></text>
<text  x="707.00" y="76.00" font-size="46" font-weight="bold" font-style="normal" fill="#000" text-anchor="start" ><tspan >b</tspan></text>
<text  x="955.00" y="76.00" font-size="46" font-weight="bold" font-style="normal" fill="#000" text-anchor="start" ><tspan >c</tspan></text>
<text  x="1323.00" y="77.50" font-size="46" font-weight="bold" font-style="normal" fill="#000" text-anchor="start" ><tspan >d</tspan></text>
<text  x="1828.00" y="77.50" font-size="46" font-weight="bold" font-style="normal" fill="#000" text-anchor="start" ><tspan >e</tspan></text>
<text  x="15.00" y="785.00" font-size="46" font-weight="bold" font-style="normal" fill="#000" text-anchor="start" ><tspan >f</tspan></text>
<text  x="349.00" y="786.00" font-size="46" font-weight="bold" font-style="normal" fill="#000" text-anchor="start" ><tspan >g</tspan></text>
<text  x="711.00" y="789.00" font-size="46" font-weight="bold" font-style="normal" fill="#000" text-anchor="start" ><tspan >h</tspan></text>
<text  x="1059.90" y="731.60" font-size="46" font-weight="bold" font-style="normal" fill="#000" text-anchor="start" ><tspan >i</tspan></text>
<text  x="1777.00" y="825.30" font-size="46" font-weight="bold" font-style="normal" fill="#000" text-anchor="start" ><tspan >j</tspan></text>
<text  x="58.00" y="1450.40" font-size="46" font-weight="bold" font-style="normal" fill="#000" text-anchor="start" ><tspan >k</tspan></text>
<text  x="784.70" y="1443.70" font-size="46" font-weight="bold" font-style="normal" fill="#000" text-anchor="start" ><tspan >l</tspan></text>
<text  x="50.00" y="2041.70" font-size="46" font-weight="bold" font-style="normal" fill="#000" text-anchor="start" ><tspan >m</tspan></text>
<text  x="776.00" y="2070.60" font-size="46" font-weight="bold" font-style="normal" fill="#000" text-anchor="start" ><tspan >n</tspan></text>
<text  x="1117.00" y="2224.70" font-size="46" font-weight="bold" font-style="normal" fill="#000" text-anchor="start" ><tspan >o</tspan></text>
<text  x="251.00" y="34.30" font-size="30" font-weight="normal" font-style="normal" fill="#000" text-anchor="middle" ><tspan >normal</tspan></text>
<text  x="539.00" y="35.40" font-size="30" font-weight="normal" font-style="normal" fill="#000" text-anchor="middle" ><tspan >tumour</tspan></text>
<text  x="394.00" y="654.00" font-size="25" font-weight="bold" font-style="normal" fill="#e0261d" text-anchor="middle" letter-spacing="2.2" ><tspan >NPM1</tspan></text>
<text transform="translate(32.30,185.50) rotate(-90)" x="0" y="0" font-size="27" font-weight="normal" font-style="normal" fill="#000" text-anchor="middle" ><tspan font-style="italic">Apc</tspan><tspan font-size="16.74" dy="-9.72" font-style="italic">fl/+</tspan></text>
<text transform="translate(68.70,186.00) rotate(-90)" x="0" y="0" font-size="27" font-weight="bold" font-style="normal" fill="#000" text-anchor="middle" ><tspan >(high WNT)</tspan></text>
<text transform="translate(97.80,181.00) rotate(-90)" x="0" y="0" font-size="27" font-weight="normal" font-style="normal" fill="#000" text-anchor="middle" ><tspan >endpoint samples</tspan></text>
<text transform="translate(32.00,483.30) rotate(-90)" x="0" y="0" font-size="27" font-weight="normal" font-style="normal" fill="#000" text-anchor="middle" ><tspan >Braf</tspan><tspan font-size="17.55" dy="-10.26">V600E/+</tspan><tspan dy="10.26">Alk5</tspan><tspan font-size="17.55" dy="-10.26">fl/fl</tspan></text>
<text transform="translate(68.70,484.50) rotate(-90)" x="0" y="0" font-size="27" font-weight="bold" font-style="normal" fill="#000" text-anchor="middle" ><tspan >(low WNT)</tspan></text>
<text transform="translate(97.80,480.00) rotate(-90)" x="0" y="0" font-size="27" font-weight="normal" font-style="normal" fill="#000" text-anchor="middle" ><tspan >endpoint samples</tspan></text>
<line x1="807.70" y1="149.40" x2="807.70" y2="369.60" stroke="#000" stroke-width="4.4" stroke-linecap="butt" />
<line x1="797.70" y1="151.60" x2="809.90" y2="151.60" stroke="#000" stroke-width="4.4" stroke-linecap="butt" />
<text  x="791.70" y="159.52" font-size="22" font-weight="bold" font-style="normal" fill="#000" text-anchor="end" ><tspan >1.5</tspan></text>
<line x1="797.70" y1="223.60" x2="809.90" y2="223.60" stroke="#000" stroke-width="4.4" stroke-linecap="butt" />
<text  x="791.70" y="231.52" font-size="22" font-weight="bold" font-style="normal" fill="#000" text-anchor="end" ><tspan >1.0</tspan></text>
<line x1="797.70" y1="295.80" x2="809.90" y2="295.80" stroke="#000" stroke-width="4.4" stroke-linecap="butt" />
<text  x="791.70" y="303.72" font-size="22" font-weight="bold" font-style="normal" fill="#000" text-anchor="end" ><tspan >0.5</tspan></text>
<line x1="797.70" y1="367.40" x2="809.90" y2="367.40" stroke="#000" stroke-width="4.4" stroke-linecap="butt" />
<text  x="791.70" y="375.32" font-size="22" font-weight="bold" font-style="normal" fill="#000" text-anchor="end" ><tspan >0.0</tspan></text>
<line x1="805.50" y1="367.40" x2="953.40" y2="367.40" stroke="#000" stroke-width="4.4" stroke-linecap="butt" />
<line x1="850.60" y1="365.20" x2="850.60" y2="379.40" stroke="#000" stroke-width="4.4" stroke-linecap="butt" />
<line x1="911.00" y1="365.20" x2="911.00" y2="379.40" stroke="#000" stroke-width="4.4" stroke-linecap="butt" />
<text transform="translate(746.00,264.70) rotate(-90)" x="0" y="0" font-size="23.2" font-weight="bold" font-style="normal" fill="#000" text-anchor="middle" ><tspan >norm. H-score (NPM1)</tspan></text>
<rect x="831.00" y="212.00" width="39.00" height="12.00" fill="#666" stroke="none" stroke-width="0" />
<line x1="851.20" y1="218.00" x2="851.20" y2="238.00" stroke="#666" stroke-width="4" stroke-linecap="butt" />
<circle cx="841.60" cy="217.80" r="7.00" fill="#666" stroke="#000" stroke-width="3.8" />
<circle cx="860.70" cy="217.80" r="7.00" fill="#666" stroke="#000" stroke-width="3.8" />
<circle cx="851.20" cy="238.00" r="7.00" fill="#666" stroke="#000" stroke-width="3.8" />
<rect x="891.70" y="185.70" width="39.30" height="12.00" fill="#d3d3d3" stroke="none" stroke-width="0" />
<line x1="911.90" y1="158.00" x2="911.90" y2="194.00" stroke="#d3d3d3" stroke-width="4" stroke-linecap="butt" />
<circle cx="911.90" cy="158.30" r="7.00" fill="#d3d3d3" stroke="#e0261d" stroke-width="3.8" />
<circle cx="902.40" cy="195.20" r="7.00" fill="#d3d3d3" stroke="#e0261d" stroke-width="3.8" />
<circle cx="921.40" cy="191.70" r="7.00" fill="#d3d3d3" stroke="#e0261d" stroke-width="3.8" />
<path d="M850.60,195.60 L850.60,127.70 L911.00,127.70 L911.00,138.60" fill="none" stroke="#000" stroke-width="5" stroke-linejoin="miter"/>
<text  x="882.50" y="117.00" font-size="18" font-weight="normal" font-style="normal" fill="#d93a2e" text-anchor="middle" letter-spacing="0.7" ><tspan >p=0.0374</tspan></text>
<text transform="translate(855.00,402.00) rotate(-45)" x="0" y="0" font-size="24.5" font-weight="bold" font-style="normal" fill="#000" text-anchor="end" ><tspan >Apc</tspan><tspan font-size="17.15" dy="-10.29">fl/+</tspan><tspan dy="10.29"> (norm.epith.)</tspan></text>
<text transform="translate(917.00,400.00) rotate(-45)" x="0" y="0" font-size="24.5" font-weight="bold" font-style="normal" fill="#000" text-anchor="end" ><tspan >Apc</tspan><tspan font-size="17.15" dy="-10.29">fl/+</tspan><tspan dy="10.29"> (tumours)</tspan></text>
<line x1="1055.00" y1="149.40" x2="1055.00" y2="368.00" stroke="#000" stroke-width="4.4" stroke-linecap="butt" />
<line x1="1045.00" y1="151.00" x2="1057.20" y2="151.00" stroke="#000" stroke-width="4.4" stroke-linecap="butt" />
<text  x="1039.00" y="158.92" font-size="22" font-weight="bold" font-style="normal" fill="#000" text-anchor="end" ><tspan >150</tspan></text>
<line x1="1045.00" y1="222.70" x2="1057.20" y2="222.70" stroke="#000" stroke-width="4.4" stroke-linecap="butt" />
<text  x="1039.00" y="230.62" font-size="22" font-weight="bold" font-style="normal" fill="#000" text-anchor="end" ><tspan >100</tspan></text>
<line x1="1045.00" y1="294.40" x2="1057.20" y2="294.40" stroke="#000" stroke-width="4.4" stroke-linecap="butt" />
<text  x="1039.00" y="302.32" font-size="22" font-weight="bold" font-style="normal" fill="#000" text-anchor="end" ><tspan >50</tspan></text>
<line x1="1045.00" y1="366.00" x2="1057.20" y2="366.00" stroke="#000" stroke-width="4.4" stroke-linecap="butt" />
<text  x="1039.00" y="373.92" font-size="22" font-weight="bold" font-style="normal" fill="#000" text-anchor="end" ><tspan >0</tspan></text>
<line x1="1053.00" y1="366.00" x2="1199.00" y2="366.00" stroke="#000" stroke-width="4.4" stroke-linecap="butt" />
<line x1="1097.40" y1="363.80" x2="1097.40" y2="378.00" stroke="#000" stroke-width="4.4" stroke-linecap="butt" />
<line x1="1156.60" y1="363.80" x2="1156.60" y2="378.00" stroke="#000" stroke-width="4.4" stroke-linecap="butt" />
<text transform="translate(986.00,264.70) rotate(-90)" x="0" y="0" font-size="23.2" font-weight="bold" font-style="normal" fill="#000" text-anchor="middle" ><tspan >norm. H-score (NPM1)</tspan></text>
<rect x="1080.60" y="187.70" width="34.00" height="72.30" fill="none" stroke="#666" stroke-width="4" />
<line x1="1080.60" y1="240.50" x2="1114.60" y2="240.50" stroke="#666" stroke-width="4" stroke-linecap="butt" />
<circle cx="1088.00" cy="187.00" r="7.00" fill="none" stroke="#000" stroke-width="3.8" />
<circle cx="1107.00" cy="182.00" r="7.00" fill="none" stroke="#000" stroke-width="3.8" />
<circle cx="1096.40" cy="234.50" r="7.00" fill="none" stroke="#000" stroke-width="3.8" />
<circle cx="1087.00" cy="245.00" r="7.00" fill="none" stroke="#000" stroke-width="3.8" />
<circle cx="1097.60" cy="263.00" r="7.00" fill="none" stroke="#000" stroke-width="3.8" />
<circle cx="1108.30" cy="263.00" r="7.00" fill="none" stroke="#000" stroke-width="3.8" />
<rect x="1138.00" y="203.60" width="39.40" height="19.00" fill="#d3d3d3" stroke="none" stroke-width="0" />
<line x1="1157.00" y1="195.00" x2="1157.00" y2="235.70" stroke="#d3d3d3" stroke-width="4" stroke-linecap="butt" />
<circle cx="1157.00" cy="187.00" r="7.00" fill="#d3d3d3" stroke="#e0261d" stroke-width="3.8" />
<circle cx="1157.00" cy="208.30" r="7.00" fill="#d3d3d3" stroke="#e0261d" stroke-width="3.8" />
<circle cx="1147.60" cy="217.90" r="7.00" fill="#d3d3d3" stroke="#e0261d" stroke-width="3.8" />
<circle cx="1166.70" cy="215.50" r="7.00" fill="#d3d3d3" stroke="#e0261d" stroke-width="3.8" />
<circle cx="1163.00" cy="219.00" r="7.00" fill="#d3d3d3" stroke="#e0261d" stroke-width="3.8" />
<circle cx="1153.60" cy="233.30" r="7.00" fill="#d3d3d3" stroke="#e0261d" stroke-width="3.8" />
<path d="M1097.40,160.40 L1097.40,152.60 L1156.60,152.60 L1156.60,168.20" fill="none" stroke="#000" stroke-width="5" stroke-linejoin="miter"/>
<text  x="1127.50" y="142.00" font-size="18" font-weight="normal" font-style="normal" fill="#000" text-anchor="middle" letter-spacing="0.7" ><tspan >p=0.337</tspan></text>
<text transform="translate(1103.00,402.00) rotate(-45)" x="0" y="0" font-size="24.5" font-weight="bold" font-style="normal" fill="#000" text-anchor="end" ><tspan font-style="italic">Braf</tspan><tspan font-size="17.15" dy="-10.29" font-style="italic">V600E/+</tspan><tspan dy="10.29"> Alk5</tspan><tspan font-size="17.15" dy="-10.29" font-style="italic">fl/fl</tspan><tspan dy="10.29"> (norm.epith.)</tspan></text>
<text transform="translate(1165.00,400.00) rotate(-45)" x="0" y="0" font-size="24.5" font-weight="bold" font-style="normal" fill="#000" text-anchor="end" ><tspan font-style="italic">Braf</tspan><tspan font-size="17.15" dy="-10.29" font-style="italic">V600E/+</tspan><tspan dy="10.29"> Alk5</tspan><tspan font-size="17.15" dy="-10.29" font-style="italic">fl/fl</tspan><tspan dy="10.29"> (tumours)</tspan></text>
<text  x="1550.00" y="37.00" font-size="23" font-weight="bold" font-style="italic" fill="#000" text-anchor="middle" ><tspan >Villin-Cre</tspan><tspan font-size="15.64" dy="-8.28">ER-T2</tspan></text>
<text  x="1549.50" y="663.00" font-size="26.5" font-weight="bold" font-style="italic" fill="#e0261d" text-anchor="middle" ><tspan >Anxa1</tspan></text>
<text transform="translate(1229.30,486.80) rotate(-90)" x="0" y="0" font-size="27.3" font-weight="normal" font-style="italic" fill="#000" text-anchor="middle" ><tspan >Villin-Cre</tspan><tspan font-size="16.93" dy="-8.19">ER-T2</tspan></text>
<text transform="translate(1262.00,488.00) rotate(-90)" x="0" y="0" font-size="28" font-weight="normal" font-style="italic" fill="#000" text-anchor="middle" ><tspan >Braf</tspan><tspan font-size="16.24" dy="-10.36">LSL-V637E/+</tspan></text>
<line x1="1965.00" y1="91.50" x2="1965.00" y2="354.60" stroke="#000" stroke-width="4.4" stroke-linecap="butt" />
<line x1="1955.00" y1="93.20" x2="1967.20" y2="93.20" stroke="#000" stroke-width="4.4" stroke-linecap="butt" />
<text  x="1950.00" y="100.58" font-size="20.5" font-weight="bold" font-style="normal" fill="#000" text-anchor="end" ><tspan >0.15</tspan></text>
<line x1="1955.00" y1="180.50" x2="1967.20" y2="180.50" stroke="#000" stroke-width="4.4" stroke-linecap="butt" />
<text  x="1950.00" y="187.88" font-size="20.5" font-weight="bold" font-style="normal" fill="#000" text-anchor="end" ><tspan >0.10</tspan></text>
<line x1="1955.00" y1="266.00" x2="1967.20" y2="266.00" stroke="#000" stroke-width="4.4" stroke-linecap="butt" />
<text  x="1950.00" y="273.38" font-size="20.5" font-weight="bold" font-style="normal" fill="#000" text-anchor="end" ><tspan >0.05</tspan></text>
<line x1="1955.00" y1="352.50" x2="1967.20" y2="352.50" stroke="#000" stroke-width="4.4" stroke-linecap="butt" />
<text  x="1950.00" y="359.88" font-size="20.5" font-weight="bold" font-style="normal" fill="#000" text-anchor="end" ><tspan >0.00</tspan></text>
<line x1="1963.00" y1="352.50" x2="2093.00" y2="352.50" stroke="#000" stroke-width="4.4" stroke-linecap="butt" />
<line x1="1992.20" y1="350.30" x2="1992.20" y2="364.50" stroke="#000" stroke-width="4.4" stroke-linecap="butt" />
<line x1="2031.20" y1="350.30" x2="2031.20" y2="364.50" stroke="#000" stroke-width="4.4" stroke-linecap="butt" />
<line x1="2069.70" y1="350.30" x2="2069.70" y2="364.50" stroke="#000" stroke-width="4.4" stroke-linecap="butt" />
<text transform="translate(1893.00,226.20) rotate(-90)" x="0" y="0" font-size="22" font-weight="bold" font-style="normal" fill="#000" text-anchor="middle" ><tspan font-style="italic">Anxa1</tspan><tspan > Probe Copies Per µm</tspan><tspan font-size="13.20" dy="-9.24">2</tspan></text>
<rect x="2020.60" y="227.50" width="21.20" height="123.00" fill="none" stroke="#6b6b6b" stroke-width="4.2" />
<rect x="2059.60" y="194.50" width="20.40" height="156.00" fill="none" stroke="#a3a3a3" stroke-width="4.2" />
<line x1="2031.20" y1="218.00" x2="2031.20" y2="227.00" stroke="#6b6b6b" stroke-width="3" stroke-linecap="butt" />
<line x1="2069.70" y1="185.00" x2="2069.70" y2="194.00" stroke="#a3a3a3" stroke-width="3" stroke-linecap="butt" />
<circle cx="1986.00" cy="349.00" r="5.50" fill="#000" stroke="none" stroke-width="0" />
<circle cx="1992.00" cy="349.00" r="5.50" fill="#000" stroke="none" stroke-width="0" />
<circle cx="1998.00" cy="349.00" r="5.50" fill="#000" stroke="none" stroke-width="0" />
<circle cx="2031.00" cy="188.00" r="5.40" fill="none" stroke="#000" stroke-width="3.4" />
<circle cx="2031.00" cy="212.70" r="5.40" fill="none" stroke="#000" stroke-width="3.4" />
<circle cx="2031.00" cy="239.00" r="5.40" fill="none" stroke="#000" stroke-width="3.4" />
<circle cx="2031.00" cy="260.20" r="5.40" fill="none" stroke="#000" stroke-width="3.4" />
<circle cx="2063.40" cy="176.30" r="5.40" fill="none" stroke="#e0261d" stroke-width="3.4" />
<circle cx="2076.00" cy="184.70" r="5.40" fill="none" stroke="#e0261d" stroke-width="3.4" />
<circle cx="2063.40" cy="205.00" r="5.40" fill="none" stroke="#e0261d" stroke-width="3.4" />
<circle cx="2076.00" cy="205.00" r="5.40" fill="none" stroke="#e0261d" stroke-width="3.4" />
<line x1="1988.80" y1="108.50" x2="2068.50" y2="108.50" stroke="#000" stroke-width="5" stroke-linecap="butt" />
<line x1="2023.60" y1="140.70" x2="2068.50" y2="140.70" stroke="#000" stroke-width="5" stroke-linecap="butt" />
<line x1="1988.80" y1="168.60" x2="2034.60" y2="168.60" stroke="#000" stroke-width="5" stroke-linecap="butt" />
<text  x="2028.60" y="100.00" font-size="14.2" font-weight="normal" font-style="normal" fill="#d93a2e" text-anchor="middle" letter-spacing="1.6" ><tspan >p=3.4e-05</tspan></text>
<text  x="2045.50" y="133.90" font-size="14.2" font-weight="normal" font-style="normal" fill="#000" text-anchor="middle" letter-spacing="1.6" ><tspan >p=0.1401</tspan></text>
<text  x="2011.00" y="161.00" font-size="14.2" font-weight="normal" font-style="normal" fill="#d93a2e" text-anchor="middle" letter-spacing="1.6" ><tspan >p=0.0002</tspan></text>
<text transform="translate(1995.00,385.00) rotate(-45)" x="0" y="0" font-size="23" font-weight="bold" font-style="normal" fill="#000" text-anchor="end" ><tspan >WT</tspan></text>
<text transform="translate(2033.00,381.00) rotate(-45)" x="0" y="0" font-size="24" font-weight="bold" font-style="normal" fill="#000" text-anchor="end" ><tspan font-style="italic">Braf</tspan><tspan font-size="15.84" dy="-7.20" font-style="italic" font-weight="normal">LSL-V637E/+</tspan></text>
<text transform="translate(2073.00,386.00) rotate(-45)" x="0" y="0" font-size="23" font-weight="bold" font-style="normal" fill="#000" text-anchor="end" ><tspan font-style="italic">Braf</tspan><tspan font-size="15.18" dy="-6.90" font-style="italic" font-weight="normal">LSL-V637E/+</tspan><tspan font-size="23.00" dy="6.90"> Npm1</tspan><tspan font-size="15.18" dy="-9.66">fl/fl</tspan></text>
<line x1="134.50" y1="935.50" x2="134.50" y2="1000.00" stroke="#000" stroke-width="1.4" stroke-linecap="butt" />
<line x1="134.50" y1="1061.20" x2="134.50" y2="1148.60" stroke="#000" stroke-width="1.4" stroke-linecap="butt" />
<line x1="113.80" y1="935.50" x2="161.40" y2="935.50" stroke="#000" stroke-width="1.4" stroke-linecap="butt" />
<line x1="113.80" y1="1148.60" x2="161.40" y2="1148.60" stroke="#000" stroke-width="1.4" stroke-linecap="butt" />
<rect x="80.50" y="1000.00" width="107.60" height="61.20" fill="#90dcbe" stroke="#000" stroke-width="1.5" />
<line x1="80.50" y1="1029.80" x2="188.10" y2="1029.80" stroke="#000" stroke-width="1.5" stroke-linecap="butt" />
<path d="M135 1091h0M139 1031h0M121 1019h0M149 999h0M135 939h0M119 1015h0M135 1052h0M133 1041h0M141 1130h0M121 1018h0M131 1052h0M148 957h0M139 946h0M129 1005h0M122 960h0M133 978h0M122 983h0M150 1017h0M125 1054h0M150 1065h0M129 1047h0M137 1006h0M149 973h0M123 1069h0M142 956h0M147 1058h0M120 1006h0M127 1043h0M142 955h0M146 1034h0M125 1056h0M120 1027h0M123 1035h0M141 1110h0M119 1002h0M139 1062h0M121 1000h0M141 1118h0M147 985h0M146 1048h0M138 980h0M142 1134h0M145 1089h0M134 981h0M148 981h0M140 1018h0M140 1055h0M125 984h0M131 1134h0M134 1008h0M127 1143h0M125 1017h0M145 964h0M120 1005h0M137 1043h0M133 951h0M120 952h0M139 1039h0M134 1070h0M141 1029h0M141 1021h0M144 1085h0M142 1057h0M148 1038h0M149 1125h0M145 987h0M150 995h0M148 1079h0M133 1005h0M144 941h0M144 965h0M142 1032h0M149 1094h0M128 1032h0M136 1130h0M147 1052h0M137 1097h0M119 1104h0M137 991h0M132 977h0M123 974h0M129 1092h0M143 1066h0M140 1014h0M122 1038h0M127 1031h0M132 968h0M139 1013h0M146 1105h0M129 1137h0M147 1000h0M127 1044h0M123 990h0M140 956h0M143 976h0M122 946h0M123 1101h0M150 1051h0M149 1004h0" stroke="#3fa877" stroke-width="6.6" stroke-linecap="round" fill="none"/>
<line x1="268.60" y1="898.00" x2="268.60" y2="986.90" stroke="#000" stroke-width="1.4" stroke-linecap="butt" />
<line x1="268.60" y1="1046.20" x2="268.60" y2="1129.50" stroke="#000" stroke-width="1.4" stroke-linecap="butt" />
<line x1="241.70" y1="898.00" x2="295.20" y2="898.00" stroke="#000" stroke-width="1.4" stroke-linecap="butt" />
<line x1="241.70" y1="1129.50" x2="295.20" y2="1129.50" stroke="#000" stroke-width="1.4" stroke-linecap="butt" />
<rect x="214.30" y="986.90" width="108.30" height="59.30" fill="#e1b9e2" stroke="#000" stroke-width="1.5" />
<line x1="214.30" y1="1017.60" x2="322.60" y2="1017.60" stroke="#000" stroke-width="1.5" stroke-linecap="butt" />
<path d="M269 950h0M280 967h0M266 1031h0M253 1017h0M273 1114h0M278 1127h0M279 1105h0M277 1096h0M255 1030h0M264 988h0M274 983h0M265 1081h0M284 1103h0M265 1059h0M256 1009h0M284 1078h0M255 1108h0M258 983h0M272 1016h0M272 955h0M271 1026h0M260 902h0M265 1032h0M283 986h0M284 951h0M268 1099h0M273 1050h0M269 990h0M267 1027h0M270 973h0M256 1057h0M261 1066h0M277 1090h0M282 1045h0M261 991h0M255 956h0M265 1090h0M276 1007h0M278 994h0M261 947h0M284 1026h0M266 1120h0M255 1039h0M262 966h0M274 1000h0M275 1030h0M276 1008h0M271 1029h0M278 1072h0M283 1011h0M264 1008h0M259 1010h0M271 1111h0M253 1060h0M273 1126h0M278 1019h0M281 1031h0M273 970h0M269 1032h0M284 1007h0M276 1019h0M274 976h0M283 1117h0M266 1107h0M284 1031h0M266 999h0M256 937h0M267 911h0M259 917h0M272 1029h0M258 1004h0M279 1019h0M282 1040h0M260 1076h0M269 1068h0M274 1046h0M264 1015h0M258 1052h0M269 1038h0M257 955h0M280 1036h0M276 1003h0M283 1015h0M266 973h0M259 1036h0M263 976h0M268 1005h0M256 1028h0M279 1044h0M275 1009h0M284 902h0M262 1023h0M265 940h0M276 999h0M263 1099h0M256 995h0M279 945h0M258 1000h0M282 991h0M279 1104h0M253 1011h0M274 1106h0M264 1007h0M269 1009h0M277 1053h0M257 953h0M279 1098h0M255 1055h0M282 1064h0M284 994h0M271 1083h0M272 1109h0M260 980h0M255 956h0M283 1045h0M276 1027h0M259 1046h0M271 1010h0M263 958h0M257 1027h0M273 946h0M284 1077h0M271 948h0M282 1072h0M281 1030h0M272 1062h0M269 1013h0M269 1028h0M260 1010h0M280 1093h0M271 970h0M257 1034h0M262 931h0M279 1040h0M254 1022h0M282 953h0M262 999h0M264 977h0M284 1039h0M254 979h0M280 981h0M283 1028h0M262 1000h0M260 998h0M281 965h0M282 1005h0M255 1025h0M270 1018h0M278 932h0M260 1032h0M284 980h0M265 1031h0M270 998h0M278 1026h0M269 1095h0M258 1033h0M277 1013h0M260 952h0M272 989h0M257 1054h0M267 1013h0M271 981h0M263 921h0M269 1024h0M258 975h0M279 1028h0M264 1011h0M277 952h0M276 1014h0M257 1040h0M255 1012h0M260 1100h0M282 950h0M272 1045h0M254 1025h0M281 1086h0M265 1037h0M258 1008h0M259 999h0M284 1013h0M255 943h0M253 1003h0M282 1010h0M258 1008h0M276 1032h0M265 1006h0M269 972h0M254 1001h0M266 937h0M261 1029h0M262 927h0M280 1010h0M260 1007h0M271 1024h0M282 965h0M280 1124h0M265 947h0M269 1006h0M268 1011h0M264 915h0M275 1021h0M264 944h0M268 990h0M261 1006h0M271 1040h0M272 950h0M283 1021h0M266 1070h0M282 1068h0M262 1017h0M260 926h0M270 987h0M273 1016h0M284 1110h0M263 1039h0M279 1125h0M264 958h0M261 1057h0M257 1017h0M275 993h0M268 1033h0M261 1048h0M261 968h0M277 1007h0M275 1071h0M265 1051h0M253 998h0M275 1051h0M284 983h0M262 908h0M253 939h0M262 1009h0M272 944h0M270 967h0M256 997h0M256 1016h0M257 1020h0M268 1000h0M255 990h0M258 992h0M268 978h0M270 910h0M280 983h0M276 1036h0M256 997h0M263 1032h0M283 999h0M276 1106h0M284 1104h0M261 968h0M260 1021h0M279 1026h0M282 934h0M276 1007h0M258 1095h0M266 1008h0M270 938h0M263 1039h0M266 1045h0M275 1011h0M283 1027h0M284 1008h0M259 963h0M269 1090h0M275 1037h0M260 944h0M273 1047h0M257 1122h0M276 1063h0M257 1038h0M279 1001h0M269 1107h0M275 1038h0M280 955h0M255 1025h0M278 931h0" stroke="#c874cf" stroke-width="6.6" stroke-linecap="round" fill="none"/>
<line x1="67.90" y1="832.60" x2="67.90" y2="1205.40" stroke="#000" stroke-width="2.9" stroke-linecap="butt" />
<line x1="66.50" y1="1204.00" x2="336.20" y2="1204.00" stroke="#000" stroke-width="2.9" stroke-linecap="butt" />
<line x1="58.40" y1="905.20" x2="67.90" y2="905.20" stroke="#000" stroke-width="2.2" stroke-linecap="butt" />
<text  x="55.40" y="913.50" font-size="23.2" font-weight="normal" font-style="normal" fill="#000" text-anchor="end" ><tspan >15</tspan></text>
<line x1="58.40" y1="992.90" x2="67.90" y2="992.90" stroke="#000" stroke-width="2.2" stroke-linecap="butt" />
<text  x="55.40" y="1001.20" font-size="23.2" font-weight="normal" font-style="normal" fill="#000" text-anchor="end" ><tspan >14</tspan></text>
<line x1="58.40" y1="1080.20" x2="67.90" y2="1080.20" stroke="#000" stroke-width="2.2" stroke-linecap="butt" />
<text  x="55.40" y="1088.50" font-size="23.2" font-weight="normal" font-style="normal" fill="#000" text-anchor="end" ><tspan >13</tspan></text>
<line x1="58.40" y1="1169.00" x2="67.90" y2="1169.00" stroke="#000" stroke-width="2.2" stroke-linecap="butt" />
<text  x="55.40" y="1177.30" font-size="23.2" font-weight="normal" font-style="normal" fill="#000" text-anchor="end" ><tspan >12</tspan></text>
<line x1="134.50" y1="1204.00" x2="134.50" y2="1213.50" stroke="#000" stroke-width="2.2" stroke-linecap="butt" />
<line x1="268.60" y1="1204.00" x2="268.60" y2="1213.50" stroke="#000" stroke-width="2.2" stroke-linecap="butt" />
<text  x="134.50" y="1236.00" font-size="22.3" font-weight="normal" font-style="normal" fill="#000" text-anchor="middle" ><tspan >WT</tspan></text>
<text  x="268.60" y="1236.00" font-size="22.3" font-weight="normal" font-style="normal" fill="#000" text-anchor="middle" ><tspan >Mut</tspan></text>
<text  x="206.05" y="1272.00" font-size="23.2" font-weight="normal" font-style="normal" fill="#000" text-anchor="middle" ><tspan font-style="italic">APC</tspan><tspan > (damaging mutation)</tspan></text>
<text  x="134.50" y="1186.00" font-size="23.5" font-weight="normal" font-style="normal" fill="#000" text-anchor="middle" ><tspan font-style="italic">n</tspan><tspan > = (99)</tspan></text>
<text  x="268.60" y="1186.00" font-size="23.5" font-weight="normal" font-style="normal" fill="#000" text-anchor="middle" ><tspan >(276)</tspan></text>
<text  x="201.00" y="862.00" font-size="23" font-weight="normal" font-style="normal" fill="#d93a2e" text-anchor="middle" ><tspan font-style="italic">p</tspan><tspan > = </tspan><tspan >0.00908</tspan></text>
<text transform="translate(18.60,1019.00) rotate(-90)" x="0" y="0" font-size="23.2" font-weight="normal" font-style="normal" fill="#000" text-anchor="middle" ><tspan font-style="italic">NPM1</tspan><tspan > expression</tspan></text>
<line x1="506.00" y1="891.00" x2="506.00" y2="983.00" stroke="#000" stroke-width="1.4" stroke-linecap="butt" />
<line x1="506.00" y1="1083.80" x2="506.00" y2="1158.00" stroke="#000" stroke-width="1.4" stroke-linecap="butt" />
<line x1="482.40" y1="891.00" x2="530.50" y2="891.00" stroke="#000" stroke-width="1.4" stroke-linecap="butt" />
<line x1="482.40" y1="1158.00" x2="530.50" y2="1158.00" stroke="#000" stroke-width="1.4" stroke-linecap="butt" />
<rect x="459.00" y="983.00" width="94.80" height="100.80" fill="#90dcbe" stroke="#000" stroke-width="1.5" />
<line x1="459.00" y1="1051.00" x2="553.80" y2="1051.00" stroke="#000" stroke-width="1.5" stroke-linecap="butt" />
<path d="M490 1089h0M512 1065h0M504 1089h0M492 971h0M517 1024h0M506 1075h0M504 1087h0M495 1046h0M516 1000h0M505 1043h0M521 1056h0M512 936h0M502 1007h0M516 1084h0M502 942h0M496 1038h0M501 1011h0M497 1029h0M505 1080h0M502 1076h0M499 1084h0M490 1007h0M506 1158h0M517 1062h0M505 1036h0M519 1078h0M499 1071h0M497 1129h0M512 1052h0M504 925h0M521 1150h0M519 1042h0M514 937h0M519 1055h0M515 1115h0M500 1019h0M494 1122h0M503 925h0M500 908h0M502 1151h0M496 1028h0M500 1007h0M499 1019h0M519 1005h0M509 945h0M517 1029h0M514 1037h0M508 1155h0M500 1057h0M494 1014h0M516 902h0M518 1104h0M511 996h0M510 1105h0M502 1021h0M498 921h0M518 972h0M500 1057h0M518 1092h0M495 984h0M496 920h0M512 1087h0M511 1036h0M510 1109h0M513 1035h0M512 973h0M509 940h0M493 904h0M498 984h0M521 1154h0M520 924h0M504 1059h0M493 1007h0M520 1135h0M509 1076h0M505 1006h0M502 1100h0M510 920h0M502 1006h0M520 1038h0M493 1025h0M509 951h0M501 1014h0M505 1034h0M500 1004h0M499 1078h0M511 949h0M516 926h0M499 943h0M510 1003h0M505 980h0M502 1030h0M513 950h0M501 1130h0M515 1073h0M517 1089h0M503 1009h0M500 995h0M502 1067h0" stroke="#3fa877" stroke-width="6.6" stroke-linecap="round" fill="none"/>
<line x1="625.00" y1="873.60" x2="625.00" y2="929.00" stroke="#000" stroke-width="1.4" stroke-linecap="butt" />
<line x1="625.00" y1="1043.30" x2="625.00" y2="1135.00" stroke="#000" stroke-width="1.4" stroke-linecap="butt" />
<line x1="602.00" y1="873.60" x2="649.50" y2="873.60" stroke="#000" stroke-width="1.4" stroke-linecap="butt" />
<line x1="602.00" y1="1135.00" x2="649.50" y2="1135.00" stroke="#000" stroke-width="1.4" stroke-linecap="butt" />
<rect x="577.60" y="929.00" width="96.20" height="114.30" fill="#e1b9e2" stroke="#000" stroke-width="1.5" />
<line x1="577.60" y1="978.60" x2="673.80" y2="978.60" stroke="#000" stroke-width="1.5" stroke-linecap="butt" />
<path d="M616 1050h0M621 1081h0M634 1083h0M629 1047h0M623 1093h0M622 970h0M636 1084h0M621 1116h0M626 1020h0M635 903h0M637 1096h0M612 962h0M614 1041h0M626 1039h0M616 1132h0M631 911h0M633 1059h0M629 931h0M622 985h0M641 1081h0M619 1029h0M639 965h0M640 886h0M635 978h0M638 1072h0M637 1039h0M616 952h0M638 984h0M634 1075h0M628 1097h0M614 980h0M629 949h0M623 1080h0M638 1039h0M614 910h0M632 894h0M639 884h0M640 1050h0M627 896h0M614 883h0M623 1096h0M623 892h0M638 936h0M616 897h0M612 1082h0M638 1020h0M614 1039h0M617 1031h0M614 1004h0M641 1072h0M612 1135h0M634 1057h0M609 939h0M638 1118h0M612 1098h0M631 980h0M632 897h0M619 902h0M611 944h0M624 1043h0M612 968h0M613 936h0M633 1112h0M631 1041h0M626 1019h0M629 1040h0M620 1015h0M625 949h0M623 946h0M611 983h0M614 1129h0M637 937h0M611 1133h0M630 1086h0M622 1083h0M620 1107h0M626 984h0M615 946h0M637 993h0M622 997h0M620 1007h0M639 1007h0M612 1035h0M627 917h0M631 915h0M626 1118h0M638 951h0M629 902h0M621 1020h0M612 1037h0M631 910h0M616 1035h0M636 1018h0M627 1047h0M621 886h0M611 1005h0M613 984h0M617 929h0M640 1046h0M614 1061h0M628 1073h0M615 919h0M615 1090h0M635 993h0M619 981h0M634 1033h0M618 1048h0M632 897h0M616 1008h0M613 1086h0M640 995h0M630 1006h0M632 1031h0M638 1088h0M617 1028h0M635 1030h0M609 913h0M613 1091h0M628 919h0M635 922h0M619 911h0M629 1031h0M630 890h0M613 988h0M640 889h0M627 939h0M622 1058h0M637 993h0M636 885h0M629 980h0M630 997h0M623 1027h0M623 908h0M616 957h0M637 1035h0M627 1023h0M638 919h0M638 933h0M625 939h0M639 1047h0M631 1115h0M609 1042h0M625 1063h0M630 900h0M639 981h0M626 928h0M639 1068h0M620 1066h0M609 1084h0M616 989h0M634 966h0M610 1042h0M638 1094h0M624 912h0M627 1071h0M636 908h0M623 1081h0M630 911h0M618 1121h0M612 897h0M617 969h0M612 1028h0M623 1045h0M620 919h0M623 929h0M633 1032h0M628 948h0M611 973h0M617 921h0M611 1026h0M627 1040h0M614 1097h0M611 894h0M613 924h0M625 899h0M640 956h0M639 1035h0M620 1062h0M625 998h0M622 960h0M615 1008h0M630 1062h0M632 1021h0M625 923h0M620 922h0M615 1090h0M628 888h0M640 908h0M613 974h0M613 992h0M636 963h0M625 959h0M614 1043h0M634 1048h0M611 960h0M612 876h0M625 1118h0M631 1093h0M639 918h0M635 1016h0M611 887h0M632 950h0M610 1063h0M622 920h0M633 1042h0M633 980h0M635 969h0M627 1080h0M632 1015h0M621 1008h0M619 906h0M629 999h0M636 960h0M610 904h0M629 1054h0M637 972h0M610 878h0M614 1077h0M620 937h0M618 1092h0M641 962h0M638 1001h0M611 881h0M613 1102h0M629 933h0M637 969h0M614 1007h0M615 1090h0M616 917h0M614 922h0M611 957h0M638 1112h0M632 915h0M620 979h0M635 1045h0M622 926h0M622 958h0M623 992h0M617 879h0M612 925h0M620 964h0M635 953h0M620 940h0M620 1092h0M637 937h0M637 954h0M610 1030h0M639 980h0M633 1067h0M615 923h0M615 1105h0M626 1056h0M621 885h0M639 1045h0M640 960h0M636 971h0M623 1091h0M629 896h0M622 1002h0M635 937h0M636 1028h0M616 996h0M636 1020h0M627 888h0M633 971h0M636 895h0M617 987h0M633 947h0M625 953h0M615 883h0M637 999h0M621 1077h0M617 922h0M636 967h0M635 941h0M615 888h0" stroke="#c874cf" stroke-width="6.6" stroke-linecap="round" fill="none"/>
<line x1="446.70" y1="826.70" x2="446.70" y2="1205.40" stroke="#000" stroke-width="2.9" stroke-linecap="butt" />
<line x1="445.30" y1="1204.00" x2="685.20" y2="1204.00" stroke="#000" stroke-width="2.9" stroke-linecap="butt" />
<line x1="437.20" y1="840.50" x2="446.70" y2="840.50" stroke="#000" stroke-width="2.2" stroke-linecap="butt" />
<text  x="434.20" y="848.80" font-size="23.2" font-weight="normal" font-style="normal" fill="#000" text-anchor="end" ><tspan >0.75</tspan></text>
<line x1="437.20" y1="892.40" x2="446.70" y2="892.40" stroke="#000" stroke-width="2.2" stroke-linecap="butt" />
<text  x="434.20" y="900.70" font-size="23.2" font-weight="normal" font-style="normal" fill="#000" text-anchor="end" ><tspan >0.50</tspan></text>
<line x1="437.20" y1="944.00" x2="446.70" y2="944.00" stroke="#000" stroke-width="2.2" stroke-linecap="butt" />
<text  x="434.20" y="952.30" font-size="23.2" font-weight="normal" font-style="normal" fill="#000" text-anchor="end" ><tspan >0.25</tspan></text>
<line x1="437.20" y1="996.40" x2="446.70" y2="996.40" stroke="#000" stroke-width="2.2" stroke-linecap="butt" />
<text  x="434.20" y="1004.70" font-size="23.2" font-weight="normal" font-style="normal" fill="#000" text-anchor="end" ><tspan >0.00</tspan></text>
<line x1="437.20" y1="1048.60" x2="446.70" y2="1048.60" stroke="#000" stroke-width="2.2" stroke-linecap="butt" />
<text  x="434.20" y="1056.90" font-size="23.2" font-weight="normal" font-style="normal" fill="#000" text-anchor="end" ><tspan >−0.25</tspan></text>
<line x1="437.20" y1="1101.00" x2="446.70" y2="1101.00" stroke="#000" stroke-width="2.2" stroke-linecap="butt" />
<text  x="434.20" y="1109.30" font-size="23.2" font-weight="normal" font-style="normal" fill="#000" text-anchor="end" ><tspan >−0.50</tspan></text>
<line x1="437.20" y1="1152.90" x2="446.70" y2="1152.90" stroke="#000" stroke-width="2.2" stroke-linecap="butt" />
<text  x="434.20" y="1161.20" font-size="23.2" font-weight="normal" font-style="normal" fill="#000" text-anchor="end" ><tspan >−0.75</tspan></text>
<line x1="506.00" y1="1204.00" x2="506.00" y2="1213.50" stroke="#000" stroke-width="2.2" stroke-linecap="butt" />
<line x1="625.00" y1="1204.00" x2="625.00" y2="1213.50" stroke="#000" stroke-width="2.2" stroke-linecap="butt" />
<text  x="506.00" y="1236.00" font-size="22.3" font-weight="normal" font-style="normal" fill="#000" text-anchor="middle" ><tspan >WT</tspan></text>
<text  x="625.00" y="1236.00" font-size="22.3" font-weight="normal" font-style="normal" fill="#000" text-anchor="middle" ><tspan >Mut</tspan></text>
<text  x="569.95" y="1272.00" font-size="23.2" font-weight="normal" font-style="normal" fill="#000" text-anchor="middle" ><tspan font-style="italic">APC</tspan><tspan > (damaging mutation)</tspan></text>
<text  x="506.00" y="1186.00" font-size="23.5" font-weight="normal" font-style="normal" fill="#000" text-anchor="middle" ><tspan font-style="italic">n</tspan><tspan > = (99)</tspan></text>
<text  x="625.00" y="1186.00" font-size="23.5" font-weight="normal" font-style="normal" fill="#000" text-anchor="middle" ><tspan >(276)</tspan></text>
<text  x="565.00" y="856.40" font-size="23" font-weight="normal" font-style="normal" fill="#d93a2e" text-anchor="middle" ><tspan font-style="italic">p</tspan><tspan > = </tspan><tspan >1.36e-09</tspan></text>
<text transform="translate(367.40,1028.00) rotate(-90)" x="0" y="0" font-size="23.2" font-weight="normal" font-style="normal" fill="#000" text-anchor="middle" ><tspan >WNT signature a</tspan></text>
<line x1="859.00" y1="883.80" x2="859.00" y2="982.60" stroke="#000" stroke-width="1.4" stroke-linecap="butt" />
<line x1="859.00" y1="1071.40" x2="859.00" y2="1156.40" stroke="#000" stroke-width="1.4" stroke-linecap="butt" />
<line x1="833.30" y1="883.80" x2="884.50" y2="883.80" stroke="#000" stroke-width="1.4" stroke-linecap="butt" />
<line x1="833.30" y1="1156.40" x2="884.50" y2="1156.40" stroke="#000" stroke-width="1.4" stroke-linecap="butt" />
<rect x="808.30" y="982.60" width="101.70" height="88.80" fill="#90dcbe" stroke="#000" stroke-width="1.5" />
<line x1="808.30" y1="1025.50" x2="910.00" y2="1025.50" stroke="#000" stroke-width="1.5" stroke-linecap="butt" />
<path d="M849 1139h0M866 1003h0M857 926h0M848 924h0M867 1136h0M859 972h0M857 933h0M869 1055h0M847 1128h0M849 998h0M862 1023h0M851 1026h0M845 1015h0M873 962h0M870 1054h0M871 1019h0M855 972h0M862 1069h0M862 1037h0M854 1047h0M847 1043h0M861 1040h0M854 1022h0M847 1071h0M845 1036h0M843 1057h0M860 1069h0M859 893h0M870 960h0M852 921h0M856 986h0M868 1071h0M854 1032h0M871 995h0M855 927h0M857 1015h0M847 948h0M860 1062h0M871 1005h0M854 1016h0M864 1046h0M861 1098h0M847 1076h0M874 1087h0M844 987h0M871 1046h0M870 955h0M847 1050h0M868 923h0M851 985h0M870 972h0M851 1102h0M855 1080h0M844 1033h0M862 992h0M870 946h0M874 1097h0M848 971h0M859 1084h0M843 1030h0M845 918h0M867 1064h0M870 1135h0M851 1112h0M864 1073h0M855 1142h0M856 1033h0M854 1067h0M845 1093h0M868 1055h0M861 1019h0M848 1002h0M850 1069h0M874 1001h0M845 994h0M844 997h0M861 1003h0M869 1123h0M863 987h0M866 1079h0M852 1004h0M866 1086h0M874 973h0M846 927h0M861 1045h0M855 929h0M869 904h0M847 1020h0M872 910h0M867 1049h0M873 1116h0M861 1103h0M868 890h0M861 1008h0M868 1109h0M867 1125h0M851 1080h0M844 1062h0M848 972h0" stroke="#3fa877" stroke-width="6.6" stroke-linecap="round" fill="none"/>
<line x1="986.40" y1="869.50" x2="986.40" y2="943.30" stroke="#000" stroke-width="1.4" stroke-linecap="butt" />
<line x1="986.40" y1="1031.40" x2="986.40" y2="1130.20" stroke="#000" stroke-width="1.4" stroke-linecap="butt" />
<line x1="960.70" y1="869.50" x2="1012.40" y2="869.50" stroke="#000" stroke-width="1.4" stroke-linecap="butt" />
<line x1="960.70" y1="1130.20" x2="1012.40" y2="1130.20" stroke="#000" stroke-width="1.4" stroke-linecap="butt" />
<rect x="936.90" y="943.30" width="100.70" height="88.10" fill="#e1b9e2" stroke="#000" stroke-width="1.5" />
<line x1="936.90" y1="979.00" x2="1037.60" y2="979.00" stroke="#000" stroke-width="1.5" stroke-linecap="butt" />
<path d="M972 993h0M984 1076h0M990 928h0M973 941h0M987 940h0M991 1014h0M1000 980h0M997 946h0M975 941h0M980 919h0M990 1068h0M993 954h0M972 919h0M992 1115h0M991 999h0M987 964h0M993 1034h0M978 998h0M974 1009h0M997 1002h0M979 895h0M995 1031h0M985 965h0M999 955h0M974 1022h0M976 1117h0M985 928h0M981 929h0M989 1113h0M973 994h0M984 933h0M983 994h0M986 1029h0M990 950h0M992 998h0M981 890h0M1000 1062h0M994 889h0M987 936h0M972 1030h0M997 1022h0M976 929h0M978 929h0M988 901h0M998 1001h0M981 894h0M983 1001h0M1001 926h0M982 978h0M992 969h0M997 956h0M982 1083h0M1001 989h0M1000 1023h0M974 928h0M987 986h0M984 1064h0M997 968h0M981 969h0M980 959h0M991 964h0M989 969h0M985 994h0M979 945h0M997 949h0M977 958h0M988 1052h0M990 981h0M999 901h0M986 1023h0M994 1019h0M997 1011h0M981 1060h0M988 1025h0M996 981h0M1001 910h0M987 914h0M998 1052h0M988 981h0M977 1012h0M1001 984h0M1000 1023h0M994 970h0M974 1004h0M995 1067h0M992 885h0M979 941h0M988 894h0M972 959h0M990 1024h0M973 966h0M974 1118h0M1000 1046h0M976 916h0M983 984h0M1002 984h0M975 999h0M988 884h0M982 1070h0M983 1069h0M993 1078h0M990 948h0M984 1111h0M992 1017h0M977 1033h0M992 911h0M991 909h0M991 1087h0M999 955h0M976 1051h0M998 1000h0M999 1005h0M972 1119h0M986 992h0M1001 947h0M979 981h0M1002 915h0M974 973h0M1000 954h0M989 891h0M988 988h0M974 983h0M978 1017h0M971 1021h0M971 1115h0M998 947h0M1002 1092h0M977 1029h0M980 991h0M1001 1069h0M974 1021h0M986 976h0M987 1000h0M998 1054h0M982 1084h0M979 994h0M986 966h0M994 900h0M982 998h0M1002 1103h0M974 1025h0M988 921h0M979 914h0M993 977h0M971 882h0M986 990h0M978 956h0M1002 870h0M972 990h0M975 1003h0M1001 986h0M978 1044h0M980 933h0M975 1040h0M995 1086h0M996 976h0M981 1065h0M987 902h0M990 924h0M998 1045h0M979 922h0M973 926h0M991 994h0M983 893h0M991 1054h0M985 976h0M981 894h0M977 1095h0M979 962h0M986 1039h0M998 912h0M992 933h0M980 1026h0M994 884h0M1000 1014h0M985 1012h0M980 948h0M992 1106h0M981 945h0M971 905h0M997 915h0M992 1009h0M972 1080h0M1000 931h0M973 1016h0M991 989h0M988 929h0M993 932h0M980 1088h0M984 910h0M974 1004h0M994 1000h0M999 975h0M996 1067h0M978 1037h0M984 995h0M986 1030h0M1001 889h0M994 955h0M991 968h0M987 1018h0M987 1024h0M977 885h0M996 993h0M982 914h0M999 1002h0M984 1125h0M1001 904h0M970 1023h0M971 928h0M994 999h0M972 1019h0M986 1011h0M993 924h0M995 929h0M974 980h0M988 1063h0M997 1124h0M976 992h0M999 940h0M998 994h0M989 940h0M984 917h0M974 1106h0M998 957h0M991 889h0M986 1010h0M995 1126h0M974 1009h0M1001 920h0M995 1028h0M985 974h0M980 1026h0M974 1013h0M984 1039h0M996 1032h0M980 940h0M995 1054h0M977 912h0M984 1021h0M974 1006h0M973 1108h0M974 1012h0M982 997h0M982 1055h0M974 980h0M979 966h0M996 980h0M993 958h0M988 951h0M978 935h0M992 1105h0M981 1025h0M981 1118h0M993 939h0M999 1073h0M976 1021h0M980 982h0M975 916h0M1000 919h0M992 1018h0M998 981h0M992 1053h0M980 997h0M987 886h0M980 1014h0M990 938h0M986 1079h0M971 984h0M991 1110h0M976 929h0M985 926h0M999 1078h0M973 1099h0M989 934h0M977 940h0" stroke="#c874cf" stroke-width="6.6" stroke-linecap="round" fill="none"/>
<line x1="796.40" y1="822.40" x2="796.40" y2="1204.70" stroke="#000" stroke-width="2.9" stroke-linecap="butt" />
<line x1="795.00" y1="1203.30" x2="1045.20" y2="1203.30" stroke="#000" stroke-width="2.9" stroke-linecap="butt" />
<line x1="786.90" y1="858.30" x2="796.40" y2="858.30" stroke="#000" stroke-width="2.2" stroke-linecap="butt" />
<text  x="783.90" y="866.60" font-size="23.2" font-weight="normal" font-style="normal" fill="#000" text-anchor="end" ><tspan >0.4</tspan></text>
<line x1="786.90" y1="926.00" x2="796.40" y2="926.00" stroke="#000" stroke-width="2.2" stroke-linecap="butt" />
<text  x="783.90" y="934.30" font-size="23.2" font-weight="normal" font-style="normal" fill="#000" text-anchor="end" ><tspan >0.2</tspan></text>
<line x1="786.90" y1="993.30" x2="796.40" y2="993.30" stroke="#000" stroke-width="2.2" stroke-linecap="butt" />
<text  x="783.90" y="1001.60" font-size="23.2" font-weight="normal" font-style="normal" fill="#000" text-anchor="end" ><tspan >0.0</tspan></text>
<line x1="786.90" y1="1061.20" x2="796.40" y2="1061.20" stroke="#000" stroke-width="2.2" stroke-linecap="butt" />
<text  x="783.90" y="1069.50" font-size="23.2" font-weight="normal" font-style="normal" fill="#000" text-anchor="end" ><tspan >−0.2</tspan></text>
<line x1="786.90" y1="1128.60" x2="796.40" y2="1128.60" stroke="#000" stroke-width="2.2" stroke-linecap="butt" />
<text  x="783.90" y="1136.90" font-size="23.2" font-weight="normal" font-style="normal" fill="#000" text-anchor="end" ><tspan >−0.4</tspan></text>
<line x1="786.90" y1="1195.70" x2="796.40" y2="1195.70" stroke="#000" stroke-width="2.2" stroke-linecap="butt" />
<text  x="783.90" y="1204.00" font-size="23.2" font-weight="normal" font-style="normal" fill="#000" text-anchor="end" ><tspan >−0.6</tspan></text>
<line x1="859.00" y1="1203.30" x2="859.00" y2="1212.80" stroke="#000" stroke-width="2.2" stroke-linecap="butt" />
<line x1="986.40" y1="1203.30" x2="986.40" y2="1212.80" stroke="#000" stroke-width="2.2" stroke-linecap="butt" />
<text  x="859.00" y="1236.00" font-size="22.3" font-weight="normal" font-style="normal" fill="#000" text-anchor="middle" ><tspan >WT</tspan></text>
<text  x="986.40" y="1236.00" font-size="22.3" font-weight="normal" font-style="normal" fill="#000" text-anchor="middle" ><tspan >Mut</tspan></text>
<text  x="924.80" y="1272.00" font-size="23.2" font-weight="normal" font-style="normal" fill="#000" text-anchor="middle" ><tspan font-style="italic">APC</tspan><tspan > (damaging mutation)</tspan></text>
<text  x="859.00" y="1186.00" font-size="23.5" font-weight="normal" font-style="normal" fill="#000" text-anchor="middle" ><tspan font-style="italic">n</tspan><tspan > = (99)</tspan></text>
<text  x="986.40" y="1186.00" font-size="23.5" font-weight="normal" font-style="normal" fill="#000" text-anchor="middle" ><tspan >(276)</tspan></text>
<text  x="921.50" y="851.70" font-size="23" font-weight="normal" font-style="normal" fill="#d93a2e" text-anchor="middle" ><tspan font-style="italic">p</tspan><tspan > = </tspan><tspan >1.79e-07</tspan></text>
<text transform="translate(735.70,1025.30) rotate(-90)" x="0" y="0" font-size="23.2" font-weight="normal" font-style="normal" fill="#000" text-anchor="middle" ><tspan >WNT signature b</tspan></text>
<text  x="1447.00" y="742.00" font-size="38" font-weight="bold" font-style="italic" fill="#000" text-anchor="middle" ><tspan >Apc</tspan><tspan font-size="25.08" dy="-15.96">fl/fl</tspan></text>
<text  x="1456.00" y="1424.50" font-size="30.3" font-weight="bold" font-style="italic" fill="#e0261d" text-anchor="middle" ><tspan >Olfm4</tspan></text>
<text transform="translate(1124.40,923.40) rotate(-90)" x="0" y="0" font-size="38.5" font-weight="normal" font-style="italic" fill="#000" text-anchor="middle" ><tspan >Npm1</tspan><tspan font-size="22.33" dy="-12.32">+/+</tspan></text>
<text transform="translate(1124.40,1229.00) rotate(-90)" x="0" y="0" font-size="38.5" font-weight="normal" font-style="italic" fill="#000" text-anchor="middle" ><tspan >Npm1</tspan><tspan font-size="22.33" dy="-12.32">fl/fl</tspan></text>
<rect x="1934.90" y="1042.50" width="43.30" height="227.40" fill="none" stroke="#666" stroke-width="6.6" />
<rect x="2012.00" y="1071.80" width="43.20" height="198.10" fill="none" stroke="#d4d4d4" stroke-width="6.6" />
<line x1="1901.40" y1="909.00" x2="1901.40" y2="1274.10" stroke="#000" stroke-width="4.5" stroke-linecap="butt" />
<line x1="1899.20" y1="1271.90" x2="2087.20" y2="1271.90" stroke="#000" stroke-width="4.5" stroke-linecap="butt" />
<line x1="1890.40" y1="910.50" x2="1901.40" y2="910.50" stroke="#000" stroke-width="4.5" stroke-linecap="butt" />
<text  x="1880.40" y="920.94" font-size="29" font-weight="bold" font-style="normal" fill="#000" text-anchor="end" ><tspan >0.10</tspan></text>
<line x1="1890.40" y1="983.00" x2="1901.40" y2="983.00" stroke="#000" stroke-width="4.5" stroke-linecap="butt" />
<text  x="1880.40" y="993.44" font-size="29" font-weight="bold" font-style="normal" fill="#000" text-anchor="end" ><tspan >0.08</tspan></text>
<line x1="1890.40" y1="1055.00" x2="1901.40" y2="1055.00" stroke="#000" stroke-width="4.5" stroke-linecap="butt" />
<text  x="1880.40" y="1065.44" font-size="29" font-weight="bold" font-style="normal" fill="#000" text-anchor="end" ><tspan >0.06</tspan></text>
<line x1="1890.40" y1="1127.40" x2="1901.40" y2="1127.40" stroke="#000" stroke-width="4.5" stroke-linecap="butt" />
<text  x="1880.40" y="1137.84" font-size="29" font-weight="bold" font-style="normal" fill="#000" text-anchor="end" ><tspan >0.04</tspan></text>
<line x1="1890.40" y1="1199.40" x2="1901.40" y2="1199.40" stroke="#000" stroke-width="4.5" stroke-linecap="butt" />
<text  x="1880.40" y="1209.84" font-size="29" font-weight="bold" font-style="normal" fill="#000" text-anchor="end" ><tspan >0.02</tspan></text>
<line x1="1890.40" y1="1271.90" x2="1901.40" y2="1271.90" stroke="#000" stroke-width="4.5" stroke-linecap="butt" />
<text  x="1880.40" y="1282.34" font-size="29" font-weight="bold" font-style="normal" fill="#000" text-anchor="end" ><tspan >0.00</tspan></text>
<line x1="1956.70" y1="1271.90" x2="1956.70" y2="1287.40" stroke="#000" stroke-width="4.5" stroke-linecap="butt" />
<line x1="2034.40" y1="1271.90" x2="2034.40" y2="1287.40" stroke="#000" stroke-width="4.5" stroke-linecap="butt" />
<text transform="translate(1804.50,1099.50) rotate(-90)" x="0" y="0" font-size="29.5" font-weight="bold" font-style="normal" fill="#000" text-anchor="middle" ><tspan font-style="italic">Olfm4</tspan><tspan > copies per µm</tspan><tspan font-size="17.70" dy="-12.39">2</tspan></text>
<line x1="1956.70" y1="1020.20" x2="1956.70" y2="1056.40" stroke="#333" stroke-width="4" stroke-linecap="butt" />
<line x1="1950.00" y1="1020.20" x2="1963.40" y2="1020.20" stroke="#333" stroke-width="4" stroke-linecap="butt" />
<circle cx="1943.70" cy="1026.20" r="8.00" fill="none" stroke="#000" stroke-width="4.3" />
<circle cx="1969.40" cy="1009.60" r="8.00" fill="none" stroke="#000" stroke-width="4.3" />
<circle cx="1955.80" cy="1033.80" r="8.00" fill="none" stroke="#000" stroke-width="4.3" />
<circle cx="1956.70" cy="1088.20" r="8.00" fill="none" stroke="#000" stroke-width="4.3" />
<circle cx="2020.20" cy="1064.00" r="8.00" fill="none" stroke="#e0261d" stroke-width="4.3" />
<circle cx="2026.80" cy="1079.10" r="8.00" fill="none" stroke="#e0261d" stroke-width="4.3" />
<circle cx="2043.40" cy="1068.50" r="8.00" fill="none" stroke="#e0261d" stroke-width="4.3" />
<circle cx="2049.50" cy="1061.00" r="8.00" fill="none" stroke="#e0261d" stroke-width="4.3" />
<circle cx="2038.90" cy="1069.40" r="8.00" fill="none" stroke="#e0261d" stroke-width="4.3" />
<path d="M1956.70,982.40 L1956.70,968.80 L2035.30,968.80 L2035.30,1008.00" fill="none" stroke="#000" stroke-width="6" stroke-linejoin="miter"/>
<text  x="1996.00" y="955.20" font-size="20.5" font-weight="normal" font-style="normal" fill="#000" text-anchor="middle" letter-spacing="2.0" ><tspan >p=0.1424</tspan></text>
<text  x="1998.00" y="843.40" font-size="38" font-weight="bold" font-style="italic" fill="#000" text-anchor="middle" ><tspan >Apc</tspan><tspan font-size="25.08" dy="-15.96">fl/fl</tspan></text>
<text transform="translate(1962.00,1306.00) rotate(-45)" x="0" y="0" font-size="33" font-weight="bold" font-style="italic" fill="#000" text-anchor="end" ><tspan >Npm1</tspan><tspan font-size="21.78" dy="-13.86">+/+</tspan></text>
<text transform="translate(2040.00,1306.00) rotate(-45)" x="0" y="0" font-size="33" font-weight="bold" font-style="italic" fill="#000" text-anchor="end" ><tspan >Npm1</tspan><tspan font-size="21.78" dy="-13.86">fl/fl</tspan></text>
<line x1="146.90" y1="1500.40" x2="146.90" y2="1779.30" stroke="#000" stroke-width="4.6" stroke-linecap="butt" />
<line x1="144.60" y1="1777.00" x2="644.00" y2="1777.00" stroke="#000" stroke-width="4.6" stroke-linecap="butt" />
<line x1="135.90" y1="1502.70" x2="146.90" y2="1502.70" stroke="#000" stroke-width="4.6" stroke-linecap="butt" />
<text  x="131.90" y="1514.22" font-size="32" font-weight="bold" font-style="normal" fill="#000" text-anchor="end" ><tspan >15</tspan></text>
<line x1="135.90" y1="1595.30" x2="146.90" y2="1595.30" stroke="#000" stroke-width="4.6" stroke-linecap="butt" />
<text  x="131.90" y="1606.82" font-size="32" font-weight="bold" font-style="normal" fill="#000" text-anchor="end" ><tspan >10</tspan></text>
<line x1="135.90" y1="1686.60" x2="146.90" y2="1686.60" stroke="#000" stroke-width="4.6" stroke-linecap="butt" />
<text  x="131.90" y="1698.12" font-size="32" font-weight="bold" font-style="normal" fill="#000" text-anchor="end" ><tspan >5</tspan></text>
<line x1="135.90" y1="1777.00" x2="146.90" y2="1777.00" stroke="#000" stroke-width="4.6" stroke-linecap="butt" />
<text  x="131.90" y="1788.52" font-size="32" font-weight="bold" font-style="normal" fill="#000" text-anchor="end" ><tspan >0</tspan></text>
<line x1="169.50" y1="1777.00" x2="169.50" y2="1793.00" stroke="#000" stroke-width="4.6" stroke-linecap="butt" />
<line x1="214.60" y1="1777.00" x2="214.60" y2="1793.00" stroke="#000" stroke-width="4.6" stroke-linecap="butt" />
<line x1="258.90" y1="1777.00" x2="258.90" y2="1793.00" stroke="#000" stroke-width="4.6" stroke-linecap="butt" />
<line x1="304.10" y1="1777.00" x2="304.10" y2="1793.00" stroke="#000" stroke-width="4.6" stroke-linecap="butt" />
<line x1="349.30" y1="1777.00" x2="349.30" y2="1793.00" stroke="#000" stroke-width="4.6" stroke-linecap="butt" />
<line x1="394.50" y1="1777.00" x2="394.50" y2="1793.00" stroke="#000" stroke-width="4.6" stroke-linecap="butt" />
<line x1="438.80" y1="1777.00" x2="438.80" y2="1793.00" stroke="#000" stroke-width="4.6" stroke-linecap="butt" />
<line x1="484.00" y1="1777.00" x2="484.00" y2="1793.00" stroke="#000" stroke-width="4.6" stroke-linecap="butt" />
<line x1="529.10" y1="1777.00" x2="529.10" y2="1793.00" stroke="#000" stroke-width="4.6" stroke-linecap="butt" />
<line x1="574.30" y1="1777.00" x2="574.30" y2="1793.00" stroke="#000" stroke-width="4.6" stroke-linecap="butt" />
<line x1="619.50" y1="1777.00" x2="619.50" y2="1793.00" stroke="#000" stroke-width="4.6" stroke-linecap="butt" />
<polyline points="169.50,1716.65 214.60,1755.06 258.90,1762.37 304.10,1734.94 349.30,1722.14 394.50,1703.85 438.80,1745.91 484.00,1769.69 529.10,1771.51 574.30,1740.43 619.50,1766.03" fill="none" stroke="#a6a6a8" stroke-width="4.6" stroke-linejoin="miter" />
<line x1="214.60" y1="1764.20" x2="214.60" y2="1745.91" stroke="#e0261d" stroke-width="4.2" stroke-linecap="butt" />
<line x1="208.60" y1="1764.20" x2="220.60" y2="1764.20" stroke="#e0261d" stroke-width="4.2" stroke-linecap="butt" />
<line x1="208.60" y1="1745.91" x2="220.60" y2="1745.91" stroke="#e0261d" stroke-width="4.2" stroke-linecap="butt" />
<line x1="304.10" y1="1744.08" x2="304.10" y2="1723.97" stroke="#e0261d" stroke-width="4.2" stroke-linecap="butt" />
<line x1="298.10" y1="1744.08" x2="310.10" y2="1744.08" stroke="#e0261d" stroke-width="4.2" stroke-linecap="butt" />
<line x1="298.10" y1="1723.97" x2="310.10" y2="1723.97" stroke="#e0261d" stroke-width="4.2" stroke-linecap="butt" />
<line x1="349.30" y1="1734.94" x2="349.30" y2="1711.17" stroke="#e0261d" stroke-width="4.2" stroke-linecap="butt" />
<line x1="343.30" y1="1734.94" x2="355.30" y2="1734.94" stroke="#e0261d" stroke-width="4.2" stroke-linecap="butt" />
<line x1="343.30" y1="1711.17" x2="355.30" y2="1711.17" stroke="#e0261d" stroke-width="4.2" stroke-linecap="butt" />
<line x1="394.50" y1="1722.14" x2="394.50" y2="1685.57" stroke="#e0261d" stroke-width="4.2" stroke-linecap="butt" />
<line x1="388.50" y1="1722.14" x2="400.50" y2="1722.14" stroke="#e0261d" stroke-width="4.2" stroke-linecap="butt" />
<line x1="388.50" y1="1685.57" x2="400.50" y2="1685.57" stroke="#e0261d" stroke-width="4.2" stroke-linecap="butt" />
<line x1="438.80" y1="1755.06" x2="438.80" y2="1736.77" stroke="#e0261d" stroke-width="4.2" stroke-linecap="butt" />
<line x1="432.80" y1="1755.06" x2="444.80" y2="1755.06" stroke="#e0261d" stroke-width="4.2" stroke-linecap="butt" />
<line x1="432.80" y1="1736.77" x2="444.80" y2="1736.77" stroke="#e0261d" stroke-width="4.2" stroke-linecap="butt" />
<line x1="574.30" y1="1755.06" x2="574.30" y2="1720.31" stroke="#e0261d" stroke-width="4.2" stroke-linecap="butt" />
<line x1="568.30" y1="1755.06" x2="580.30" y2="1755.06" stroke="#e0261d" stroke-width="4.2" stroke-linecap="butt" />
<line x1="568.30" y1="1720.31" x2="580.30" y2="1720.31" stroke="#e0261d" stroke-width="4.2" stroke-linecap="butt" />
<line x1="169.50" y1="1729.45" x2="169.50" y2="1691.05" stroke="#2b2b2b" stroke-width="4.2" stroke-linecap="butt" />
<line x1="163.50" y1="1729.45" x2="175.50" y2="1729.45" stroke="#2b2b2b" stroke-width="4.2" stroke-linecap="butt" />
<line x1="163.50" y1="1691.05" x2="175.50" y2="1691.05" stroke="#2b2b2b" stroke-width="4.2" stroke-linecap="butt" />
<line x1="214.60" y1="1762.37" x2="214.60" y2="1734.94" stroke="#2b2b2b" stroke-width="4.2" stroke-linecap="butt" />
<line x1="208.60" y1="1762.37" x2="220.60" y2="1762.37" stroke="#2b2b2b" stroke-width="4.2" stroke-linecap="butt" />
<line x1="208.60" y1="1734.94" x2="220.60" y2="1734.94" stroke="#2b2b2b" stroke-width="4.2" stroke-linecap="butt" />
<line x1="349.30" y1="1729.45" x2="349.30" y2="1685.57" stroke="#2b2b2b" stroke-width="4.2" stroke-linecap="butt" />
<line x1="343.30" y1="1729.45" x2="355.30" y2="1729.45" stroke="#2b2b2b" stroke-width="4.2" stroke-linecap="butt" />
<line x1="343.30" y1="1685.57" x2="355.30" y2="1685.57" stroke="#2b2b2b" stroke-width="4.2" stroke-linecap="butt" />
<line x1="394.50" y1="1667.28" x2="394.50" y2="1595.96" stroke="#2b2b2b" stroke-width="4.2" stroke-linecap="butt" />
<line x1="388.50" y1="1667.28" x2="400.50" y2="1667.28" stroke="#2b2b2b" stroke-width="4.2" stroke-linecap="butt" />
<line x1="388.50" y1="1595.96" x2="400.50" y2="1595.96" stroke="#2b2b2b" stroke-width="4.2" stroke-linecap="butt" />
<line x1="438.80" y1="1687.40" x2="438.80" y2="1601.45" stroke="#2b2b2b" stroke-width="4.2" stroke-linecap="butt" />
<line x1="432.80" y1="1687.40" x2="444.80" y2="1687.40" stroke="#2b2b2b" stroke-width="4.2" stroke-linecap="butt" />
<line x1="432.80" y1="1601.45" x2="444.80" y2="1601.45" stroke="#2b2b2b" stroke-width="4.2" stroke-linecap="butt" />
<line x1="484.00" y1="1762.37" x2="484.00" y2="1733.11" stroke="#2b2b2b" stroke-width="4.2" stroke-linecap="butt" />
<line x1="478.00" y1="1762.37" x2="490.00" y2="1762.37" stroke="#2b2b2b" stroke-width="4.2" stroke-linecap="butt" />
<line x1="478.00" y1="1733.11" x2="490.00" y2="1733.11" stroke="#2b2b2b" stroke-width="4.2" stroke-linecap="butt" />
<line x1="619.50" y1="1766.03" x2="619.50" y2="1747.74" stroke="#2b2b2b" stroke-width="4.2" stroke-linecap="butt" />
<line x1="613.50" y1="1766.03" x2="625.50" y2="1766.03" stroke="#2b2b2b" stroke-width="4.2" stroke-linecap="butt" />
<line x1="613.50" y1="1747.74" x2="625.50" y2="1747.74" stroke="#2b2b2b" stroke-width="4.2" stroke-linecap="butt" />
<circle cx="169.50" cy="1716.65" r="8.20" fill="none" stroke="#e0261d" stroke-width="4.6" />
<circle cx="214.60" cy="1755.06" r="8.20" fill="none" stroke="#e0261d" stroke-width="4.6" />
<circle cx="258.90" cy="1762.37" r="8.20" fill="none" stroke="#e0261d" stroke-width="4.6" />
<circle cx="304.10" cy="1734.94" r="8.20" fill="none" stroke="#e0261d" stroke-width="4.6" />
<circle cx="349.30" cy="1722.14" r="8.20" fill="none" stroke="#e0261d" stroke-width="4.6" />
<circle cx="394.50" cy="1703.85" r="8.20" fill="none" stroke="#e0261d" stroke-width="4.6" />
<circle cx="438.80" cy="1745.91" r="8.20" fill="none" stroke="#e0261d" stroke-width="4.6" />
<circle cx="484.00" cy="1769.69" r="8.20" fill="none" stroke="#e0261d" stroke-width="4.6" />
<circle cx="529.10" cy="1771.51" r="8.20" fill="none" stroke="#e0261d" stroke-width="4.6" />
<circle cx="574.30" cy="1740.43" r="8.20" fill="none" stroke="#e0261d" stroke-width="4.6" />
<circle cx="619.50" cy="1766.03" r="8.20" fill="none" stroke="#e0261d" stroke-width="4.6" />
<polyline points="169.50,1711.17 214.60,1749.57 258.90,1766.03 304.10,1756.88 349.30,1707.51 394.50,1630.71 438.80,1643.51 484.00,1747.74 529.10,1773.34 574.30,1762.37 619.50,1756.88" fill="none" stroke="#2b2b2b" stroke-width="4.6" stroke-linejoin="miter" />
<circle cx="169.50" cy="1711.17" r="8.20" fill="none" stroke="#000" stroke-width="4.6" />
<circle cx="214.60" cy="1749.57" r="8.20" fill="none" stroke="#000" stroke-width="4.6" />
<circle cx="258.90" cy="1766.03" r="8.20" fill="none" stroke="#000" stroke-width="4.6" />
<circle cx="304.10" cy="1756.88" r="8.20" fill="none" stroke="#000" stroke-width="4.6" />
<circle cx="349.30" cy="1707.51" r="8.20" fill="none" stroke="#000" stroke-width="4.6" />
<circle cx="394.50" cy="1630.71" r="8.20" fill="none" stroke="#000" stroke-width="4.6" />
<circle cx="438.80" cy="1643.51" r="8.20" fill="none" stroke="#000" stroke-width="4.6" />
<circle cx="484.00" cy="1747.74" r="8.20" fill="none" stroke="#000" stroke-width="4.6" />
<circle cx="529.10" cy="1773.34" r="8.20" fill="none" stroke="#000" stroke-width="4.6" />
<circle cx="574.30" cy="1762.37" r="8.20" fill="none" stroke="#000" stroke-width="4.6" />
<circle cx="619.50" cy="1756.88" r="8.20" fill="none" stroke="#000" stroke-width="4.6" />
<text  x="178.90" y="1678.50" font-size="14" font-weight="normal" font-style="normal" fill="#000" text-anchor="middle" letter-spacing="1.3" ><tspan >p&gt;0.99</tspan></text>
<text  x="213.50" y="1709.20" font-size="14" font-weight="normal" font-style="normal" fill="#000" text-anchor="middle" letter-spacing="1.3" ><tspan >p&gt;0.99</tspan></text>
<text  x="260.50" y="1731.80" font-size="14" font-weight="normal" font-style="normal" fill="#000" text-anchor="middle" letter-spacing="1.3" ><tspan >p&gt;0.99</tspan></text>
<text  x="304.50" y="1695.60" font-size="14" font-weight="normal" font-style="normal" fill="#000" text-anchor="middle" letter-spacing="1.3" ><tspan >p=0.9877</tspan></text>
<text  x="349.00" y="1658.60" font-size="14" font-weight="normal" font-style="normal" fill="#000" text-anchor="middle" letter-spacing="1.3" ><tspan >p=0.9998</tspan></text>
<text  x="395.00" y="1556.50" font-size="14" font-weight="normal" font-style="normal" fill="#d93a2e" text-anchor="middle" letter-spacing="1.3" ><tspan >p=0.0159</tspan></text>
<text  x="442.35" y="1594.40" font-size="14" font-weight="normal" font-style="normal" fill="#d93a2e" text-anchor="middle" letter-spacing="1.3" ><tspan >p=0.0001</tspan></text>
<text  x="485.05" y="1713.70" font-size="14" font-weight="normal" font-style="normal" fill="#000" text-anchor="middle" letter-spacing="1.3" ><tspan >p=0.9898</tspan></text>
<text  x="529.10" y="1744.00" font-size="14" font-weight="normal" font-style="normal" fill="#000" text-anchor="middle" letter-spacing="1.3" ><tspan >p&gt;0.99</tspan></text>
<text  x="578.80" y="1702.40" font-size="14" font-weight="normal" font-style="normal" fill="#000" text-anchor="middle" letter-spacing="1.3" ><tspan >p=0.984</tspan></text>
<text  x="619.90" y="1732.70" font-size="14" font-weight="normal" font-style="normal" fill="#000" text-anchor="middle" letter-spacing="1.3" ><tspan >p&gt;0.99</tspan></text>
<line x1="497.00" y1="1608.90" x2="553.50" y2="1608.90" stroke="#2b2b2b" stroke-width="4.6" stroke-linecap="butt" />
<circle cx="525.25" cy="1608.90" r="8.20" fill="none" stroke="#000" stroke-width="4.6" />
<line x1="497.00" y1="1646.80" x2="553.50" y2="1646.80" stroke="#a6a6a8" stroke-width="4.6" stroke-linecap="butt" />
<circle cx="525.25" cy="1646.80" r="8.20" fill="none" stroke="#e0261d" stroke-width="4.6" />
<text  x="589.70" y="1616.60" font-size="24" font-weight="bold" font-style="italic" fill="#000" text-anchor="start" ><tspan >Npm1</tspan><tspan font-size="16.32" dy="-10.08">+/+</tspan></text>
<text  x="589.70" y="1654.00" font-size="24" font-weight="bold" font-style="italic" fill="#000" text-anchor="start" ><tspan >Npm1</tspan><tspan font-size="16.32" dy="-10.08">fl/fl</tspan></text>
<text  x="316.00" y="1501.00" font-size="38" font-weight="bold" font-style="italic" fill="#000" text-anchor="middle" ><tspan >Apc</tspan><tspan font-size="25.84" dy="-15.96">fl/+</tspan></text>
<text transform="translate(81.30,1646.00) rotate(-90)" x="0" y="0" font-size="30.6" font-weight="bold" font-style="normal" fill="#000" text-anchor="middle" ><tspan >tumour number</tspan></text>
<text transform="translate(175.50,1823.00) rotate(-45)" x="0" y="0" font-size="32" font-weight="bold" font-style="normal" fill="#000" text-anchor="end" ><tspan >SI 1</tspan></text>
<text transform="translate(220.60,1823.00) rotate(-45)" x="0" y="0" font-size="32" font-weight="bold" font-style="normal" fill="#000" text-anchor="end" ><tspan >SI 2</tspan></text>
<text transform="translate(264.90,1823.00) rotate(-45)" x="0" y="0" font-size="32" font-weight="bold" font-style="normal" fill="#000" text-anchor="end" ><tspan >SI 3</tspan></text>
<text transform="translate(310.10,1823.00) rotate(-45)" x="0" y="0" font-size="32" font-weight="bold" font-style="normal" fill="#000" text-anchor="end" ><tspan >SI 4</tspan></text>
<text transform="translate(355.30,1823.00) rotate(-45)" x="0" y="0" font-size="32" font-weight="bold" font-style="normal" fill="#000" text-anchor="end" ><tspan >SI 5</tspan></text>
<text transform="translate(400.50,1823.00) rotate(-45)" x="0" y="0" font-size="32" font-weight="bold" font-style="normal" fill="#000" text-anchor="end" ><tspan >SI 6</tspan></text>
<text transform="translate(444.80,1823.00) rotate(-45)" x="0" y="0" font-size="32" font-weight="bold" font-style="normal" fill="#000" text-anchor="end" ><tspan >SI 7</tspan></text>
<text transform="translate(490.00,1823.00) rotate(-45)" x="0" y="0" font-size="32" font-weight="bold" font-style="normal" fill="#000" text-anchor="end" ><tspan >SI 8</tspan></text>
<text transform="translate(535.10,1823.00) rotate(-45)" x="0" y="0" font-size="32" font-weight="bold" font-style="normal" fill="#000" text-anchor="end" ><tspan >Prox Colon</tspan></text>
<text transform="translate(580.30,1823.00) rotate(-45)" x="0" y="0" font-size="32" font-weight="bold" font-style="normal" fill="#000" text-anchor="end" ><tspan >Mid Colon</tspan></text>
<text transform="translate(625.50,1823.00) rotate(-45)" x="0" y="0" font-size="32" font-weight="bold" font-style="normal" fill="#000" text-anchor="end" ><tspan >Rectum</tspan></text>
<line x1="894.50" y1="1493.70" x2="894.50" y2="1773.30" stroke="#000" stroke-width="4.6" stroke-linecap="butt" />
<line x1="892.20" y1="1771.00" x2="1393.00" y2="1771.00" stroke="#000" stroke-width="4.6" stroke-linecap="butt" />
<line x1="883.50" y1="1496.00" x2="894.50" y2="1496.00" stroke="#000" stroke-width="4.6" stroke-linecap="butt" />
<text  x="879.50" y="1507.52" font-size="32" font-weight="bold" font-style="normal" fill="#000" text-anchor="end" ><tspan >50</tspan></text>
<line x1="883.50" y1="1551.00" x2="894.50" y2="1551.00" stroke="#000" stroke-width="4.6" stroke-linecap="butt" />
<text  x="879.50" y="1562.52" font-size="32" font-weight="bold" font-style="normal" fill="#000" text-anchor="end" ><tspan >40</tspan></text>
<line x1="883.50" y1="1606.20" x2="894.50" y2="1606.20" stroke="#000" stroke-width="4.6" stroke-linecap="butt" />
<text  x="879.50" y="1617.72" font-size="32" font-weight="bold" font-style="normal" fill="#000" text-anchor="end" ><tspan >30</tspan></text>
<line x1="883.50" y1="1660.80" x2="894.50" y2="1660.80" stroke="#000" stroke-width="4.6" stroke-linecap="butt" />
<text  x="879.50" y="1672.32" font-size="32" font-weight="bold" font-style="normal" fill="#000" text-anchor="end" ><tspan >20</tspan></text>
<line x1="883.50" y1="1716.00" x2="894.50" y2="1716.00" stroke="#000" stroke-width="4.6" stroke-linecap="butt" />
<text  x="879.50" y="1727.52" font-size="32" font-weight="bold" font-style="normal" fill="#000" text-anchor="end" ><tspan >10</tspan></text>
<line x1="883.50" y1="1771.00" x2="894.50" y2="1771.00" stroke="#000" stroke-width="4.6" stroke-linecap="butt" />
<text  x="879.50" y="1782.52" font-size="32" font-weight="bold" font-style="normal" fill="#000" text-anchor="end" ><tspan >0</tspan></text>
<line x1="917.00" y1="1771.00" x2="917.00" y2="1787.00" stroke="#000" stroke-width="4.6" stroke-linecap="butt" />
<line x1="962.30" y1="1771.00" x2="962.30" y2="1787.00" stroke="#000" stroke-width="4.6" stroke-linecap="butt" />
<line x1="1007.50" y1="1771.00" x2="1007.50" y2="1787.00" stroke="#000" stroke-width="4.6" stroke-linecap="butt" />
<line x1="1051.80" y1="1771.00" x2="1051.80" y2="1787.00" stroke="#000" stroke-width="4.6" stroke-linecap="butt" />
<line x1="1097.00" y1="1771.00" x2="1097.00" y2="1787.00" stroke="#000" stroke-width="4.6" stroke-linecap="butt" />
<line x1="1142.00" y1="1771.00" x2="1142.00" y2="1787.00" stroke="#000" stroke-width="4.6" stroke-linecap="butt" />
<line x1="1187.30" y1="1771.00" x2="1187.30" y2="1787.00" stroke="#000" stroke-width="4.6" stroke-linecap="butt" />
<line x1="1232.50" y1="1771.00" x2="1232.50" y2="1787.00" stroke="#000" stroke-width="4.6" stroke-linecap="butt" />
<line x1="1277.70" y1="1771.00" x2="1277.70" y2="1787.00" stroke="#000" stroke-width="4.6" stroke-linecap="butt" />
<line x1="1323.00" y1="1771.00" x2="1323.00" y2="1787.00" stroke="#000" stroke-width="4.6" stroke-linecap="butt" />
<line x1="1368.00" y1="1771.00" x2="1368.00" y2="1787.00" stroke="#000" stroke-width="4.6" stroke-linecap="butt" />
<polyline points="917.00,1732.50 962.30,1745.15 1007.50,1760.00 1051.80,1760.00 1097.00,1743.50 1142.00,1703.90 1187.30,1717.10 1232.50,1725.90 1277.70,1770.45 1323.00,1770.45 1368.00,1770.45" fill="none" stroke="#a6a6a8" stroke-width="4.6" stroke-linejoin="miter" />
<line x1="917.00" y1="1743.50" x2="917.00" y2="1721.50" stroke="#e0261d" stroke-width="4.2" stroke-linecap="butt" />
<line x1="911.00" y1="1743.50" x2="923.00" y2="1743.50" stroke="#e0261d" stroke-width="4.2" stroke-linecap="butt" />
<line x1="911.00" y1="1721.50" x2="923.00" y2="1721.50" stroke="#e0261d" stroke-width="4.2" stroke-linecap="butt" />
<line x1="962.30" y1="1751.75" x2="962.30" y2="1738.00" stroke="#e0261d" stroke-width="4.2" stroke-linecap="butt" />
<line x1="956.30" y1="1751.75" x2="968.30" y2="1751.75" stroke="#e0261d" stroke-width="4.2" stroke-linecap="butt" />
<line x1="956.30" y1="1738.00" x2="968.30" y2="1738.00" stroke="#e0261d" stroke-width="4.2" stroke-linecap="butt" />
<line x1="1097.00" y1="1757.25" x2="1097.00" y2="1729.75" stroke="#e0261d" stroke-width="4.2" stroke-linecap="butt" />
<line x1="1091.00" y1="1757.25" x2="1103.00" y2="1757.25" stroke="#e0261d" stroke-width="4.2" stroke-linecap="butt" />
<line x1="1091.00" y1="1729.75" x2="1103.00" y2="1729.75" stroke="#e0261d" stroke-width="4.2" stroke-linecap="butt" />
<line x1="1142.00" y1="1729.75" x2="1142.00" y2="1677.50" stroke="#e0261d" stroke-width="4.2" stroke-linecap="butt" />
<line x1="1136.00" y1="1729.75" x2="1148.00" y2="1729.75" stroke="#e0261d" stroke-width="4.2" stroke-linecap="butt" />
<line x1="1136.00" y1="1677.50" x2="1148.00" y2="1677.50" stroke="#e0261d" stroke-width="4.2" stroke-linecap="butt" />
<line x1="1187.30" y1="1732.50" x2="1187.30" y2="1701.15" stroke="#e0261d" stroke-width="4.2" stroke-linecap="butt" />
<line x1="1181.30" y1="1732.50" x2="1193.30" y2="1732.50" stroke="#e0261d" stroke-width="4.2" stroke-linecap="butt" />
<line x1="1181.30" y1="1701.15" x2="1193.30" y2="1701.15" stroke="#e0261d" stroke-width="4.2" stroke-linecap="butt" />
<line x1="1232.50" y1="1746.25" x2="1232.50" y2="1705.00" stroke="#e0261d" stroke-width="4.2" stroke-linecap="butt" />
<line x1="1226.50" y1="1746.25" x2="1238.50" y2="1746.25" stroke="#e0261d" stroke-width="4.2" stroke-linecap="butt" />
<line x1="1226.50" y1="1705.00" x2="1238.50" y2="1705.00" stroke="#e0261d" stroke-width="4.2" stroke-linecap="butt" />
<line x1="917.00" y1="1757.25" x2="917.00" y2="1658.25" stroke="#2b2b2b" stroke-width="4.2" stroke-linecap="butt" />
<line x1="911.00" y1="1757.25" x2="923.00" y2="1757.25" stroke="#2b2b2b" stroke-width="4.2" stroke-linecap="butt" />
<line x1="911.00" y1="1658.25" x2="923.00" y2="1658.25" stroke="#2b2b2b" stroke-width="4.2" stroke-linecap="butt" />
<line x1="962.30" y1="1761.10" x2="962.30" y2="1725.90" stroke="#2b2b2b" stroke-width="4.2" stroke-linecap="butt" />
<line x1="956.30" y1="1761.10" x2="968.30" y2="1761.10" stroke="#2b2b2b" stroke-width="4.2" stroke-linecap="butt" />
<line x1="956.30" y1="1725.90" x2="968.30" y2="1725.90" stroke="#2b2b2b" stroke-width="4.2" stroke-linecap="butt" />
<line x1="1007.50" y1="1769.90" x2="1007.50" y2="1746.25" stroke="#2b2b2b" stroke-width="4.2" stroke-linecap="butt" />
<line x1="1001.50" y1="1769.90" x2="1013.50" y2="1769.90" stroke="#2b2b2b" stroke-width="4.2" stroke-linecap="butt" />
<line x1="1001.50" y1="1746.25" x2="1013.50" y2="1746.25" stroke="#2b2b2b" stroke-width="4.2" stroke-linecap="butt" />
<line x1="1097.00" y1="1746.25" x2="1097.00" y2="1706.10" stroke="#2b2b2b" stroke-width="4.2" stroke-linecap="butt" />
<line x1="1091.00" y1="1746.25" x2="1103.00" y2="1746.25" stroke="#2b2b2b" stroke-width="4.2" stroke-linecap="butt" />
<line x1="1091.00" y1="1706.10" x2="1103.00" y2="1706.10" stroke="#2b2b2b" stroke-width="4.2" stroke-linecap="butt" />
<line x1="1142.00" y1="1688.50" x2="1142.00" y2="1643.40" stroke="#2b2b2b" stroke-width="4.2" stroke-linecap="butt" />
<line x1="1136.00" y1="1688.50" x2="1148.00" y2="1688.50" stroke="#2b2b2b" stroke-width="4.2" stroke-linecap="butt" />
<line x1="1136.00" y1="1643.40" x2="1148.00" y2="1643.40" stroke="#2b2b2b" stroke-width="4.2" stroke-linecap="butt" />
<line x1="1187.30" y1="1641.75" x2="1187.30" y2="1600.50" stroke="#2b2b2b" stroke-width="4.2" stroke-linecap="butt" />
<line x1="1181.30" y1="1641.75" x2="1193.30" y2="1641.75" stroke="#2b2b2b" stroke-width="4.2" stroke-linecap="butt" />
<line x1="1181.30" y1="1600.50" x2="1193.30" y2="1600.50" stroke="#2b2b2b" stroke-width="4.2" stroke-linecap="butt" />
<line x1="1232.50" y1="1619.75" x2="1232.50" y2="1542.75" stroke="#2b2b2b" stroke-width="4.2" stroke-linecap="butt" />
<line x1="1226.50" y1="1619.75" x2="1238.50" y2="1619.75" stroke="#2b2b2b" stroke-width="4.2" stroke-linecap="butt" />
<line x1="1226.50" y1="1542.75" x2="1238.50" y2="1542.75" stroke="#2b2b2b" stroke-width="4.2" stroke-linecap="butt" />
<line x1="1277.70" y1="1769.90" x2="1277.70" y2="1699.50" stroke="#2b2b2b" stroke-width="4.2" stroke-linecap="butt" />
<line x1="1271.70" y1="1769.90" x2="1283.70" y2="1769.90" stroke="#2b2b2b" stroke-width="4.2" stroke-linecap="butt" />
<line x1="1271.70" y1="1699.50" x2="1283.70" y2="1699.50" stroke="#2b2b2b" stroke-width="4.2" stroke-linecap="butt" />
<circle cx="917.00" cy="1732.50" r="8.20" fill="none" stroke="#e0261d" stroke-width="4.6" />
<circle cx="962.30" cy="1745.15" r="8.20" fill="none" stroke="#e0261d" stroke-width="4.6" />
<circle cx="1007.50" cy="1760.00" r="8.20" fill="none" stroke="#e0261d" stroke-width="4.6" />
<circle cx="1051.80" cy="1760.00" r="8.20" fill="none" stroke="#e0261d" stroke-width="4.6" />
<circle cx="1097.00" cy="1743.50" r="8.20" fill="none" stroke="#e0261d" stroke-width="4.6" />
<circle cx="1142.00" cy="1703.90" r="8.20" fill="none" stroke="#e0261d" stroke-width="4.6" />
<circle cx="1187.30" cy="1717.10" r="8.20" fill="none" stroke="#e0261d" stroke-width="4.6" />
<circle cx="1232.50" cy="1725.90" r="8.20" fill="none" stroke="#e0261d" stroke-width="4.6" />
<circle cx="1277.70" cy="1770.45" r="8.20" fill="none" stroke="#e0261d" stroke-width="4.6" />
<circle cx="1323.00" cy="1770.45" r="8.20" fill="none" stroke="#e0261d" stroke-width="4.6" />
<circle cx="1368.00" cy="1770.45" r="8.20" fill="none" stroke="#e0261d" stroke-width="4.6" />
<polyline points="917.00,1707.75 962.30,1743.50 1007.50,1758.90 1051.80,1762.75 1097.00,1727.00 1142.00,1666.50 1187.30,1619.75 1232.50,1581.25 1277.70,1733.60 1323.00,1766.60 1368.00,1763.85" fill="none" stroke="#2b2b2b" stroke-width="4.6" stroke-linejoin="miter" />
<circle cx="917.00" cy="1707.75" r="8.20" fill="none" stroke="#000" stroke-width="4.6" />
<circle cx="962.30" cy="1743.50" r="8.20" fill="none" stroke="#000" stroke-width="4.6" />
<circle cx="1007.50" cy="1758.90" r="8.20" fill="none" stroke="#000" stroke-width="4.6" />
<circle cx="1051.80" cy="1762.75" r="8.20" fill="none" stroke="#000" stroke-width="4.6" />
<circle cx="1097.00" cy="1727.00" r="8.20" fill="none" stroke="#000" stroke-width="4.6" />
<circle cx="1142.00" cy="1666.50" r="8.20" fill="none" stroke="#000" stroke-width="4.6" />
<circle cx="1187.30" cy="1619.75" r="8.20" fill="none" stroke="#000" stroke-width="4.6" />
<circle cx="1232.50" cy="1581.25" r="8.20" fill="none" stroke="#000" stroke-width="4.6" />
<circle cx="1277.70" cy="1733.60" r="8.20" fill="none" stroke="#000" stroke-width="4.6" />
<circle cx="1323.00" cy="1766.60" r="8.20" fill="none" stroke="#000" stroke-width="4.6" />
<circle cx="1368.00" cy="1763.85" r="8.20" fill="none" stroke="#000" stroke-width="4.6" />
<text  x="935.85" y="1621.00" font-size="14" font-weight="normal" font-style="normal" fill="#000" text-anchor="middle" letter-spacing="1.3" ><tspan >p=0.9919</tspan></text>
<text  x="960.80" y="1655.00" font-size="14" font-weight="normal" font-style="normal" fill="#000" text-anchor="middle" letter-spacing="1.3" ><tspan >p&gt;0.99</tspan></text>
<text  x="1008.35" y="1679.80" font-size="14" font-weight="normal" font-style="normal" fill="#000" text-anchor="middle" letter-spacing="1.3" ><tspan >p&gt;0.99</tspan></text>
<text  x="1052.25" y="1698.80" font-size="14" font-weight="normal" font-style="normal" fill="#000" text-anchor="middle" letter-spacing="1.3" ><tspan >p&gt;0.99</tspan></text>
<text  x="1092.80" y="1658.60" font-size="14" font-weight="normal" font-style="normal" fill="#000" text-anchor="middle" letter-spacing="1.3" ><tspan >p&gt;0.99</tspan></text>
<text  x="1138.30" y="1616.60" font-size="14" font-weight="normal" font-style="normal" fill="#000" text-anchor="middle" letter-spacing="1.3" ><tspan >p=0.9072</tspan></text>
<text  x="1184.65" y="1579.00" font-size="14" font-weight="normal" font-style="normal" fill="#d93a2e" text-anchor="middle" letter-spacing="1.3" ><tspan >p=0.0141</tspan></text>
<text  x="1230.00" y="1519.40" font-size="14" font-weight="normal" font-style="normal" fill="#d93a2e" text-anchor="middle" letter-spacing="1.3" ><tspan >p=0.0019</tspan></text>
<text  x="1291.50" y="1645.00" font-size="14" font-weight="normal" font-style="normal" fill="#000" text-anchor="middle" letter-spacing="1.3" ><tspan >p=0.9114</tspan></text>
<text  x="1324.70" y="1690.20" font-size="14" font-weight="normal" font-style="normal" fill="#000" text-anchor="middle" letter-spacing="1.3" ><tspan >p&gt;0.99</tspan></text>
<text  x="1370.75" y="1722.70" font-size="14" font-weight="normal" font-style="normal" fill="#000" text-anchor="middle" letter-spacing="1.3" ><tspan >p&gt;0.99</tspan></text>
<line x1="1278.60" y1="1539.70" x2="1337.40" y2="1539.70" stroke="#2b2b2b" stroke-width="4.6" stroke-linecap="butt" />
<circle cx="1308.00" cy="1539.70" r="8.20" fill="none" stroke="#000" stroke-width="4.6" />
<line x1="1278.60" y1="1590.80" x2="1337.40" y2="1590.80" stroke="#a6a6a8" stroke-width="4.6" stroke-linecap="butt" />
<circle cx="1308.00" cy="1590.80" r="8.20" fill="none" stroke="#e0261d" stroke-width="4.6" />
<text  x="1372.60" y="1547.40" font-size="24" font-weight="bold" font-style="italic" fill="#000" text-anchor="start" ><tspan >Npm1</tspan><tspan font-size="16.32" dy="-10.08">+/+</tspan></text>
<text  x="1372.60" y="1598.00" font-size="24" font-weight="bold" font-style="italic" fill="#000" text-anchor="start" ><tspan >Npm1</tspan><tspan font-size="16.32" dy="-10.08">fl/fl</tspan></text>
<text  x="1064.00" y="1501.30" font-size="38" font-weight="bold" font-style="italic" fill="#000" text-anchor="middle" ><tspan >Apc</tspan><tspan font-size="25.84" dy="-15.96">fl/fl</tspan></text>
<text transform="translate(821.30,1641.00) rotate(-90)" x="0" y="0" font-size="30.6" font-weight="bold" font-style="normal" fill="#000" text-anchor="middle" ><tspan >tumour number</tspan></text>
<text transform="translate(923.00,1817.00) rotate(-45)" x="0" y="0" font-size="32" font-weight="bold" font-style="normal" fill="#000" text-anchor="end" ><tspan >SI 1</tspan></text>
<text transform="translate(968.30,1817.00) rotate(-45)" x="0" y="0" font-size="32" font-weight="bold" font-style="normal" fill="#000" text-anchor="end" ><tspan >SI 2</tspan></text>
<text transform="translate(1013.50,1817.00) rotate(-45)" x="0" y="0" font-size="32" font-weight="bold" font-style="normal" fill="#000" text-anchor="end" ><tspan >SI 3</tspan></text>
<text transform="translate(1057.80,1817.00) rotate(-45)" x="0" y="0" font-size="32" font-weight="bold" font-style="normal" fill="#000" text-anchor="end" ><tspan >SI 4</tspan></text>
<text transform="translate(1103.00,1817.00) rotate(-45)" x="0" y="0" font-size="32" font-weight="bold" font-style="normal" fill="#000" text-anchor="end" ><tspan >SI 5</tspan></text>
<text transform="translate(1148.00,1817.00) rotate(-45)" x="0" y="0" font-size="32" font-weight="bold" font-style="normal" fill="#000" text-anchor="end" ><tspan >SI 6</tspan></text>
<text transform="translate(1193.30,1817.00) rotate(-45)" x="0" y="0" font-size="32" font-weight="bold" font-style="normal" fill="#000" text-anchor="end" ><tspan >SI 7</tspan></text>
<text transform="translate(1238.50,1817.00) rotate(-45)" x="0" y="0" font-size="32" font-weight="bold" font-style="normal" fill="#000" text-anchor="end" ><tspan >SI 8</tspan></text>
<text transform="translate(1283.70,1817.00) rotate(-45)" x="0" y="0" font-size="32" font-weight="bold" font-style="normal" fill="#000" text-anchor="end" ><tspan >Prox Colon</tspan></text>
<text transform="translate(1329.00,1817.00) rotate(-45)" x="0" y="0" font-size="32" font-weight="bold" font-style="normal" fill="#000" text-anchor="end" ><tspan >Mid Colon</tspan></text>
<text transform="translate(1374.00,1817.00) rotate(-45)" x="0" y="0" font-size="32" font-weight="bold" font-style="normal" fill="#000" text-anchor="end" ><tspan >Rectum</tspan></text>
<line x1="1249.20" y1="2266.20" x2="1249.20" y2="2546.00" stroke="#000" stroke-width="4.6" stroke-linecap="butt" />
<line x1="1246.90" y1="2543.70" x2="1746.70" y2="2543.70" stroke="#000" stroke-width="4.6" stroke-linecap="butt" />
<line x1="1238.20" y1="2268.50" x2="1249.20" y2="2268.50" stroke="#000" stroke-width="4.6" stroke-linecap="butt" />
<text  x="1234.20" y="2280.02" font-size="32" font-weight="bold" font-style="normal" fill="#000" text-anchor="end" ><tspan >50</tspan></text>
<line x1="1238.20" y1="2323.20" x2="1249.20" y2="2323.20" stroke="#000" stroke-width="4.6" stroke-linecap="butt" />
<text  x="1234.20" y="2334.72" font-size="32" font-weight="bold" font-style="normal" fill="#000" text-anchor="end" ><tspan >40</tspan></text>
<line x1="1238.20" y1="2378.30" x2="1249.20" y2="2378.30" stroke="#000" stroke-width="4.6" stroke-linecap="butt" />
<text  x="1234.20" y="2389.82" font-size="32" font-weight="bold" font-style="normal" fill="#000" text-anchor="end" ><tspan >30</tspan></text>
<line x1="1238.20" y1="2433.40" x2="1249.20" y2="2433.40" stroke="#000" stroke-width="4.6" stroke-linecap="butt" />
<text  x="1234.20" y="2444.92" font-size="32" font-weight="bold" font-style="normal" fill="#000" text-anchor="end" ><tspan >20</tspan></text>
<line x1="1238.20" y1="2488.60" x2="1249.20" y2="2488.60" stroke="#000" stroke-width="4.6" stroke-linecap="butt" />
<text  x="1234.20" y="2500.12" font-size="32" font-weight="bold" font-style="normal" fill="#000" text-anchor="end" ><tspan >10</tspan></text>
<line x1="1238.20" y1="2543.70" x2="1249.20" y2="2543.70" stroke="#000" stroke-width="4.6" stroke-linecap="butt" />
<text  x="1234.20" y="2555.22" font-size="32" font-weight="bold" font-style="normal" fill="#000" text-anchor="end" ><tspan >0</tspan></text>
<line x1="1270.00" y1="2543.70" x2="1270.00" y2="2559.70" stroke="#000" stroke-width="4.6" stroke-linecap="butt" />
<line x1="1315.20" y1="2543.70" x2="1315.20" y2="2559.70" stroke="#000" stroke-width="4.6" stroke-linecap="butt" />
<line x1="1360.40" y1="2543.70" x2="1360.40" y2="2559.70" stroke="#000" stroke-width="4.6" stroke-linecap="butt" />
<line x1="1405.60" y1="2543.70" x2="1405.60" y2="2559.70" stroke="#000" stroke-width="4.6" stroke-linecap="butt" />
<line x1="1449.90" y1="2543.70" x2="1449.90" y2="2559.70" stroke="#000" stroke-width="4.6" stroke-linecap="butt" />
<line x1="1495.00" y1="2543.70" x2="1495.00" y2="2559.70" stroke="#000" stroke-width="4.6" stroke-linecap="butt" />
<line x1="1540.20" y1="2543.70" x2="1540.20" y2="2559.70" stroke="#000" stroke-width="4.6" stroke-linecap="butt" />
<line x1="1585.40" y1="2543.70" x2="1585.40" y2="2559.70" stroke="#000" stroke-width="4.6" stroke-linecap="butt" />
<line x1="1630.60" y1="2543.70" x2="1630.60" y2="2559.70" stroke="#000" stroke-width="4.6" stroke-linecap="butt" />
<line x1="1675.80" y1="2543.70" x2="1675.80" y2="2559.70" stroke="#000" stroke-width="4.6" stroke-linecap="butt" />
<line x1="1721.00" y1="2543.70" x2="1721.00" y2="2559.70" stroke="#000" stroke-width="4.6" stroke-linecap="butt" />
<polyline points="1270.00,2531.59 1315.20,2527.19 1360.40,2513.98 1405.60,2529.39 1449.90,2537.10 1495.00,2540.95 1540.20,2540.40 1585.40,2538.20 1630.60,2478.20 1675.80,2454.54 1721.00,2321.89" fill="none" stroke="#a6a6a8" stroke-width="4.6" stroke-linejoin="miter" />
<line x1="1630.60" y1="2485.91" x2="1630.60" y2="2471.05" stroke="#e0261d" stroke-width="4.2" stroke-linecap="butt" />
<line x1="1624.60" y1="2485.91" x2="1636.60" y2="2485.91" stroke="#e0261d" stroke-width="4.2" stroke-linecap="butt" />
<line x1="1624.60" y1="2471.05" x2="1636.60" y2="2471.05" stroke="#e0261d" stroke-width="4.2" stroke-linecap="butt" />
<line x1="1675.80" y1="2469.40" x2="1675.80" y2="2439.12" stroke="#e0261d" stroke-width="4.2" stroke-linecap="butt" />
<line x1="1669.80" y1="2469.40" x2="1681.80" y2="2469.40" stroke="#e0261d" stroke-width="4.2" stroke-linecap="butt" />
<line x1="1669.80" y1="2439.12" x2="1681.80" y2="2439.12" stroke="#e0261d" stroke-width="4.2" stroke-linecap="butt" />
<line x1="1721.00" y1="2342.80" x2="1721.00" y2="2296.02" stroke="#e0261d" stroke-width="4.2" stroke-linecap="butt" />
<line x1="1715.00" y1="2342.80" x2="1727.00" y2="2342.80" stroke="#e0261d" stroke-width="4.2" stroke-linecap="butt" />
<line x1="1715.00" y1="2296.02" x2="1727.00" y2="2296.02" stroke="#e0261d" stroke-width="4.2" stroke-linecap="butt" />
<line x1="1270.00" y1="2499.67" x2="1270.00" y2="2477.65" stroke="#2b2b2b" stroke-width="4.2" stroke-linecap="butt" />
<line x1="1264.00" y1="2499.67" x2="1276.00" y2="2499.67" stroke="#2b2b2b" stroke-width="4.2" stroke-linecap="butt" />
<line x1="1264.00" y1="2477.65" x2="1276.00" y2="2477.65" stroke="#2b2b2b" stroke-width="4.2" stroke-linecap="butt" />
<line x1="1315.20" y1="2480.40" x2="1315.20" y2="2460.04" stroke="#2b2b2b" stroke-width="4.2" stroke-linecap="butt" />
<line x1="1309.20" y1="2480.40" x2="1321.20" y2="2480.40" stroke="#2b2b2b" stroke-width="4.2" stroke-linecap="butt" />
<line x1="1309.20" y1="2460.04" x2="1321.20" y2="2460.04" stroke="#2b2b2b" stroke-width="4.2" stroke-linecap="butt" />
<line x1="1360.40" y1="2458.39" x2="1360.40" y2="2436.37" stroke="#2b2b2b" stroke-width="4.2" stroke-linecap="butt" />
<line x1="1354.40" y1="2458.39" x2="1366.40" y2="2458.39" stroke="#2b2b2b" stroke-width="4.2" stroke-linecap="butt" />
<line x1="1354.40" y1="2436.37" x2="1366.40" y2="2436.37" stroke="#2b2b2b" stroke-width="4.2" stroke-linecap="butt" />
<line x1="1405.60" y1="2483.16" x2="1405.60" y2="2460.04" stroke="#2b2b2b" stroke-width="4.2" stroke-linecap="butt" />
<line x1="1399.60" y1="2483.16" x2="1411.60" y2="2483.16" stroke="#2b2b2b" stroke-width="4.2" stroke-linecap="butt" />
<line x1="1399.60" y1="2460.04" x2="1411.60" y2="2460.04" stroke="#2b2b2b" stroke-width="4.2" stroke-linecap="butt" />
<line x1="1449.90" y1="2499.67" x2="1449.90" y2="2478.75" stroke="#2b2b2b" stroke-width="4.2" stroke-linecap="butt" />
<line x1="1443.90" y1="2499.67" x2="1455.90" y2="2499.67" stroke="#2b2b2b" stroke-width="4.2" stroke-linecap="butt" />
<line x1="1443.90" y1="2478.75" x2="1455.90" y2="2478.75" stroke="#2b2b2b" stroke-width="4.2" stroke-linecap="butt" />
<line x1="1630.60" y1="2403.35" x2="1630.60" y2="2348.31" stroke="#2b2b2b" stroke-width="4.2" stroke-linecap="butt" />
<line x1="1624.60" y1="2403.35" x2="1636.60" y2="2403.35" stroke="#2b2b2b" stroke-width="4.2" stroke-linecap="butt" />
<line x1="1624.60" y1="2348.31" x2="1636.60" y2="2348.31" stroke="#2b2b2b" stroke-width="4.2" stroke-linecap="butt" />
<line x1="1675.80" y1="2466.64" x2="1675.80" y2="2433.62" stroke="#2b2b2b" stroke-width="4.2" stroke-linecap="butt" />
<line x1="1669.80" y1="2466.64" x2="1681.80" y2="2466.64" stroke="#2b2b2b" stroke-width="4.2" stroke-linecap="butt" />
<line x1="1669.80" y1="2433.62" x2="1681.80" y2="2433.62" stroke="#2b2b2b" stroke-width="4.2" stroke-linecap="butt" />
<line x1="1721.00" y1="2348.31" x2="1721.00" y2="2283.91" stroke="#2b2b2b" stroke-width="4.2" stroke-linecap="butt" />
<line x1="1715.00" y1="2348.31" x2="1727.00" y2="2348.31" stroke="#2b2b2b" stroke-width="4.2" stroke-linecap="butt" />
<line x1="1715.00" y1="2283.91" x2="1727.00" y2="2283.91" stroke="#2b2b2b" stroke-width="4.2" stroke-linecap="butt" />
<circle cx="1270.00" cy="2531.59" r="8.20" fill="none" stroke="#e0261d" stroke-width="4.6" />
<circle cx="1315.20" cy="2527.19" r="8.20" fill="none" stroke="#e0261d" stroke-width="4.6" />
<circle cx="1360.40" cy="2513.98" r="8.20" fill="none" stroke="#e0261d" stroke-width="4.6" />
<circle cx="1405.60" cy="2529.39" r="8.20" fill="none" stroke="#e0261d" stroke-width="4.6" />
<circle cx="1449.90" cy="2537.10" r="8.20" fill="none" stroke="#e0261d" stroke-width="4.6" />
<circle cx="1495.00" cy="2540.95" r="8.20" fill="none" stroke="#e0261d" stroke-width="4.6" />
<circle cx="1540.20" cy="2540.40" r="8.20" fill="none" stroke="#e0261d" stroke-width="4.6" />
<circle cx="1585.40" cy="2538.20" r="8.20" fill="none" stroke="#e0261d" stroke-width="4.6" />
<circle cx="1630.60" cy="2478.20" r="8.20" fill="none" stroke="#e0261d" stroke-width="4.6" />
<circle cx="1675.80" cy="2454.54" r="8.20" fill="none" stroke="#e0261d" stroke-width="4.6" />
<circle cx="1721.00" cy="2321.89" r="8.20" fill="none" stroke="#e0261d" stroke-width="4.6" />
<polyline points="1270.00,2488.66 1315.20,2470.50 1360.40,2447.38 1405.60,2472.15 1449.90,2489.76 1495.00,2510.68 1540.20,2513.43 1585.40,2517.83 1630.60,2375.83 1675.80,2447.38 1721.00,2316.94" fill="none" stroke="#2b2b2b" stroke-width="4.6" stroke-linejoin="miter" />
<circle cx="1270.00" cy="2488.66" r="8.20" fill="none" stroke="#000" stroke-width="4.6" />
<circle cx="1315.20" cy="2470.50" r="8.20" fill="none" stroke="#000" stroke-width="4.6" />
<circle cx="1360.40" cy="2447.38" r="8.20" fill="none" stroke="#000" stroke-width="4.6" />
<circle cx="1405.60" cy="2472.15" r="8.20" fill="none" stroke="#000" stroke-width="4.6" />
<circle cx="1449.90" cy="2489.76" r="8.20" fill="none" stroke="#000" stroke-width="4.6" />
<circle cx="1495.00" cy="2510.68" r="8.20" fill="none" stroke="#000" stroke-width="4.6" />
<circle cx="1540.20" cy="2513.43" r="8.20" fill="none" stroke="#000" stroke-width="4.6" />
<circle cx="1585.40" cy="2517.83" r="8.20" fill="none" stroke="#000" stroke-width="4.6" />
<circle cx="1630.60" cy="2375.83" r="8.20" fill="none" stroke="#000" stroke-width="4.6" />
<circle cx="1675.80" cy="2447.38" r="8.20" fill="none" stroke="#000" stroke-width="4.6" />
<circle cx="1721.00" cy="2316.94" r="8.20" fill="none" stroke="#000" stroke-width="4.6" />
<text  x="1286.50" y="2450.50" font-size="14" font-weight="normal" font-style="normal" fill="#000" text-anchor="middle" letter-spacing="1.3" ><tspan >p=0.1732</tspan></text>
<text  x="1315.20" y="2415.70" font-size="14" font-weight="normal" font-style="normal" fill="#d93a2e" text-anchor="middle" letter-spacing="1.3" ><tspan >p=0.0189</tspan></text>
<text  x="1360.40" y="2364.60" font-size="14" font-weight="normal" font-style="normal" fill="#d93a2e" text-anchor="middle" letter-spacing="1.3" ><tspan >p=0.0019</tspan></text>
<text  x="1403.55" y="2418.00" font-size="14" font-weight="normal" font-style="normal" fill="#d93a2e" text-anchor="middle" letter-spacing="1.3" ><tspan >p=0.015</tspan></text>
<text  x="1452.40" y="2437.00" font-size="14" font-weight="normal" font-style="normal" fill="#000" text-anchor="middle" letter-spacing="1.3" ><tspan >p=0.0763</tspan></text>
<text  x="1490.90" y="2461.80" font-size="14" font-weight="normal" font-style="normal" fill="#000" text-anchor="middle" letter-spacing="1.3" ><tspan >p=0.646</tspan></text>
<text  x="1540.50" y="2479.80" font-size="14" font-weight="normal" font-style="normal" fill="#000" text-anchor="middle" letter-spacing="1.3" ><tspan >p=0.7916</tspan></text>
<text  x="1585.50" y="2493.40" font-size="14" font-weight="normal" font-style="normal" fill="#000" text-anchor="middle" letter-spacing="1.3" ><tspan >p=0.9481</tspan></text>
<text  x="1632.90" y="2321.70" font-size="14" font-weight="normal" font-style="normal" fill="#d93a2e" text-anchor="middle" letter-spacing="1.3" ><tspan >p=1.6e-07</tspan></text>
<text  x="1670.50" y="2380.40" font-size="14" font-weight="normal" font-style="normal" fill="#000" text-anchor="middle" letter-spacing="1.3" ><tspan >p&gt;0.99</tspan></text>
<text  x="1720.50" y="2267.50" font-size="14" font-weight="normal" font-style="normal" fill="#000" text-anchor="middle" letter-spacing="1.3" ><tspan >p&gt;0.99</tspan></text>
<line x1="1703.80" y1="2476.20" x2="1762.60" y2="2476.20" stroke="#2b2b2b" stroke-width="4.6" stroke-linecap="butt" />
<circle cx="1733.20" cy="2476.20" r="8.20" fill="none" stroke="#000" stroke-width="4.6" />
<line x1="1703.80" y1="2513.70" x2="1762.60" y2="2513.70" stroke="#a6a6a8" stroke-width="4.6" stroke-linecap="butt" />
<circle cx="1733.20" cy="2513.70" r="8.20" fill="none" stroke="#e0261d" stroke-width="4.6" />
<text  x="1797.40" y="2484.40" font-size="24" font-weight="bold" font-style="italic" fill="#000" text-anchor="start" ><tspan >Npm1</tspan><tspan font-size="16.32" dy="-10.08">+/+</tspan></text>
<text  x="1797.40" y="2521.40" font-size="24" font-weight="bold" font-style="italic" fill="#000" text-anchor="start" ><tspan >Npm1</tspan><tspan font-size="16.32" dy="-10.08">fl/fl</tspan></text>
<text  x="1449.00" y="2254.00" font-size="38" font-weight="bold" font-style="italic" fill="#000" text-anchor="middle" ><tspan >Apc</tspan><tspan font-size="25.84" dy="-15.96">fl/+</tspan><tspan dy="15.96"> Kras</tspan><tspan font-size="25.84" dy="-15.96">G12D/+</tspan></text>
<text transform="translate(1180.60,2412.00) rotate(-90)" x="0" y="0" font-size="30.6" font-weight="bold" font-style="normal" fill="#000" text-anchor="middle" ><tspan >tumour number</tspan></text>
<text transform="translate(1276.00,2589.70) rotate(-45)" x="0" y="0" font-size="32" font-weight="bold" font-style="normal" fill="#000" text-anchor="end" ><tspan >SI 1</tspan></text>
<text transform="translate(1321.20,2589.70) rotate(-45)" x="0" y="0" font-size="32" font-weight="bold" font-style="normal" fill="#000" text-anchor="end" ><tspan >SI 2</tspan></text>
<text transform="translate(1366.40,2589.70) rotate(-45)" x="0" y="0" font-size="32" font-weight="bold" font-style="normal" fill="#000" text-anchor="end" ><tspan >SI 3</tspan></text>
<text transform="translate(1411.60,2589.70) rotate(-45)" x="0" y="0" font-size="32" font-weight="bold" font-style="normal" fill="#000" text-anchor="end" ><tspan >SI 4</tspan></text>
<text transform="translate(1455.90,2589.70) rotate(-45)" x="0" y="0" font-size="32" font-weight="bold" font-style="normal" fill="#000" text-anchor="end" ><tspan >SI 5</tspan></text>
<text transform="translate(1501.00,2589.70) rotate(-45)" x="0" y="0" font-size="32" font-weight="bold" font-style="normal" fill="#000" text-anchor="end" ><tspan >SI 6</tspan></text>
<text transform="translate(1546.20,2589.70) rotate(-45)" x="0" y="0" font-size="32" font-weight="bold" font-style="normal" fill="#000" text-anchor="end" ><tspan >SI 7</tspan></text>
<text transform="translate(1591.40,2589.70) rotate(-45)" x="0" y="0" font-size="32" font-weight="bold" font-style="normal" fill="#000" text-anchor="end" ><tspan >SI 8</tspan></text>
<text transform="translate(1636.60,2589.70) rotate(-45)" x="0" y="0" font-size="32" font-weight="bold" font-style="normal" fill="#000" text-anchor="end" ><tspan >Prox Colon</tspan></text>
<text transform="translate(1681.80,2589.70) rotate(-45)" x="0" y="0" font-size="32" font-weight="bold" font-style="normal" fill="#000" text-anchor="end" ><tspan >Mid Colon</tspan></text>
<text transform="translate(1727.00,2589.70) rotate(-45)" x="0" y="0" font-size="32" font-weight="bold" font-style="normal" fill="#000" text-anchor="end" ><tspan >Rectum</tspan></text>
<text  x="415.50" y="2030.40" font-size="39" font-weight="bold" font-style="italic" fill="#000" text-anchor="middle" ><tspan >Apc</tspan><tspan font-size="25.74" dy="-16.38">fl/fl</tspan><tspan dy="16.38">Kras</tspan><tspan font-size="25.74" dy="-16.38">G12D/+</tspan></text>
<text  x="424.50" y="2711.00" font-size="29" font-weight="bold" font-style="italic" fill="#e0261d" text-anchor="middle" ><tspan >Olfm4</tspan></text>
<text transform="translate(88.10,2212.00) rotate(-90)" x="0" y="0" font-size="39" font-weight="normal" font-style="italic" fill="#000" text-anchor="middle" ><tspan >Npm1</tspan><tspan font-size="22.62" dy="-12.48">+/+</tspan></text>
<text transform="translate(88.10,2513.80) rotate(-90)" x="0" y="0" font-size="39" font-weight="normal" font-style="italic" fill="#000" text-anchor="middle" ><tspan >Npm1</tspan><tspan font-size="22.62" dy="-12.48">fl/fl</tspan></text>
<rect x="922.90" y="2331.50" width="42.10" height="231.00" fill="none" stroke="#666" stroke-width="8" />
<rect x="999.30" y="2348.60" width="43.60" height="213.90" fill="none" stroke="#d4d4d4" stroke-width="8" />
<line x1="892.60" y1="2203.50" x2="892.60" y2="2566.70" stroke="#000" stroke-width="4.5" stroke-linecap="butt" />
<line x1="890.40" y1="2564.50" x2="1074.80" y2="2564.50" stroke="#000" stroke-width="4.5" stroke-linecap="butt" />
<line x1="881.60" y1="2207.40" x2="892.60" y2="2207.40" stroke="#000" stroke-width="4.5" stroke-linecap="butt" />
<text  x="871.60" y="2218.56" font-size="31" font-weight="bold" font-style="normal" fill="#000" text-anchor="end" ><tspan >0.06</tspan></text>
<line x1="881.60" y1="2326.60" x2="892.60" y2="2326.60" stroke="#000" stroke-width="4.5" stroke-linecap="butt" />
<text  x="871.60" y="2337.76" font-size="31" font-weight="bold" font-style="normal" fill="#000" text-anchor="end" ><tspan >0.04</tspan></text>
<line x1="881.60" y1="2445.40" x2="892.60" y2="2445.40" stroke="#000" stroke-width="4.5" stroke-linecap="butt" />
<text  x="871.60" y="2456.56" font-size="31" font-weight="bold" font-style="normal" fill="#000" text-anchor="end" ><tspan >0.02</tspan></text>
<line x1="881.60" y1="2564.50" x2="892.60" y2="2564.50" stroke="#000" stroke-width="4.5" stroke-linecap="butt" />
<text  x="871.60" y="2575.66" font-size="31" font-weight="bold" font-style="normal" fill="#000" text-anchor="end" ><tspan >0.00</tspan></text>
<line x1="944.10" y1="2564.50" x2="944.10" y2="2580.00" stroke="#000" stroke-width="4.5" stroke-linecap="butt" />
<line x1="1020.60" y1="2564.50" x2="1020.60" y2="2580.00" stroke="#000" stroke-width="4.5" stroke-linecap="butt" />
<text transform="translate(793.50,2392.00) rotate(-90)" x="0" y="0" font-size="30.3" font-weight="bold" font-style="normal" fill="#000" text-anchor="middle" ><tspan font-style="italic">Olfm4</tspan><tspan > copies per µm</tspan><tspan font-size="18.18" dy="-12.73">2</tspan></text>
<line x1="944.10" y1="2313.40" x2="944.10" y2="2340.00" stroke="#333" stroke-width="4" stroke-linecap="butt" />
<line x1="937.40" y1="2313.40" x2="950.80" y2="2313.40" stroke="#333" stroke-width="4" stroke-linecap="butt" />
<line x1="1020.60" y1="2321.60" x2="1020.60" y2="2366.00" stroke="#c8c8c8" stroke-width="4" stroke-linecap="butt" />
<line x1="1013.90" y1="2321.60" x2="1027.30" y2="2321.60" stroke="#c8c8c8" stroke-width="4" stroke-linecap="butt" />
<line x1="1013.90" y1="2366.00" x2="1027.30" y2="2366.00" stroke="#c8c8c8" stroke-width="4" stroke-linecap="butt" />
<circle cx="943.50" cy="2292.00" r="8.60" fill="none" stroke="#000" stroke-width="4.8" />
<circle cx="927.00" cy="2333.00" r="8.60" fill="none" stroke="#000" stroke-width="4.8" />
<circle cx="960.00" cy="2333.00" r="8.60" fill="none" stroke="#000" stroke-width="4.8" />
<circle cx="943.50" cy="2349.50" r="8.60" fill="none" stroke="#000" stroke-width="4.8" />
<circle cx="1033.70" cy="2302.00" r="8.60" fill="none" stroke="#e0261d" stroke-width="4.8" />
<circle cx="1008.50" cy="2321.00" r="8.60" fill="none" stroke="#e0261d" stroke-width="4.8" />
<circle cx="1021.60" cy="2350.50" r="8.60" fill="none" stroke="#e0261d" stroke-width="4.8" />
<circle cx="1020.60" cy="2400.40" r="8.60" fill="none" stroke="#e0261d" stroke-width="4.8" />
<path d="M943.50,2262.60 L943.50,2241.20 L1022.90,2241.20 L1022.90,2275.00" fill="none" stroke="#000" stroke-width="8.3" stroke-linejoin="miter"/>
<text  x="983.30" y="2229.00" font-size="20.5" font-weight="normal" font-style="normal" fill="#000" text-anchor="middle" letter-spacing="2.0" ><tspan >p=0.5042</tspan></text>
<text  x="981.50" y="2138.50" font-size="39" font-weight="bold" font-style="italic" fill="#000" text-anchor="middle" ><tspan >Apc</tspan><tspan font-size="25.74" dy="-16.38">fl/fl</tspan><tspan dy="16.38">Kras</tspan><tspan font-size="25.74" dy="-16.38">G12D/+</tspan></text>
<text transform="translate(949.00,2610.00) rotate(-45)" x="0" y="0" font-size="30" font-weight="bold" font-style="italic" fill="#000" text-anchor="end" ><tspan >Npm1</tspan><tspan font-size="19.80" dy="-12.60">+/+</tspan></text>
<text transform="translate(1026.00,2610.00) rotate(-45)" x="0" y="0" font-size="30" font-weight="bold" font-style="italic" fill="#000" text-anchor="end" ><tspan >Npm1</tspan><tspan font-size="19.80" dy="-12.60">fl/fl</tspan></text>
</svg>
</body></html>
